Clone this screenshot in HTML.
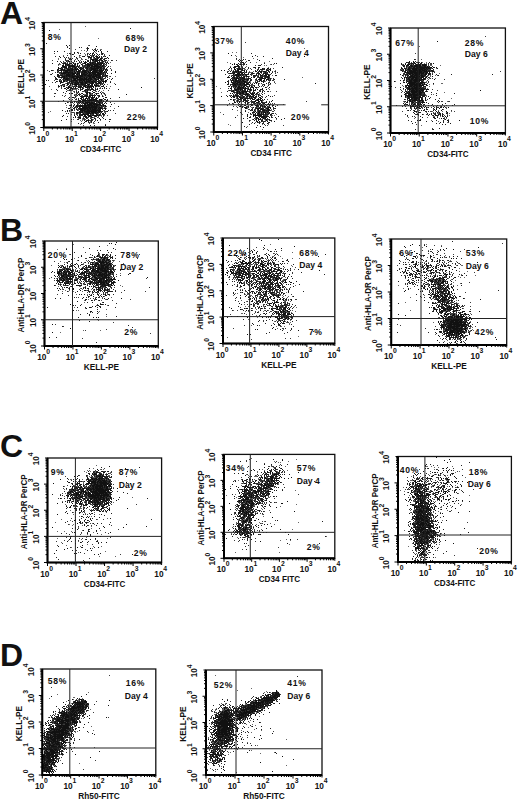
<!DOCTYPE html>
<html><head><meta charset="utf-8"><style>
html,body{margin:0;padding:0;background:#fff;width:520px;height:800px;overflow:hidden}
svg{display:block}
text{font-family:"Liberation Sans", sans-serif;fill:#111}
</style></head><body>
<svg width="520" height="800" viewBox="0 0 520 800">
<rect width="520" height="800" fill="#fff"/>
<g>
<g fill="none" stroke-width="1"><path d="M0 0.5m85 26h1m-27 3h1m38 9h1m-11 7h1m-3 3h1m8 0h1m4 1h1m0 0h1m-21 1h1m2 0h1m10 0h1m-10 1h1m9 0h1m-19 1h1m16 0h1m-29 1h1m16 0h1m3 0h1m14 0h1m-34 1h1m14 0h1m6 0h1m-30 1h1m3 0h1m12 0h1m4 0h1m1 0h1m2 0h1m0 0h1m2 0h1m-16 1h1m7 0h1m4 0h1m8 0h1m2 0h1m-26 1h1m0 0h1m9 0h1m3 0h1m2 0h1m0 0h1m3 0h1m-45 1h1m9 0h1m0 0h1m6 0h1m11 0h1m1 0h1m2 0h1m0 0h1m1 0h1m1 0h1m1 0h1m1 0h1m2 0h1m-48 1h1m18 0h1m3 0h1m0 0h1m3 0h1m4 0h1m1 0h1m1 0h1m0 0h1m0 0h1m1 0h1m-35 1h1m1 0h1m12 0h1m9 0h1m6 0h1m2 0h1m0 0h1m0 0h1m1 0h1m3 0h1m-42 1h1m19 0h1m4 0h1m0 0h1m2 0h1m2 0h1m1 0h1m2 0h1m2 0h1m-45 1h1m0 0h1m4 0h1m10 0h1m0 0h1m8 0h1m0 0h1m1 0h1m0 0h1m0 0h1m3 0h1m2 0h1m0 0h1m2 0h1m3 0h1m-48 1h1m1 0h1m0 0h1m7 0h1m5 0h1m1 0h1m6 0h1m0 0h1m0 0h1m0 0h1m0 0h1m1 0h1m0 0h1m0 0h1m0 0h1m0 0h1m2 0h1m-44 1h1m0 0h1m2 0h1m1 0h1m6 0h1m1 0h1m2 0h1m9 0h1m0 0h1m1 0h1m4 0h1m1 0h1m0 0h1m2 0h1m1 0h1m0 0h1m1 0h1m-49 1h1m6 0h1m5 0h1m2 0h1m0 0h1m6 0h1m0 0h1m0 0h1m1 0h1m2 0h1m2 0h1m0 0h1m0 0h1m0 0h1m0 0h1m1 0h1m0 0h1m0 0h1m0 0h1m0 0h1m0 0h1m-40 1h1m1 0h1m1 0h1m0 0h1m2 0h1m1 0h1m2 0h1m6 0h1m1 0h1m0 0h1m1 0h1m0 0h1m0 0h1m0 0h1m0 0h1m0 0h1m0 0h1m0 0h1m0 0h1m0 0h1m0 0h1m0 0h1m1 0h1m2 0h1m4 0h1m-48 1h1m1 0h1m2 0h1m0 0h1m0 0h1m2 0h1m1 0h1m0 0h1m2 0h1m2 0h1m1 0h1m0 0h1m1 0h1m4 0h1m1 0h1m0 0h1m1 0h1m1 0h1m0 0h1m1 0h1m0 0h1m-38 1h1m0 0h1m2 0h1m0 0h1m1 0h1m0 0h1m0 0h1m3 0h1m0 0h1m4 0h1m1 0h1m0 0h1m0 0h1m0 0h1m0 0h1m0 0h1m0 0h1m0 0h1m0 0h1m0 0h1m0 0h1m0 0h1m0 0h1m0 0h1m0 0h1m4 0h1m-47 1h1m1 0h1m0 0h1m0 0h1m0 0h1m0 0h1m0 0h1m0 0h1m1 0h1m0 0h1m0 0h1m0 0h1m1 0h1m1 0h1m2 0h1m0 0h1m0 0h1m0 0h1m0 0h1m4 0h1m0 0h1m3 0h1m0 0h1m1 0h1m0 0h1m0 0h1m0 0h1m0 0h1m0 0h1m1 0h1m1 0h1m0 0h1m3 0h1m-65 1h1m5 0h1m7 0h1m3 0h1m2 0h1m0 0h1m0 0h1m0 0h1m0 0h1m0 0h1m0 0h1m0 0h1m2 0h1m1 0h1m2 0h1m1 0h1m0 0h1m0 0h1m0 0h1m0 0h1m0 0h1m0 0h1m0 0h1m0 0h1m0 0h1m0 0h1m3 0h1m5 0h1m0 0h1m-44 1h1m0 0h1m0 0h1m0 0h1m0 0h1m0 0h1m1 0h1m1 0h1m2 0h1m2 0h1m0 0h1m5 0h1m0 0h1m0 0h1m0 0h1m0 0h1m2 0h1m0 0h1m1 0h1m0 0h1m0 0h1m0 0h1m1 0h1m0 0h1m3 0h1m-48 1h1m1 0h1m1 0h1m0 0h1m0 0h1m1 0h1m1 0h1m1 0h1m0 0h1m0 0h1m0 0h1m0 0h1m0 0h1m0 0h1m0 0h1m1 0h1m0 0h1m3 0h1m1 0h1m0 0h1m0 0h1m0 0h1m0 0h1m0 0h1m0 0h1m0 0h1m3 0h1m0 0h1m0 0h1m0 0h1m0 0h1m1 0h1m-52 1h1m7 0h1m0 0h1m0 0h1m0 0h1m0 0h1m0 0h1m1 0h1m0 0h1m1 0h1m0 0h1m0 0h1m0 0h1m1 0h1m0 0h1m0 0h1m0 0h1m2 0h1m1 0h1m1 0h1m1 0h1m0 0h1m0 0h1m1 0h1m0 0h1m0 0h1m0 0h1m0 0h1m0 0h1m0 0h1m1 0h1m1 0h1m0 0h1m1 0h1m-45 1h1m4 0h1m0 0h1m0 0h1m0 0h1m0 0h1m0 0h1m0 0h1m0 0h1m0 0h1m0 0h1m2 0h1m0 0h1m0 0h1m1 0h1m0 0h1m0 0h1m1 0h1m0 0h1m0 0h1m0 0h1m0 0h1m0 0h1m1 0h1m0 0h1m0 0h1m1 0h1m0 0h1m0 0h1m0 0h1m1 0h1m0 0h1m1 0h1m-42 1h1m0 0h1m0 0h1m2 0h1m0 0h1m0 0h1m0 0h1m1 0h1m0 0h1m1 0h1m0 0h1m0 0h1m1 0h1m0 0h1m0 0h1m0 0h1m0 0h1m1 0h1m0 0h1m0 0h1m0 0h1m0 0h1m0 0h1m0 0h1m0 0h1m0 0h1m0 0h1m0 0h1m1 0h1m0 0h1m0 0h1m4 0h1m-48 1h1m2 0h1m0 0h1m0 0h1m0 0h1m0 0h1m0 0h1m1 0h1m0 0h1m0 0h1m1 0h1m0 0h1m0 0h1m1 0h1m0 0h1m0 0h1m0 0h1m0 0h1m0 0h1m0 0h1m0 0h1m0 0h1m0 0h1m0 0h1m0 0h1m2 0h1m2 0h1m0 0h1m0 0h1m0 0h1m0 0h1m1 0h1m1 0h1m5 0h1m1 0h1m5 0h1m-57 1h1m0 0h1m2 0h1m0 0h1m0 0h1m0 0h1m0 0h1m0 0h1m1 0h1m1 0h1m0 0h1m0 0h1m0 0h1m0 0h1m0 0h1m0 0h1m0 0h1m1 0h1m0 0h1m0 0h1m0 0h1m0 0h1m1 0h1m0 0h1m0 0h1m0 0h1m1 0h1m1 0h1m0 0h1m1 0h1m2 0h1m0 0h1m-41 1h1m2 0h1m0 0h1m0 0h1m0 0h1m1 0h1m3 0h1m0 0h1m0 0h1m0 0h1m0 0h1m0 0h1m0 0h1m1 0h1m0 0h1m0 0h1m0 0h1m0 0h1m3 0h1m1 0h1m0 0h1m0 0h1m0 0h1m1 0h1m1 0h1m3 0h1m0 0h1m1 0h1m3 0h1m-51 1h1m2 0h1m3 0h1m0 0h1m0 0h1m1 0h1m1 0h1m2 0h1m0 0h1m0 0h1m0 0h1m0 0h1m1 0h1m0 0h1m0 0h1m0 0h1m0 0h1m1 0h1m0 0h1m1 0h1m0 0h1m0 0h1m1 0h1m0 0h1m0 0h1m3 0h1m0 0h1m1 0h1m-44 1h1m2 0h1m2 0h1m0 0h1m0 0h1m1 0h1m2 0h1m0 0h1m2 0h1m1 0h1m0 0h1m0 0h1m0 0h1m2 0h1m0 0h1m0 0h1m0 0h1m0 0h1m1 0h1m2 0h1m1 0h1m3 0h1m0 0h1m-39 1h1m1 0h1m1 0h1m1 0h1m0 0h1m0 0h1m4 0h1m0 0h1m0 0h1m3 0h1m0 0h1m8 0h1m0 0h1m2 0h1m0 0h1m0 0h1m0 0h1m1 0h1m-42 1h1m1 0h1m0 0h1m3 0h1m12 0h1m0 0h1m0 0h1m0 0h1m0 0h1m0 0h1m0 0h1m0 0h1m2 0h1m0 0h1m4 0h1m1 0h1m4 0h1m1 0h1m-41 1h1m2 0h1m0 0h1m1 0h1m1 0h1m1 0h1m3 0h1m4 0h1m0 0h1m2 0h1m1 0h1m0 0h1m0 0h1m3 0h1m0 0h1m0 0h1m1 0h1m13 0h1m-51 1h1m2 0h1m4 0h1m1 0h1m0 0h1m1 0h1m0 0h1m0 0h1m0 0h1m0 0h1m0 0h1m0 0h1m1 0h1m1 0h1m0 0h1m3 0h1m1 0h1m0 0h1m1 0h1m0 0h1m2 0h1m5 0h1m-48 1h1m1 0h1m0 0h1m2 0h1m5 0h1m1 0h1m0 0h1m3 0h1m2 0h1m1 0h1m0 0h1m1 0h1m6 0h1m1 0h1m2 0h1m0 0h1m-52 1h1m19 0h1m4 0h1m1 0h1m0 0h1m5 0h1m2 0h1m0 0h1m1 0h1m1 0h1m0 0h1m3 0h1m0 0h1m12 0h1m-53 1h1m8 0h1m3 0h1m7 0h1m3 0h1m1 0h1m0 0h1m8 0h1m4 0h1m-37 1h1m5 0h1m9 0h1m2 0h1m4 0h1m8 0h1m1 0h1m0 0h1m1 0h1m6 0h1m-59 1h1m17 0h1m3 0h1m0 0h1m0 0h1m0 0h1m4 0h1m3 0h1m2 0h1m1 0h1m0 0h1m0 0h1m0 0h1m2 0h1m-30 1h1m0 0h1m2 0h1m0 0h1m12 0h1m0 0h1m1 0h1m0 0h1m13 0h1m-31 1h1m9 0h1m0 0h1m1 0h1m0 0h1m7 0h1m5 0h1m-28 1h1m2 0h1m7 0h1m0 0h1m2 0h1m0 0h1m2 0h1m9 0h1m-28 1h1m0 0h1m13 0h1m3 0h1m0 0h1m6 0h1m-30 1h1m0 0h1m0 0h1m7 0h1m0 0h1m3 0h1m0 0h1m0 0h1m0 0h1m8 0h1m2 0h1m0 0h1m-31 1h1m0 0h1m2 0h1m1 0h1m7 0h1m1 0h1m-16 1h1m6 0h1m1 0h1m2 0h1m14 0h1m-30 1h1m6 0h1m7 0h1m0 0h1m2 0h1m0 0h1m1 0h1m1 0h1m-25 1h1m1 0h1m3 0h1m5 0h1m2 0h1m2 0h1m3 0h1m-19 1h1m2 0h1m1 0h1m0 0h1m3 0h1m1 0h1m1 0h1m1 0h1m0 0h1m3 0h1m2 0h1m-32 1h1m6 0h1m4 0h1m0 0h1m3 0h1m6 0h1m1 0h1m0 0h1m2 0h1m0 0h1m0 0h1m-46 1h1m16 0h1m0 0h1m0 0h1m0 0h1m2 0h1m0 0h1m0 0h1m2 0h1m0 0h1m0 0h1m0 0h1m0 0h1m1 0h1m0 0h1m1 0h1m1 0h1m0 0h1m0 0h1m-32 1h1m8 0h1m1 0h1m0 0h1m0 0h1m1 0h1m0 0h1m2 0h1m0 0h1m0 0h1m0 0h1m1 0h1m0 0h1m0 0h1m2 0h1m4 0h1m-30 1h1m4 0h1m3 0h1m1 0h1m0 0h1m0 0h1m0 0h1m0 0h1m1 0h1m0 0h1m0 0h1m0 0h1m0 0h1m0 0h1m1 0h1m0 0h1m15 0h1m-44 1h1m6 0h1m1 0h1m1 0h1m2 0h1m0 0h1m1 0h1m0 0h1m0 0h1m0 0h1m0 0h1m0 0h1m1 0h1m1 0h1m0 0h1m-33 1h1m7 0h1m3 0h1m2 0h1m0 0h1m1 0h1m0 0h1m0 0h1m0 0h1m1 0h1m0 0h1m0 0h1m0 0h1m0 0h1m0 0h1m0 0h1m0 0h1m0 0h1m0 0h1m-28 1h1m5 0h1m1 0h1m0 0h1m3 0h1m1 0h1m0 0h1m0 0h1m0 0h1m0 0h1m1 0h1m0 0h1m1 0h1m0 0h1m0 0h1m0 0h1m0 0h1m0 0h1m1 0h1m0 0h1m0 0h1m-39 1h1m5 0h1m3 0h1m3 0h1m1 0h1m1 0h1m0 0h1m0 0h1m0 0h1m0 0h1m1 0h1m0 0h1m0 0h1m0 0h1m0 0h1m2 0h1m2 0h1m0 0h1m0 0h1m2 0h1m-27 1h1m1 0h1m2 0h1m2 0h1m0 0h1m0 0h1m0 0h1m0 0h1m0 0h1m0 0h1m0 0h1m0 0h1m1 0h1m1 0h1m0 0h1m1 0h1m0 0h1m2 0h1m7 0h1m-43 1h1m1 0h1m2 0h1m0 0h1m0 0h1m0 0h1m0 0h1m1 0h1m0 0h1m0 0h1m0 0h1m1 0h1m0 0h1m0 0h1m0 0h1m0 0h1m1 0h1m0 0h1m0 0h1m0 0h1m0 0h1m0 0h1m-26 1h1m3 0h1m1 0h1m0 0h1m1 0h1m0 0h1m0 0h1m0 0h1m0 0h1m0 0h1m0 0h1m0 0h1m0 0h1m0 0h1m0 0h1m1 0h1m0 0h1m0 0h1m0 0h1m1 0h1m2 0h1m-54 1h1m18 0h1m13 0h1m1 0h1m1 0h1m0 0h1m1 0h1m0 0h1m0 0h1m0 0h1m0 0h1m0 0h1m0 0h1m3 0h1m-53 1h1m22 0h1m2 0h1m2 0h1m0 0h1m3 0h1m0 0h1m0 0h1m0 0h1m0 0h1m0 0h1m0 0h1m1 0h1m0 0h1m0 0h1m0 0h1m0 0h1m1 0h1m2 0h1m0 0h1m3 0h1m0 0h1m-30 1h1m0 0h1m0 0h1m3 0h1m3 0h1m0 0h1m0 0h1m2 0h1m1 0h1m0 0h1m0 0h1m0 0h1m1 0h1m1 0h1m-30 1h1m4 0h1m0 0h1m1 0h1m3 0h1m0 0h1m1 0h1m3 0h1m0 0h1m0 0h1m0 0h1m4 0h1m-18 1h1m0 0h1m2 0h1m2 0h1m0 0h1m0 0h1m0 0h1m0 0h1m0 0h1m1 0h1m0 0h1m0 0h1m2 0h1m0 0h1m2 0h1m-27 1h1m6 0h1m4 0h1m0 0h1m3 0h1m5 0h1m-25 1h1m10 0h1m1 0h1m0 0h1m1 0h1m0 0h1m3 0h1m-21 1h1m3 0h1m3 0h1m3 0h1m0 0h1m-19 1h1m8 0h1m0 0h1m1 0h1m5 0h1m1 0h1m-14 1h1m1 0h1m12 0h1m4 0h1m-30 1h1m9 0h1m8 0h1m-2 1h1m0 0h1m-10 1h1m11 0h1m0 0h1m-15 1h1" stroke="#666"/><path d="M0 0.5m89 45h1m-23 1h1m13 1h1m13 1h1m-21 1h1m16 0h1m1 0h1m2 0h1m-21 3h1m15 0h1m-40 1h1m15 0h1m7 0h1m8 0h1m4 0h1m8 0h1m-29 1h1m27 0h1m0 0h1m1 0h1m-26 1h1m10 0h1m1 0h1m0 0h1m2 0h1m1 0h1m5 0h1m-42 1h1m18 0h1m4 0h1m5 0h1m1 0h1m0 0h1m0 0h1m-32 1h1m1 0h1m21 0h1m2 0h1m2 0h1m1 0h1m2 0h1m-37 1h1m4 0h1m1 0h1m8 0h1m9 0h1m2 0h1m1 0h1m0 0h1m0 0h1m3 0h1m1 0h1m-35 1h1m4 0h1m14 0h1m2 0h1m1 0h1m5 0h1m1 0h1m-52 1h1m12 0h1m0 0h1m0 0h1m6 0h1m13 0h1m1 0h1m2 0h1m0 0h1m1 0h1m0 0h1m4 0h1m1 0h1m7 0h1m3 0h1m-57 1h1m2 0h1m10 0h1m4 0h1m8 0h1m4 0h1m0 0h1m0 0h1m0 0h1m5 0h1m2 0h1m-42 1h1m0 0h1m1 0h1m4 0h1m0 0h1m17 0h1m0 0h1m2 0h1m1 0h1m3 0h1m0 0h1m2 0h1m-47 1h1m2 0h1m0 0h1m5 0h1m8 0h1m12 0h1m0 0h1m1 0h1m0 0h1m0 0h1m1 0h1m0 0h1m1 0h1m1 0h1m-46 1h1m4 0h1m4 0h1m3 0h1m2 0h1m6 0h1m4 0h1m1 0h1m1 0h1m0 0h1m1 0h1m0 0h1m0 0h1m0 0h1m0 0h1m0 0h1m0 0h1m2 0h1m1 0h1m-40 1h1m0 0h1m1 0h1m0 0h1m0 0h1m1 0h1m1 0h1m6 0h1m3 0h1m2 0h1m0 0h1m1 0h1m2 0h1m1 0h1m1 0h1m0 0h1m0 0h1m0 0h1m1 0h1m-42 1h1m4 0h1m1 0h1m1 0h1m1 0h1m0 0h1m1 0h1m1 0h1m2 0h1m0 0h1m1 0h1m0 0h1m2 0h1m1 0h1m1 0h1m0 0h1m1 0h1m1 0h1m0 0h1m0 0h1m0 0h1m2 0h1m-43 1h1m0 0h1m1 0h1m0 0h1m1 0h1m1 0h1m1 0h1m0 0h1m2 0h1m6 0h1m1 0h1m1 0h1m0 0h1m0 0h1m1 0h1m0 0h1m0 0h1m0 0h1m0 0h1m0 0h1m1 0h1m0 0h1m0 0h1m0 0h1m1 0h1m-45 1h1m1 0h1m0 0h1m1 0h1m0 0h1m0 0h1m0 0h1m1 0h1m0 0h1m3 0h1m1 0h1m0 0h1m1 0h1m0 0h1m4 0h1m0 0h1m1 0h1m0 0h1m1 0h1m0 0h1m0 0h1m0 0h1m0 0h1m0 0h1m1 0h1m0 0h1m0 0h1m1 0h1m0 0h1m6 0h1m-50 1h1m0 0h1m0 0h1m3 0h1m0 0h1m0 0h1m0 0h1m0 0h1m0 0h1m1 0h1m3 0h1m1 0h1m7 0h1m0 0h1m0 0h1m0 0h1m1 0h1m0 0h1m0 0h1m0 0h1m0 0h1m1 0h1m0 0h1m0 0h1m-44 1h1m0 0h1m1 0h1m0 0h1m1 0h1m0 0h1m0 0h1m2 0h1m0 0h1m0 0h1m0 0h1m0 0h1m1 0h1m2 0h1m4 0h1m0 0h1m0 0h1m0 0h1m0 0h1m0 0h1m4 0h1m1 0h1m0 0h1m0 0h1m0 0h1m0 0h1m0 0h1m0 0h1m0 0h1m-54 1h1m7 0h1m3 0h1m1 0h1m0 0h1m0 0h1m0 0h1m0 0h1m0 0h1m0 0h1m0 0h1m0 0h1m0 0h1m0 0h1m0 0h1m2 0h1m1 0h1m0 0h1m0 0h1m0 0h1m0 0h1m0 0h1m0 0h1m1 0h1m0 0h1m0 0h1m0 0h1m3 0h1m0 0h1m0 0h1m0 0h1m0 0h1m0 0h1m0 0h1m-46 1h1m1 0h1m1 0h1m0 0h1m0 0h1m1 0h1m0 0h1m1 0h1m0 0h1m0 0h1m0 0h1m0 0h1m0 0h1m0 0h1m0 0h1m0 0h1m3 0h1m0 0h1m1 0h1m0 0h1m3 0h1m0 0h1m0 0h1m0 0h1m2 0h1m0 0h1m5 0h1m0 0h1m0 0h1m0 0h1m0 0h1m1 0h1m-54 1h1m6 0h1m0 0h1m2 0h1m0 0h1m0 0h1m0 0h1m0 0h1m0 0h1m0 0h1m0 0h1m0 0h1m1 0h1m0 0h1m0 0h1m0 0h1m0 0h1m0 0h1m0 0h1m1 0h1m2 0h1m0 0h1m0 0h1m0 0h1m0 0h1m0 0h1m0 0h1m0 0h1m0 0h1m1 0h1m2 0h1m0 0h1m2 0h1m0 0h1m0 0h1m-54 1h1m9 0h1m0 0h1m1 0h1m0 0h1m0 0h1m0 0h1m0 0h1m0 0h1m1 0h1m0 0h1m0 0h1m0 0h1m0 0h1m1 0h1m0 0h1m0 0h1m0 0h1m2 0h1m2 0h1m0 0h1m0 0h1m0 0h1m0 0h1m0 0h1m0 0h1m0 0h1m0 0h1m0 0h1m0 0h1m1 0h1m0 0h1m0 0h1m0 0h1m1 0h1m-44 1h1m1 0h1m0 0h1m0 0h1m0 0h1m0 0h1m0 0h1m1 0h1m0 0h1m0 0h1m0 0h1m0 0h1m0 0h1m0 0h1m0 0h1m0 0h1m0 0h1m3 0h1m0 0h1m0 0h1m0 0h1m0 0h1m0 0h1m1 0h1m1 0h1m0 0h1m3 0h1m0 0h1m0 0h1m0 0h1m0 0h1m0 0h1m1 0h1m0 0h1m0 0h1m-51 1h1m3 0h1m5 0h1m1 0h1m0 0h1m1 0h1m0 0h1m0 0h1m0 0h1m1 0h1m0 0h1m0 0h1m1 0h1m0 0h1m0 0h1m0 0h1m0 0h1m0 0h1m0 0h1m0 0h1m0 0h1m0 0h1m0 0h1m0 0h1m1 0h1m0 0h1m0 0h1m0 0h1m3 0h1m0 0h1m0 0h1m1 0h1m1 0h1m0 0h1m4 0h1m-53 1h1m2 0h1m0 0h1m1 0h1m0 0h1m1 0h1m3 0h1m0 0h1m0 0h1m1 0h1m0 0h1m0 0h1m0 0h1m2 0h1m0 0h1m0 0h1m0 0h1m0 0h1m2 0h1m0 0h1m1 0h1m1 0h1m0 0h1m1 0h1m3 0h1m0 0h1m0 0h1m2 0h1m-51 1h1m0 0h1m6 0h1m0 0h1m1 0h1m1 0h1m0 0h1m0 0h1m0 0h1m0 0h1m0 0h1m0 0h1m0 0h1m1 0h1m1 0h1m0 0h1m0 0h1m0 0h1m0 0h1m0 0h1m0 0h1m0 0h1m0 0h1m0 0h1m0 0h1m0 0h1m0 0h1m0 0h1m0 0h1m0 0h1m0 0h1m0 0h1m0 0h1m0 0h1m0 0h1m1 0h1m0 0h1m1 0h1m49 0h1m-99 1h1m6 0h1m0 0h1m3 0h1m0 0h1m0 0h1m0 0h1m2 0h1m3 0h1m0 0h1m0 0h1m1 0h1m0 0h1m0 0h1m1 0h1m0 0h1m1 0h1m0 0h1m1 0h1m0 0h1m0 0h1m-47 1h1m5 0h1m6 0h1m3 0h1m0 0h1m1 0h1m0 0h1m1 0h1m2 0h1m0 0h1m2 0h1m0 0h1m0 0h1m1 0h1m0 0h1m0 0h1m0 0h1m0 0h1m0 0h1m0 0h1m0 0h1m0 0h1m0 0h1m0 0h1m1 0h1m1 0h1m1 0h1m3 0h1m0 0h1m-47 1h1m1 0h1m1 0h1m1 0h1m2 0h1m2 0h1m0 0h1m0 0h1m0 0h1m0 0h1m0 0h1m0 0h1m0 0h1m0 0h1m2 0h1m1 0h1m0 0h1m0 0h1m1 0h1m1 0h1m3 0h1m3 0h1m0 0h1m1 0h1m2 0h1m3 0h1m3 0h1m-59 1h1m14 0h1m0 0h1m2 0h1m1 0h1m1 0h1m2 0h1m4 0h1m1 0h1m0 0h1m1 0h1m1 0h1m0 0h1m2 0h1m3 0h1m1 0h1m-35 1h1m1 0h1m3 0h1m4 0h1m0 0h1m1 0h1m2 0h1m0 0h1m1 0h1m0 0h1m1 0h1m0 0h1m0 0h1m0 0h1m0 0h1m1 0h1m1 0h1m2 0h1m0 0h1m0 0h1m0 0h1m-34 1h1m2 0h1m0 0h1m0 0h1m0 0h1m0 0h1m0 0h1m1 0h1m0 0h1m1 0h1m3 0h1m6 0h1m5 0h1m1 0h1m-39 1h1m2 0h1m1 0h1m6 0h1m2 0h1m1 0h1m0 0h1m0 0h1m0 0h1m2 0h1m0 0h1m0 0h1m1 0h1m3 0h1m0 0h1m-38 1h1m1 0h1m10 0h1m0 0h1m1 0h1m5 0h1m3 0h1m1 0h1m0 0h1m0 0h1m1 0h1m4 0h1m1 0h1m2 0h1m4 0h1m-46 1h1m4 0h1m2 0h1m5 0h1m3 0h1m0 0h1m0 0h1m8 0h1m0 0h1m1 0h1m-33 1h1m8 0h1m0 0h1m1 0h1m0 0h1m1 0h1m0 0h1m4 0h1m8 0h1m8 0h1m3 0h1m1 0h1m-29 1h1m2 0h1m4 0h1m2 0h1m0 0h1m-21 1h1m5 0h1m3 0h1m5 0h1m6 0h1m5 0h1m8 0h1m-35 1h1m7 0h1m0 0h1m2 0h1m9 0h1m1 0h1m-25 1h1m10 0h1m2 0h1m13 0h1m-49 1h1m10 0h1m11 0h1m1 0h1m6 0h1m0 0h1m9 0h1m-22 1h1m9 0h1m0 0h1m6 0h1m1 0h1m-35 1h1m2 0h1m11 0h1m4 0h1m1 0h1m6 0h1m2 0h1m0 0h1m1 0h1m4 0h1m-39 1h1m18 0h1m1 0h1m1 0h1m4 0h1m1 0h1m3 0h1m-24 1h1m6 0h1m0 0h1m7 0h1m0 0h1m5 0h1m-31 1h1m14 0h1m4 0h1m0 0h1m3 0h1m1 0h1m-24 1h1m2 0h1m6 0h1m1 0h1m0 0h1m3 0h1m0 0h1m0 0h1m3 0h1m-12 1h1m0 0h1m3 0h1m0 0h1m1 0h1m0 0h1m1 0h1m0 0h1m0 0h1m1 0h1m0 0h1m-21 1h1m3 0h1m0 0h1m1 0h1m0 0h1m0 0h1m4 0h1m0 0h1m0 0h1m2 0h1m0 0h1m0 0h1m-31 1h1m2 0h1m1 0h1m2 0h1m2 0h1m0 0h1m2 0h1m0 0h1m3 0h1m0 0h1m0 0h1m3 0h1m1 0h1m1 0h1m0 0h1m-22 1h1m1 0h1m1 0h1m0 0h1m0 0h1m1 0h1m3 0h1m0 0h1m1 0h1m0 0h1m2 0h1m0 0h1m0 0h1m-18 1h1m1 0h1m0 0h1m0 0h1m0 0h1m0 0h1m0 0h1m2 0h1m1 0h1m0 0h1m-30 1h1m3 0h1m4 0h1m1 0h1m0 0h1m0 0h1m0 0h1m0 0h1m0 0h1m0 0h1m0 0h1m0 0h1m0 0h1m0 0h1m0 0h1m0 0h1m0 0h1m1 0h1m1 0h1m0 0h1m0 0h1m0 0h1m1 0h1m-28 1h1m6 0h1m1 0h1m0 0h1m2 0h1m1 0h1m1 0h1m0 0h1m1 0h1m0 0h1m0 0h1m0 0h1m0 0h1m1 0h1m0 0h1m3 0h1m3 0h1m-32 1h1m5 0h1m0 0h1m0 0h1m1 0h1m0 0h1m0 0h1m0 0h1m0 0h1m0 0h1m0 0h1m0 0h1m1 0h1m0 0h1m0 0h1m0 0h1m0 0h1m1 0h1m-32 1h1m2 0h1m1 0h1m2 0h1m0 0h1m0 0h1m0 0h1m0 0h1m0 0h1m0 0h1m0 0h1m1 0h1m0 0h1m0 0h1m0 0h1m0 0h1m0 0h1m0 0h1m0 0h1m2 0h1m1 0h1m-29 1h1m2 0h1m2 0h1m2 0h1m0 0h1m1 0h1m0 0h1m0 0h1m1 0h1m0 0h1m0 0h1m1 0h1m0 0h1m0 0h1m3 0h1m-27 1h1m7 0h1m0 0h1m0 0h1m0 0h1m1 0h1m0 0h1m0 0h1m0 0h1m0 0h1m0 0h1m0 0h1m0 0h1m0 0h1m0 0h1m0 0h1m2 0h1m3 0h1m5 0h1m-46 1h1m13 0h1m3 0h1m1 0h1m0 0h1m0 0h1m0 0h1m0 0h1m0 0h1m0 0h1m0 0h1m0 0h1m2 0h1m0 0h1m0 0h1m1 0h1m3 0h1m0 0h1m0 0h1m-35 1h1m0 0h1m4 0h1m2 0h1m1 0h1m1 0h1m0 0h1m3 0h1m0 0h1m0 0h1m0 0h1m0 0h1m0 0h1m0 0h1m0 0h1m0 0h1m0 0h1m-26 1h1m4 0h1m4 0h1m0 0h1m2 0h1m0 0h1m0 0h1m2 0h1m1 0h1m1 0h1m0 0h1m1 0h1m1 0h1m12 0h1m-42 1h1m1 0h1m2 0h1m3 0h1m1 0h1m0 0h1m0 0h1m0 0h1m1 0h1m0 0h1m0 0h1m4 0h1m2 0h1m1 0h1m0 0h1m-23 1h1m0 0h1m4 0h1m0 0h1m2 0h1m1 0h1m0 0h1m1 0h1m3 0h1m2 0h1m3 0h1m-41 1h1m11 0h1m0 0h1m2 0h1m0 0h1m0 0h1m0 0h1m2 0h1m0 0h1m3 0h1m3 0h1m4 0h1m-21 1h1m1 0h1m1 0h1m0 0h1m3 0h1m4 0h1m-19 1h1m4 0h1m2 0h1m2 0h1m3 0h1m0 0h1m-12 1h1m0 0h1m2 0h1m3 0h1m2 0h1m-7 1h1m0 0h1m1 0h1m2 0h1m-8 2h1m0 0h1m3 0h1m-11 1h1m5 0h1m15 1h1m-23 1h1" stroke="#3c3c3c"/><path d="M0 0.5m130 28h1m-85 15h1m22 2h1m-3 2h1m19 0h1m-1 1h1m7 1h1m-9 1h1m7 0h1m-32 1h1m36 0h1m5 0h1m-39 2h1m4 0h1m15 0h1m1 0h1m0 0h1m2 0h1m2 1h1m2 0h1m-36 1h1m22 0h1m18 0h1m-55 1h1m26 0h1m0 0h1m4 0h1m2 0h1m1 0h1m3 0h1m1 0h1m1 0h1m1 0h1m-40 1h1m1 0h1m21 0h1m0 0h1m6 0h1m0 0h1m0 0h1m2 0h1m-25 1h1m12 0h1m4 0h1m9 0h1m0 0h1m-38 1h1m15 0h1m6 0h1m1 0h1m4 0h1m0 0h1m-33 1h1m18 0h1m0 0h1m1 0h1m2 0h1m3 0h1m1 0h1m1 0h1m0 0h1m2 0h1m0 0h1m4 0h1m-46 1h1m1 0h1m0 0h1m1 0h1m2 0h1m1 0h1m4 0h1m1 0h1m3 0h1m0 0h1m1 0h1m3 0h1m1 0h1m0 0h1m4 0h1m0 0h1m-23 1h1m7 0h1m0 0h1m3 0h1m0 0h1m2 0h1m0 0h1m0 0h1m0 0h1m0 0h1m-39 1h1m0 0h1m1 0h1m1 0h1m0 0h1m0 0h1m1 0h1m3 0h1m5 0h1m4 0h1m1 0h1m0 0h1m1 0h1m0 0h1m2 0h1m0 0h1m0 0h1m0 0h1m1 0h1m1 0h1m-39 1h1m0 0h1m0 0h1m0 0h1m4 0h1m2 0h1m7 0h1m0 0h1m1 0h1m0 0h1m1 0h1m0 0h1m2 0h1m0 0h1m1 0h1m0 0h1m0 0h1m2 0h1m-39 1h1m1 0h1m0 0h1m0 0h1m0 0h1m0 0h1m1 0h1m0 0h1m4 0h1m4 0h1m0 0h1m1 0h1m2 0h1m0 0h1m2 0h1m0 0h1m0 0h1m0 0h1m0 0h1m3 0h1m0 0h1m2 0h1m-45 1h1m1 0h1m0 0h1m0 0h1m1 0h1m1 0h1m0 0h1m2 0h1m1 0h1m0 0h1m0 0h1m5 0h1m2 0h1m0 0h1m0 0h1m1 0h1m0 0h1m2 0h1m1 0h1m0 0h1m1 0h1m0 0h1m0 0h1m0 0h1m1 0h1m-43 1h1m5 0h1m2 0h1m1 0h1m0 0h1m0 0h1m4 0h1m3 0h1m1 0h1m0 0h1m1 0h1m1 0h1m0 0h1m0 0h1m0 0h1m0 0h1m1 0h1m1 0h1m0 0h1m1 0h1m0 0h1m2 0h1m-46 1h1m3 0h1m1 0h1m1 0h1m0 0h1m2 0h1m2 0h1m1 0h1m1 0h1m0 0h1m0 0h1m2 0h1m2 0h1m0 0h1m0 0h1m0 0h1m0 0h1m0 0h1m0 0h1m0 0h1m0 0h1m0 0h1m1 0h1m0 0h1m1 0h1m2 0h1m-50 1h1m0 0h1m2 0h1m0 0h1m4 0h1m0 0h1m0 0h1m0 0h1m0 0h1m1 0h1m0 0h1m0 0h1m1 0h1m0 0h1m1 0h1m2 0h1m2 0h1m0 0h1m1 0h1m0 0h1m0 0h1m0 0h1m0 0h1m0 0h1m0 0h1m0 0h1m0 0h1m1 0h1m0 0h1m-49 1h1m7 0h1m0 0h1m1 0h1m1 0h1m1 0h1m0 0h1m0 0h1m0 0h1m3 0h1m1 0h1m2 0h1m2 0h1m0 0h1m0 0h1m1 0h1m0 0h1m1 0h1m0 0h1m0 0h1m1 0h1m0 0h1m0 0h1m0 0h1m0 0h1m0 0h1m0 0h1m0 0h1m0 0h1m0 0h1m0 0h1m3 0h1m3 0h1m-54 1h1m6 0h1m0 0h1m0 0h1m1 0h1m0 0h1m0 0h1m0 0h1m3 0h1m0 0h1m6 0h1m0 0h1m0 0h1m0 0h1m2 0h1m1 0h1m0 0h1m0 0h1m1 0h1m0 0h1m4 0h1m1 0h1m10 0h1m-59 1h1m2 0h1m0 0h1m1 0h1m1 0h1m0 0h1m0 0h1m0 0h1m0 0h1m0 0h1m0 0h1m0 0h1m1 0h1m3 0h1m0 0h1m1 0h1m1 0h1m0 0h1m0 0h1m0 0h1m2 0h1m0 0h1m1 0h1m1 0h1m0 0h1m0 0h1m0 0h1m1 0h1m0 0h1m0 0h1m2 0h1m1 0h1m-46 1h1m0 0h1m0 0h1m0 0h1m0 0h1m0 0h1m0 0h1m0 0h1m0 0h1m0 0h1m1 0h1m0 0h1m0 0h1m0 0h1m1 0h1m1 0h1m1 0h1m0 0h1m0 0h1m0 0h1m0 0h1m0 0h1m2 0h1m0 0h1m1 0h1m0 0h1m0 0h1m3 0h1m1 0h1m0 0h1m0 0h1m0 0h1m1 0h1m-55 1h1m6 0h1m3 0h1m1 0h1m1 0h1m0 0h1m2 0h1m0 0h1m0 0h1m0 0h1m0 0h1m1 0h1m0 0h1m0 0h1m0 0h1m1 0h1m0 0h1m0 0h1m0 0h1m0 0h1m0 0h1m1 0h1m1 0h1m1 0h1m0 0h1m0 0h1m0 0h1m1 0h1m0 0h1m2 0h1m-45 1h1m2 0h1m1 0h1m1 0h1m0 0h1m1 0h1m0 0h1m1 0h1m0 0h1m0 0h1m0 0h1m0 0h1m0 0h1m1 0h1m0 0h1m1 0h1m0 0h1m0 0h1m0 0h1m1 0h1m0 0h1m0 0h1m0 0h1m1 0h1m0 0h1m0 0h1m0 0h1m0 0h1m0 0h1m0 0h1m0 0h1m0 0h1m0 0h1m0 0h1m4 0h1m-49 1h1m0 0h1m0 0h1m2 0h1m0 0h1m1 0h1m0 0h1m0 0h1m1 0h1m1 0h1m0 0h1m0 0h1m1 0h1m0 0h1m2 0h1m0 0h1m0 0h1m0 0h1m0 0h1m0 0h1m0 0h1m0 0h1m0 0h1m0 0h1m0 0h1m0 0h1m0 0h1m0 0h1m0 0h1m0 0h1m0 0h1m0 0h1m0 0h1m0 0h1m0 0h1m2 0h1m0 0h1m2 0h1m-48 1h1m0 0h1m0 0h1m0 0h1m0 0h1m1 0h1m0 0h1m0 0h1m1 0h1m0 0h1m1 0h1m0 0h1m0 0h1m1 0h1m0 0h1m0 0h1m0 0h1m0 0h1m0 0h1m0 0h1m0 0h1m0 0h1m1 0h1m0 0h1m1 0h1m0 0h1m0 0h1m0 0h1m1 0h1m1 0h1m0 0h1m1 0h1m0 0h1m4 0h1m1 0h1m-44 1h1m0 0h1m1 0h1m0 0h1m0 0h1m1 0h1m1 0h1m0 0h1m1 0h1m0 0h1m3 0h1m0 0h1m0 0h1m0 0h1m0 0h1m0 0h1m1 0h1m0 0h1m0 0h1m2 0h1m0 0h1m0 0h1m2 0h1m0 0h1m1 0h1m2 0h1m7 0h1m-58 1h1m1 0h1m2 0h1m2 0h1m2 0h1m1 0h1m0 0h1m1 0h1m1 0h1m1 0h1m4 0h1m1 0h1m0 0h1m0 0h1m1 0h1m0 0h1m0 0h1m0 0h1m0 0h1m0 0h1m0 0h1m1 0h1m2 0h1m2 0h1m1 0h1m0 0h1m7 0h1m-66 1h1m12 0h1m3 0h1m0 0h1m4 0h1m2 0h1m0 0h1m0 0h1m0 0h1m0 0h1m0 0h1m2 0h1m0 0h1m0 0h1m1 0h1m1 0h1m0 0h1m0 0h1m0 0h1m0 0h1m4 0h1m0 0h1m1 0h1m0 0h1m-40 1h1m3 0h1m1 0h1m2 0h1m0 0h1m0 0h1m0 0h1m0 0h1m1 0h1m0 0h1m0 0h1m2 0h1m0 0h1m0 0h1m1 0h1m0 0h1m1 0h1m1 0h1m0 0h1m0 0h1m1 0h1m1 0h1m2 0h1m1 0h1m3 0h1m-50 1h1m4 0h1m0 0h1m0 0h1m8 0h1m0 0h1m0 0h1m0 0h1m0 0h1m0 0h1m0 0h1m0 0h1m0 0h1m0 0h1m2 0h1m0 0h1m0 0h1m1 0h1m0 0h1m1 0h1m0 0h1m0 0h1m3 0h1m1 0h1m1 0h1m0 0h1m-35 1h1m2 0h1m0 0h1m2 0h1m2 0h1m0 0h1m1 0h1m0 0h1m0 0h1m0 0h1m0 0h1m5 0h1m0 0h1m0 0h1m0 0h1m2 0h1m0 0h1m0 0h1m1 0h1m-39 1h1m0 0h1m0 0h1m2 0h1m0 0h1m1 0h1m3 0h1m3 0h1m0 0h1m0 0h1m2 0h1m0 0h1m0 0h1m1 0h1m0 0h1m0 0h1m1 0h1m2 0h1m7 0h1m-45 1h1m11 0h1m4 0h1m2 0h1m1 0h1m3 0h1m1 0h1m3 0h1m0 0h1m6 0h1m4 0h1m-46 1h1m10 0h1m4 0h1m1 0h1m1 0h1m0 0h1m1 0h1m2 0h1m3 0h1m2 0h1m1 0h1m2 0h1m1 0h1m0 0h1m1 0h1m0 0h1m0 0h1m-34 1h1m0 0h1m1 0h1m5 0h1m6 0h1m1 0h1m4 0h1m-30 1h1m2 0h1m0 0h1m1 0h1m9 0h1m1 0h1m0 0h1m3 0h1m1 0h1m1 0h1m0 0h1m2 0h1m1 0h1m-42 1h1m15 0h1m5 0h1m1 0h1m1 0h1m2 0h1m1 0h1m3 0h1m1 0h1m1 0h1m1 0h1m-41 1h1m11 0h1m10 0h1m6 0h1m6 0h1m0 0h1m-20 1h1m8 0h1m1 0h1m4 0h1m-30 1h1m12 0h1m1 0h1m7 0h1m0 0h1m-33 1h1m15 0h1m9 0h1m7 0h1m0 0h1m7 0h1m5 0h1m-29 1h1m2 0h1m0 0h1m6 0h1m2 0h1m-17 1h1m4 0h1m6 0h1m0 0h1m2 0h1m1 0h1m0 0h1m4 0h1m0 0h1m-46 1h1m20 0h1m6 0h1m2 0h1m4 0h1m1 0h1m-11 1h1m5 0h1m0 0h1m3 0h1m0 0h1m1 0h1m22 0h1m-42 1h1m2 0h1m1 0h1m1 0h1m0 0h1m0 0h1m3 0h1m0 0h1m4 0h1m12 0h1m-42 1h1m6 0h1m1 0h1m4 0h1m1 0h1m3 0h1m0 0h1m1 0h1m1 0h1m5 0h1m0 0h1m2 0h1m2 0h1m-45 1h1m14 0h1m0 0h1m0 0h1m2 0h1m0 0h1m0 0h1m0 0h1m0 0h1m0 0h1m0 0h1m0 0h1m0 0h1m2 0h1m0 0h1m0 0h1m2 0h1m0 0h1m5 0h1m0 0h1m-29 1h1m0 0h1m0 0h1m0 0h1m5 0h1m2 0h1m4 0h1m1 0h1m7 0h1m-40 1h1m2 0h1m1 0h1m7 0h1m1 0h1m0 0h1m1 0h1m0 0h1m1 0h1m0 0h1m0 0h1m0 0h1m1 0h1m0 0h1m1 0h1m1 0h1m1 0h1m4 0h1m4 0h1m-46 1h1m11 0h1m1 0h1m3 0h1m0 0h1m0 0h1m0 0h1m0 0h1m1 0h1m0 0h1m0 0h1m0 0h1m1 0h1m1 0h1m9 0h1m-36 1h1m5 0h1m7 0h1m1 0h1m0 0h1m0 0h1m0 0h1m0 0h1m0 0h1m0 0h1m0 0h1m0 0h1m0 0h1m1 0h1m0 0h1m0 0h1m1 0h1m0 0h1m-22 1h1m0 0h1m0 0h1m0 0h1m0 0h1m1 0h1m0 0h1m2 0h1m0 0h1m0 0h1m0 0h1m0 0h1m0 0h1m0 0h1m0 0h1m3 0h1m0 0h1m-28 1h1m0 0h1m2 0h1m0 0h1m0 0h1m1 0h1m1 0h1m0 0h1m0 0h1m0 0h1m0 0h1m0 0h1m0 0h1m0 0h1m0 0h1m0 0h1m0 0h1m0 0h1m0 0h1m1 0h1m1 0h1m-34 1h1m3 0h1m0 0h1m3 0h1m2 0h1m0 0h1m1 0h1m0 0h1m0 0h1m0 0h1m0 0h1m2 0h1m0 0h1m0 0h1m0 0h1m1 0h1m0 0h1m1 0h1m0 0h1m-28 1h1m4 0h1m1 0h1m0 0h1m1 0h1m0 0h1m0 0h1m1 0h1m0 0h1m0 0h1m0 0h1m0 0h1m0 0h1m0 0h1m0 0h1m0 0h1m2 0h1m2 0h1m-32 1h1m0 0h1m6 0h1m2 0h1m0 0h1m0 0h1m0 0h1m0 0h1m0 0h1m0 0h1m0 0h1m0 0h1m0 0h1m0 0h1m0 0h1m0 0h1m0 0h1m0 0h1m0 0h1m0 0h1m3 0h1m-34 1h1m7 0h1m2 0h1m0 0h1m1 0h1m0 0h1m0 0h1m0 0h1m1 0h1m0 0h1m0 0h1m0 0h1m0 0h1m0 0h1m1 0h1m0 0h1m2 0h1m8 0h1m4 0h1m-47 1h1m13 0h1m3 0h1m0 0h1m1 0h1m0 0h1m0 0h1m0 0h1m0 0h1m1 0h1m0 0h1m0 0h1m1 0h1m0 0h1m1 0h1m-22 1h1m1 0h1m1 0h1m0 0h1m0 0h1m2 0h1m1 0h1m0 0h1m0 0h1m0 0h1m0 0h1m0 0h1m0 0h1m0 0h1m2 0h1m-36 1h1m1 0h1m7 0h1m3 0h1m4 0h1m0 0h1m0 0h1m2 0h1m0 0h1m0 0h1m0 0h1m1 0h1m4 0h1m2 0h1m-24 1h1m0 0h1m0 0h1m0 0h1m1 0h1m0 0h1m1 0h1m1 0h1m2 0h1m3 0h1m6 0h1m-28 1h1m2 0h1m0 0h1m0 0h1m2 0h1m2 0h1m0 0h1m2 0h1m0 0h1m0 0h1m1 0h1m0 0h1m0 0h1m4 0h1m-29 1h1m10 0h1m4 0h1m3 0h1m0 0h1m-24 1h1m12 0h1m4 0h1m10 0h1m-20 1h1m19 0h1m-33 1h1m5 0h1m0 0h1m9 0h1m6 0h1m13 0h1m0 0h1m-27 1h1m1 0h1m1 0h1m2 0h1m5 0h1m-12 1h1m1 0h1m2 0h1m2 0h1m14 0h1m-19 1h1m-14 1h1m15 2h1" stroke="#222"/><path d="M0 0.5m49 30h1m16 15h1m29 1h1m-18 1h1m-11 1h1m18 0h1m-2 1h1m5 1h1m2 0h1m3 0h1m-47 1h1m2 0h1m36 0h1m3 0h1m-25 1h1m2 0h1m23 0h1m-22 1h1m9 0h1m1 0h1m9 0h1m-31 1h1m14 0h1m1 0h1m2 0h1m1 0h1m2 0h1m1 0h1m-7 1h1m-35 1h1m14 0h1m9 0h1m4 0h1m6 0h1m0 0h1m1 0h1m5 0h1m-46 1h1m15 0h1m13 0h1m0 0h1m2 0h1m3 0h1m0 0h1m7 0h1m-38 1h1m24 0h1m1 0h1m2 0h1m0 0h1m6 0h1m-44 1h1m5 0h1m19 0h1m0 0h1m0 0h1m1 0h1m0 0h1m0 0h1m2 0h1m3 0h1m-27 1h1m13 0h1m0 0h1m1 0h1m0 0h1m1 0h1m2 0h1m0 0h1m-46 1h1m11 0h1m15 0h1m9 0h1m1 0h1m1 0h1m3 0h1m-43 1h1m17 0h1m4 0h1m0 0h1m0 0h1m3 0h1m1 0h1m0 0h1m3 0h1m4 0h1m2 0h1m1 0h1m-56 1h1m10 0h1m1 0h1m5 0h1m1 0h1m1 0h1m1 0h1m6 0h1m0 0h1m1 0h1m2 0h1m1 0h1m2 0h1m1 0h1m0 0h1m1 0h1m0 0h1m0 0h1m3 0h1m1 0h1m-44 1h1m2 0h1m6 0h1m5 0h1m5 0h1m0 0h1m0 0h1m0 0h1m2 0h1m0 0h1m1 0h1m0 0h1m1 0h1m1 0h1m1 0h1m-42 1h1m0 0h1m1 0h1m1 0h1m1 0h1m1 0h1m0 0h1m4 0h1m1 0h1m2 0h1m4 0h1m0 0h1m0 0h1m1 0h1m0 0h1m1 0h1m0 0h1m0 0h1m0 0h1m2 0h1m2 0h1m-42 1h1m0 0h1m0 0h1m4 0h1m0 0h1m0 0h1m0 0h1m0 0h1m0 0h1m12 0h1m1 0h1m1 0h1m0 0h1m0 0h1m0 0h1m0 0h1m0 0h1m0 0h1m0 0h1m0 0h1m2 0h1m5 0h1m-51 1h1m2 0h1m2 0h1m0 0h1m0 0h1m1 0h1m6 0h1m2 0h1m1 0h1m2 0h1m2 0h1m3 0h1m0 0h1m2 0h1m1 0h1m0 0h1m0 0h1m0 0h1m0 0h1m0 0h1m-44 1h1m1 0h1m5 0h1m3 0h1m0 0h1m0 0h1m2 0h1m1 0h1m2 0h1m1 0h1m4 0h1m3 0h1m0 0h1m0 0h1m0 0h1m0 0h1m0 0h1m0 0h1m0 0h1m1 0h1m3 0h1m-47 1h1m2 0h1m0 0h1m1 0h1m2 0h1m0 0h1m0 0h1m1 0h1m0 0h1m2 0h1m0 0h1m0 0h1m2 0h1m0 0h1m9 0h1m0 0h1m0 0h1m0 0h1m0 0h1m1 0h1m1 0h1m1 0h1m1 0h1m1 0h1m0 0h1m-56 1h1m5 0h1m1 0h1m0 0h1m0 0h1m1 0h1m0 0h1m0 0h1m0 0h1m0 0h1m0 0h1m0 0h1m0 0h1m0 0h1m0 0h1m3 0h1m1 0h1m0 0h1m0 0h1m2 0h1m0 0h1m0 0h1m0 0h1m3 0h1m0 0h1m1 0h1m0 0h1m0 0h1m0 0h1m0 0h1m1 0h1m0 0h1m0 0h1m0 0h1m2 0h1m1 0h1m-47 1h1m3 0h1m0 0h1m0 0h1m2 0h1m3 0h1m2 0h1m0 0h1m0 0h1m2 0h1m0 0h1m0 0h1m0 0h1m2 0h1m1 0h1m1 0h1m0 0h1m0 0h1m0 0h1m0 0h1m2 0h1m0 0h1m0 0h1m0 0h1m1 0h1m1 0h1m-44 1h1m0 0h1m0 0h1m0 0h1m0 0h1m0 0h1m0 0h1m0 0h1m0 0h1m0 0h1m2 0h1m1 0h1m1 0h1m2 0h1m1 0h1m0 0h1m0 0h1m1 0h1m0 0h1m1 0h1m0 0h1m0 0h1m0 0h1m0 0h1m0 0h1m0 0h1m0 0h1m1 0h1m0 0h1m1 0h1m2 0h1m8 0h1m-55 1h1m0 0h1m0 0h1m0 0h1m0 0h1m2 0h1m1 0h1m0 0h1m0 0h1m0 0h1m0 0h1m0 0h1m1 0h1m0 0h1m0 0h1m1 0h1m1 0h1m0 0h1m2 0h1m1 0h1m0 0h1m1 0h1m0 0h1m0 0h1m0 0h1m1 0h1m0 0h1m0 0h1m0 0h1m6 0h1m3 0h1m-55 1h1m8 0h1m0 0h1m0 0h1m0 0h1m0 0h1m1 0h1m0 0h1m2 0h1m0 0h1m1 0h1m1 0h1m0 0h1m0 0h1m0 0h1m0 0h1m0 0h1m2 0h1m1 0h1m1 0h1m0 0h1m0 0h1m0 0h1m0 0h1m0 0h1m0 0h1m0 0h1m2 0h1m1 0h1m-48 1h1m2 0h1m4 0h1m0 0h1m0 0h1m0 0h1m0 0h1m0 0h1m0 0h1m4 0h1m1 0h1m0 0h1m0 0h1m0 0h1m1 0h1m0 0h1m1 0h1m0 0h1m0 0h1m0 0h1m0 0h1m1 0h1m1 0h1m0 0h1m0 0h1m0 0h1m0 0h1m2 0h1m3 0h1m0 0h1m-51 1h1m4 0h1m0 0h1m0 0h1m1 0h1m1 0h1m0 0h1m0 0h1m0 0h1m0 0h1m0 0h1m0 0h1m0 0h1m0 0h1m0 0h1m0 0h1m1 0h1m0 0h1m0 0h1m5 0h1m0 0h1m0 0h1m1 0h1m0 0h1m0 0h1m0 0h1m0 0h1m1 0h1m0 0h1m0 0h1m2 0h1m-49 1h1m5 0h1m2 0h1m6 0h1m0 0h1m0 0h1m2 0h1m0 0h1m0 0h1m0 0h1m0 0h1m3 0h1m1 0h1m2 0h1m0 0h1m1 0h1m0 0h1m0 0h1m1 0h1m0 0h1m0 0h1m0 0h1m0 0h1m1 0h1m-47 1h1m6 0h1m0 0h1m1 0h1m0 0h1m0 0h1m4 0h1m0 0h1m0 0h1m0 0h1m0 0h1m1 0h1m0 0h1m0 0h1m0 0h1m1 0h1m0 0h1m0 0h1m1 0h1m0 0h1m0 0h1m0 0h1m2 0h1m0 0h1m2 0h1m1 0h1m-41 1h1m4 0h1m0 0h1m0 0h1m3 0h1m2 0h1m0 0h1m1 0h1m0 0h1m0 0h1m0 0h1m0 0h1m0 0h1m0 0h1m0 0h1m0 0h1m0 0h1m0 0h1m0 0h1m1 0h1m0 0h1m3 0h1m0 0h1m1 0h1m2 0h1m5 0h1m-45 1h1m3 0h1m3 0h1m1 0h1m0 0h1m0 0h1m0 0h1m2 0h1m0 0h1m0 0h1m1 0h1m0 0h1m1 0h1m1 0h1m0 0h1m0 0h1m2 0h1m2 0h1m4 0h1m3 0h1m0 0h1m-51 1h1m2 0h1m1 0h1m1 0h1m0 0h1m6 0h1m4 0h1m2 0h1m2 0h1m1 0h1m1 0h1m0 0h1m0 0h1m0 0h1m1 0h1m0 0h1m1 0h1m2 0h1m2 0h1m1 0h1m0 0h1m1 0h1m-45 1h1m7 0h1m1 0h1m3 0h1m1 0h1m2 0h1m0 0h1m0 0h1m2 0h1m0 0h1m2 0h1m2 0h1m0 0h1m1 0h1m2 0h1m0 0h1m3 0h1m1 0h1m4 0h1m-51 1h1m6 0h1m4 0h1m2 0h1m0 0h1m1 0h1m2 0h1m0 0h1m2 0h1m0 0h1m4 0h1m0 0h1m4 0h1m1 0h1m-55 1h1m18 0h1m2 0h1m2 0h1m1 0h1m1 0h1m0 0h1m0 0h1m0 0h1m3 0h1m0 0h1m0 0h1m3 0h1m0 0h1m0 0h1m2 0h1m1 0h1m1 0h1m3 0h1m3 0h1m10 0h1m-55 1h1m14 0h1m7 0h1m0 0h1m0 0h1m1 0h1m3 0h1m1 0h1m0 0h1m0 0h1m0 0h1m-39 1h1m3 0h1m0 0h1m3 0h1m7 0h1m3 0h1m0 0h1m1 0h1m0 0h1m0 0h1m1 0h1m0 0h1m0 0h1m0 0h1m0 0h1m0 0h1m0 0h1m1 0h1m6 0h1m-37 1h1m1 0h1m0 0h1m5 0h1m2 0h1m1 0h1m1 0h1m2 0h1m0 0h1m0 0h1m1 0h1m1 0h1m1 0h1m10 0h1m36 0h1m-77 1h1m2 0h1m2 0h1m0 0h1m2 0h1m26 0h1m3 0h1m-41 1h1m3 0h1m15 0h1m1 0h1m2 0h1m0 0h1m4 0h1m20 0h1m-35 1h1m0 0h1m1 0h1m2 0h1m-25 1h1m11 0h1m7 1h1m0 0h1m1 0h1m3 0h1m0 0h1m5 0h1m-32 1h1m2 0h1m9 0h1m3 0h1m0 0h1m1 0h1m2 0h1m3 0h1m4 0h1m2 0h1m-27 1h1m4 0h1m12 0h1m29 0h1m-50 1h1m7 0h1m0 0h1m2 0h1m1 0h1m0 0h1m2 0h1m9 0h1m-26 1h1m0 0h1m1 0h1m0 0h1m1 0h1m0 0h1m1 0h1m2 0h1m1 0h1m4 0h1m2 0h1m-34 1h1m2 0h1m0 0h1m7 0h1m0 0h1m3 0h1m1 0h1m2 0h1m0 0h1m1 0h1m1 0h1m8 0h1m0 0h1m-27 1h1m0 0h1m3 0h1m0 0h1m2 0h1m2 0h1m3 0h1m6 0h1m-23 1h1m3 0h1m1 0h1m3 0h1m1 0h1m0 0h1m0 0h1m0 0h1m2 0h1m1 0h1m3 0h1m-24 1h1m0 0h1m0 0h1m0 0h1m0 0h1m1 0h1m0 0h1m0 0h1m0 0h1m0 0h1m0 0h1m2 0h1m0 0h1m3 0h1m-28 1h1m5 0h1m0 0h1m0 0h1m0 0h1m1 0h1m1 0h1m1 0h1m4 0h1m0 0h1m1 0h1m0 0h1m0 0h1m3 0h1m-26 1h1m1 0h1m1 0h1m2 0h1m0 0h1m0 0h1m0 0h1m0 0h1m1 0h1m0 0h1m5 0h1m0 0h1m2 0h1m-20 1h1m0 0h1m0 0h1m1 0h1m1 0h1m0 0h1m0 0h1m0 0h1m0 0h1m0 0h1m0 0h1m3 0h1m4 0h1m-31 1h1m9 0h1m0 0h1m1 0h1m0 0h1m0 0h1m0 0h1m0 0h1m1 0h1m0 0h1m0 0h1m0 0h1m0 0h1m0 0h1m0 0h1m0 0h1m2 0h1m7 0h1m-42 1h1m0 0h1m4 0h1m0 0h1m1 0h1m0 0h1m0 0h1m0 0h1m1 0h1m0 0h1m0 0h1m0 0h1m0 0h1m0 0h1m0 0h1m0 0h1m0 0h1m1 0h1m1 0h1m0 0h1m2 0h1m0 0h1m1 0h1m1 0h1m-33 1h1m2 0h1m2 0h1m0 0h1m0 0h1m0 0h1m1 0h1m0 0h1m0 0h1m1 0h1m0 0h1m1 0h1m0 0h1m0 0h1m0 0h1m0 0h1m0 0h1m8 0h1m12 0h1m-42 1h1m1 0h1m2 0h1m0 0h1m0 0h1m0 0h1m0 0h1m0 0h1m0 0h1m0 0h1m0 0h1m0 0h1m0 0h1m0 0h1m0 0h1m0 0h1m0 0h1m2 0h1m0 0h1m-33 1h1m0 0h1m3 0h1m4 0h1m1 0h1m0 0h1m0 0h1m0 0h1m0 0h1m0 0h1m0 0h1m0 0h1m1 0h1m0 0h1m1 0h1m1 0h1m0 0h1m0 0h1m1 0h1m1 0h1m0 0h1m2 0h1m0 0h1m-30 1h1m3 0h1m0 0h1m0 0h1m1 0h1m0 0h1m1 0h1m0 0h1m1 0h1m1 0h1m0 0h1m0 0h1m0 0h1m3 0h1m0 0h1m4 0h1m-44 1h1m4 0h1m3 0h1m0 0h1m7 0h1m0 0h1m0 0h1m0 0h1m0 0h1m2 0h1m0 0h1m0 0h1m1 0h1m0 0h1m0 0h1m0 0h1m0 0h1m0 0h1m0 0h1m0 0h1m0 0h1m0 0h1m-22 1h1m0 0h1m1 0h1m1 0h1m0 0h1m0 0h1m0 0h1m0 0h1m0 0h1m0 0h1m0 0h1m0 0h1m0 0h1m0 0h1m0 0h1m0 0h1m1 0h1m0 0h1m0 0h1m1 0h1m4 0h1m-32 1h1m0 0h1m1 0h1m0 0h1m0 0h1m0 0h1m3 0h1m0 0h1m0 0h1m0 0h1m1 0h1m0 0h1m0 0h1m0 0h1m0 0h1m1 0h1m1 0h1m-23 1h1m5 0h1m3 0h1m0 0h1m0 0h1m0 0h1m1 0h1m0 0h1m1 0h1m0 0h1m5 0h1m0 0h1m1 0h1m-27 1h1m2 0h1m0 0h1m0 0h1m1 0h1m0 0h1m0 0h1m7 0h1m2 0h1m3 0h1m-41 1h1m10 0h1m4 0h1m4 0h1m0 0h1m2 0h1m0 0h1m0 0h1m1 0h1m0 0h1m0 0h1m0 0h1m1 0h1m1 0h1m-38 1h1m21 0h1m0 0h1m0 0h1m1 0h1m0 0h1m0 0h1m0 0h1m3 0h1m-21 1h1m2 0h1m0 0h1m0 0h1m4 0h1m0 0h1m5 0h1m-13 1h1m5 0h1m7 0h1m4 0h1m-34 1h1m24 0h1m8 0h1m4 0h1m-45 1h1m25 0h1m0 0h1m-4 1h1m5 0h1m-8 1h1m13 0h1m-18 1h1m8 2h1m14 0h1" stroke="#111"/></g>
<rect x="43.80" y="22.50" width="113.70" height="105.00" fill="none" stroke="#111" stroke-width="1.3"/><path d="M43.80 22.50V127.50H157.50" fill="none" stroke="#000" stroke-width="2"/><path d="M43.80 127.50v3.50M43.80 127.50h-3.50M52.36 127.50v2.00M43.80 119.60h-2.00M57.36 127.50v2.00M43.80 114.98h-2.00M60.91 127.50v2.00M43.80 111.70h-2.00M63.67 127.50v2.00M43.80 109.15h-2.00M65.92 127.50v2.00M43.80 107.07h-2.00M67.82 127.50v2.00M43.80 105.32h-2.00M69.47 127.50v2.00M43.80 103.79h-2.00M70.92 127.50v2.00M43.80 102.45h-2.00M72.22 127.50v3.50M43.80 101.25h-3.50M80.78 127.50v2.00M43.80 93.35h-2.00M85.79 127.50v2.00M43.80 88.73h-2.00M89.34 127.50v2.00M43.80 85.45h-2.00M92.09 127.50v2.00M43.80 82.90h-2.00M94.34 127.50v2.00M43.80 80.82h-2.00M96.25 127.50v2.00M43.80 79.07h-2.00M97.90 127.50v2.00M43.80 77.54h-2.00M99.35 127.50v2.00M43.80 76.20h-2.00M100.65 127.50v3.50M43.80 75.00h-3.50M109.21 127.50v2.00M43.80 67.10h-2.00M114.21 127.50v2.00M43.80 62.48h-2.00M117.76 127.50v2.00M43.80 59.20h-2.00M120.52 127.50v2.00M43.80 56.65h-2.00M122.77 127.50v2.00M43.80 54.57h-2.00M124.67 127.50v2.00M43.80 52.82h-2.00M126.32 127.50v2.00M43.80 51.29h-2.00M127.77 127.50v2.00M43.80 49.95h-2.00M129.07 127.50v3.50M43.80 48.75h-3.50M137.63 127.50v2.00M43.80 40.85h-2.00M142.64 127.50v2.00M43.80 36.23h-2.00M146.19 127.50v2.00M43.80 32.95h-2.00M148.94 127.50v2.00M43.80 30.40h-2.00M151.19 127.50v2.00M43.80 28.32h-2.00M153.10 127.50v2.00M43.80 26.57h-2.00M154.75 127.50v2.00M43.80 25.04h-2.00M156.20 127.50v2.00M43.80 23.70h-2.00M157.50 127.50v2.5M43.80 22.50h-2.5" stroke="#000" stroke-width="1"/><path d="M71.00 22.50V127.50M43.80 101.25H157.50" stroke="#222" stroke-width="1"/><text x="36.50" y="141.50" font-size="8.3" font-weight="bold">10</text><text x="45.50" y="135.50" font-size="6.8" font-weight="bold">0</text><text x="64.92" y="141.50" font-size="8.3" font-weight="bold">10</text><text x="73.92" y="135.50" font-size="6.8" font-weight="bold">1</text><text x="93.35" y="141.50" font-size="8.3" font-weight="bold">10</text><text x="102.35" y="135.50" font-size="6.8" font-weight="bold">2</text><text x="121.77" y="141.50" font-size="8.3" font-weight="bold">10</text><text x="130.77" y="135.50" font-size="6.8" font-weight="bold">3</text><text x="150.20" y="141.50" font-size="8.3" font-weight="bold">10</text><text x="159.20" y="135.50" font-size="6.8" font-weight="bold">4</text><g transform="translate(35.00 127.50) rotate(-90)"><text x="-7.3" y="0" font-size="8.3" font-weight="bold">10</text><text x="1.8" y="-5.3" font-size="6.8" font-weight="bold">0</text></g><g transform="translate(35.00 101.25) rotate(-90)"><text x="-7.3" y="0" font-size="8.3" font-weight="bold">10</text><text x="1.8" y="-5.3" font-size="6.8" font-weight="bold">1</text></g><g transform="translate(35.00 75.00) rotate(-90)"><text x="-7.3" y="0" font-size="8.3" font-weight="bold">10</text><text x="1.8" y="-5.3" font-size="6.8" font-weight="bold">2</text></g><g transform="translate(35.00 48.75) rotate(-90)"><text x="-7.3" y="0" font-size="8.3" font-weight="bold">10</text><text x="1.8" y="-5.3" font-size="6.8" font-weight="bold">3</text></g><g transform="translate(35.00 22.50) rotate(-90)"><text x="-7.3" y="0" font-size="8.3" font-weight="bold">10</text><text x="1.8" y="-5.3" font-size="6.8" font-weight="bold">4</text></g><text x="79.95" y="151.50" font-size="9" font-weight="bold" textLength="41.4" lengthAdjust="spacingAndGlyphs">CD34-FITC</text><text transform="translate(24.20 76.60) rotate(-90)" x="-17.75" font-size="9" font-weight="bold" textLength="35.5" lengthAdjust="spacingAndGlyphs">KELL-PE</text><text x="47.80" y="40.40" font-size="8.6" font-weight="bold" letter-spacing="0.65">8%</text><text x="125.60" y="40.80" font-size="8.6" font-weight="bold" letter-spacing="0.65">68%</text><text x="124.00" y="51.60" font-size="8.6" font-weight="bold" letter-spacing="0.00">Day 2</text><text x="126.80" y="120.40" font-size="8.6" font-weight="bold" letter-spacing="0.65">22%</text>
<g fill="none" stroke-width="1"><path d="M0 0.5m304 48h1m-73 4h1m3 0h1m-2 3h1m0 1h1m6 1h1m9 1h1m-18 1h1m32 2h1m-43 1h1m12 0h1m0 0h1m14 0h1m7 0h1m-25 1h1m33 0h1m-39 1h1m2 0h1m2 0h1m0 0h1m26 0h1m2 0h1m-36 1h1m4 0h1m20 0h1m1 0h1m-37 1h1m7 0h1m3 0h1m3 0h1m-9 1h1m3 0h1m25 0h1m-33 1h1m1 0h1m-11 1h1m2 0h1m5 0h1m3 0h1m2 0h1m0 0h1m1 0h1m13 0h1m6 0h1m-40 1h1m5 0h1m0 0h1m4 0h1m1 0h1m17 0h1m0 0h1m3 0h1m1 0h1m6 0h1m-44 1h1m0 0h1m0 0h1m1 0h1m0 0h1m1 0h1m0 0h1m0 0h1m2 0h1m4 0h1m3 0h1m8 0h1m5 0h1m5 0h1m-39 1h1m1 0h1m2 0h1m2 0h1m3 0h1m1 0h1m0 0h1m8 0h1m2 0h1m0 0h1m1 0h1m0 0h1m4 0h1m2 0h1m-38 1h1m0 0h1m1 0h1m2 0h1m9 0h1m6 0h1m2 0h1m6 0h1m3 0h1m-51 1h1m8 0h1m1 0h1m4 0h1m1 0h1m8 0h1m3 0h1m2 0h1m2 0h1m3 0h1m2 0h1m-39 1h1m3 0h1m0 0h1m0 0h1m1 0h1m2 0h1m1 0h1m12 0h1m0 0h1m1 0h1m2 0h1m0 0h1m7 0h1m-39 1h1m1 0h1m0 0h1m0 0h1m2 0h1m1 0h1m0 0h1m0 0h1m3 0h1m5 0h1m1 0h1m5 0h1m0 0h1m2 0h1m-36 1h1m0 0h1m2 0h1m0 0h1m0 0h1m0 0h1m0 0h1m0 0h1m4 0h1m12 0h1m0 0h1m3 0h1m1 0h1m0 0h1m1 0h1m32 0h1m-68 1h1m0 0h1m0 0h1m0 0h1m0 0h1m0 0h1m3 0h1m0 0h1m0 0h1m12 0h1m7 0h1m3 0h1m-34 1h1m0 0h1m1 0h1m0 0h1m2 0h1m13 0h1m4 0h1m1 0h1m2 0h1m-40 1h1m3 0h1m1 0h1m1 0h1m0 0h1m0 0h1m4 0h1m1 0h1m0 0h1m1 0h1m4 0h1m0 0h1m3 0h1m-27 1h1m1 0h1m2 0h1m0 0h1m1 0h1m3 0h1m0 0h1m2 0h1m7 0h1m0 0h1m5 0h1m3 0h1m4 0h1m-44 1h1m0 0h1m0 0h1m1 0h1m0 0h1m1 0h1m1 0h1m1 0h1m0 0h1m0 0h1m0 0h1m0 0h1m3 0h1m2 0h1m1 0h1m0 0h1m6 0h1m4 0h1m-37 1h1m0 0h1m0 0h1m1 0h1m0 0h1m0 0h1m0 0h1m0 0h1m3 0h1m2 0h1m0 0h1m3 0h1m5 0h1m0 0h1m6 0h1m1 0h1m6 0h1m-43 1h1m2 0h1m0 0h1m0 0h1m1 0h1m0 0h1m1 0h1m1 0h1m0 0h1m0 0h1m14 0h1m5 0h1m0 0h1m0 0h1m-39 1h1m0 0h1m0 0h1m2 0h1m0 0h1m1 0h1m0 0h1m2 0h1m0 0h1m0 0h1m2 0h1m0 0h1m1 0h1m-37 1h1m15 0h1m3 0h1m0 0h1m0 0h1m1 0h1m1 0h1m1 0h1m3 0h1m18 0h1m-34 1h1m1 0h1m2 0h1m0 0h1m1 0h1m0 0h1m0 0h1m0 0h1m1 0h1m3 0h1m3 0h1m1 0h1m-38 1h1m13 0h1m0 0h1m0 0h1m1 0h1m0 0h1m0 0h1m4 0h1m0 0h1m3 0h1m5 0h1m5 0h1m5 0h1m-35 1h1m2 0h1m0 0h1m0 0h1m1 0h1m0 0h1m4 0h1m3 0h1m5 0h1m11 0h1m-42 1h1m4 0h1m2 0h1m1 0h1m0 0h1m0 0h1m1 0h1m0 0h1m0 0h1m0 0h1m3 0h1m12 0h1m-30 1h1m0 0h1m1 0h1m0 0h1m2 0h1m0 0h1m1 0h1m0 0h1m2 0h1m0 0h1m0 0h1m0 0h1m19 0h1m-50 1h1m13 0h1m0 0h1m1 0h1m0 0h1m4 0h1m0 0h1m7 0h1m8 0h1m-31 1h1m1 0h1m2 0h1m1 0h1m1 0h1m1 0h1m0 0h1m2 0h1m2 0h1m0 0h1m4 0h1m2 0h1m1 0h1m2 0h1m-26 1h1m2 0h1m0 0h1m0 0h1m3 0h1m0 0h1m2 0h1m4 0h1m1 0h1m-31 1h1m0 0h1m0 0h1m1 0h1m0 0h1m1 0h1m3 0h1m4 0h1m0 0h1m1 0h1m3 0h1m0 0h1m2 0h1m2 0h1m-25 1h1m1 0h1m4 0h1m3 0h1m1 0h1m0 0h1m12 0h1m-27 1h1m0 0h1m2 0h1m4 0h1m0 0h1m3 0h1m0 0h1m0 0h1m1 0h1m1 0h1m-20 1h1m5 0h1m2 0h1m0 0h1m2 0h1m0 0h1m0 0h1m5 0h1m1 0h1m-26 1h1m1 0h1m3 0h1m5 0h1m4 0h1m3 0h1m-29 1h1m4 0h1m0 0h1m1 0h1m3 0h1m2 0h1m2 0h1m4 0h1m5 0h1m4 0h1m0 0h1m-30 1h1m1 0h1m1 0h1m1 0h1m1 0h1m7 0h1m2 0h1m5 0h1m2 0h1m8 0h1m-35 1h1m6 0h1m4 0h1m1 0h1m0 0h1m6 0h1m2 0h1m0 0h1m-31 1h1m14 0h1m2 0h1m2 0h1m1 0h1m1 0h1m9 0h1m1 0h1m-12 1h1m3 0h1m1 0h1m17 0h1m-44 1h1m7 0h1m3 0h1m8 0h1m1 0h1m2 0h1m-31 1h1m3 0h1m1 0h1m0 0h1m6 0h1m5 0h1m0 0h1m3 0h1m0 0h1m0 0h1m1 0h1m1 0h1m0 0h1m0 0h1m-26 1h1m2 0h1m3 0h1m0 0h1m3 0h1m0 0h1m0 0h1m3 0h1m0 0h1m1 0h1m0 0h1m-20 1h1m7 0h1m0 0h1m0 0h1m2 0h1m1 0h1m2 0h1m0 0h1m0 0h1m0 0h1m1 0h1m-16 1h1m1 0h1m3 0h1m1 0h1m2 0h1m4 0h1m-35 1h1m17 0h1m1 0h1m0 0h1m1 0h1m1 0h1m0 0h1m0 0h1m6 0h1m-19 1h1m0 0h1m6 0h1m0 0h1m0 0h1m1 0h1m1 0h1m0 0h1m-49 1h1m27 0h1m4 0h1m3 0h1m0 0h1m1 0h1m0 0h1m1 0h1m0 0h1m2 0h1m-16 1h1m0 0h1m3 0h1m0 0h1m0 0h1m0 0h1m1 0h1m0 0h1m2 0h1m0 0h1m3 0h1m-30 1h1m7 0h1m7 0h1m2 0h1m0 0h1m5 0h1m7 0h1m-40 1h1m16 0h1m2 0h1m1 0h1m5 0h1m0 0h1m4 0h1m0 0h1m1 0h1m-20 1h1m9 0h1m1 0h1m-7 1h1m1 0h1m1 0h1m0 0h1m5 0h1m-18 1h1m6 0h1m1 0h1m0 0h1m-14 1h1m3 0h1m2 0h1m1 0h1m0 0h1m1 0h1m11 0h1m-27 1h1m14 0h1m1 0h1m2 0h1m-22 1h1m12 0h1m1 0h1m0 0h1m1 0h1m3 0h1m-17 1h1m2 0h1m1 0h1m-10 1h1m-24 1h1m33 0h1m5 0h1m-39 1h1m16 1h1m14 3h1" stroke="#666"/><path d="M0 0.5m245 42h1m11 14h1m-22 3h1m2 0h1m3 0h1m1 0h1m11 0h1m-16 1h1m3 1h1m-7 1h1m1 0h1m2 0h1m-16 1h1m12 0h1m0 0h1m-9 1h1m2 0h1m1 0h1m2 0h1m16 0h1m9 0h1m-35 1h1m-2 1h1m4 0h1m0 1h1m2 0h1m7 0h1m-20 1h1m2 0h1m1 0h1m3 0h1m0 0h1m5 0h1m4 0h1m7 0h1m9 0h1m-40 1h1m4 0h1m11 0h1m5 0h1m0 0h1m1 0h1m6 0h1m-35 1h1m9 0h1m22 0h1m-40 1h1m0 0h1m5 0h1m1 0h1m2 0h1m0 0h1m17 0h1m7 0h1m2 0h1m2 0h1m-39 1h1m0 0h1m0 0h1m0 0h1m3 0h1m3 0h1m3 0h1m7 0h1m0 0h1m5 0h1m1 0h1m0 0h1m9 0h1m-50 1h1m3 0h1m0 0h1m3 0h1m1 0h1m1 0h1m14 0h1m2 0h1m3 0h1m11 0h1m-39 1h1m4 0h1m0 0h1m0 0h1m0 0h1m0 0h1m0 0h1m2 0h1m0 0h1m8 0h1m1 0h1m0 0h1m1 0h1m0 0h1m1 0h1m1 0h1m-42 1h1m3 0h1m3 0h1m1 0h1m0 0h1m2 0h1m1 0h1m5 0h1m6 0h1m1 0h1m4 0h1m2 0h1m-41 1h1m2 0h1m2 0h1m1 0h1m0 0h1m0 0h1m0 0h1m3 0h1m11 0h1m1 0h1m3 0h1m0 0h1m0 0h1m5 0h1m-38 1h1m2 0h1m0 0h1m0 0h1m1 0h1m1 0h1m1 0h1m4 0h1m4 0h1m3 0h1m0 0h1m1 0h1m3 0h1m1 0h1m-35 1h1m0 0h1m3 0h1m1 0h1m1 0h1m0 0h1m3 0h1m0 0h1m11 0h1m9 0h1m-37 1h1m0 0h1m1 0h1m1 0h1m0 0h1m1 0h1m1 0h1m2 0h1m0 0h1m2 0h1m4 0h1m0 0h1m2 0h1m1 0h1m11 0h1m-46 1h1m3 0h1m0 0h1m0 0h1m3 0h1m0 0h1m0 0h1m2 0h1m0 0h1m1 0h1m0 0h1m3 0h1m4 0h1m0 0h1m1 0h1m8 0h1m3 0h1m0 0h1m-40 1h1m1 0h1m1 0h1m2 0h1m3 0h1m0 0h1m0 0h1m1 0h1m5 0h1m3 0h1m2 0h1m1 0h1m-34 1h1m0 0h1m1 0h1m0 0h1m0 0h1m2 0h1m1 0h1m0 0h1m0 0h1m0 0h1m0 0h1m0 0h1m0 0h1m1 0h1m7 0h1m10 0h1m5 0h1m-43 1h1m2 0h1m1 0h1m0 0h1m0 0h1m1 0h1m0 0h1m0 0h1m0 0h1m1 0h1m3 0h1m3 0h1m6 0h1m6 0h1m-38 1h1m0 0h1m0 0h1m0 0h1m1 0h1m0 0h1m0 0h1m0 0h1m0 0h1m0 0h1m1 0h1m0 0h1m0 0h1m0 0h1m0 0h1m3 0h1m6 0h1m4 0h1m-34 1h1m2 0h1m1 0h1m1 0h1m0 0h1m0 0h1m0 0h1m2 0h1m1 0h1m0 0h1m4 0h1m1 0h1m-26 1h1m5 0h1m0 0h1m3 0h1m1 0h1m5 0h1m3 0h1m0 0h1m8 0h1m1 0h1m-31 1h1m1 0h1m1 0h1m1 0h1m0 0h1m1 0h1m0 0h1m4 0h1m1 0h1m2 0h1m1 0h1m2 0h1m7 0h1m-33 1h1m0 0h1m2 0h1m5 0h1m2 0h1m0 0h1m1 0h1m2 0h1m-18 1h1m0 0h1m1 0h1m0 0h1m0 0h1m2 0h1m0 0h1m1 0h1m0 0h1m0 0h1m1 0h1m1 0h1m7 0h1m4 0h1m-37 1h1m0 0h1m0 0h1m0 0h1m0 0h1m1 0h1m5 0h1m0 0h1m7 0h1m8 0h1m-25 1h1m4 0h1m3 0h1m2 0h1m4 0h1m5 0h1m7 0h1m8 0h1m-44 1h1m0 0h1m0 0h1m1 0h1m0 0h1m0 0h1m1 0h1m0 0h1m1 0h1m5 0h1m1 0h1m5 0h1m-23 1h1m0 0h1m3 0h1m3 0h1m0 0h1m1 0h1m1 0h1m0 0h1m5 0h1m6 0h1m-32 1h1m2 0h1m3 0h1m1 0h1m0 0h1m3 0h1m3 0h1m0 0h1m3 0h1m-31 1h1m2 0h1m1 0h1m4 0h1m0 0h1m0 0h1m2 0h1m7 0h1m3 0h1m0 0h1m19 0h1m-42 1h1m0 0h1m2 0h1m0 0h1m1 0h1m1 0h1m4 0h1m3 0h1m0 0h1m0 0h1m4 0h1m13 0h1m-36 1h1m5 0h1m0 0h1m1 0h1m0 0h1m7 0h1m6 0h1m2 0h1m-30 1h1m0 0h1m0 0h1m2 0h1m2 0h1m0 0h1m3 0h1m1 0h1m2 0h1m0 0h1m-25 1h1m2 0h1m3 0h1m2 0h1m1 0h1m1 0h1m4 0h1m2 0h1m5 0h1m0 0h1m1 0h1m4 0h1m-30 1h1m8 0h1m14 0h1m-26 1h1m2 0h1m4 0h1m5 0h1m1 0h1m5 0h1m6 0h1m2 0h1m36 0h1m-72 1h1m1 0h1m9 0h1m3 0h1m0 0h1m8 0h1m1 0h1m0 0h1m-36 1h1m23 0h1m3 0h1m0 0h1m3 0h1m0 0h1m8 0h1m1 0h1m-42 1h1m8 0h1m9 0h1m1 0h1m8 0h1m4 0h1m0 0h1m0 0h1m-44 1h1m10 0h1m12 0h1m0 0h1m9 0h1m1 0h1m12 0h1m-45 1h1m12 0h1m0 0h1m2 0h1m5 0h1m0 0h1m2 0h1m1 0h1m0 0h1m1 0h1m1 0h1m0 0h1m0 0h1m2 0h1m-25 1h1m6 0h1m6 0h1m1 0h1m0 0h1m1 0h1m0 0h1m1 0h1m-19 1h1m4 0h1m0 0h1m0 0h1m0 0h1m0 0h1m0 0h1m0 0h1m4 0h1m5 0h1m-27 1h1m0 0h1m2 0h1m1 0h1m0 0h1m2 0h1m3 0h1m1 0h1m0 0h1m2 0h1m4 0h1m-29 1h1m5 0h1m5 0h1m0 0h1m1 0h1m3 0h1m2 0h1m0 0h1m1 0h1m3 0h1m-22 1h1m3 0h1m0 0h1m0 0h1m0 0h1m0 0h1m0 0h1m2 0h1m0 0h1m1 0h1m3 0h1m0 0h1m-34 1h1m21 0h1m3 0h1m0 0h1m0 0h1m-14 1h1m1 0h1m3 0h1m1 0h1m2 0h1m0 0h1m7 0h1m-53 1h1m27 0h1m2 0h1m2 0h1m0 0h1m0 0h1m1 0h1m2 0h1m0 0h1m1 0h1m0 0h1m2 0h1m-16 1h1m2 0h1m3 0h1m0 0h1m1 0h1m0 0h1m2 0h1m0 0h1m-22 1h1m7 0h1m3 0h1m0 0h1m0 0h1m-15 1h1m4 0h1m3 0h1m1 0h1m1 0h1m8 0h1m-19 1h1m2 0h1m6 0h1m-10 1h1m9 0h1m1 0h1m0 0h1m-11 1h1m3 0h1m3 0h1m-5 1h1m0 0h1m1 0h1m-8 1h1m9 1h1m-12 2h1m7 0h1m1 0h1m15 0h1m-38 2h1" stroke="#3c3c3c"/><path d="M0 0.5m251 53h1m3 2h1m7 1h1m-28 2h1m35 0h1m-25 2h1m0 0h1m-11 1h1m3 1h1m6 0h1m-17 1h1m8 0h1m30 0h1m-38 1h1m5 0h1m0 0h1m-8 1h1m17 0h1m2 0h1m0 0h1m-26 1h1m0 0h1m1 0h1m0 0h1m0 0h1m-7 1h1m1 0h1m2 0h1m0 0h1m2 0h1m5 0h1m6 0h1m3 0h1m22 0h1m-54 1h1m1 0h1m5 0h1m0 0h1m1 0h1m1 0h1m5 0h1m9 0h1m5 0h1m5 0h1m-43 1h1m6 0h1m1 0h1m2 0h1m0 0h1m19 0h1m1 0h1m0 0h1m1 0h1m-36 1h1m3 0h1m1 0h1m8 0h1m8 0h1m10 0h1m1 0h1m-32 1h1m0 0h1m16 0h1m4 0h1m4 0h1m2 0h1m6 0h1m-49 1h1m4 0h1m0 0h1m4 0h1m0 0h1m1 0h1m0 0h1m9 0h1m7 0h1m4 0h1m6 0h1m-44 1h1m1 0h1m5 0h1m1 0h1m1 0h1m6 0h1m2 0h1m0 0h1m4 0h1m6 0h1m0 0h1m0 0h1m0 0h1m3 0h1m-47 1h1m9 0h1m5 0h1m0 0h1m3 0h1m0 0h1m0 0h1m1 0h1m7 0h1m7 0h1m0 0h1m0 0h1m-37 1h1m1 0h1m1 0h1m0 0h1m1 0h1m0 0h1m1 0h1m12 0h1m0 0h1m5 0h1m1 0h1m11 0h1m-46 1h1m4 0h1m0 0h1m0 0h1m4 0h1m9 0h1m0 0h1m5 0h1m1 0h1m1 0h1m0 0h1m0 0h1m1 0h1m-40 1h1m3 0h1m2 0h1m0 0h1m5 0h1m0 0h1m15 0h1m4 0h1m0 0h1m2 0h1m-39 1h1m1 0h1m1 0h1m0 0h1m3 0h1m0 0h1m0 0h1m0 0h1m0 0h1m4 0h1m0 0h1m5 0h1m3 0h1m0 0h1m1 0h1m0 0h1m5 0h1m2 0h1m-44 1h1m1 0h1m2 0h1m2 0h1m0 0h1m0 0h1m1 0h1m0 0h1m1 0h1m0 0h1m4 0h1m4 0h1m1 0h1m0 0h1m1 0h1m2 0h1m3 0h1m1 0h1m3 0h1m9 0h1m-54 1h1m0 0h1m0 0h1m3 0h1m1 0h1m0 0h1m1 0h1m18 0h1m2 0h1m1 0h1m2 0h1m0 0h1m-43 1h1m4 0h1m0 0h1m0 0h1m0 0h1m0 0h1m0 0h1m0 0h1m0 0h1m0 0h1m0 0h1m1 0h1m18 0h1m-36 1h1m4 0h1m0 0h1m3 0h1m1 0h1m1 0h1m1 0h1m0 0h1m2 0h1m6 0h1m0 0h1m12 0h1m-37 1h1m1 0h1m3 0h1m0 0h1m0 0h1m0 0h1m0 0h1m0 0h1m1 0h1m1 0h1m5 0h1m3 0h1m7 0h1m48 0h1m-88 1h1m1 0h1m2 0h1m0 0h1m0 0h1m0 0h1m0 0h1m0 0h1m0 0h1m0 0h1m1 0h1m0 0h1m0 0h1m0 0h1m0 0h1m0 0h1m0 0h1m0 0h1m2 0h1m5 0h1m5 0h1m-31 1h1m1 0h1m1 0h1m0 0h1m0 0h1m1 0h1m6 0h1m4 0h1m3 0h1m3 0h1m-30 1h1m0 0h1m0 0h1m0 0h1m1 0h1m0 0h1m1 0h1m4 0h1m-16 1h1m5 0h1m0 0h1m1 0h1m0 0h1m3 0h1m5 0h1m1 0h1m15 0h1m-42 1h1m2 0h1m5 0h1m2 0h1m1 0h1m1 0h1m3 0h1m-18 1h1m2 0h1m1 0h1m1 0h1m0 0h1m0 0h1m0 0h1m0 0h1m1 0h1m0 0h1m2 0h1m2 0h1m3 0h1m-27 1h1m3 0h1m1 0h1m1 0h1m0 0h1m1 0h1m1 0h1m1 0h1m0 0h1m1 0h1m6 0h1m0 0h1m3 0h1m3 0h1m-37 1h1m3 0h1m5 0h1m0 0h1m4 0h1m1 0h1m1 0h1m1 0h1m10 0h1m3 0h1m3 0h1m-33 1h1m5 0h1m2 0h1m0 0h1m2 0h1m2 0h1m4 0h1m4 0h1m-27 1h1m0 0h1m0 0h1m0 0h1m2 0h1m3 0h1m0 0h1m2 0h1m0 0h1m1 0h1m0 0h1m-20 1h1m1 0h1m2 0h1m2 0h1m1 0h1m1 0h1m0 0h1m0 0h1m5 0h1m-25 1h1m5 0h1m0 0h1m2 0h1m3 0h1m2 0h1m1 0h1m2 0h1m0 0h1m3 0h1m-29 1h1m1 0h1m1 0h1m1 0h1m2 0h1m3 0h1m0 0h1m1 0h1m0 0h1m3 0h1m0 0h1m0 0h1m1 0h1m5 0h1m4 0h1m3 0h1m-38 1h1m7 0h1m0 0h1m3 0h1m2 0h1m1 0h1m3 0h1m4 0h1m-24 1h1m3 0h1m2 0h1m1 0h1m2 0h1m0 0h1m0 0h1m0 0h1m5 0h1m-26 1h1m6 0h1m3 0h1m0 0h1m6 0h1m1 0h1m3 0h1m3 0h1m-22 1h1m1 0h1m0 0h1m1 0h1m1 0h1m2 0h1m3 0h1m0 0h1m0 0h1m0 0h1m2 0h1m-28 1h1m2 0h1m8 0h1m0 0h1m4 0h1m1 0h1m0 0h1m10 0h1m-16 1h1m0 0h1m0 0h1m0 0h1m6 0h1m3 0h1m3 0h1m-38 1h1m5 0h1m6 0h1m8 0h1m0 0h1m3 0h1m0 0h1m2 0h1m-13 1h1m7 0h1m-16 1h1m6 0h1m3 0h1m0 0h1m1 0h1m1 0h1m0 0h1m0 0h1m3 0h1m6 0h1m-35 1h1m2 0h1m5 0h1m7 0h1m0 0h1m0 0h1m3 0h1m1 0h1m2 0h1m-31 1h1m4 0h1m5 0h1m4 0h1m2 0h1m2 0h1m4 0h1m8 0h1m-22 1h1m2 0h1m0 0h1m1 0h1m3 0h1m0 0h1m9 0h1m1 0h1m-44 1h1m18 0h1m5 0h1m5 0h1m0 0h1m4 0h1m-18 1h1m5 0h1m0 0h1m2 0h1m1 0h1m0 0h1m0 0h1m0 0h1m2 0h1m-16 1h1m2 0h1m1 0h1m1 0h1m0 0h1m0 0h1m1 0h1m0 0h1m-16 1h1m0 0h1m2 0h1m1 0h1m2 0h1m1 0h1m1 0h1m1 0h1m-11 1h1m0 0h1m0 0h1m1 0h1m6 0h1m0 0h1m2 0h1m0 0h1m-21 1h1m1 0h1m1 0h1m0 0h1m1 0h1m0 0h1m0 0h1m0 0h1m1 0h1m0 0h1m0 0h1m3 0h1m-25 1h1m6 0h1m1 0h1m0 0h1m0 0h1m0 0h1m0 0h1m2 0h1m1 0h1m-13 1h1m5 0h1m1 0h1m3 0h1m1 0h1m0 0h1m2 0h1m-22 1h1m6 0h1m1 0h1m1 0h1m0 0h1m1 0h1m1 0h1m4 0h1m3 0h1m-29 1h1m10 0h1m5 0h1m2 0h1m8 0h1m-21 1h1m1 0h1m0 0h1m0 0h1m1 0h1m3 0h1m-18 1h1m4 0h1m1 0h1m5 0h1m6 0h1m0 0h1m0 0h1m-16 1h1m7 0h1m-13 1h1m6 0h1m3 0h1m4 0h1m-7 1h1m0 0h1m0 1h1m-21 2h1" stroke="#222"/><path d="M0 0.5m228 53h1m2 2h1m20 1h1m51 0h1m-62 3h1m-6 1h1m1 0h1m18 0h1m-19 1h1m0 1h1m-5 1h1m25 0h1m11 0h1m-45 1h1m1 0h1m1 0h1m3 0h1m5 0h1m-9 1h1m2 0h1m18 0h1m-26 1h1m0 0h1m1 0h1m-9 1h1m3 0h1m19 0h1m3 0h1m-25 1h1m4 0h1m22 0h1m4 0h1m0 0h1m-35 1h1m0 0h1m1 0h1m0 0h1m0 0h1m2 0h1m17 0h1m1 0h1m6 0h1m0 0h1m-50 1h1m2 0h1m12 0h1m0 0h1m3 0h1m1 0h1m12 0h1m1 0h1m7 0h1m0 0h1m1 0h1m-41 1h1m2 0h1m1 0h1m0 0h1m1 0h1m1 0h1m3 0h1m1 0h1m9 0h1m2 0h1m1 0h1m1 0h1m0 0h1m-31 1h1m1 0h1m1 0h1m1 0h1m0 0h1m1 0h1m2 0h1m11 0h1m2 0h1m3 0h1m1 0h1m1 0h1m-40 1h1m2 0h1m0 0h1m2 0h1m0 0h1m0 0h1m1 0h1m0 0h1m1 0h1m8 0h1m4 0h1m0 0h1m3 0h1m1 0h1m-33 1h1m2 0h1m0 0h1m0 0h1m0 0h1m0 0h1m2 0h1m1 0h1m10 0h1m3 0h1m4 0h1m-31 1h1m0 0h1m1 0h1m1 0h1m5 0h1m6 0h1m0 0h1m5 0h1m0 0h1m2 0h1m0 0h1m0 0h1m1 0h1m0 0h1m5 0h1m-43 1h1m4 0h1m2 0h1m2 0h1m1 0h1m0 0h1m0 0h1m9 0h1m6 0h1m1 0h1m0 0h1m-42 1h1m0 0h1m3 0h1m1 0h1m2 0h1m1 0h1m0 0h1m1 0h1m1 0h1m6 0h1m2 0h1m4 0h1m1 0h1m0 0h1m4 0h1m0 0h1m-35 1h1m1 0h1m0 0h1m0 0h1m3 0h1m0 0h1m0 0h1m3 0h1m13 0h1m0 0h1m1 0h1m2 0h1m-39 1h1m4 0h1m0 0h1m3 0h1m0 0h1m2 0h1m2 0h1m0 0h1m9 0h1m0 0h1m0 0h1m0 0h1m4 0h1m0 0h1m0 0h1m-37 1h1m0 0h1m1 0h1m0 0h1m1 0h1m1 0h1m1 0h1m0 0h1m3 0h1m2 0h1m9 0h1m2 0h1m-37 1h1m3 0h1m3 0h1m0 0h1m0 0h1m1 0h1m1 0h1m1 0h1m0 0h1m0 0h1m11 0h1m1 0h1m1 0h1m-37 1h1m5 0h1m0 0h1m2 0h1m1 0h1m0 0h1m0 0h1m1 0h1m2 0h1m1 0h1m2 0h1m13 0h1m-36 1h1m4 0h1m0 0h1m1 0h1m0 0h1m2 0h1m2 0h1m0 0h1m2 0h1m6 0h1m1 0h1m13 0h1m-44 1h1m4 0h1m1 0h1m0 0h1m1 0h1m1 0h1m0 0h1m3 0h1m1 0h1m0 0h1m-15 1h1m1 0h1m5 0h1m2 0h1m0 0h1m8 0h1m9 0h1m3 0h1m-40 1h1m1 0h1m4 0h1m1 0h1m0 0h1m1 0h1m1 0h1m0 0h1m2 0h1m1 0h1m1 0h1m2 0h1m4 0h1m-25 1h1m2 0h1m0 0h1m0 0h1m1 0h1m0 0h1m1 0h1m6 0h1m2 0h1m0 0h1m8 0h1m3 0h1m-40 1h1m3 0h1m2 0h1m0 0h1m0 0h1m0 0h1m0 0h1m1 0h1m1 0h1m0 0h1m1 0h1m1 0h1m2 0h1m8 0h1m-28 1h1m0 0h1m0 0h1m0 0h1m1 0h1m8 0h1m0 0h1m6 0h1m2 0h1m1 0h1m3 0h1m-38 1h1m3 0h1m1 0h1m0 0h1m3 0h1m1 0h1m4 0h1m2 0h1m2 0h1m-23 1h1m0 0h1m0 0h1m3 0h1m1 0h1m1 0h1m0 0h1m0 0h1m0 0h1m0 0h1m0 0h1m6 0h1m8 0h1m-29 1h1m2 0h1m1 0h1m0 0h1m1 0h1m0 0h1m2 0h1m7 0h1m-25 1h1m1 0h1m4 0h1m2 0h1m0 0h1m0 0h1m0 0h1m2 0h1m5 0h1m3 0h1m-18 1h1m0 0h1m3 0h1m0 0h1m0 0h1m0 0h1m3 0h1m0 0h1m0 0h1m4 0h1m3 0h1m-30 1h1m1 0h1m0 0h1m5 0h1m4 0h1m12 0h1m7 0h1m-48 1h1m5 0h1m5 0h1m3 0h1m5 0h1m3 0h1m1 0h1m0 0h1m2 0h1m2 0h1m1 0h1m-28 1h1m2 0h1m2 0h1m1 0h1m0 0h1m0 0h1m1 0h1m5 0h1m1 0h1m1 0h1m0 0h1m4 0h1m0 0h1m-21 1h1m1 0h1m2 0h1m1 0h1m0 0h1m3 0h1m2 0h1m4 0h1m0 0h1m-32 1h1m8 0h1m3 0h1m1 0h1m6 0h1m0 0h1m0 0h1m2 0h1m0 0h1m1 0h1m3 0h1m-32 1h1m3 0h1m7 0h1m5 0h1m5 0h1m0 0h1m1 0h1m0 0h1m10 0h1m-34 1h1m3 0h1m3 0h1m6 0h1m0 0h1m2 0h1m0 0h1m1 0h1m9 0h1m-38 1h1m0 0h1m3 0h1m5 0h1m2 0h1m7 0h1m0 0h1m0 0h1m2 0h1m0 0h1m3 0h1m-20 1h1m16 0h1m3 0h1m-30 1h1m2 0h1m4 0h1m2 0h1m1 0h1m4 0h1m1 0h1m1 0h1m3 0h1m1 0h1m-23 1h1m5 0h1m4 0h1m0 0h1m2 0h1m8 0h1m2 0h1m-33 1h1m17 0h1m1 0h1m1 0h1m1 0h1m0 0h1m9 0h1m-32 1h1m0 0h1m0 0h1m6 0h1m6 0h1m7 0h1m0 0h1m0 0h1m-26 1h1m0 0h1m10 0h1m0 0h1m0 0h1m1 0h1m4 0h1m0 0h1m0 0h1m1 0h1m-13 1h1m1 0h1m0 0h1m0 0h1m4 0h1m0 0h1m-19 1h1m3 0h1m8 0h1m0 0h1m1 0h1m1 0h1m0 0h1m-25 1h1m9 0h1m3 0h1m8 0h1m-17 1h1m1 0h1m3 0h1m0 0h1m1 0h1m1 0h1m0 0h1m0 0h1m1 0h1m1 0h1m-29 1h1m8 0h1m4 0h1m2 0h1m2 0h1m1 0h1m1 0h1m6 0h1m-26 1h1m5 0h1m5 0h1m0 0h1m2 0h1m6 0h1m0 0h1m-19 1h1m1 0h1m0 0h1m0 0h1m0 0h1m0 0h1m0 0h1m0 0h1m-15 1h1m5 0h1m1 0h1m4 0h1m1 0h1m0 0h1m0 0h1m1 0h1m11 0h1m-44 1h1m13 0h1m6 0h1m0 0h1m3 0h1m0 0h1m0 0h1m1 0h1m3 0h1m-27 1h1m12 0h1m1 0h1m1 0h1m2 0h1m1 0h1m18 0h1m-32 1h1m4 0h1m1 0h1m5 0h1m2 0h1m11 0h1m-24 1h1m2 0h1m4 0h1m-10 1h1m1 0h1m1 0h1m5 0h1m6 0h1m-33 1h1m14 0h1m11 0h1m-16 1h1m4 0h1m7 0h1m-19 1h1m10 2h1m-5 1h1m6 0h1" stroke="#111"/></g>
<rect x="213.75" y="26.50" width="114.75" height="105.50" fill="none" stroke="#111" stroke-width="1.3"/><path d="M213.75 26.50V132.00H328.50" fill="none" stroke="#000" stroke-width="2"/><path d="M213.75 132.00v3.50M213.75 132.00h-3.50M222.39 132.00v2.00M213.75 124.06h-2.00M227.44 132.00v2.00M213.75 119.42h-2.00M231.02 132.00v2.00M213.75 116.12h-2.00M233.80 132.00v2.00M213.75 113.56h-2.00M236.07 132.00v2.00M213.75 111.48h-2.00M237.99 132.00v2.00M213.75 109.71h-2.00M239.66 132.00v2.00M213.75 108.18h-2.00M241.12 132.00v2.00M213.75 106.83h-2.00M242.44 132.00v3.50M213.75 105.62h-3.50M251.07 132.00v2.00M213.75 97.69h-2.00M256.12 132.00v2.00M213.75 93.04h-2.00M259.71 132.00v2.00M213.75 89.75h-2.00M262.49 132.00v2.00M213.75 87.19h-2.00M264.76 132.00v2.00M213.75 85.10h-2.00M266.68 132.00v2.00M213.75 83.34h-2.00M268.34 132.00v2.00M213.75 81.81h-2.00M269.81 132.00v2.00M213.75 80.46h-2.00M271.12 132.00v3.50M213.75 79.25h-3.50M279.76 132.00v2.00M213.75 71.31h-2.00M284.81 132.00v2.00M213.75 66.67h-2.00M288.40 132.00v2.00M213.75 63.37h-2.00M291.18 132.00v2.00M213.75 60.81h-2.00M293.45 132.00v2.00M213.75 58.73h-2.00M295.37 132.00v2.00M213.75 56.96h-2.00M297.03 132.00v2.00M213.75 55.43h-2.00M298.50 132.00v2.00M213.75 54.08h-2.00M299.81 132.00v3.50M213.75 52.88h-3.50M308.45 132.00v2.00M213.75 44.94h-2.00M313.50 132.00v2.00M213.75 40.29h-2.00M317.08 132.00v2.00M213.75 37.00h-2.00M319.86 132.00v2.00M213.75 34.44h-2.00M322.14 132.00v2.00M213.75 32.35h-2.00M324.06 132.00v2.00M213.75 30.59h-2.00M325.72 132.00v2.00M213.75 29.06h-2.00M327.19 132.00v2.00M213.75 27.71h-2.00M328.50 132.00v2.5M213.75 26.50h-2.5" stroke="#000" stroke-width="1"/><path d="M241.30 26.50V132.00M213.75 104.80H285.60M321.20 104.80H328.50" stroke="#222" stroke-width="1"/><text x="206.45" y="146.00" font-size="8.3" font-weight="bold">10</text><text x="215.45" y="140.00" font-size="6.8" font-weight="bold">0</text><text x="235.14" y="146.00" font-size="8.3" font-weight="bold">10</text><text x="244.14" y="140.00" font-size="6.8" font-weight="bold">1</text><text x="263.82" y="146.00" font-size="8.3" font-weight="bold">10</text><text x="272.82" y="140.00" font-size="6.8" font-weight="bold">2</text><text x="292.51" y="146.00" font-size="8.3" font-weight="bold">10</text><text x="301.51" y="140.00" font-size="6.8" font-weight="bold">3</text><text x="321.20" y="146.00" font-size="8.3" font-weight="bold">10</text><text x="330.20" y="140.00" font-size="6.8" font-weight="bold">4</text><g transform="translate(204.95 132.00) rotate(-90)"><text x="-7.3" y="0" font-size="8.3" font-weight="bold">10</text><text x="1.8" y="-5.3" font-size="6.8" font-weight="bold">0</text></g><g transform="translate(204.95 105.62) rotate(-90)"><text x="-7.3" y="0" font-size="8.3" font-weight="bold">10</text><text x="1.8" y="-5.3" font-size="6.8" font-weight="bold">1</text></g><g transform="translate(204.95 79.25) rotate(-90)"><text x="-7.3" y="0" font-size="8.3" font-weight="bold">10</text><text x="1.8" y="-5.3" font-size="6.8" font-weight="bold">2</text></g><g transform="translate(204.95 52.88) rotate(-90)"><text x="-7.3" y="0" font-size="8.3" font-weight="bold">10</text><text x="1.8" y="-5.3" font-size="6.8" font-weight="bold">3</text></g><g transform="translate(204.95 26.50) rotate(-90)"><text x="-7.3" y="0" font-size="8.3" font-weight="bold">10</text><text x="1.8" y="-5.3" font-size="6.8" font-weight="bold">4</text></g><text x="250.43" y="156.00" font-size="9" font-weight="bold" textLength="41.4" lengthAdjust="spacingAndGlyphs">CD34 FITC</text><text transform="translate(193.25 80.85) rotate(-90)" x="-17.75" font-size="9" font-weight="bold" textLength="35.5" lengthAdjust="spacingAndGlyphs">KELL-PE</text><text x="214.80" y="44.40" font-size="8.6" font-weight="bold" letter-spacing="0.65">37%</text><text x="285.80" y="44.40" font-size="8.6" font-weight="bold" letter-spacing="0.65">40%</text><text x="285.80" y="55.90" font-size="8.6" font-weight="bold" letter-spacing="0.00">Day 4</text><text x="290.80" y="120.40" font-size="8.6" font-weight="bold" letter-spacing="0.65">20%</text>
<g fill="none" stroke-width="1"><path d="M0 0.5m419 46h1m1 13h1m-13 2h1m-1 1h1m1 0h1m4 0h1m5 0h1m3 0h1m-19 1h1m2 0h1m0 0h1m0 0h1m0 0h1m3 0h1m1 0h1m3 0h1m1 0h1m-25 1h1m7 0h1m0 0h1m0 0h1m0 0h1m1 0h1m0 0h1m0 0h1m0 0h1m0 0h1m0 0h1m0 0h1m1 0h1m2 0h1m1 0h1m-19 1h1m0 0h1m0 0h1m1 0h1m0 0h1m0 0h1m2 0h1m0 0h1m0 0h1m0 0h1m0 0h1m1 0h1m2 0h1m1 0h1m0 0h1m8 0h1m-37 1h1m1 0h1m1 0h1m0 0h1m0 0h1m0 0h1m0 0h1m0 0h1m0 0h1m0 0h1m0 0h1m0 0h1m0 0h1m0 0h1m0 0h1m0 0h1m0 0h1m0 0h1m0 0h1m0 0h1m-22 1h1m1 0h1m0 0h1m1 0h1m0 0h1m1 0h1m1 0h1m0 0h1m0 0h1m0 0h1m1 0h1m0 0h1m0 0h1m0 0h1m1 0h1m0 0h1m0 0h1m3 0h1m-25 1h1m0 0h1m3 0h1m0 0h1m0 0h1m0 0h1m0 0h1m0 0h1m0 0h1m0 0h1m0 0h1m1 0h1m0 0h1m1 0h1m0 0h1m0 0h1m0 0h1m3 0h1m4 0h1m-36 1h1m0 0h1m3 0h1m0 0h1m0 0h1m2 0h1m0 0h1m0 0h1m0 0h1m0 0h1m0 0h1m0 0h1m0 0h1m0 0h1m0 0h1m1 0h1m0 0h1m0 0h1m0 0h1m1 0h1m0 0h1m-29 1h1m4 0h1m0 0h1m1 0h1m0 0h1m1 0h1m0 0h1m0 0h1m0 0h1m0 0h1m0 0h1m0 0h1m0 0h1m0 0h1m0 0h1m0 0h1m0 0h1m0 0h1m1 0h1m0 0h1m0 0h1m0 0h1m3 0h1m-30 1h1m0 0h1m3 0h1m0 0h1m0 0h1m1 0h1m1 0h1m1 0h1m0 0h1m0 0h1m0 0h1m0 0h1m0 0h1m1 0h1m0 0h1m0 0h1m0 0h1m1 0h1m5 0h1m-31 1h1m3 0h1m0 0h1m0 0h1m0 0h1m0 0h1m0 0h1m0 0h1m0 0h1m0 0h1m0 0h1m0 0h1m0 0h1m0 0h1m0 0h1m0 0h1m0 0h1m0 0h1m0 0h1m0 0h1m5 0h1m-25 1h1m2 0h1m1 0h1m1 0h1m0 0h1m0 0h1m1 0h1m0 0h1m0 0h1m0 0h1m1 0h1m2 0h1m2 0h1m1 0h1m6 0h1m-36 1h1m1 0h1m0 0h1m0 0h1m0 0h1m0 0h1m0 0h1m2 0h1m0 0h1m0 0h1m0 0h1m0 0h1m0 0h1m0 0h1m0 0h1m0 0h1m1 0h1m3 0h1m0 0h1m-24 1h1m4 0h1m0 0h1m0 0h1m0 0h1m1 0h1m0 0h1m0 0h1m0 0h1m0 0h1m0 0h1m0 0h1m4 0h1m2 0h1m4 0h1m1 0h1m-35 1h1m3 0h1m0 0h1m2 0h1m0 0h1m0 0h1m1 0h1m0 0h1m1 0h1m5 0h1m0 0h1m4 0h1m-27 1h1m0 0h1m0 0h1m0 0h1m2 0h1m3 0h1m0 0h1m0 0h1m0 0h1m0 0h1m6 0h1m-19 1h1m4 0h1m0 0h1m0 0h1m0 0h1m0 0h1m0 0h1m0 0h1m0 0h1m0 0h1m2 0h1m3 0h1m1 0h1m5 0h1m-32 1h1m3 0h1m0 0h1m0 0h1m2 0h1m0 0h1m0 0h1m1 0h1m1 0h1m0 0h1m0 0h1m0 0h1m5 0h1m-21 1h1m0 0h1m0 0h1m0 0h1m0 0h1m0 0h1m0 0h1m0 0h1m0 0h1m0 0h1m0 0h1m1 0h1m0 0h1m0 0h1m0 0h1m-29 1h1m7 0h1m3 0h1m0 0h1m1 0h1m0 0h1m0 0h1m0 0h1m1 0h1m0 0h1m0 0h1m0 0h1m0 0h1m1 0h1m1 0h1m2 0h1m-17 1h1m0 0h1m0 0h1m0 0h1m0 0h1m0 0h1m0 0h1m0 0h1m0 0h1m0 0h1m0 0h1m1 0h1m1 0h1m1 0h1m-20 1h1m0 0h1m2 0h1m0 0h1m0 0h1m0 0h1m1 0h1m0 0h1m0 0h1m1 0h1m2 0h1m0 0h1m16 0h1m0 0h1m-36 1h1m1 0h1m0 0h1m0 0h1m0 0h1m0 0h1m0 0h1m0 0h1m0 0h1m3 0h1m0 0h1m0 0h1m6 0h1m3 0h1m-32 1h1m5 0h1m0 0h1m0 0h1m1 0h1m0 0h1m0 0h1m0 0h1m0 0h1m0 0h1m1 0h1m1 0h1m0 0h1m-20 1h1m1 0h1m0 0h1m1 0h1m0 0h1m0 0h1m0 0h1m0 0h1m0 0h1m0 0h1m0 0h1m0 0h1m0 0h1m0 0h1m0 0h1m0 0h1m0 0h1m7 0h1m-20 1h1m0 0h1m1 0h1m0 0h1m0 0h1m0 0h1m1 0h1m0 0h1m0 0h1m0 0h1m0 0h1m1 0h1m-17 1h1m0 0h1m0 0h1m0 0h1m0 0h1m0 0h1m0 0h1m0 0h1m0 0h1m0 0h1m1 0h1m0 0h1m2 0h1m3 0h1m-25 1h1m3 0h1m1 0h1m1 0h1m0 0h1m0 0h1m0 0h1m0 0h1m0 0h1m0 0h1m0 0h1m0 0h1m1 0h1m1 0h1m1 0h1m0 0h1m-26 1h1m5 0h1m4 0h1m0 0h1m0 0h1m0 0h1m0 0h1m0 0h1m0 0h1m0 0h1m0 0h1m1 0h1m0 0h1m2 0h1m-20 1h1m1 0h1m0 0h1m0 0h1m0 0h1m0 0h1m1 0h1m0 0h1m0 0h1m0 0h1m2 0h1m-16 1h1m0 0h1m0 0h1m1 0h1m0 0h1m0 0h1m0 0h1m0 0h1m0 0h1m0 0h1m0 0h1m0 0h1m0 0h1m0 0h1m0 0h1m0 0h1m1 0h1m19 0h1m-39 1h1m1 0h1m0 0h1m0 0h1m0 0h1m0 0h1m0 0h1m0 0h1m0 0h1m0 0h1m0 0h1m0 0h1m0 0h1m0 0h1m0 0h1m0 0h1m0 0h1m-19 1h1m0 0h1m1 0h1m0 0h1m0 0h1m0 0h1m0 0h1m0 0h1m0 0h1m0 0h1m0 0h1m0 0h1m0 0h1m0 0h1m1 0h1m0 0h1m2 0h1m7 0h1m-33 1h1m3 0h1m2 0h1m1 0h1m0 0h1m1 0h1m0 0h1m0 0h1m0 0h1m0 0h1m1 0h1m0 0h1m0 0h1m0 0h1m1 0h1m0 0h1m0 0h1m-21 1h1m0 0h1m5 0h1m0 0h1m0 0h1m1 0h1m2 0h1m5 0h1m1 0h1m-23 1h1m0 0h1m0 0h1m1 0h1m0 0h1m0 0h1m1 0h1m0 0h1m0 0h1m1 0h1m1 0h1m0 0h1m-10 1h1m0 0h1m0 0h1m0 0h1m0 0h1m0 0h1m0 0h1m0 0h1m1 0h1m0 0h1m28 0h1m-47 1h1m1 0h1m2 0h1m0 0h1m0 0h1m0 0h1m0 0h1m0 0h1m0 0h1m0 0h1m1 0h1m5 0h1m-19 1h1m1 0h1m0 0h1m0 0h1m0 0h1m0 0h1m12 0h1m-24 1h1m8 0h1m0 0h1m0 0h1m0 0h1m1 0h1m2 0h1m0 0h1m25 0h1m-44 1h1m1 0h1m2 0h1m1 0h1m0 0h1m1 0h1m1 0h1m0 0h1m2 0h1m1 0h1m3 0h1m-18 1h1m1 0h1m0 0h1m0 0h1m0 0h1m3 0h1m0 0h1m-11 1h1m2 0h1m0 0h1m1 0h1m1 0h1m0 0h1m1 0h1m-6 1h1m1 0h1m5 0h1m22 0h1m-37 1h1m0 0h1m1 0h1m1 0h1m0 0h1m2 0h1m3 0h1m16 0h1m-30 1h1m2 0h1m7 0h1m4 0h1m10 0h1m7 0h1m-37 1h1m4 0h1m1 0h1m2 0h1m-4 1h1m15 0h1m9 0h1m-27 1h1m20 0h1m-23 1h1m0 0h1m14 0h1m9 0h1m8 0h1m-26 1h1m8 0h1m2 0h1m7 0h1m-30 1h1m15 0h1m3 0h1m0 0h1m3 0h1m6 0h1m-27 1h1m11 0h1m11 0h1m-41 1h1m10 0h1m30 0h1m-17 1h1m0 0h1m5 0h1m-33 1h1m18 0h1m16 0h1m-31 1h1m24 0h1m6 0h1m-3 1h1m0 0h1m2 0h1m-18 1h1m6 1h1m8 1h1m-12 1h1m-16 2h1" stroke="#666"/><path d="M0 0.5m485 36h1m-71 17h1m-1 6h1m-9 3h1m3 0h1m4 0h1m0 0h1m0 0h1m0 0h1m1 0h1m-13 1h1m0 0h1m0 0h1m0 0h1m0 0h1m0 0h1m0 0h1m2 0h1m2 0h1m8 0h1m0 0h1m-29 1h1m1 0h1m1 0h1m3 0h1m1 0h1m1 0h1m3 0h1m0 0h1m1 0h1m5 0h1m1 0h1m0 0h1m-30 1h1m7 0h1m0 0h1m0 0h1m0 0h1m1 0h1m0 0h1m0 0h1m0 0h1m1 0h1m1 0h1m1 0h1m3 0h1m-22 1h1m2 0h1m0 0h1m0 0h1m0 0h1m0 0h1m0 0h1m1 0h1m0 0h1m0 0h1m0 0h1m0 0h1m1 0h1m2 0h1m1 0h1m-23 1h1m4 0h1m0 0h1m0 0h1m0 0h1m0 0h1m0 0h1m0 0h1m0 0h1m1 0h1m0 0h1m0 0h1m0 0h1m0 0h1m0 0h1m0 0h1m0 0h1m-23 1h1m3 0h1m0 0h1m0 0h1m0 0h1m0 0h1m0 0h1m0 0h1m1 0h1m0 0h1m0 0h1m0 0h1m0 0h1m0 0h1m0 0h1m0 0h1m0 0h1m-26 1h1m1 0h1m4 0h1m0 0h1m5 0h1m0 0h1m0 0h1m0 0h1m0 0h1m0 0h1m2 0h1m1 0h1m0 0h1m2 0h1m0 0h1m0 0h1m-29 1h1m2 0h1m0 0h1m0 0h1m1 0h1m0 0h1m0 0h1m0 0h1m1 0h1m0 0h1m1 0h1m0 0h1m0 0h1m0 0h1m0 0h1m0 0h1m1 0h1m0 0h1m1 0h1m2 0h1m1 0h1m0 0h1m-27 1h1m0 0h1m1 0h1m0 0h1m0 0h1m1 0h1m0 0h1m0 0h1m0 0h1m0 0h1m0 0h1m1 0h1m0 0h1m0 0h1m1 0h1m1 0h1m0 0h1m0 0h1m0 0h1m0 0h1m68 0h1m-97 1h1m0 0h1m5 0h1m1 0h1m0 0h1m0 0h1m0 0h1m0 0h1m0 0h1m0 0h1m0 0h1m0 0h1m0 0h1m0 0h1m1 0h1m0 0h1m0 0h1m1 0h1m-27 1h1m0 0h1m1 0h1m1 0h1m0 0h1m0 0h1m1 0h1m0 0h1m0 0h1m0 0h1m0 0h1m0 0h1m0 0h1m0 0h1m0 0h1m0 0h1m0 0h1m0 0h1m0 0h1m0 0h1m3 0h1m0 0h1m1 0h1m-30 1h1m0 0h1m0 0h1m3 0h1m0 0h1m0 0h1m0 0h1m0 0h1m0 0h1m0 0h1m0 0h1m0 0h1m0 0h1m0 0h1m0 0h1m0 0h1m0 0h1m3 0h1m-24 1h1m6 0h1m1 0h1m1 0h1m1 0h1m0 0h1m0 0h1m1 0h1m0 0h1m0 0h1m0 0h1m1 0h1m2 0h1m8 0h1m-33 1h1m3 0h1m1 0h1m0 0h1m0 0h1m0 0h1m0 0h1m0 0h1m0 0h1m0 0h1m0 0h1m0 0h1m0 0h1m2 0h1m1 0h1m0 0h1m-27 1h1m3 0h1m3 0h1m2 0h1m0 0h1m1 0h1m0 0h1m0 0h1m0 0h1m0 0h1m1 0h1m0 0h1m0 0h1m5 0h1m-28 1h1m4 0h1m1 0h1m0 0h1m0 0h1m0 0h1m1 0h1m0 0h1m0 0h1m1 0h1m0 0h1m0 0h1m0 0h1m1 0h1m1 0h1m4 0h1m1 0h1m-27 1h1m0 0h1m0 0h1m0 0h1m1 0h1m0 0h1m0 0h1m1 0h1m0 0h1m0 0h1m2 0h1m1 0h1m2 0h1m18 0h1m-41 1h1m1 0h1m0 0h1m0 0h1m1 0h1m0 0h1m0 0h1m0 0h1m0 0h1m1 0h1m1 0h1m0 0h1m0 0h1m0 0h1m0 0h1m0 0h1m3 0h1m-22 1h1m1 0h1m0 0h1m0 0h1m0 0h1m0 0h1m0 0h1m0 0h1m0 0h1m0 0h1m0 0h1m0 0h1m2 0h1m-16 1h1m1 0h1m2 0h1m2 0h1m0 0h1m0 0h1m0 0h1m0 0h1m0 0h1m1 0h1m3 0h1m2 0h1m-29 1h1m6 0h1m2 0h1m0 0h1m0 0h1m0 0h1m0 0h1m0 0h1m0 0h1m0 0h1m0 0h1m0 0h1m0 0h1m1 0h1m4 0h1m-21 1h1m1 0h1m1 0h1m1 0h1m0 0h1m0 0h1m0 0h1m0 0h1m0 0h1m0 0h1m0 0h1m1 0h1m2 0h1m-19 1h1m0 0h1m0 0h1m0 0h1m0 0h1m0 0h1m0 0h1m0 0h1m0 0h1m0 0h1m0 0h1m0 0h1m0 0h1m1 0h1m4 0h1m-17 1h1m0 0h1m0 0h1m0 0h1m0 0h1m1 0h1m0 0h1m0 0h1m0 0h1m0 0h1m0 0h1m-27 1h1m9 0h1m0 0h1m1 0h1m1 0h1m0 0h1m0 0h1m1 0h1m1 0h1m0 0h1m0 0h1m0 0h1m0 0h1m0 0h1m0 0h1m2 0h1m-20 1h1m1 0h1m0 0h1m0 0h1m0 0h1m0 0h1m1 0h1m1 0h1m0 0h1m0 0h1m0 0h1m3 0h1m1 0h1m-26 1h1m6 0h1m0 0h1m0 0h1m1 0h1m0 0h1m0 0h1m0 0h1m0 0h1m0 0h1m0 0h1m0 0h1m0 0h1m2 0h1m0 0h1m8 0h1m-32 1h1m3 0h1m3 0h1m0 0h1m1 0h1m1 0h1m1 0h1m1 0h1m1 0h1m0 0h1m1 0h1m2 0h1m10 0h1m-36 1h1m5 0h1m0 0h1m0 0h1m0 0h1m1 0h1m0 0h1m0 0h1m0 0h1m2 0h1m0 0h1m0 0h1m0 0h1m0 0h1m2 0h1m0 0h1m-27 1h1m4 0h1m1 0h1m0 0h1m1 0h1m0 0h1m0 0h1m0 0h1m1 0h1m0 0h1m0 0h1m0 0h1m1 0h1m1 0h1m-18 1h1m1 0h1m1 0h1m0 0h1m0 0h1m0 0h1m0 0h1m0 0h1m0 0h1m0 0h1m0 0h1m1 0h1m0 0h1m0 0h1m0 0h1m-16 1h1m0 0h1m0 0h1m1 0h1m2 0h1m0 0h1m0 0h1m0 0h1m0 0h1m0 0h1m0 0h1m0 0h1m8 0h1m-21 1h1m0 0h1m0 0h1m0 0h1m2 0h1m0 0h1m0 0h1m5 0h1m-17 1h1m0 0h1m2 0h1m0 0h1m0 0h1m0 0h1m0 0h1m0 0h1m0 0h1m8 0h1m-22 1h1m2 0h1m0 0h1m1 0h1m0 0h1m2 0h1m0 0h1m0 0h1m0 0h1m4 0h1m4 0h1m-23 1h1m2 0h1m0 0h1m1 0h1m0 0h1m0 0h1m0 0h1m0 0h1m3 0h1m16 0h1m-35 1h1m3 0h1m0 0h1m0 0h1m3 0h1m0 0h1m0 0h1m0 0h1m8 0h1m-20 1h1m2 0h1m0 0h1m0 0h1m0 0h1m0 0h1m1 0h1m0 0h1m0 0h1m0 0h1m2 0h1m-20 1h1m6 0h1m1 0h1m0 0h1m0 0h1m1 0h1m1 0h1m0 0h1m2 0h1m17 0h1m0 0h1m5 0h1m0 0h1m-39 1h1m1 0h1m1 0h1m0 0h1m0 0h1m0 0h1m1 0h1m0 0h1m16 0h1m-34 1h1m9 0h1m1 0h1m1 0h1m0 0h1m1 0h1m-18 1h1m3 0h1m4 0h1m0 0h1m7 0h1m-28 1h1m7 0h1m5 0h1m2 0h1m2 0h1m2 0h1m-10 1h1m3 0h1m26 0h1m-26 1h1m1 0h1m0 0h1m11 0h1m2 0h1m2 0h1m7 0h1m-40 1h1m3 0h1m0 0h1m7 0h1m2 0h1m3 0h1m19 0h1m-36 1h1m3 0h1m20 0h1m-30 1h1m2 0h1m2 0h1m0 0h1m4 0h1m3 0h1m0 0h1m26 0h1m-50 1h1m11 0h1m15 0h1m0 0h1m4 0h1m1 0h1m7 0h1m7 0h1m-39 1h1m16 0h1m-20 1h1m16 0h1m1 0h1m0 0h1m12 0h1m-43 1h1m9 0h1m2 0h1m7 0h1m0 0h1m6 0h1m4 0h1m3 0h1m-12 1h1m5 0h1m5 0h1m-38 1h1m6 0h1m22 0h1m5 0h1m-29 1h1m18 0h1m-1 1h1m9 0h1m0 1h1m2 3h1m-10 1h1m-24 1h1m15 4h1m-1 1h1" stroke="#3c3c3c"/><path d="M0 0.5m414 59h1m0 2h1m-8 1h1m4 0h1m15 0h1m-29 1h1m3 0h1m2 0h1m2 0h1m0 0h1m1 0h1m0 0h1m2 0h1m1 0h1m7 0h1m-28 1h1m5 0h1m3 0h1m4 0h1m0 0h1m0 0h1m0 0h1m2 0h1m0 0h1m2 0h1m-24 1h1m0 0h1m1 0h1m3 0h1m0 0h1m0 0h1m2 0h1m0 0h1m0 0h1m2 0h1m1 0h1m2 0h1m0 0h1m-23 1h1m4 0h1m0 0h1m0 0h1m1 0h1m0 0h1m0 0h1m2 0h1m0 0h1m0 0h1m0 0h1m0 0h1m0 0h1m0 0h1m0 0h1m1 0h1m1 0h1m2 0h1m-32 1h1m4 0h1m1 0h1m0 0h1m0 0h1m0 0h1m1 0h1m0 0h1m1 0h1m0 0h1m0 0h1m0 0h1m0 0h1m0 0h1m1 0h1m0 0h1m1 0h1m0 0h1m0 0h1m0 0h1m4 0h1m-33 1h1m2 0h1m0 0h1m1 0h1m0 0h1m0 0h1m0 0h1m0 0h1m0 0h1m0 0h1m0 0h1m0 0h1m0 0h1m0 0h1m0 0h1m0 0h1m0 0h1m0 0h1m0 0h1m0 0h1m0 0h1m1 0h1m2 0h1m-28 1h1m3 0h1m1 0h1m0 0h1m1 0h1m0 0h1m0 0h1m0 0h1m1 0h1m0 0h1m0 0h1m0 0h1m0 0h1m0 0h1m0 0h1m0 0h1m0 0h1m0 0h1m3 0h1m2 0h1m-31 1h1m2 0h1m1 0h1m0 0h1m1 0h1m0 0h1m0 0h1m0 0h1m1 0h1m0 0h1m0 0h1m1 0h1m0 0h1m0 0h1m0 0h1m0 0h1m0 0h1m0 0h1m1 0h1m0 0h1m2 0h1m-31 1h1m1 0h1m0 0h1m1 0h1m2 0h1m0 0h1m0 0h1m1 0h1m0 0h1m0 0h1m0 0h1m0 0h1m0 0h1m0 0h1m0 0h1m0 0h1m0 0h1m0 0h1m0 0h1m0 0h1m0 0h1m0 0h1m3 0h1m0 0h1m-28 1h1m0 0h1m1 0h1m0 0h1m2 0h1m0 0h1m0 0h1m0 0h1m0 0h1m0 0h1m0 0h1m0 0h1m0 0h1m0 0h1m0 0h1m0 0h1m0 0h1m1 0h1m6 0h1m-31 1h1m2 0h1m0 0h1m0 0h1m0 0h1m0 0h1m0 0h1m0 0h1m0 0h1m0 0h1m0 0h1m0 0h1m0 0h1m0 0h1m0 0h1m0 0h1m1 0h1m2 0h1m1 0h1m0 0h1m0 0h1m-31 1h1m4 0h1m0 0h1m0 0h1m2 0h1m1 0h1m0 0h1m0 0h1m0 0h1m0 0h1m0 0h1m0 0h1m0 0h1m1 0h1m0 0h1m0 0h1m0 0h1m0 0h1m0 0h1m1 0h1m0 0h1m0 0h1m1 0h1m3 0h1m14 0h1m40 0h1m-88 1h1m1 0h1m0 0h1m1 0h1m0 0h1m0 0h1m0 0h1m0 0h1m0 0h1m0 0h1m1 0h1m0 0h1m0 0h1m0 0h1m1 0h1m0 0h1m0 0h1m-17 1h1m0 0h1m1 0h1m2 0h1m0 0h1m0 0h1m0 0h1m0 0h1m3 0h1m0 0h1m-18 1h1m0 0h1m0 0h1m0 0h1m0 0h1m0 0h1m0 0h1m1 0h1m0 0h1m0 0h1m0 0h1m0 0h1m0 0h1m0 0h1m0 0h1m0 0h1m1 0h1m2 0h1m-25 1h1m1 0h1m1 0h1m0 0h1m2 0h1m5 0h1m0 0h1m0 0h1m0 0h1m2 0h1m-21 1h1m2 0h1m0 0h1m0 0h1m0 0h1m2 0h1m2 0h1m0 0h1m0 0h1m1 0h1m0 0h1m-22 1h1m8 0h1m0 0h1m0 0h1m0 0h1m0 0h1m0 0h1m0 0h1m0 0h1m1 0h1m0 0h1m0 0h1m0 0h1m1 0h1m-16 1h1m1 0h1m0 0h1m0 0h1m0 0h1m4 0h1m2 0h1m6 0h1m-26 1h1m2 0h1m3 0h1m2 0h1m0 0h1m0 0h1m0 0h1m0 0h1m0 0h1m1 0h1m0 0h1m0 0h1m0 0h1m0 0h1m-16 1h1m0 0h1m0 0h1m1 0h1m0 0h1m0 0h1m1 0h1m0 0h1m0 0h1m2 0h1m1 0h1m-16 1h1m1 0h1m0 0h1m1 0h1m0 0h1m0 0h1m0 0h1m0 0h1m1 0h1m1 0h1m0 0h1m-19 1h1m0 0h1m0 0h1m0 0h1m0 0h1m0 0h1m1 0h1m0 0h1m0 0h1m0 0h1m0 0h1m0 0h1m0 0h1m0 0h1m0 0h1m0 0h1m5 0h1m-37 1h1m13 0h1m0 0h1m2 0h1m0 0h1m0 0h1m0 0h1m0 0h1m0 0h1m0 0h1m0 0h1m0 0h1m0 0h1m0 0h1m0 0h1m0 0h1m1 0h1m0 0h1m0 0h1m-18 1h1m0 0h1m1 0h1m0 0h1m0 0h1m0 0h1m0 0h1m0 0h1m0 0h1m0 0h1m0 0h1m0 0h1m1 0h1m0 0h1m-17 1h1m1 0h1m0 0h1m0 0h1m0 0h1m0 0h1m0 0h1m0 0h1m0 0h1m0 0h1m0 0h1m0 0h1m0 0h1m0 0h1m0 0h1m0 0h1m0 0h1m-18 1h1m0 0h1m0 0h1m1 0h1m0 0h1m0 0h1m0 0h1m0 0h1m1 0h1m0 0h1m0 0h1m0 0h1m0 0h1m0 0h1m1 0h1m-13 1h1m0 0h1m0 0h1m0 0h1m0 0h1m0 0h1m1 0h1m0 0h1m1 0h1m0 0h1m-19 1h1m3 0h1m0 0h1m1 0h1m0 0h1m0 0h1m0 0h1m0 0h1m0 0h1m0 0h1m3 0h1m2 0h1m-22 1h1m2 0h1m0 0h1m2 0h1m0 0h1m0 0h1m0 0h1m0 0h1m0 0h1m0 0h1m0 0h1m0 0h1m0 0h1m0 0h1m0 0h1m0 0h1m0 0h1m-20 1h1m0 0h1m0 0h1m1 0h1m0 0h1m1 0h1m0 0h1m1 0h1m0 0h1m0 0h1m0 0h1m0 0h1m0 0h1m0 0h1m32 0h1m-51 1h1m0 0h1m2 0h1m2 0h1m0 0h1m1 0h1m1 0h1m0 0h1m0 0h1m0 0h1m0 0h1m0 0h1m1 0h1m0 0h1m-20 1h1m1 0h1m2 0h1m0 0h1m0 0h1m0 0h1m0 0h1m0 0h1m0 0h1m0 0h1m1 0h1m0 0h1m0 0h1m0 0h1m0 0h1m0 0h1m-13 1h1m2 0h1m0 0h1m0 0h1m1 0h1m0 0h1m1 0h1m0 0h1m0 0h1m-20 1h1m3 0h1m0 0h1m4 0h1m2 0h1m0 0h1m0 0h1m0 0h1m0 0h1m-16 1h1m1 0h1m2 0h1m0 0h1m0 0h1m1 0h1m0 0h1m0 0h1m2 0h1m0 0h1m-19 1h1m2 0h1m1 0h1m0 0h1m0 0h1m0 0h1m0 0h1m1 0h1m5 0h1m3 0h1m9 0h1m-23 1h1m0 0h1m0 0h1m2 0h1m1 0h1m1 0h1m-18 1h1m3 0h1m0 0h1m0 0h1m0 0h1m1 0h1m3 0h1m4 0h1m13 0h1m-32 1h1m0 0h1m3 0h1m4 0h1m2 0h1m1 0h1m-11 1h1m0 0h1m4 0h1m10 0h1m16 0h1m-40 1h1m8 0h1m2 0h1m0 0h1m0 0h1m0 0h1m10 0h1m21 0h1m-45 1h1m17 0h1m2 0h1m5 0h1m14 0h1m-51 1h1m2 0h1m4 0h1m0 0h1m0 0h1m2 0h1m5 0h1m1 0h1m12 0h1m4 0h1m2 0h1m-31 1h1m3 0h1m7 0h1m9 0h1m1 0h1m2 0h1m-6 1h1m-13 1h1m1 0h1m0 0h1m-14 1h1m6 0h1m1 0h1m11 0h1m-21 1h1m0 0h1m8 0h1m0 0h1m1 0h1m9 0h1m-19 1h1m16 0h1m-11 1h1m7 0h1m3 0h1m0 0h1m1 0h1m3 0h1m0 0h1m-32 1h1m0 0h1m11 0h1m10 0h1m1 0h1m-8 1h1m1 0h1m2 0h1m6 0h1m-36 1h1m7 0h1m1 1h1m23 0h1m-27 2h1m-13 1h1m10 0h1m16 0h1m6 0h1m4 0h1m-38 1h1m14 0h1m16 0h1m-29 1h1m24 0h1m2 0h1m-32 1h1m23 0h1m5 1h1m2 0h1m-7 4h1m-25 1h1m17 0h1" stroke="#222"/><path d="M0 0.5m437 41h1m-29 20h1m3 0h1m-8 1h1m2 0h1m4 0h1m6 0h1m-11 1h1m0 0h1m2 0h1m2 0h1m2 0h1m11 0h1m-29 1h1m2 0h1m0 0h1m3 0h1m2 0h1m2 0h1m0 0h1m1 0h1m1 0h1m0 0h1m-19 1h1m0 0h1m1 0h1m0 0h1m2 0h1m0 0h1m0 0h1m0 0h1m0 0h1m0 0h1m0 0h1m1 0h1m0 0h1m0 0h1m0 0h1m-23 1h1m2 0h1m2 0h1m1 0h1m0 0h1m1 0h1m0 0h1m0 0h1m0 0h1m0 0h1m0 0h1m0 0h1m3 0h1m0 0h1m1 0h1m-19 1h1m3 0h1m0 0h1m1 0h1m0 0h1m0 0h1m0 0h1m0 0h1m0 0h1m0 0h1m0 0h1m0 0h1m0 0h1m0 0h1m0 0h1m0 0h1m1 0h1m0 0h1m1 0h1m2 0h1m-36 1h1m2 0h1m3 0h1m0 0h1m2 0h1m0 0h1m0 0h1m0 0h1m0 0h1m0 0h1m0 0h1m1 0h1m0 0h1m0 0h1m0 0h1m0 0h1m1 0h1m1 0h1m0 0h1m2 0h1m4 0h1m-33 1h1m2 0h1m0 0h1m2 0h1m0 0h1m0 0h1m0 0h1m0 0h1m1 0h1m0 0h1m0 0h1m0 0h1m0 0h1m1 0h1m0 0h1m1 0h1m-27 1h1m3 0h1m3 0h1m0 0h1m0 0h1m1 0h1m0 0h1m0 0h1m0 0h1m0 0h1m0 0h1m0 0h1m0 0h1m1 0h1m0 0h1m0 0h1m1 0h1m4 0h1m-27 1h1m1 0h1m1 0h1m0 0h1m0 0h1m0 0h1m0 0h1m0 0h1m0 0h1m1 0h1m0 0h1m0 0h1m0 0h1m0 0h1m2 0h1m0 0h1m0 0h1m2 0h1m2 0h1m0 0h1m-29 1h1m1 0h1m0 0h1m1 0h1m0 0h1m0 0h1m0 0h1m0 0h1m0 0h1m0 0h1m0 0h1m0 0h1m0 0h1m0 0h1m0 0h1m1 0h1m2 0h1m0 0h1m1 0h1m-22 1h1m0 0h1m0 0h1m0 0h1m0 0h1m1 0h1m0 0h1m0 0h1m0 0h1m0 0h1m0 0h1m1 0h1m0 0h1m0 0h1m1 0h1m0 0h1m2 0h1m-23 1h1m1 0h1m0 0h1m1 0h1m0 0h1m1 0h1m0 0h1m0 0h1m0 0h1m0 0h1m1 0h1m3 0h1m0 0h1m1 0h1m-27 1h1m5 0h1m2 0h1m0 0h1m1 0h1m0 0h1m0 0h1m0 0h1m0 0h1m2 0h1m0 0h1m2 0h1m12 0h1m-32 1h1m2 0h1m0 0h1m0 0h1m0 0h1m0 0h1m1 0h1m0 0h1m0 0h1m0 0h1m1 0h1m0 0h1m0 0h1m2 0h1m5 0h1m-29 1h1m1 0h1m2 0h1m0 0h1m1 0h1m0 0h1m0 0h1m0 0h1m0 0h1m0 0h1m0 0h1m2 0h1m0 0h1m3 0h1m-25 1h1m5 0h1m2 0h1m0 0h1m0 0h1m1 0h1m0 0h1m0 0h1m0 0h1m2 0h1m1 0h1m1 0h1m-17 1h1m1 0h1m0 0h1m1 0h1m0 0h1m0 0h1m0 0h1m1 0h1m1 0h1m0 0h1m0 0h1m0 0h1m9 0h1m-32 1h1m2 0h1m2 0h1m0 0h1m0 0h1m1 0h1m0 0h1m0 0h1m0 0h1m0 0h1m0 0h1m0 0h1m0 0h1m-27 1h1m12 0h1m1 0h1m0 0h1m0 0h1m2 0h1m0 0h1m0 0h1m0 0h1m1 0h1m2 0h1m-19 1h1m1 0h1m2 0h1m0 0h1m0 0h1m0 0h1m0 0h1m0 0h1m0 0h1m2 0h1m1 0h1m0 0h1m0 0h1m0 0h1m-24 1h1m7 0h1m0 0h1m0 0h1m0 0h1m0 0h1m0 0h1m0 0h1m1 0h1m0 0h1m0 0h1m0 0h1m0 0h1m0 0h1m2 0h1m8 0h1m-27 1h1m1 0h1m0 0h1m0 0h1m0 0h1m0 0h1m0 0h1m0 0h1m0 0h1m0 0h1m0 0h1m0 0h1m0 0h1m1 0h1m1 0h1m1 0h1m-20 1h1m0 0h1m1 0h1m0 0h1m0 0h1m1 0h1m0 0h1m0 0h1m0 0h1m0 0h1m0 0h1m0 0h1m0 0h1m0 0h1m0 0h1m2 0h1m-19 1h1m0 0h1m0 0h1m0 0h1m1 0h1m0 0h1m1 0h1m0 0h1m1 0h1m-20 1h1m6 0h1m1 0h1m2 0h1m1 0h1m0 0h1m0 0h1m0 0h1m2 0h1m-18 1h1m4 0h1m0 0h1m1 0h1m0 0h1m0 0h1m0 0h1m0 0h1m0 0h1m0 0h1m0 0h1m0 0h1m1 0h1m3 0h1m-21 1h1m3 0h1m0 0h1m1 0h1m0 0h1m1 0h1m0 0h1m0 0h1m0 0h1m1 0h1m0 0h1m0 0h1m0 0h1m2 0h1m0 0h1m0 0h1m-20 1h1m1 0h1m0 0h1m0 0h1m0 0h1m1 0h1m0 0h1m0 0h1m0 0h1m1 0h1m0 0h1m0 0h1m56 0h1m-75 1h1m1 0h1m2 0h1m0 0h1m0 0h1m0 0h1m0 0h1m0 0h1m0 0h1m0 0h1m0 0h1m0 0h1m1 0h1m3 0h1m-20 1h1m1 0h1m1 0h1m0 0h1m0 0h1m0 0h1m0 0h1m0 0h1m1 0h1m0 0h1m0 0h1m0 0h1m9 0h1m-27 1h1m2 0h1m0 0h1m2 0h1m0 0h1m0 0h1m2 0h1m1 0h1m0 0h1m3 0h1m11 0h1m-29 1h1m0 0h1m0 0h1m0 0h1m0 0h1m0 0h1m0 0h1m0 0h1m0 0h1m0 0h1m0 0h1m0 0h1m0 0h1m-15 1h1m1 0h1m0 0h1m0 0h1m0 0h1m1 0h1m0 0h1m0 0h1m0 0h1m0 0h1m0 0h1m17 0h1m-36 1h1m3 0h1m1 0h1m0 0h1m0 0h1m1 0h1m1 0h1m0 0h1m0 0h1m3 0h1m0 0h1m7 0h1m-21 1h1m2 0h1m0 0h1m0 0h1m0 0h1m0 0h1m0 0h1m0 0h1m0 0h1m0 0h1m0 0h1m4 0h1m-19 1h1m0 0h1m2 0h1m0 0h1m1 0h1m0 0h1m0 0h1m0 0h1m0 0h1m0 0h1m1 0h1m3 0h1m3 0h1m-23 1h1m3 0h1m2 0h1m0 0h1m0 0h1m1 0h1m0 0h1m1 0h1m0 0h1m-14 1h1m0 0h1m1 0h1m0 0h1m0 0h1m0 0h1m0 0h1m0 0h1m1 0h1m0 0h1m0 0h1m0 0h1m2 0h1m12 0h1m-32 1h1m2 0h1m1 0h1m6 0h1m2 0h1m16 0h1m-33 1h1m4 0h1m0 0h1m4 0h1m3 0h1m0 0h1m0 0h1m1 0h1m-24 1h1m10 0h1m2 0h1m0 0h1m1 0h1m-17 1h1m2 0h1m3 0h1m1 0h1m0 0h1m2 0h1m0 0h1m2 0h1m2 0h1m17 0h1m-35 1h1m3 0h1m5 0h1m-9 1h1m2 0h1m3 0h1m1 0h1m0 0h1m4 0h1m7 0h1m-24 1h1m3 0h1m2 0h1m0 0h1m2 0h1m2 0h1m1 0h1m1 0h1m11 0h1m2 0h1m4 0h1m-35 1h1m1 0h1m2 0h1m0 0h1m12 0h1m2 0h1m2 0h1m-16 1h1m9 0h1m1 0h1m5 0h1m-35 1h1m24 0h1m7 0h1m-28 1h1m21 0h1m9 0h1m-34 1h1m4 0h1m0 0h1m17 0h1m1 0h1m7 0h1m-34 1h1m16 0h1m-10 1h1m8 0h1m3 0h1m2 0h1m1 0h1m-34 1h1m20 0h1m4 0h1m2 0h1m3 0h1m1 0h1m-1 1h1m2 0h1m1 0h1m-15 1h1m0 0h1m2 0h1m-3 1h1m5 0h1m1 0h1m1 1h1m-29 1h1m2 0h1m26 0h1m11 0h1m-28 1h1m15 0h1m-9 1h1m-29 1h1m37 0h1" stroke="#111"/></g>
<rect x="390.50" y="28.00" width="114.90" height="105.00" fill="none" stroke="#111" stroke-width="1.3"/><path d="M390.50 28.00V133.00H505.40" fill="none" stroke="#000" stroke-width="2"/><path d="M390.50 133.00v3.50M390.50 133.00h-3.50M399.15 133.00v2.00M390.50 125.10h-2.00M404.21 133.00v2.00M390.50 120.48h-2.00M407.79 133.00v2.00M390.50 117.20h-2.00M410.58 133.00v2.00M390.50 114.65h-2.00M412.85 133.00v2.00M390.50 112.57h-2.00M414.78 133.00v2.00M390.50 110.82h-2.00M416.44 133.00v2.00M390.50 109.29h-2.00M417.91 133.00v2.00M390.50 107.95h-2.00M419.23 133.00v3.50M390.50 106.75h-3.50M427.87 133.00v2.00M390.50 98.85h-2.00M432.93 133.00v2.00M390.50 94.23h-2.00M436.52 133.00v2.00M390.50 90.95h-2.00M439.30 133.00v2.00M390.50 88.40h-2.00M441.58 133.00v2.00M390.50 86.32h-2.00M443.50 133.00v2.00M390.50 84.57h-2.00M445.17 133.00v2.00M390.50 83.04h-2.00M446.64 133.00v2.00M390.50 81.70h-2.00M447.95 133.00v3.50M390.50 80.50h-3.50M456.60 133.00v2.00M390.50 72.60h-2.00M461.66 133.00v2.00M390.50 67.98h-2.00M465.24 133.00v2.00M390.50 64.70h-2.00M468.03 133.00v2.00M390.50 62.15h-2.00M470.30 133.00v2.00M390.50 60.07h-2.00M472.23 133.00v2.00M390.50 58.32h-2.00M473.89 133.00v2.00M390.50 56.79h-2.00M475.36 133.00v2.00M390.50 55.45h-2.00M476.67 133.00v3.50M390.50 54.25h-3.50M485.32 133.00v2.00M390.50 46.35h-2.00M490.38 133.00v2.00M390.50 41.73h-2.00M493.97 133.00v2.00M390.50 38.45h-2.00M496.75 133.00v2.00M390.50 35.90h-2.00M499.03 133.00v2.00M390.50 33.82h-2.00M500.95 133.00v2.00M390.50 32.07h-2.00M502.62 133.00v2.00M390.50 30.54h-2.00M504.09 133.00v2.00M390.50 29.20h-2.00M505.40 133.00v2.5M390.50 28.00h-2.5" stroke="#000" stroke-width="1"/><path d="M418.20 28.00V133.00M390.50 105.80H505.40" stroke="#222" stroke-width="1"/><text x="383.20" y="147.00" font-size="8.3" font-weight="bold">10</text><text x="392.20" y="141.00" font-size="6.8" font-weight="bold">0</text><text x="411.93" y="147.00" font-size="8.3" font-weight="bold">10</text><text x="420.93" y="141.00" font-size="6.8" font-weight="bold">1</text><text x="440.65" y="147.00" font-size="8.3" font-weight="bold">10</text><text x="449.65" y="141.00" font-size="6.8" font-weight="bold">2</text><text x="469.37" y="147.00" font-size="8.3" font-weight="bold">10</text><text x="478.37" y="141.00" font-size="6.8" font-weight="bold">3</text><text x="498.10" y="147.00" font-size="8.3" font-weight="bold">10</text><text x="507.10" y="141.00" font-size="6.8" font-weight="bold">4</text><g transform="translate(381.70 133.00) rotate(-90)"><text x="-7.3" y="0" font-size="8.3" font-weight="bold">10</text><text x="1.8" y="-5.3" font-size="6.8" font-weight="bold">0</text></g><g transform="translate(381.70 106.75) rotate(-90)"><text x="-7.3" y="0" font-size="8.3" font-weight="bold">10</text><text x="1.8" y="-5.3" font-size="6.8" font-weight="bold">1</text></g><g transform="translate(381.70 80.50) rotate(-90)"><text x="-7.3" y="0" font-size="8.3" font-weight="bold">10</text><text x="1.8" y="-5.3" font-size="6.8" font-weight="bold">2</text></g><g transform="translate(381.70 54.25) rotate(-90)"><text x="-7.3" y="0" font-size="8.3" font-weight="bold">10</text><text x="1.8" y="-5.3" font-size="6.8" font-weight="bold">3</text></g><g transform="translate(381.70 28.00) rotate(-90)"><text x="-7.3" y="0" font-size="8.3" font-weight="bold">10</text><text x="1.8" y="-5.3" font-size="6.8" font-weight="bold">4</text></g><text x="427.25" y="157.00" font-size="9" font-weight="bold" textLength="41.4" lengthAdjust="spacingAndGlyphs">CD34-FITC</text><text transform="translate(370.00 82.10) rotate(-90)" x="-17.75" font-size="9" font-weight="bold" textLength="35.5" lengthAdjust="spacingAndGlyphs">KELL-PE</text><text x="395.30" y="45.90" font-size="8.6" font-weight="bold" letter-spacing="0.65">67%</text><text x="464.80" y="45.90" font-size="8.6" font-weight="bold" letter-spacing="0.65">28%</text><text x="464.80" y="57.40" font-size="8.6" font-weight="bold" letter-spacing="0.00">Day 6</text><text x="469.80" y="124.40" font-size="8.6" font-weight="bold" letter-spacing="0.65">10%</text>
<g fill="none" stroke-width="1"><path d="M0 0.5m73 244h1m33 1h1m-25 2h1m-18 1h1m-10 1h1m-10 4h1m49 0h1m0 0h1m-31 1h1m29 0h1m2 0h1m3 0h1m0 1h1m0 0h1m-12 1h1m1 0h1m7 0h1m-59 1h1m42 0h1m2 0h1m3 0h1m3 0h1m2 0h1m1 0h1m-35 1h1m21 0h1m0 0h1m0 0h1m1 0h1m1 0h1m0 0h1m0 0h1m-13 1h1m1 0h1m0 0h1m3 0h1m0 0h1m0 0h1m3 0h1m0 0h1m1 0h1m-32 1h1m8 0h1m1 0h1m3 0h1m3 0h1m0 0h1m3 0h1m0 0h1m0 0h1m1 0h1m0 0h1m2 0h1m3 0h1m0 0h1m-55 1h1m26 0h1m1 0h1m4 0h1m2 0h1m1 0h1m3 0h1m0 0h1m0 0h1m0 0h1m0 0h1m5 0h1m5 0h1m-56 1h1m1 0h1m17 0h1m9 0h1m1 0h1m0 0h1m0 0h1m2 0h1m0 0h1m0 0h1m0 0h1m0 0h1m2 0h1m1 0h1m-28 1h1m9 0h1m0 0h1m1 0h1m0 0h1m2 0h1m0 0h1m0 0h1m0 0h1m1 0h1m1 0h1m1 0h1m0 0h1m0 0h1m11 0h1m-41 1h1m11 0h1m5 0h1m0 0h1m0 0h1m1 0h1m1 0h1m0 0h1m0 0h1m0 0h1m0 0h1m-61 1h1m8 0h1m0 0h1m8 0h1m23 0h1m0 0h1m1 0h1m2 0h1m0 0h1m0 0h1m3 0h1m3 0h1m3 0h1m0 0h1m-57 1h1m2 0h1m2 0h1m3 0h1m1 0h1m11 0h1m4 0h1m2 0h1m3 0h1m0 0h1m0 0h1m1 0h1m1 0h1m0 0h1m0 0h1m1 0h1m0 0h1m1 0h1m0 0h1m0 0h1m3 0h1m-48 1h1m10 0h1m12 0h1m0 0h1m1 0h1m0 0h1m1 0h1m0 0h1m0 0h1m0 0h1m1 0h1m2 0h1m0 0h1m0 0h1m0 0h1m0 0h1m1 0h1m1 0h1m-52 1h1m0 0h1m5 0h1m0 0h1m8 0h1m1 0h1m3 0h1m1 0h1m3 0h1m0 0h1m1 0h1m1 0h1m0 0h1m0 0h1m0 0h1m0 0h1m0 0h1m0 0h1m0 0h1m0 0h1m0 0h1m0 0h1m0 0h1m0 0h1m0 0h1m1 0h1m1 0h1m-50 1h1m0 0h1m0 0h1m3 0h1m2 0h1m1 0h1m19 0h1m1 0h1m0 0h1m1 0h1m0 0h1m0 0h1m0 0h1m0 0h1m1 0h1m0 0h1m0 0h1m0 0h1m1 0h1m2 0h1m0 0h1m-59 1h1m1 0h1m2 0h1m1 0h1m1 0h1m1 0h1m2 0h1m7 0h1m3 0h1m2 0h1m0 0h1m0 0h1m3 0h1m0 0h1m2 0h1m0 0h1m1 0h1m0 0h1m0 0h1m1 0h1m0 0h1m0 0h1m1 0h1m0 0h1m5 0h1m-54 1h1m1 0h1m9 0h1m5 0h1m8 0h1m7 0h1m2 0h1m0 0h1m0 0h1m0 0h1m0 0h1m0 0h1m1 0h1m0 0h1m0 0h1m0 0h1m1 0h1m-52 1h1m1 0h1m2 0h1m1 0h1m6 0h1m10 0h1m1 0h1m0 0h1m6 0h1m1 0h1m0 0h1m0 0h1m0 0h1m0 0h1m1 0h1m0 0h1m0 0h1m3 0h1m0 0h1m-54 1h1m1 0h1m0 0h1m1 0h1m1 0h1m0 0h1m0 0h1m1 0h1m0 0h1m6 0h1m9 0h1m0 0h1m0 0h1m2 0h1m0 0h1m1 0h1m1 0h1m0 0h1m0 0h1m0 0h1m0 0h1m0 0h1m0 0h1m0 0h1m0 0h1m0 0h1m1 0h1m0 0h1m0 0h1m0 0h1m0 0h1m1 0h1m6 0h1m-62 1h1m2 0h1m2 0h1m0 0h1m0 0h1m1 0h1m1 0h1m1 0h1m0 0h1m8 0h1m0 0h1m3 0h1m3 0h1m0 0h1m1 0h1m1 0h1m0 0h1m0 0h1m3 0h1m0 0h1m2 0h1m0 0h1m2 0h1m0 0h1m-54 1h1m0 0h1m0 0h1m3 0h1m0 0h1m0 0h1m0 0h1m0 0h1m0 0h1m0 0h1m1 0h1m7 0h1m1 0h1m0 0h1m0 0h1m0 0h1m1 0h1m2 0h1m3 0h1m0 0h1m1 0h1m0 0h1m0 0h1m0 0h1m1 0h1m0 0h1m0 0h1m0 0h1m0 0h1m0 0h1m0 0h1m0 0h1m2 0h1m-57 1h1m3 0h1m0 0h1m2 0h1m0 0h1m1 0h1m0 0h1m0 0h1m2 0h1m1 0h1m14 0h1m2 0h1m0 0h1m0 0h1m0 0h1m1 0h1m0 0h1m0 0h1m1 0h1m0 0h1m0 0h1m0 0h1m0 0h1m0 0h1m0 0h1m0 0h1m0 0h1m2 0h1m2 0h1m-59 1h1m0 0h1m2 0h1m0 0h1m1 0h1m1 0h1m1 0h1m8 0h1m2 0h1m0 0h1m2 0h1m0 0h1m1 0h1m2 0h1m1 0h1m0 0h1m2 0h1m0 0h1m0 0h1m0 0h1m0 0h1m0 0h1m2 0h1m4 0h1m0 0h1m0 0h1m-64 1h1m6 0h1m4 0h1m2 0h1m0 0h1m0 0h1m0 0h1m2 0h1m1 0h1m2 0h1m0 0h1m1 0h1m2 0h1m9 0h1m0 0h1m0 0h1m0 0h1m3 0h1m0 0h1m0 0h1m1 0h1m0 0h1m2 0h1m0 0h1m1 0h1m1 0h1m-50 1h1m0 0h1m1 0h1m1 0h1m0 0h1m1 0h1m1 0h1m6 0h1m0 0h1m4 0h1m0 0h1m1 0h1m2 0h1m1 0h1m2 0h1m2 0h1m0 0h1m0 0h1m0 0h1m0 0h1m0 0h1m1 0h1m0 0h1m0 0h1m1 0h1m0 0h1m0 0h1m-54 1h1m0 0h1m0 0h1m0 0h1m0 0h1m3 0h1m0 0h1m3 0h1m1 0h1m0 0h1m1 0h1m7 0h1m3 0h1m0 0h1m1 0h1m4 0h1m0 0h1m0 0h1m0 0h1m1 0h1m1 0h1m0 0h1m0 0h1m-45 1h1m2 0h1m0 0h1m0 0h1m0 0h1m1 0h1m0 0h1m2 0h1m2 0h1m1 0h1m3 0h1m1 0h1m6 0h1m2 0h1m0 0h1m1 0h1m1 0h1m2 0h1m2 0h1m0 0h1m0 0h1m-52 1h1m3 0h1m2 0h1m2 0h1m1 0h1m1 0h1m0 0h1m6 0h1m0 0h1m3 0h1m1 0h1m2 0h1m0 0h1m3 0h1m4 0h1m3 0h1m0 0h1m0 0h1m0 0h1m0 0h1m1 0h1m-50 1h1m3 0h1m0 0h1m1 0h1m2 0h1m3 0h1m0 0h1m2 0h1m5 0h1m2 0h1m1 0h1m0 0h1m0 0h1m0 0h1m2 0h1m1 0h1m0 0h1m3 0h1m0 0h1m7 0h1m-53 1h1m1 0h1m3 0h1m3 0h1m1 0h1m1 0h1m7 0h1m1 0h1m6 0h1m6 0h1m2 0h1m4 0h1m2 0h1m2 0h1m-48 1h1m3 0h1m18 0h1m7 0h1m1 0h1m2 0h1m1 0h1m0 0h1m0 0h1m4 0h1m0 0h1m9 0h1m-63 1h1m2 0h1m17 0h1m0 0h1m13 0h1m0 0h1m2 0h1m3 0h1m0 0h1m0 0h1m17 0h1m-39 1h1m0 0h1m7 0h1m5 0h1m1 0h1m0 0h1m0 0h1m0 0h1m5 0h1m-49 1h1m5 0h1m11 0h1m23 0h1m0 0h1m3 0h1m-50 1h1m1 0h1m19 0h1m5 0h1m2 0h1m1 0h1m4 0h1m1 0h1m1 0h1m2 0h1m0 0h1m2 0h1m-45 1h1m3 0h1m16 0h1m7 0h1m1 0h1m4 0h1m1 0h1m0 0h1m3 0h1m-47 1h1m5 0h1m4 0h1m8 0h1m7 0h1m1 0h1m5 0h1m-7 1h1m4 0h1m5 0h1m3 0h1m-16 1h1m6 0h1m5 0h1m1 0h1m-32 1h1m10 0h1m1 0h1m14 0h1m0 0h1m1 0h1m-21 1h1m10 0h1m7 0h1m2 0h1m-6 1h1m-29 1h1m18 0h1m6 0h1m8 0h1m-17 1h1m-8 1h1m5 0h1m10 0h1m-22 1h1m16 0h1m-18 2h1m11 3h1m10 0h1m-34 2h1m10 1h1m20 1h1m-31 1h1m1 0h1m20 1h1m-2 1h1m7 4h1m-9 4h1m-16 10h1m16 0h1m-41 2h1" stroke="#666"/><path d="M0 0.5m115 249h1m-31 3h1m-16 2h1m19 0h1m16 0h1m19 0h1m11 0h1m-42 1h1m0 0h1m3 0h1m1 0h1m-10 1h1m1 0h1m0 0h1m0 0h1m9 0h1m1 0h1m-35 1h1m11 0h1m0 0h1m7 0h1m3 0h1m0 0h1m7 0h1m-28 1h1m0 0h1m6 0h1m4 0h1m6 0h1m0 0h1m3 0h1m4 0h1m21 0h1m-47 1h1m2 0h1m0 0h1m3 0h1m-12 1h1m7 0h1m0 0h1m1 0h1m2 0h1m2 0h1m0 0h1m2 0h1m0 0h1m1 0h1m0 0h1m-60 1h1m13 0h1m29 0h1m0 0h1m0 0h1m0 0h1m1 0h1m0 0h1m3 0h1m-21 1h1m1 0h1m0 0h1m0 0h1m2 0h1m4 0h1m1 0h1m1 0h1m1 0h1m0 0h1m1 0h1m2 0h1m-55 1h1m12 0h1m4 0h1m11 0h1m1 0h1m1 0h1m3 0h1m1 0h1m1 0h1m0 0h1m0 0h1m1 0h1m1 0h1m0 0h1m0 0h1m0 0h1m1 0h1m-38 1h1m2 0h1m13 0h1m0 0h1m1 0h1m3 0h1m0 0h1m4 0h1m-32 1h1m6 0h1m5 0h1m2 0h1m2 0h1m7 0h1m0 0h1m0 0h1m2 0h1m1 0h1m1 0h1m0 0h1m0 0h1m-53 1h1m1 0h1m9 0h1m14 0h1m2 0h1m0 0h1m1 0h1m2 0h1m0 0h1m0 0h1m4 0h1m0 0h1m0 0h1m0 0h1m1 0h1m0 0h1m-46 1h1m18 0h1m0 0h1m3 0h1m4 0h1m2 0h1m2 0h1m1 0h1m0 0h1m0 0h1m0 0h1m0 0h1m0 0h1m1 0h1m0 0h1m0 0h1m0 0h1m1 0h1m0 0h1m-49 1h1m2 0h1m7 0h1m4 0h1m1 0h1m8 0h1m2 0h1m0 0h1m2 0h1m1 0h1m1 0h1m0 0h1m1 0h1m0 0h1m0 0h1m1 0h1m0 0h1m-50 1h1m4 0h1m0 0h1m1 0h1m9 0h1m7 0h1m1 0h1m3 0h1m0 0h1m1 0h1m0 0h1m0 0h1m0 0h1m0 0h1m0 0h1m0 0h1m0 0h1m0 0h1m1 0h1m1 0h1m0 0h1m0 0h1m0 0h1m2 0h1m-55 1h1m2 0h1m2 0h1m0 0h1m1 0h1m1 0h1m0 0h1m1 0h1m10 0h1m0 0h1m3 0h1m0 0h1m0 0h1m0 0h1m0 0h1m1 0h1m1 0h1m2 0h1m1 0h1m3 0h1m1 0h1m2 0h1m6 0h1m-63 1h1m0 0h1m0 0h1m0 0h1m2 0h1m1 0h1m0 0h1m3 0h1m3 0h1m0 0h1m5 0h1m2 0h1m2 0h1m0 0h1m1 0h1m2 0h1m1 0h1m0 0h1m0 0h1m0 0h1m0 0h1m0 0h1m0 0h1m0 0h1m0 0h1m0 0h1m0 0h1m0 0h1m0 0h1m0 0h1m0 0h1m-52 1h1m5 0h1m4 0h1m0 0h1m2 0h1m8 0h1m0 0h1m1 0h1m5 0h1m0 0h1m0 0h1m2 0h1m1 0h1m0 0h1m0 0h1m0 0h1m0 0h1m0 0h1m0 0h1m0 0h1m0 0h1m1 0h1m-50 1h1m0 0h1m0 0h1m0 0h1m0 0h1m0 0h1m0 0h1m1 0h1m1 0h1m2 0h1m7 0h1m0 0h1m1 0h1m1 0h1m1 0h1m0 0h1m2 0h1m0 0h1m3 0h1m0 0h1m0 0h1m0 0h1m0 0h1m0 0h1m1 0h1m1 0h1m1 0h1m0 0h1m0 0h1m1 0h1m0 0h1m-56 1h1m0 0h1m0 0h1m0 0h1m1 0h1m0 0h1m1 0h1m1 0h1m1 0h1m0 0h1m10 0h1m6 0h1m1 0h1m3 0h1m2 0h1m1 0h1m0 0h1m0 0h1m0 0h1m2 0h1m1 0h1m3 0h1m0 0h1m2 0h1m-56 1h1m0 0h1m2 0h1m1 0h1m1 0h1m0 0h1m1 0h1m1 0h1m0 0h1m2 0h1m4 0h1m0 0h1m0 0h1m2 0h1m0 0h1m1 0h1m0 0h1m0 0h1m0 0h1m0 0h1m1 0h1m0 0h1m0 0h1m0 0h1m0 0h1m0 0h1m0 0h1m0 0h1m0 0h1m0 0h1m0 0h1m0 0h1m11 0h1m-66 1h1m5 0h1m0 0h1m1 0h1m0 0h1m1 0h1m0 0h1m0 0h1m0 0h1m1 0h1m8 0h1m0 0h1m2 0h1m0 0h1m2 0h1m2 0h1m4 0h1m0 0h1m0 0h1m0 0h1m0 0h1m0 0h1m0 0h1m0 0h1m0 0h1m4 0h1m0 0h1m4 0h1m-66 1h1m11 0h1m0 0h1m0 0h1m0 0h1m0 0h1m5 0h1m1 0h1m4 0h1m0 0h1m1 0h1m0 0h1m1 0h1m9 0h1m0 0h1m3 0h1m1 0h1m0 0h1m0 0h1m0 0h1m1 0h1m0 0h1m-53 1h1m1 0h1m0 0h1m0 0h1m0 0h1m1 0h1m2 0h1m0 0h1m8 0h1m0 0h1m1 0h1m2 0h1m2 0h1m7 0h1m0 0h1m0 0h1m0 0h1m0 0h1m0 0h1m0 0h1m0 0h1m0 0h1m2 0h1m0 0h1m2 0h1m0 0h1m0 0h1m1 0h1m32 0h1m-87 1h1m0 0h1m3 0h1m0 0h1m0 0h1m1 0h1m4 0h1m0 0h1m1 0h1m5 0h1m5 0h1m3 0h1m0 0h1m4 0h1m1 0h1m1 0h1m2 0h1m0 0h1m0 0h1m1 0h1m0 0h1m-58 1h1m4 0h1m0 0h1m0 0h1m1 0h1m0 0h1m0 0h1m0 0h1m0 0h1m2 0h1m3 0h1m5 0h1m3 0h1m0 0h1m0 0h1m1 0h1m5 0h1m1 0h1m0 0h1m0 0h1m0 0h1m0 0h1m1 0h1m0 0h1m0 0h1m0 0h1m0 0h1m0 0h1m0 0h1m1 0h1m0 0h1m0 0h1m-55 1h1m3 0h1m0 0h1m1 0h1m1 0h1m1 0h1m7 0h1m5 0h1m2 0h1m0 0h1m0 0h1m5 0h1m2 0h1m1 0h1m0 0h1m1 0h1m1 0h1m0 0h1m0 0h1m0 0h1m2 0h1m0 0h1m1 0h1m0 0h1m-58 1h1m3 0h1m0 0h1m2 0h1m8 0h1m2 0h1m1 0h1m4 0h1m7 0h1m0 0h1m1 0h1m2 0h1m0 0h1m0 0h1m0 0h1m1 0h1m0 0h1m0 0h1m0 0h1m0 0h1m1 0h1m1 0h1m3 0h1m-60 1h1m1 0h1m7 0h1m0 0h1m0 0h1m0 0h1m0 0h1m17 0h1m5 0h1m2 0h1m3 0h1m0 0h1m0 0h1m0 0h1m0 0h1m2 0h1m2 0h1m0 0h1m-29 1h1m2 0h1m9 0h1m0 0h1m0 0h1m2 0h1m1 0h1m0 0h1m0 0h1m0 0h1m0 0h1m0 0h1m-55 1h1m4 0h1m2 0h1m0 0h1m1 0h1m20 0h1m9 0h1m0 0h1m2 0h1m2 0h1m1 0h1m1 0h1m0 0h1m-40 1h1m14 0h1m14 0h1m0 0h1m1 0h1m0 0h1m3 0h1m0 0h1m-48 1h1m3 0h1m2 0h1m13 0h1m12 0h1m0 0h1m2 0h1m13 0h1m-34 1h1m5 0h1m8 0h1m2 0h1m0 0h1m0 0h1m0 0h1m4 0h1m3 0h1m-49 1h1m15 0h1m20 0h1m8 0h1m-65 1h1m41 0h1m5 0h1m4 0h1m0 0h1m0 0h1m4 0h1m1 0h1m1 0h1m5 0h1m-28 1h1m9 0h1m1 0h1m1 0h1m4 0h1m37 0h1m-71 1h1m11 0h1m1 0h1m3 0h1m1 0h1m9 0h1m0 0h1m14 0h1m-25 1h1m5 0h1m1 0h1m-49 1h1m33 0h1m6 0h1m2 0h1m-15 1h1m2 0h1m0 0h1m8 0h1m-12 1h1m9 0h1m-24 1h1m1 0h1m9 0h1m10 0h1m-10 1h1m2 0h1m8 0h1m-8 1h1m10 0h1m23 0h1m-40 1h1m0 0h1m5 0h1m13 0h1m-11 2h1m-3 1h1m-20 1h1m15 0h1m5 0h1m-29 1h1m24 1h1m-10 1h1m-2 5h1m15 2h1m-10 5h1m15 3h1m-59 2h1m7 2h1m42 3h1m-22 1h1m64 3h1m-69 5h1" stroke="#3c3c3c"/><path d="M0 0.5m109 243h1m-13 7h1m2 0h1m-27 2h1m23 0h1m9 0h1m2 0h1m-9 2h1m0 0h1m5 0h1m-30 1h1m10 0h1m9 0h1m3 0h1m-13 1h1m9 0h1m0 0h1m-17 1h1m14 0h1m0 0h1m0 0h1m0 0h1m2 0h1m0 0h1m0 0h1m-41 1h1m25 0h1m2 0h1m1 0h1m0 0h1m0 0h1m1 0h1m-44 1h1m28 0h1m2 0h1m0 0h1m1 0h1m0 0h1m2 0h1m2 0h1m1 0h1m-11 1h1m0 0h1m0 0h1m2 0h1m2 0h1m0 0h1m-39 1h1m24 0h1m5 0h1m0 0h1m1 0h1m2 0h1m-40 1h1m13 0h1m3 0h1m5 0h1m0 0h1m0 0h1m2 0h1m0 0h1m3 0h1m2 0h1m0 0h1m0 0h1m0 0h1m-41 1h1m8 0h1m15 0h1m3 0h1m1 0h1m2 0h1m0 0h1m4 0h1m3 0h1m-48 1h1m5 0h1m1 0h1m9 0h1m10 0h1m1 0h1m0 0h1m3 0h1m0 0h1m0 0h1m0 0h1m0 0h1m2 0h1m1 0h1m0 0h1m1 0h1m-35 1h1m9 0h1m6 0h1m3 0h1m0 0h1m0 0h1m0 0h1m0 0h1m0 0h1m0 0h1m0 0h1m0 0h1m0 0h1m2 0h1m1 0h1m1 0h1m-49 1h1m2 0h1m0 0h1m6 0h1m5 0h1m9 0h1m0 0h1m2 0h1m0 0h1m0 0h1m0 0h1m0 0h1m0 0h1m1 0h1m2 0h1m1 0h1m0 0h1m-51 1h1m2 0h1m0 0h1m3 0h1m15 0h1m0 0h1m1 0h1m0 0h1m5 0h1m1 0h1m2 0h1m0 0h1m0 0h1m1 0h1m0 0h1m2 0h1m0 0h1m0 0h1m1 0h1m-49 1h1m1 0h1m0 0h1m0 0h1m17 0h1m3 0h1m2 0h1m1 0h1m0 0h1m1 0h1m0 0h1m0 0h1m0 0h1m0 0h1m0 0h1m2 0h1m0 0h1m0 0h1m3 0h1m0 0h1m-57 1h1m2 0h1m0 0h1m2 0h1m2 0h1m0 0h1m11 0h1m6 0h1m1 0h1m2 0h1m1 0h1m0 0h1m5 0h1m0 0h1m0 0h1m0 0h1m0 0h1m0 0h1m1 0h1m0 0h1m5 0h1m-57 1h1m0 0h1m0 0h1m0 0h1m1 0h1m0 0h1m1 0h1m4 0h1m4 0h1m5 0h1m7 0h1m2 0h1m0 0h1m0 0h1m3 0h1m0 0h1m0 0h1m0 0h1m0 0h1m0 0h1m0 0h1m0 0h1m2 0h1m0 0h1m-55 1h1m2 0h1m0 0h1m1 0h1m0 0h1m0 0h1m0 0h1m1 0h1m0 0h1m7 0h1m8 0h1m0 0h1m5 0h1m1 0h1m0 0h1m0 0h1m0 0h1m0 0h1m0 0h1m0 0h1m0 0h1m0 0h1m1 0h1m0 0h1m0 0h1m2 0h1m0 0h1m2 0h1m-64 1h1m2 0h1m2 0h1m0 0h1m2 0h1m1 0h1m0 0h1m0 0h1m0 0h1m1 0h1m0 0h1m8 0h1m11 0h1m0 0h1m1 0h1m1 0h1m0 0h1m0 0h1m0 0h1m2 0h1m2 0h1m0 0h1m2 0h1m1 0h1m0 0h1m0 0h1m0 0h1m-57 1h1m0 0h1m1 0h1m0 0h1m1 0h1m5 0h1m0 0h1m1 0h1m1 0h1m6 0h1m0 0h1m4 0h1m1 0h1m0 0h1m2 0h1m1 0h1m0 0h1m2 0h1m0 0h1m0 0h1m0 0h1m0 0h1m0 0h1m1 0h1m1 0h1m1 0h1m18 0h1m-72 1h1m2 0h1m1 0h1m0 0h1m1 0h1m1 0h1m0 0h1m0 0h1m0 0h1m5 0h1m1 0h1m0 0h1m0 0h1m2 0h1m1 0h1m1 0h1m1 0h1m4 0h1m0 0h1m2 0h1m2 0h1m0 0h1m0 0h1m0 0h1m0 0h1m0 0h1m1 0h1m0 0h1m1 0h1m-51 1h1m0 0h1m0 0h1m0 0h1m0 0h1m1 0h1m0 0h1m22 0h1m0 0h1m1 0h1m1 0h1m0 0h1m0 0h1m1 0h1m0 0h1m0 0h1m0 0h1m0 0h1m1 0h1m0 0h1m0 0h1m3 0h1m-59 1h1m1 0h1m3 0h1m1 0h1m0 0h1m0 0h1m2 0h1m0 0h1m0 0h1m1 0h1m7 0h1m3 0h1m0 0h1m3 0h1m5 0h1m1 0h1m0 0h1m0 0h1m0 0h1m0 0h1m0 0h1m0 0h1m0 0h1m1 0h1m-47 1h1m0 0h1m0 0h1m1 0h1m0 0h1m1 0h1m1 0h1m0 0h1m5 0h1m5 0h1m3 0h1m1 0h1m6 0h1m2 0h1m0 0h1m0 0h1m2 0h1m1 0h1m0 0h1m0 0h1m0 0h1m0 0h1m4 0h1m-61 1h1m2 0h1m2 0h1m4 0h1m0 0h1m4 0h1m6 0h1m2 0h1m2 0h1m4 0h1m0 0h1m0 0h1m3 0h1m0 0h1m2 0h1m4 0h1m9 0h1m-56 1h1m0 0h1m0 0h1m2 0h1m1 0h1m0 0h1m0 0h1m0 0h1m1 0h1m4 0h1m7 0h1m0 0h1m2 0h1m3 0h1m1 0h1m0 0h1m0 0h1m0 0h1m2 0h1m0 0h1m0 0h1m0 0h1m0 0h1m2 0h1m0 0h1m0 0h1m1 0h1m1 0h1m0 0h1m0 0h1m-60 1h1m0 0h1m3 0h1m1 0h1m3 0h1m0 0h1m6 0h1m0 0h1m3 0h1m5 0h1m1 0h1m4 0h1m0 0h1m0 0h1m2 0h1m2 0h1m1 0h1m0 0h1m0 0h1m0 0h1m1 0h1m0 0h1m-53 1h1m4 0h1m0 0h1m5 0h1m0 0h1m10 0h1m1 0h1m2 0h1m0 0h1m1 0h1m1 0h1m0 0h1m1 0h1m1 0h1m1 0h1m0 0h1m0 0h1m0 0h1m0 0h1m1 0h1m0 0h1m0 0h1m1 0h1m0 0h1m0 0h1m2 0h1m-54 1h1m5 0h1m0 0h1m0 0h1m1 0h1m6 0h1m13 0h1m1 0h1m0 0h1m0 0h1m0 0h1m1 0h1m0 0h1m0 0h1m1 0h1m2 0h1m0 0h1m1 0h1m0 0h1m1 0h1m0 0h1m-57 1h1m9 0h1m13 0h1m0 0h1m1 0h1m4 0h1m0 0h1m8 0h1m1 0h1m1 0h1m0 0h1m2 0h1m1 0h1m2 0h1m0 0h1m0 0h1m-51 1h1m1 0h1m5 0h1m12 0h1m4 0h1m2 0h1m1 0h1m1 0h1m0 0h1m1 0h1m0 0h1m0 0h1m0 0h1m2 0h1m1 0h1m0 0h1m0 0h1m0 0h1m0 0h1m1 0h1m-49 1h1m11 0h1m1 0h1m0 0h1m6 0h1m5 0h1m3 0h1m3 0h1m0 0h1m0 0h1m1 0h1m0 0h1m1 0h1m3 0h1m-52 1h1m9 0h1m17 0h1m3 0h1m0 0h1m3 0h1m1 0h1m0 0h1m0 0h1m1 0h1m0 0h1m3 0h1m0 0h1m-47 1h1m1 0h1m0 0h1m25 0h1m1 0h1m0 0h1m5 0h1m2 0h1m0 0h1m4 0h1m37 0h1m-91 1h1m27 0h1m4 0h1m-33 1h1m8 0h1m3 0h1m22 0h1m2 0h1m0 0h1m3 0h1m0 0h1m7 0h1m-16 1h1m1 0h1m0 0h1m4 0h1m17 0h1m-58 1h1m30 0h1m10 0h1m0 0h1m0 0h1m0 0h1m2 0h1m-24 1h1m5 0h1m4 0h1m-42 1h1m16 1h1m4 0h1m4 0h1m3 0h1m3 0h1m5 0h1m5 0h1m3 0h1m-46 1h1m37 0h1m-4 1h1m-30 1h1m8 0h1m2 0h1m9 0h1m1 0h1m-39 1h1m21 0h1m12 0h1m-11 1h1m10 0h1m10 0h1m-23 1h1m8 0h1m-8 2h1m4 0h1m23 1h1m-12 1h1m-33 1h1m23 0h1m10 0h1m-17 1h1m-46 1h1m37 0h1m11 0h1m17 0h1m-19 2h1m-6 3h1m-6 1h1m-8 1h1m8 1h1m26 1h1m-39 1h1m0 3h1m48 5h1m-67 1h1m69 1h1m-84 10h1m6 0h1m39 5h1" stroke="#222"/><path d="M0 0.5m116 242h1m-6 1h1m3 1h1m-17 2h1m-11 2h1m23 0h1m-48 1h1m40 1h1m-10 4h1m3 0h1m0 0h1m2 0h1m-15 1h1m4 0h1m12 0h1m4 0h1m-53 1h1m17 0h1m15 0h1m4 0h1m6 0h1m-16 1h1m5 0h1m0 0h1m0 0h1m1 0h1m6 0h1m-49 1h1m40 0h1m2 0h1m4 0h1m-47 1h1m4 0h1m19 0h1m1 0h1m4 0h1m3 0h1m0 0h1m0 0h1m2 0h1m0 0h1m0 0h1m-32 1h1m17 0h1m2 0h1m2 0h1m1 0h1m1 0h1m1 0h1m-20 1h1m8 0h1m0 0h1m0 0h1m1 0h1m0 0h1m1 0h1m3 0h1m0 0h1m-19 1h1m6 0h1m0 0h1m0 0h1m0 0h1m0 0h1m0 0h1m1 0h1m1 0h1m-14 1h1m0 0h1m0 0h1m0 0h1m1 0h1m0 0h1m1 0h1m2 0h1m0 0h1m1 0h1m0 0h1m-36 1h1m5 0h1m8 0h1m0 0h1m0 0h1m0 0h1m1 0h1m1 0h1m0 0h1m2 0h1m2 0h1m0 0h1m0 0h1m1 0h1m0 0h1m0 0h1m-53 1h1m3 0h1m4 0h1m3 0h1m13 0h1m8 0h1m0 0h1m0 0h1m1 0h1m2 0h1m0 0h1m0 0h1m0 0h1m2 0h1m0 0h1m1 0h1m-52 1h1m3 0h1m5 0h1m4 0h1m3 0h1m7 0h1m1 0h1m3 0h1m0 0h1m2 0h1m1 0h1m2 0h1m0 0h1m0 0h1m1 0h1m0 0h1m0 0h1m3 0h1m1 0h1m-56 1h1m1 0h1m2 0h1m11 0h1m14 0h1m2 0h1m1 0h1m2 0h1m0 0h1m1 0h1m0 0h1m0 0h1m1 0h1m0 0h1m0 0h1m-42 1h1m15 0h1m1 0h1m5 0h1m0 0h1m1 0h1m3 0h1m0 0h1m0 0h1m0 0h1m0 0h1m0 0h1m0 0h1m0 0h1m0 0h1m1 0h1m0 0h1m-50 1h1m3 0h1m2 0h1m0 0h1m1 0h1m0 0h1m1 0h1m8 0h1m0 0h1m1 0h1m0 0h1m0 0h1m3 0h1m1 0h1m0 0h1m0 0h1m2 0h1m0 0h1m0 0h1m0 0h1m0 0h1m0 0h1m1 0h1m0 0h1m1 0h1m1 0h1m0 0h1m2 0h1m6 0h1m-59 1h1m4 0h1m2 0h1m0 0h1m5 0h1m8 0h1m1 0h1m3 0h1m0 0h1m2 0h1m0 0h1m0 0h1m1 0h1m0 0h1m0 0h1m0 0h1m0 0h1m0 0h1m0 0h1m3 0h1m-59 1h1m6 0h1m0 0h1m2 0h1m0 0h1m2 0h1m0 0h1m0 0h1m7 0h1m6 0h1m0 0h1m1 0h1m3 0h1m0 0h1m1 0h1m1 0h1m0 0h1m0 0h1m3 0h1m0 0h1m0 0h1m0 0h1m0 0h1m0 0h1m0 0h1m1 0h1m0 0h1m0 0h1m-55 1h1m0 0h1m1 0h1m2 0h1m1 0h1m3 0h1m0 0h1m7 0h1m1 0h1m0 0h1m1 0h1m0 0h1m3 0h1m5 0h1m1 0h1m0 0h1m0 0h1m0 0h1m0 0h1m3 0h1m0 0h1m1 0h1m1 0h1m0 0h1m0 0h1m0 0h1m-57 1h1m0 0h1m0 0h1m3 0h1m1 0h1m0 0h1m1 0h1m0 0h1m0 0h1m9 0h1m1 0h1m0 0h1m0 0h1m1 0h1m1 0h1m2 0h1m1 0h1m0 0h1m4 0h1m0 0h1m1 0h1m1 0h1m0 0h1m0 0h1m2 0h1m0 0h1m19 0h1m-73 1h1m2 0h1m1 0h1m0 0h1m0 0h1m0 0h1m7 0h1m4 0h1m4 0h1m5 0h1m1 0h1m1 0h1m1 0h1m1 0h1m0 0h1m0 0h1m0 0h1m0 0h1m0 0h1m0 0h1m1 0h1m1 0h1m19 0h1m-75 1h1m3 0h1m2 0h1m0 0h1m0 0h1m3 0h1m0 0h1m5 0h1m1 0h1m7 0h1m0 0h1m0 0h1m0 0h1m0 0h1m3 0h1m1 0h1m1 0h1m0 0h1m0 0h1m0 0h1m0 0h1m0 0h1m0 0h1m1 0h1m0 0h1m0 0h1m0 0h1m1 0h1m-53 1h1m1 0h1m1 0h1m0 0h1m0 0h1m2 0h1m1 0h1m2 0h1m1 0h1m4 0h1m0 0h1m0 0h1m7 0h1m0 0h1m3 0h1m0 0h1m6 0h1m0 0h1m1 0h1m0 0h1m0 0h1m1 0h1m4 0h1m-53 1h1m2 0h1m1 0h1m0 0h1m2 0h1m1 0h1m6 0h1m1 0h1m1 0h1m1 0h1m0 0h1m0 0h1m0 0h1m0 0h1m2 0h1m1 0h1m0 0h1m0 0h1m2 0h1m2 0h1m0 0h1m0 0h1m0 0h1m0 0h1m0 0h1m0 0h1m0 0h1m37 0h1m-89 1h1m2 0h1m0 0h1m3 0h1m0 0h1m0 0h1m0 0h1m1 0h1m11 0h1m0 0h1m0 0h1m3 0h1m0 0h1m3 0h1m0 0h1m0 0h1m0 0h1m1 0h1m0 0h1m0 0h1m0 0h1m0 0h1m1 0h1m1 0h1m2 0h1m2 0h1m-58 1h1m3 0h1m1 0h1m0 0h1m1 0h1m2 0h1m0 0h1m6 0h1m2 0h1m1 0h1m0 0h1m0 0h1m0 0h1m2 0h1m0 0h1m1 0h1m0 0h1m0 0h1m2 0h1m0 0h1m1 0h1m0 0h1m0 0h1m1 0h1m2 0h1m0 0h1m2 0h1m0 0h1m0 0h1m0 0h1m0 0h1m-57 1h1m3 0h1m0 0h1m0 0h1m7 0h1m1 0h1m0 0h1m0 0h1m16 0h1m0 0h1m0 0h1m2 0h1m0 0h1m0 0h1m0 0h1m1 0h1m1 0h1m0 0h1m0 0h1m1 0h1m2 0h1m5 0h1m-60 1h1m6 0h1m0 0h1m0 0h1m1 0h1m0 0h1m13 0h1m1 0h1m2 0h1m3 0h1m1 0h1m2 0h1m0 0h1m0 0h1m1 0h1m1 0h1m0 0h1m1 0h1m2 0h1m-53 1h1m2 0h1m1 0h1m3 0h1m1 0h1m6 0h1m12 0h1m0 0h1m5 0h1m0 0h1m0 0h1m0 0h1m0 0h1m0 0h1m0 0h1m0 0h1m1 0h1m5 0h1m0 0h1m0 0h1m-57 1h1m5 0h1m0 0h1m0 0h1m0 0h1m0 0h1m3 0h1m1 0h1m0 0h1m2 0h1m11 0h1m2 0h1m1 0h1m0 0h1m3 0h1m0 0h1m1 0h1m0 0h1m1 0h1m0 0h1m0 0h1m2 0h1m-54 1h1m1 0h1m4 0h1m3 0h1m15 0h1m4 0h1m1 0h1m3 0h1m3 0h1m1 0h1m0 0h1m0 0h1m3 0h1m2 0h1m-58 1h1m12 0h1m8 0h1m1 0h1m0 0h1m1 0h1m14 0h1m0 0h1m4 0h1m1 0h1m0 0h1m0 0h1m0 0h1m0 0h1m2 0h1m2 0h1m-24 1h1m2 0h1m5 0h1m0 0h1m1 0h1m6 0h1m-45 1h1m0 0h1m17 0h1m12 0h1m0 0h1m0 0h1m5 0h1m-50 1h1m11 0h1m3 0h1m9 0h1m1 0h1m2 0h1m3 0h1m5 0h1m3 0h1m1 0h1m-11 1h1m2 0h1m0 0h1m1 0h1m1 0h1m1 0h1m0 0h1m1 0h1m0 0h1m-51 1h1m21 0h1m3 0h1m0 0h1m2 0h1m9 0h1m0 0h1m0 0h1m3 0h1m2 0h1m-31 1h1m11 0h1m2 0h1m1 0h1m2 0h1m6 0h1m3 0h1m-13 1h1m10 0h1m-27 2h1m15 0h1m7 0h1m2 0h1m-18 1h1m6 0h1m6 0h1m-18 1h1m4 0h1m7 0h1m1 0h1m-49 2h1m48 0h1m3 0h1m12 0h1m-36 1h1m4 1h1m7 0h1m-23 1h1m25 1h1m-34 2h1m29 0h1m0 0h1m0 0h1m-23 1h1m17 0h1m-4 1h1m3 0h1m-23 1h1m11 0h1m0 0h1m9 0h1m-15 1h1m-14 2h1m16 1h1m0 0h1m5 0h1m-1 2h1m-9 1h1m3 3h1m2 0h1m1 0h1m-10 4h1m-38 3h1m17 4h1m-19 4h1" stroke="#111"/></g>
<rect x="44.50" y="241.00" width="113.80" height="105.00" fill="none" stroke="#111" stroke-width="1.3"/><path d="M44.50 241.00V346.00H158.30" fill="none" stroke="#000" stroke-width="2"/><path d="M44.50 346.00v3.50M44.50 346.00h-3.50M53.06 346.00v2.00M44.50 338.10h-2.00M58.07 346.00v2.00M44.50 333.48h-2.00M61.63 346.00v2.00M44.50 330.20h-2.00M64.39 346.00v2.00M44.50 327.65h-2.00M66.64 346.00v2.00M44.50 325.57h-2.00M68.54 346.00v2.00M44.50 323.82h-2.00M70.19 346.00v2.00M44.50 322.29h-2.00M71.65 346.00v2.00M44.50 320.95h-2.00M72.95 346.00v3.50M44.50 319.75h-3.50M81.51 346.00v2.00M44.50 311.85h-2.00M86.52 346.00v2.00M44.50 307.23h-2.00M90.08 346.00v2.00M44.50 303.95h-2.00M92.84 346.00v2.00M44.50 301.40h-2.00M95.09 346.00v2.00M44.50 299.32h-2.00M96.99 346.00v2.00M44.50 297.57h-2.00M98.64 346.00v2.00M44.50 296.04h-2.00M100.10 346.00v2.00M44.50 294.70h-2.00M101.40 346.00v3.50M44.50 293.50h-3.50M109.96 346.00v2.00M44.50 285.60h-2.00M114.97 346.00v2.00M44.50 280.98h-2.00M118.53 346.00v2.00M44.50 277.70h-2.00M121.29 346.00v2.00M44.50 275.15h-2.00M123.54 346.00v2.00M44.50 273.07h-2.00M125.44 346.00v2.00M44.50 271.32h-2.00M127.09 346.00v2.00M44.50 269.79h-2.00M128.55 346.00v2.00M44.50 268.45h-2.00M129.85 346.00v3.50M44.50 267.25h-3.50M138.41 346.00v2.00M44.50 259.35h-2.00M143.42 346.00v2.00M44.50 254.73h-2.00M146.98 346.00v2.00M44.50 251.45h-2.00M149.74 346.00v2.00M44.50 248.90h-2.00M151.99 346.00v2.00M44.50 246.82h-2.00M153.89 346.00v2.00M44.50 245.07h-2.00M155.54 346.00v2.00M44.50 243.54h-2.00M157.00 346.00v2.00M44.50 242.20h-2.00M158.30 346.00v2.5M44.50 241.00h-2.5" stroke="#000" stroke-width="1"/><path d="M72.50 241.00V346.00M44.50 319.75H158.30" stroke="#222" stroke-width="1"/><text x="37.20" y="360.00" font-size="8.3" font-weight="bold">10</text><text x="46.20" y="354.00" font-size="6.8" font-weight="bold">0</text><text x="65.65" y="360.00" font-size="8.3" font-weight="bold">10</text><text x="74.65" y="354.00" font-size="6.8" font-weight="bold">1</text><text x="94.10" y="360.00" font-size="8.3" font-weight="bold">10</text><text x="103.10" y="354.00" font-size="6.8" font-weight="bold">2</text><text x="122.55" y="360.00" font-size="8.3" font-weight="bold">10</text><text x="131.55" y="354.00" font-size="6.8" font-weight="bold">3</text><text x="151.00" y="360.00" font-size="8.3" font-weight="bold">10</text><text x="160.00" y="354.00" font-size="6.8" font-weight="bold">4</text><g transform="translate(35.70 346.00) rotate(-90)"><text x="-7.3" y="0" font-size="8.3" font-weight="bold">10</text><text x="1.8" y="-5.3" font-size="6.8" font-weight="bold">0</text></g><g transform="translate(35.70 319.75) rotate(-90)"><text x="-7.3" y="0" font-size="8.3" font-weight="bold">10</text><text x="1.8" y="-5.3" font-size="6.8" font-weight="bold">1</text></g><g transform="translate(35.70 293.50) rotate(-90)"><text x="-7.3" y="0" font-size="8.3" font-weight="bold">10</text><text x="1.8" y="-5.3" font-size="6.8" font-weight="bold">2</text></g><g transform="translate(35.70 267.25) rotate(-90)"><text x="-7.3" y="0" font-size="8.3" font-weight="bold">10</text><text x="1.8" y="-5.3" font-size="6.8" font-weight="bold">3</text></g><g transform="translate(35.70 241.00) rotate(-90)"><text x="-7.3" y="0" font-size="8.3" font-weight="bold">10</text><text x="1.8" y="-5.3" font-size="6.8" font-weight="bold">4</text></g><text x="83.65" y="370.00" font-size="9" font-weight="bold" textLength="35.5" lengthAdjust="spacingAndGlyphs">KELL-PE</text><text transform="translate(24.00 295.10) rotate(-90)" x="-37.50" font-size="9" font-weight="bold" textLength="75.0" lengthAdjust="spacingAndGlyphs">Anti-HLA-DR PerCP</text><text x="47.80" y="258.40" font-size="8.6" font-weight="bold" letter-spacing="0.65">20%</text><text x="120.30" y="258.40" font-size="8.6" font-weight="bold" letter-spacing="0.65">78%</text><text x="120.30" y="270.40" font-size="8.6" font-weight="bold" letter-spacing="0.00">Day 2</text><text x="124.30" y="335.40" font-size="8.6" font-weight="bold" letter-spacing="0.65">2%</text>
<g fill="none" stroke-width="1"><path d="M0 0.5m270 244h1m-31 5h1m12 0h1m13 0h1m-18 2h1m-3 1h1m7 0h1m35 0h1m-20 1h1m0 0h1m1 0h1m-49 1h1m24 0h1m10 0h1m13 1h1m-22 1h1m0 0h1m13 0h1m0 0h1m6 0h1m-44 1h1m3 0h1m2 0h1m0 0h1m2 0h1m1 0h1m3 0h1m6 0h1m8 0h1m3 0h1m-36 1h1m9 0h1m5 0h1m2 0h1m2 0h1m20 0h1m9 0h1m6 0h1m-46 1h1m2 0h1m0 0h1m1 0h1m5 0h1m1 0h1m-15 1h1m8 0h1m3 0h1m0 0h1m0 0h1m-31 1h1m18 0h1m19 0h1m3 0h1m-47 1h1m4 0h1m17 0h1m2 0h1m4 0h1m6 0h1m-38 1h1m6 0h1m2 0h1m7 0h1m0 0h1m4 0h1m2 0h1m6 0h1m-40 1h1m5 0h1m1 0h1m1 0h1m0 0h1m3 0h1m2 0h1m0 0h1m0 0h1m1 0h1m0 0h1m5 0h1m2 0h1m6 0h1m2 0h1m0 0h1m-42 1h1m2 0h1m0 0h1m0 0h1m10 0h1m7 0h1m4 0h1m1 0h1m0 0h1m24 0h1m-61 1h1m5 0h1m1 0h1m0 0h1m3 0h1m0 0h1m8 0h1m5 0h1m2 0h1m1 0h1m0 0h1m7 0h1m3 0h1m13 0h1m-59 1h1m8 0h1m5 0h1m5 0h1m0 0h1m5 0h1m0 0h1m3 0h1m0 0h1m2 0h1m5 0h1m6 0h1m-52 1h1m3 0h1m0 0h1m0 0h1m0 0h1m0 0h1m1 0h1m9 0h1m26 0h1m2 0h1m-44 1h1m1 0h1m0 0h1m2 0h1m11 0h1m2 0h1m0 0h1m27 0h1m3 0h1m-65 1h1m3 0h1m1 0h1m1 0h1m0 0h1m0 0h1m0 0h1m0 0h1m0 0h1m4 0h1m6 0h1m9 0h1m0 0h1m3 0h1m0 0h1m2 0h1m-42 1h1m1 0h1m0 0h1m3 0h1m0 0h1m0 0h1m1 0h1m0 0h1m5 0h1m0 0h1m7 0h1m3 0h1m0 0h1m0 0h1m1 0h1m0 0h1m2 0h1m4 0h1m4 0h1m-52 1h1m0 0h1m2 0h1m1 0h1m0 0h1m0 0h1m0 0h1m0 0h1m3 0h1m4 0h1m7 0h1m2 0h1m6 0h1m0 0h1m2 0h1m10 0h1m-48 1h1m0 0h1m2 0h1m2 0h1m2 0h1m2 0h1m0 0h1m0 0h1m12 0h1m2 0h1m7 0h1m0 0h1m0 0h1m2 0h1m1 0h1m-47 1h1m0 0h1m2 0h1m8 0h1m0 0h1m2 0h1m8 0h1m2 0h1m0 0h1m0 0h1m3 0h1m1 0h1m6 0h1m-48 1h1m0 0h1m1 0h1m1 0h1m2 0h1m9 0h1m2 0h1m5 0h1m0 0h1m4 0h1m6 0h1m0 0h1m1 0h1m1 0h1m1 0h1m-42 1h1m6 0h1m13 0h1m2 0h1m3 0h1m5 0h1m3 0h1m0 0h1m-51 1h1m4 0h1m0 0h1m0 0h1m5 0h1m0 0h1m5 0h1m1 0h1m5 0h1m1 0h1m0 0h1m4 0h1m7 0h1m4 0h1m3 0h1m0 0h1m2 0h1m-51 1h1m8 0h1m1 0h1m0 0h1m1 0h1m4 0h1m2 0h1m0 0h1m1 0h1m5 0h1m0 0h1m2 0h1m1 0h1m0 0h1m0 0h1m6 0h1m-48 1h1m2 0h1m0 0h1m3 0h1m10 0h1m3 0h1m1 0h1m3 0h1m2 0h1m4 0h1m1 0h1m0 0h1m0 0h1m1 0h1m5 0h1m2 0h1m-51 1h1m8 0h1m5 0h1m3 0h1m1 0h1m5 0h1m0 0h1m2 0h1m8 0h1m5 0h1m-45 1h1m5 0h1m2 0h1m8 0h1m1 0h1m4 0h1m4 0h1m-28 1h1m1 0h1m2 0h1m4 0h1m1 0h1m0 0h1m6 0h1m0 0h1m0 0h1m3 0h1m0 0h1m1 0h1m5 0h1m0 0h1m1 0h1m0 0h1m-38 1h1m3 0h1m2 0h1m1 0h1m5 0h1m3 0h1m0 0h1m0 0h1m0 0h1m2 0h1m2 0h1m6 0h1m2 0h1m1 0h1m-37 1h1m9 0h1m1 0h1m3 0h1m2 0h1m2 0h1m1 0h1m1 0h1m1 0h1m2 0h1m3 0h1m-35 1h1m3 0h1m3 0h1m1 0h1m1 0h1m0 0h1m1 0h1m5 0h1m6 0h1m1 0h1m0 0h1m2 0h1m12 0h1m-60 1h1m12 0h1m10 0h1m0 0h1m1 0h1m0 0h1m3 0h1m2 0h1m2 0h1m0 0h1m0 0h1m0 0h1m-39 1h1m0 0h1m16 0h1m0 0h1m0 0h1m0 0h1m3 0h1m0 0h1m2 0h1m1 0h1m0 0h1m0 0h1m5 0h1m4 0h1m1 0h1m-36 1h1m7 0h1m2 0h1m0 0h1m4 0h1m0 0h1m0 0h1m2 0h1m2 0h1m8 0h1m1 0h1m-47 1h1m1 0h1m16 0h1m4 0h1m0 0h1m2 0h1m3 0h1m0 0h1m2 0h1m0 0h1m3 0h1m5 0h1m-26 1h1m3 0h1m2 0h1m1 0h1m2 0h1m2 0h1m-33 1h1m11 0h1m1 0h1m4 0h1m0 0h1m1 0h1m2 0h1m1 0h1m6 0h1m0 0h1m-40 1h1m14 0h1m5 0h1m3 0h1m2 0h1m6 0h1m0 0h1m4 0h1m3 0h1m-52 1h1m1 0h1m9 0h1m11 0h1m3 0h1m0 0h1m8 0h1m1 0h1m0 0h1m-32 1h1m2 0h1m10 0h1m0 0h1m5 0h1m6 0h1m1 0h1m1 0h1m1 0h1m-47 1h1m16 0h1m0 0h1m8 0h1m4 0h1m3 0h1m5 0h1m2 0h1m1 0h1m1 0h1m-35 1h1m3 0h1m6 0h1m23 0h1m4 0h1m3 0h1m-40 1h1m1 0h1m3 0h1m0 0h1m17 0h1m8 0h1m-28 1h1m2 0h1m1 0h1m1 0h1m16 0h1m-37 1h1m14 0h1m15 0h1m2 0h1m-42 1h1m13 0h1m6 0h1m2 0h1m6 0h1m11 0h1m0 0h1m-40 1h1m12 0h1m2 0h1m11 0h1m1 0h1m0 0h1m6 0h1m0 0h1m4 0h1m-37 1h1m10 0h1m6 0h1m-6 1h1m2 0h1m2 0h1m7 0h1m2 0h1m3 0h1m-45 1h1m5 0h1m15 0h1m18 0h1m-32 1h1m13 0h1m4 0h1m4 0h1m8 0h1m-43 1h1m2 0h1m5 0h1m8 0h1m0 0h1m11 0h1m3 0h1m2 0h1m1 0h1m0 0h1m7 0h1m-31 1h1m7 0h1m9 0h1m2 0h1m2 0h1m7 0h1m-52 1h1m9 0h1m2 0h1m17 0h1m0 0h1m3 0h1m2 0h1m-29 1h1m3 0h1m15 0h1m2 0h1m0 0h1m1 0h1m0 0h1m4 0h1m-56 1h1m9 0h1m16 0h1m3 0h1m0 0h1m2 0h1m10 0h1m2 0h1m0 0h1m0 0h1m2 0h1m4 0h1m-48 1h1m2 0h1m9 0h1m4 0h1m13 0h1m5 0h1m1 0h1m0 0h1m1 0h1m0 0h1m5 0h1m-19 1h1m0 0h1m3 0h1m0 0h1m2 0h1m0 0h1m3 0h1m-51 1h1m0 0h1m11 0h1m21 0h1m0 0h1m1 0h1m4 0h1m7 0h1m-47 1h1m25 0h1m3 0h1m3 0h1m0 0h1m0 0h1m-27 1h1m24 0h1m0 0h1m1 0h1m3 0h1m4 0h1m-26 1h1m2 0h1m5 0h1m4 0h1m0 0h1m5 0h1m-33 1h1m25 0h1m0 0h1m3 0h1m1 0h1m-7 1h1m1 0h1m0 0h1m3 0h1m-44 1h1m28 0h1m0 0h1m4 0h1m3 0h1m-12 1h1m4 0h1m8 0h1m-17 1h1m3 0h1m5 0h1m0 0h1m1 0h1m-2 1h1m3 0h1m-7 1h1m4 0h1m-1 1h1m-39 1h1m24 1h1m4 0h1m2 0h1m-8 2h1m5 1h1m14 7h1m-72 1h1" stroke="#666"/><path d="M0 0.5m256 247h1m6 0h1m-1 2h1m-25 1h1m28 0h1m12 0h1m-11 1h1m2 0h1m-30 1h1m4 1h1m5 0h1m9 0h1m6 0h1m-32 1h1m11 0h1m-13 1h1m5 0h1m8 0h1m8 0h1m7 0h1m-39 1h1m1 0h1m20 0h1m-11 1h1m-12 1h1m5 0h1m1 0h1m5 0h1m6 0h1m0 0h1m2 0h1m1 0h1m1 0h1m3 0h1m-32 1h1m11 0h1m1 0h1m0 0h1m20 0h1m-35 1h1m25 0h1m2 0h1m1 0h1m12 0h1m-56 1h1m8 0h1m9 0h1m2 0h1m1 0h1m2 0h1m2 0h1m0 0h1m1 0h1m7 0h1m10 0h1m-57 1h1m7 0h1m4 0h1m4 0h1m3 0h1m5 0h1m0 0h1m4 0h1m6 0h1m1 0h1m1 0h1m0 0h1m-33 1h1m1 0h1m0 0h1m0 0h1m1 0h1m1 0h1m5 0h1m4 0h1m1 0h1m4 0h1m0 0h1m1 0h1m16 0h1m-59 1h1m9 0h1m1 0h1m4 0h1m0 0h1m1 0h1m1 0h1m4 0h1m-29 1h1m7 0h1m0 0h1m0 0h1m1 0h1m1 0h1m2 0h1m8 0h1m13 0h1m2 0h1m3 0h1m-40 1h1m2 0h1m0 0h1m3 0h1m1 0h1m3 0h1m1 0h1m1 0h1m8 0h1m1 0h1m0 0h1m3 0h1m-37 1h1m0 0h1m3 0h1m5 0h1m1 0h1m9 0h1m1 0h1m3 0h1m7 0h1m4 0h1m1 0h1m16 0h1m-70 1h1m8 0h1m3 0h1m0 0h1m1 0h1m5 0h1m4 0h1m1 0h1m0 0h1m3 0h1m1 0h1m2 0h1m5 0h1m1 0h1m0 0h1m5 0h1m0 0h1m-50 1h1m0 0h1m0 0h1m2 0h1m1 0h1m0 0h1m3 0h1m2 0h1m1 0h1m2 0h1m0 0h1m4 0h1m10 0h1m7 0h1m5 0h1m-51 1h1m3 0h1m2 0h1m0 0h1m0 0h1m0 0h1m0 0h1m7 0h1m6 0h1m0 0h1m2 0h1m3 0h1m3 0h1m2 0h1m2 0h1m10 0h1m-61 1h1m4 0h1m1 0h1m1 0h1m4 0h1m0 0h1m1 0h1m1 0h1m2 0h1m1 0h1m3 0h1m6 0h1m0 0h1m0 0h1m1 0h1m1 0h1m2 0h1m0 0h1m0 0h1m0 0h1m8 0h1m-53 1h1m3 0h1m2 0h1m0 0h1m3 0h1m0 0h1m2 0h1m0 0h1m13 0h1m0 0h1m2 0h1m3 0h1m7 0h1m0 0h1m11 0h1m-60 1h1m0 0h1m0 0h1m2 0h1m1 0h1m0 0h1m0 0h1m6 0h1m3 0h1m0 0h1m2 0h1m14 0h1m7 0h1m2 0h1m0 0h1m7 0h1m-60 1h1m1 0h1m0 0h1m0 0h1m0 0h1m1 0h1m5 0h1m5 0h1m0 0h1m5 0h1m3 0h1m13 0h1m0 0h1m-45 1h1m6 0h1m0 0h1m2 0h1m0 0h1m13 0h1m0 0h1m1 0h1m2 0h1m3 0h1m4 0h1m0 0h1m1 0h1m0 0h1m-43 1h1m0 0h1m3 0h1m0 0h1m6 0h1m3 0h1m3 0h1m4 0h1m5 0h1m2 0h1m1 0h1m2 0h1m0 0h1m4 0h1m-55 1h1m3 0h1m2 0h1m0 0h1m2 0h1m0 0h1m2 0h1m1 0h1m6 0h1m0 0h1m6 0h1m0 0h1m3 0h1m1 0h1m2 0h1m0 0h1m1 0h1m0 0h1m-43 1h1m8 0h1m0 0h1m9 0h1m7 0h1m0 0h1m2 0h1m4 0h1m4 0h1m2 0h1m8 0h1m-59 1h1m6 0h1m25 0h1m9 0h1m2 0h1m0 0h1m7 0h1m0 0h1m-47 1h1m7 0h1m5 0h1m1 0h1m0 0h1m7 0h1m6 0h1m1 0h1m0 0h1m1 0h1m0 0h1m5 0h1m0 0h1m0 0h1m-35 1h1m0 0h1m4 0h1m0 0h1m0 0h1m3 0h1m5 0h1m0 0h1m1 0h1m4 0h1m3 0h1m0 0h1m0 0h1m-40 1h1m9 0h1m0 0h1m4 0h1m3 0h1m3 0h1m3 0h1m0 0h1m6 0h1m1 0h1m1 0h1m-44 1h1m2 0h1m1 0h1m3 0h1m4 0h1m1 0h1m1 0h1m0 0h1m0 0h1m1 0h1m0 0h1m1 0h1m4 0h1m2 0h1m0 0h1m1 0h1m-44 1h1m2 0h1m11 0h1m4 0h1m4 0h1m5 0h1m1 0h1m1 0h1m1 0h1m0 0h1m2 0h1m1 0h1m0 0h1m-30 1h1m6 0h1m4 0h1m1 0h1m1 0h1m0 0h1m3 0h1m5 0h1m5 0h1m-34 1h1m1 0h1m10 0h1m5 0h1m3 0h1m1 0h1m7 0h1m0 0h1m0 0h1m-32 1h1m1 0h1m9 0h1m0 0h1m0 0h1m1 0h1m1 0h1m3 0h1m9 0h1m4 0h1m-42 1h1m7 0h1m1 0h1m3 0h1m1 0h1m2 0h1m0 0h1m2 0h1m7 0h1m8 0h1m-41 1h1m0 0h1m6 0h1m2 0h1m7 0h1m1 0h1m11 0h1m-35 1h1m9 0h1m13 0h1m2 0h1m3 0h1m8 0h1m-43 1h1m4 0h1m1 0h1m2 0h1m6 0h1m5 0h1m0 0h1m5 0h1m0 0h1m2 0h1m-29 1h1m1 0h1m1 0h1m1 0h1m0 0h1m3 0h1m2 0h1m2 0h1m8 0h1m0 0h1m-47 1h1m10 0h1m7 0h1m7 0h1m5 0h1m5 0h1m1 0h1m6 0h1m1 0h1m-40 1h1m2 0h1m1 0h1m7 0h1m0 0h1m0 0h1m0 0h1m4 0h1m8 0h1m1 0h1m6 0h1m7 0h1m-66 1h1m30 0h1m3 0h1m3 0h1m0 0h1m5 0h1m1 0h1m4 0h1m5 0h1m-36 1h1m4 0h1m1 0h1m7 0h1m0 0h1m4 0h1m1 0h1m3 0h1m-38 1h1m15 0h1m3 0h1m0 0h1m0 0h1m4 0h1m6 0h1m2 0h1m0 0h1m3 0h1m-48 1h1m14 0h1m1 0h1m17 0h1m15 0h1m-37 1h1m5 0h1m7 0h1m0 0h1m1 0h1m20 0h1m1 0h1m4 0h1m0 0h1m-41 1h1m1 0h1m5 0h1m3 0h1m17 0h1m1 0h1m-51 1h1m8 0h1m15 0h1m1 0h1m8 0h1m10 0h1m-32 1h1m1 0h1m0 0h1m1 0h1m0 0h1m1 0h1m4 0h1m7 0h1m8 0h1m0 0h1m-30 1h1m0 0h1m10 0h1m4 0h1m-27 1h1m5 0h1m0 0h1m3 0h1m4 0h1m0 0h1m13 0h1m2 0h1m5 0h1m1 0h1m-41 1h1m4 0h1m8 0h1m5 0h1m3 0h1m1 0h1m0 0h1m1 0h1m1 0h1m0 0h1m1 0h1m2 0h1m0 0h1m1 0h1m-31 1h1m20 0h1m1 0h1m-54 1h1m10 0h1m17 0h1m17 0h1m2 0h1m1 0h1m0 0h1m0 0h1m1 0h1m0 0h1m3 0h1m2 0h1m-43 1h1m0 0h1m7 0h1m1 0h1m2 0h1m3 0h1m2 0h1m6 0h1m0 0h1m-40 1h1m0 0h1m35 0h1m0 0h1m3 0h1m4 0h1m0 0h1m-53 1h1m14 0h1m12 0h1m1 0h1m5 0h1m8 0h1m3 0h1m0 0h1m2 0h1m-36 1h1m14 0h1m0 0h1m3 0h1m0 0h1m3 0h1m0 0h1m0 0h1m0 0h1m1 0h1m1 0h1m1 0h1m-35 1h1m2 0h1m10 0h1m10 0h1m0 0h1m0 0h1m1 0h1m1 0h1m1 0h1m0 0h1m-27 1h1m0 0h1m7 0h1m3 0h1m1 0h1m2 0h1m1 0h1m5 0h1m2 0h1m-63 1h1m21 0h1m7 0h1m12 0h1m5 0h1m0 0h1m2 0h1m1 0h1m7 0h1m-15 1h1m4 0h1m2 0h1m3 0h1m-61 1h1m49 0h1m3 0h1m0 0h1m1 0h1m0 0h1m3 0h1m-9 1h1m6 0h1m-12 1h1m0 0h1m6 0h1m2 0h1m-24 1h1m13 0h1m0 0h1m0 0h1m1 0h1m0 0h1m1 0h1m-28 1h1m14 0h1m1 0h1m3 0h1m11 0h1m-34 1h1m11 0h1m1 0h1m6 0h1m2 0h1m-7 1h1m1 0h1m3 0h1m0 0h1m-16 1h1m4 0h1m-35 2h1m14 0h1m18 0h1m1 0h1m-1 1h1m12 0h1m-61 2h1m48 0h1m0 0h1m6 2h1m22 1h1m-30 2h1m0 5h1m4 0h1m-40 1h1" stroke="#3c3c3c"/><path d="M0 0.5m278 239h1m-50 6h1m34 0h1m-18 3h1m16 0h1m-16 1h1m1 1h1m5 1h1m-22 1h1m19 1h1m9 0h1m-14 1h1m11 0h1m59 0h1m-69 1h1m1 0h1m-8 2h1m0 0h1m3 0h1m4 0h1m4 0h1m7 0h1m-26 1h1m2 0h1m8 0h1m11 0h1m-30 1h1m8 0h1m15 0h1m1 0h1m14 0h1m-62 1h1m8 0h1m1 0h1m5 0h1m5 0h1m4 0h1m4 0h1m3 0h1m5 0h1m5 0h1m11 0h1m-45 1h1m17 0h1m4 0h1m5 0h1m-35 1h1m11 0h1m4 0h1m14 0h1m2 0h1m-38 1h1m4 0h1m2 0h1m0 0h1m0 0h1m3 0h1m14 0h1m3 0h1m4 0h1m7 0h1m1 0h1m-42 1h1m3 0h1m8 0h1m0 0h1m2 0h1m7 0h1m1 0h1m4 0h1m0 0h1m1 0h1m14 0h1m-66 1h1m9 0h1m7 0h1m7 0h1m1 0h1m2 0h1m0 0h1m2 0h1m0 0h1m9 0h1m3 0h1m-40 1h1m1 0h1m4 0h1m3 0h1m5 0h1m1 0h1m11 0h1m3 0h1m0 0h1m7 0h1m-55 1h1m1 0h1m0 0h1m0 0h1m4 0h1m5 0h1m0 0h1m2 0h1m3 0h1m5 0h1m0 0h1m3 0h1m15 0h1m-45 1h1m2 0h1m0 0h1m2 0h1m16 0h1m7 0h1m0 0h1m5 0h1m0 0h1m2 0h1m2 0h1m8 0h1m-60 1h1m8 0h1m4 0h1m0 0h1m2 0h1m1 0h1m8 0h1m2 0h1m1 0h1m3 0h1m0 0h1m3 0h1m0 0h1m0 0h1m2 0h1m7 0h1m-56 1h1m6 0h1m0 0h1m6 0h1m9 0h1m10 0h1m0 0h1m0 0h1m8 0h1m10 0h1m-60 1h1m1 0h1m4 0h1m0 0h1m1 0h1m0 0h1m0 0h1m0 0h1m2 0h1m0 0h1m2 0h1m2 0h1m0 0h1m3 0h1m2 0h1m3 0h1m1 0h1m0 0h1m1 0h1m0 0h1m14 0h1m-62 1h1m5 0h1m5 0h1m0 0h1m0 0h1m0 0h1m1 0h1m0 0h1m1 0h1m9 0h1m1 0h1m1 0h1m9 0h1m5 0h1m24 0h1m-75 1h1m10 0h1m0 0h1m2 0h1m2 0h1m1 0h1m0 0h1m0 0h1m2 0h1m1 0h1m5 0h1m3 0h1m0 0h1m2 0h1m4 0h1m3 0h1m1 0h1m5 0h1m-56 1h1m6 0h1m2 0h1m2 0h1m0 0h1m11 0h1m3 0h1m2 0h1m0 0h1m0 0h1m5 0h1m0 0h1m1 0h1m5 0h1m3 0h1m39 0h1m-98 1h1m7 0h1m2 0h1m9 0h1m7 0h1m1 0h1m3 0h1m6 0h1m0 0h1m0 0h1m5 0h1m6 0h1m-56 1h1m4 0h1m3 0h1m3 0h1m10 0h1m0 0h1m2 0h1m3 0h1m4 0h1m3 0h1m5 0h1m0 0h1m10 0h1m2 0h1m-57 1h1m1 0h1m2 0h1m3 0h1m2 0h1m0 0h1m3 0h1m2 0h1m3 0h1m1 0h1m2 0h1m0 0h1m0 0h1m4 0h1m1 0h1m4 0h1m0 0h1m7 0h1m-47 1h1m0 0h1m1 0h1m2 0h1m3 0h1m0 0h1m7 0h1m2 0h1m1 0h1m1 0h1m1 0h1m3 0h1m1 0h1m0 0h1m0 0h1m2 0h1m11 0h1m-61 1h1m9 0h1m0 0h1m4 0h1m5 0h1m0 0h1m2 0h1m0 0h1m0 0h1m1 0h1m0 0h1m0 0h1m8 0h1m1 0h1m0 0h1m0 0h1m0 0h1m-33 1h1m2 0h1m13 0h1m0 0h1m0 0h1m1 0h1m6 0h1m1 0h1m3 0h1m-49 1h1m1 0h1m5 0h1m5 0h1m3 0h1m6 0h1m2 0h1m1 0h1m0 0h1m1 0h1m4 0h1m1 0h1m1 0h1m2 0h1m-52 1h1m12 0h1m0 0h1m5 0h1m1 0h1m15 0h1m1 0h1m0 0h1m0 0h1m0 0h1m0 0h1m0 0h1m1 0h1m5 0h1m0 0h1m10 0h1m-53 1h1m13 0h1m6 0h1m2 0h1m0 0h1m1 0h1m0 0h1m2 0h1m0 0h1m3 0h1m1 0h1m3 0h1m-34 1h1m0 0h1m2 0h1m3 0h1m2 0h1m3 0h1m6 0h1m0 0h1m1 0h1m1 0h1m2 0h1m9 0h1m10 0h1m-68 1h1m4 0h1m2 0h1m3 0h1m17 0h1m1 0h1m7 0h1m2 0h1m1 0h1m1 0h1m-43 1h1m2 0h1m8 0h1m4 0h1m0 0h1m0 0h1m4 0h1m1 0h1m0 0h1m0 0h1m2 0h1m0 0h1m0 0h1m1 0h1m5 0h1m-27 1h1m5 0h1m3 0h1m2 0h1m7 0h1m3 0h1m1 0h1m3 0h1m-40 1h1m6 0h1m7 0h1m6 0h1m1 0h1m3 0h1m0 0h1m0 0h1m-38 1h1m21 0h1m1 0h1m3 0h1m1 0h1m3 0h1m0 0h1m0 0h1m3 0h1m0 0h1m1 0h1m5 0h1m-47 1h1m4 0h1m2 0h1m0 0h1m9 0h1m0 0h1m5 0h1m2 0h1m6 0h1m3 0h1m-28 1h1m7 0h1m6 0h1m5 0h1m1 0h1m26 0h1m-71 1h1m6 0h1m6 0h1m2 0h1m7 0h1m0 0h1m2 0h1m0 0h1m1 0h1m4 0h1m0 0h1m1 0h1m0 0h1m2 0h1m4 0h1m5 0h1m-41 1h1m5 0h1m0 0h1m2 0h1m11 0h1m8 0h1m3 0h1m-50 1h1m24 0h1m1 0h1m1 0h1m2 0h1m4 0h1m0 0h1m0 0h1m4 0h1m1 0h1m-35 1h1m9 0h1m4 0h1m0 0h1m10 0h1m2 0h1m0 0h1m-14 1h1m2 0h1m2 0h1m5 0h1m-41 1h1m30 0h1m6 0h1m3 0h1m-39 1h1m13 0h1m4 0h1m3 0h1m3 0h1m0 0h1m4 0h1m0 0h1m-26 1h1m11 0h1m4 0h1m4 0h1m8 0h1m1 0h1m0 0h1m1 0h1m-51 1h1m25 0h1m15 0h1m13 0h1m-40 1h1m3 0h1m0 0h1m0 0h1m1 0h1m1 0h1m4 0h1m-24 1h1m20 0h1m6 0h1m2 0h1m2 0h1m2 0h1m5 0h1m-35 1h1m20 0h1m5 0h1m4 0h1m1 0h1m1 0h1m-33 1h1m27 0h1m0 0h1m5 0h1m-40 1h1m13 0h1m14 0h1m1 0h1m0 0h1m2 0h1m6 0h1m-43 1h1m3 0h1m13 0h1m0 0h1m2 0h1m1 0h1m0 0h1m0 0h1m1 0h1m3 0h1m-31 1h1m20 0h1m3 0h1m4 0h1m-22 1h1m8 0h1m0 0h1m2 0h1m3 0h1m1 0h1m8 0h1m-21 1h1m3 0h1m7 0h1m-53 1h1m10 0h1m4 0h1m11 0h1m6 0h1m4 0h1m6 0h1m0 0h1m1 0h1m2 0h1m0 0h1m-13 1h1m1 0h1m1 0h1m2 0h1m2 0h1m3 0h1m-16 1h1m1 0h1m0 0h1m3 0h1m0 0h1m1 0h1m-40 1h1m21 0h1m5 0h1m4 0h1m0 0h1m4 0h1m0 0h1m3 0h1m2 0h1m-27 1h1m14 0h1m1 0h1m1 0h1m0 0h1m1 0h1m-10 1h1m4 0h1m0 0h1m0 0h1m0 0h1m-18 1h1m5 0h1m3 0h1m3 0h1m0 0h1m2 0h1m3 0h1m-65 1h1m38 0h1m1 0h1m6 0h1m0 0h1m7 0h1m2 0h1m4 0h1m-15 1h1m2 0h1m3 0h1m-43 1h1m35 0h1m4 0h1m2 0h1m3 0h1m-33 1h1m12 0h1m-15 1h1m24 0h1m8 0h1m-16 1h1m3 0h1m-17 1h1m12 0h1m1 0h1m2 0h1m-31 1h1m37 0h1m-21 1h1m7 0h1m-7 2h1m11 1h1m5 0h1m-37 1h1m24 0h1m10 0h1m-10 1h1m-14 2h1m17 0h1m-22 1h1m-17 1h1" stroke="#222"/><path d="M0 0.5m259 239h1m1 1h1m32 6h1m-14 2h1m-7 1h1m-22 1h1m-3 1h1m17 0h1m5 0h1m-41 1h1m15 0h1m3 0h1m-21 1h1m8 0h1m-2 1h1m23 0h1m6 0h1m1 0h1m-9 1h1m-24 1h1m7 0h1m12 0h1m50 0h1m-79 1h1m7 0h1m1 0h1m10 0h1m0 0h1m9 0h1m-15 1h1m16 0h1m-37 1h1m19 0h1m-7 1h1m4 0h1m2 0h1m-34 1h1m13 0h1m1 0h1m7 0h1m5 0h1m2 0h1m0 0h1m1 0h1m0 0h1m2 0h1m13 0h1m5 0h1m-48 1h1m0 0h1m2 0h1m0 0h1m1 0h1m0 0h1m1 0h1m2 0h1m2 0h1m0 0h1m4 0h1m-30 1h1m1 0h1m0 0h1m4 0h1m0 0h1m1 0h1m1 0h1m0 0h1m0 0h1m3 0h1m4 0h1m1 0h1m0 0h1m5 0h1m5 0h1m0 0h1m5 0h1m-42 1h1m7 0h1m13 0h1m0 0h1m0 0h1m3 0h1m5 0h1m3 0h1m3 0h1m-49 1h1m0 0h1m0 0h1m2 0h1m9 0h1m7 0h1m5 0h1m3 0h1m-35 1h1m1 0h1m1 0h1m1 0h1m0 0h1m0 0h1m0 0h1m0 0h1m0 0h1m0 0h1m8 0h1m2 0h1m4 0h1m0 0h1m-33 1h1m1 0h1m2 0h1m2 0h1m2 0h1m5 0h1m5 0h1m1 0h1m0 0h1m5 0h1m1 0h1m2 0h1m3 0h1m0 0h1m-32 1h1m0 0h1m0 0h1m1 0h1m0 0h1m1 0h1m3 0h1m0 0h1m2 0h1m5 0h1m8 0h1m-42 1h1m0 0h1m5 0h1m0 0h1m0 0h1m0 0h1m2 0h1m4 0h1m4 0h1m4 0h1m0 0h1m2 0h1m0 0h1m2 0h1m4 0h1m6 0h1m6 0h1m12 0h1m-72 1h1m2 0h1m6 0h1m1 0h1m0 0h1m0 0h1m2 0h1m4 0h1m4 0h1m3 0h1m0 0h1m4 0h1m3 0h1m4 0h1m3 0h1m0 0h1m1 0h1m0 0h1m37 0h1m-90 1h1m0 0h1m7 0h1m1 0h1m0 0h1m0 0h1m4 0h1m4 0h1m2 0h1m4 0h1m4 0h1m4 0h1m1 0h1m0 0h1m1 0h1m3 0h1m0 0h1m2 0h1m-58 1h1m3 0h1m1 0h1m2 0h1m0 0h1m1 0h1m3 0h1m0 0h1m0 0h1m0 0h1m1 0h1m0 0h1m14 0h1m4 0h1m11 0h1m-51 1h1m0 0h1m1 0h1m0 0h1m0 0h1m2 0h1m1 0h1m1 0h1m2 0h1m6 0h1m3 0h1m0 0h1m1 0h1m1 0h1m3 0h1m2 0h1m0 0h1m4 0h1m0 0h1m1 0h1m-54 1h1m4 0h1m4 0h1m3 0h1m0 0h1m1 0h1m2 0h1m1 0h1m0 0h1m6 0h1m3 0h1m4 0h1m1 0h1m0 0h1m1 0h1m1 0h1m12 0h1m4 0h1m-51 1h1m0 0h1m1 0h1m2 0h1m4 0h1m2 0h1m0 0h1m2 0h1m2 0h1m0 0h1m0 0h1m1 0h1m0 0h1m0 0h1m1 0h1m4 0h1m0 0h1m0 0h1m1 0h1m2 0h1m1 0h1m-47 1h1m4 0h1m0 0h1m1 0h1m3 0h1m1 0h1m5 0h1m8 0h1m0 0h1m1 0h1m1 0h1m0 0h1m0 0h1m4 0h1m6 0h1m-47 1h1m0 0h1m1 0h1m4 0h1m0 0h1m1 0h1m2 0h1m0 0h1m4 0h1m5 0h1m2 0h1m2 0h1m3 0h1m1 0h1m2 0h1m-43 1h1m21 0h1m4 0h1m0 0h1m1 0h1m0 0h1m6 0h1m1 0h1m1 0h1m1 0h1m5 0h1m-50 1h1m0 0h1m0 0h1m2 0h1m18 0h1m1 0h1m3 0h1m0 0h1m0 0h1m5 0h1m3 0h1m5 0h1m-49 1h1m1 0h1m0 0h1m0 0h1m3 0h1m0 0h1m3 0h1m15 0h1m1 0h1m0 0h1m2 0h1m1 0h1m0 0h1m8 0h1m-39 1h1m1 0h1m6 0h1m6 0h1m0 0h1m0 0h1m3 0h1m0 0h1m6 0h1m7 0h1m3 0h1m6 0h1m-60 1h1m3 0h1m6 0h1m2 0h1m4 0h1m2 0h1m2 0h1m0 0h1m2 0h1m0 0h1m0 0h1m8 0h1m7 0h1m0 0h1m3 0h1m0 0h1m-51 1h1m0 0h1m10 0h1m3 0h1m3 0h1m9 0h1m0 0h1m3 0h1m3 0h1m12 0h1m-67 1h1m16 0h1m6 0h1m2 0h1m6 0h1m1 0h1m2 0h1m1 0h1m1 0h1m1 0h1m0 0h1m7 0h1m4 0h1m3 0h1m-48 1h1m7 0h1m13 0h1m2 0h1m0 0h1m5 0h1m2 0h1m1 0h1m1 0h1m-42 1h1m14 0h1m2 0h1m2 0h1m1 0h1m2 0h1m1 0h1m0 0h1m1 0h1m1 0h1m3 0h1m0 0h1m4 0h1m8 0h1m-39 1h1m1 0h1m6 0h1m0 0h1m2 0h1m1 0h1m4 0h1m2 0h1m1 0h1m1 0h1m-30 1h1m6 0h1m2 0h1m0 0h1m0 0h1m2 0h1m0 0h1m0 0h1m1 0h1m6 0h1m-24 1h1m0 0h1m2 0h1m4 0h1m1 0h1m1 0h1m1 0h1m3 0h1m0 0h1m7 0h1m4 0h1m-55 1h1m6 0h1m17 0h1m8 0h1m0 0h1m1 0h1m9 0h1m-32 1h1m0 0h1m8 0h1m3 0h1m0 0h1m21 0h1m-47 1h1m11 0h1m3 0h1m1 0h1m5 0h1m5 0h1m0 0h1m7 0h1m-49 1h1m31 0h1m2 0h1m2 0h1m4 0h1m7 0h1m-28 1h1m6 0h1m8 0h1m0 0h1m-35 1h1m14 0h1m6 0h1m1 0h1m8 0h1m1 0h1m2 0h1m-34 1h1m14 0h1m2 0h1m6 0h1m7 0h1m14 0h1m-46 1h1m4 0h1m9 0h1m5 0h1m0 0h1m8 0h1m-30 1h1m3 0h1m1 0h1m5 0h1m2 0h1m14 0h1m2 0h1m-30 1h1m6 0h1m0 0h1m5 0h1m8 0h1m1 0h1m6 0h1m4 0h1m-40 1h1m6 0h1m3 0h1m0 0h1m1 0h1m1 0h1m4 0h1m0 0h1m8 0h1m-33 1h1m24 0h1m-17 1h1m4 0h1m8 0h1m1 0h1m0 0h1m5 0h1m-45 1h1m15 0h1m2 0h1m10 0h1m0 0h1m0 0h1m1 0h1m-33 1h1m9 0h1m14 0h1m2 0h1m3 0h1m1 0h1m8 0h1m-32 1h1m16 0h1m11 0h1m-45 1h1m22 0h1m3 0h1m10 0h1m1 0h1m3 0h1m3 0h1m4 0h1m-33 1h1m16 0h1m0 0h1m2 0h1m3 0h1m0 0h1m2 0h1m-58 1h1m12 0h1m1 0h1m0 0h1m3 0h1m6 0h1m2 0h1m9 0h1m3 0h1m3 0h1m3 0h1m0 0h1m0 0h1m1 0h1m1 0h1m-50 1h1m30 0h1m4 0h1m0 0h1m0 0h1m2 0h1m1 0h1m1 0h1m3 0h1m-44 1h1m4 0h1m8 0h1m18 0h1m0 0h1m2 0h1m3 0h1m-22 1h1m8 0h1m4 0h1m0 0h1m1 0h1m0 0h1m2 0h1m0 0h1m0 0h1m-33 1h1m20 0h1m2 0h1m3 0h1m-22 1h1m1 0h1m7 0h1m1 0h1m2 0h1m3 0h1m0 0h1m0 0h1m1 0h1m1 0h1m-12 1h1m0 0h1m0 0h1m2 0h1m0 0h1m2 0h1m0 0h1m0 0h1m0 0h1m2 0h1m-35 1h1m11 0h1m9 0h1m1 0h1m2 0h1m-50 1h1m37 0h1m1 0h1m6 0h1m-38 1h1m14 0h1m7 0h1m6 0h1m1 0h1m1 0h1m0 0h1m1 0h1m1 0h1m1 0h1m2 0h1m-15 1h1m1 0h1m0 0h1m4 0h1m0 0h1m1 0h1m-11 1h1m4 0h1m-18 1h1m12 0h1m2 0h1m-3 1h1m3 0h1m-33 2h1m29 0h1m0 0h1m0 0h1m-11 1h1m3 0h1m0 0h1m-23 1h1m14 3h1m-16 1h1m17 0h1m22 1h1m-52 4h1" stroke="#111"/></g>
<rect x="223.00" y="238.00" width="111.80" height="105.50" fill="none" stroke="#111" stroke-width="1.3"/><path d="M223.00 238.00V343.50H334.80" fill="none" stroke="#000" stroke-width="2"/><path d="M223.00 343.50v3.50M223.00 343.50h-3.50M231.41 343.50v2.00M223.00 335.56h-2.00M236.34 343.50v2.00M223.00 330.92h-2.00M239.83 343.50v2.00M223.00 327.62h-2.00M242.54 343.50v2.00M223.00 325.06h-2.00M244.75 343.50v2.00M223.00 322.98h-2.00M246.62 343.50v2.00M223.00 321.21h-2.00M248.24 343.50v2.00M223.00 319.68h-2.00M249.67 343.50v2.00M223.00 318.33h-2.00M250.95 343.50v3.50M223.00 317.12h-3.50M259.36 343.50v2.00M223.00 309.19h-2.00M264.29 343.50v2.00M223.00 304.54h-2.00M267.78 343.50v2.00M223.00 301.25h-2.00M270.49 343.50v2.00M223.00 298.69h-2.00M272.70 343.50v2.00M223.00 296.60h-2.00M274.57 343.50v2.00M223.00 294.84h-2.00M276.19 343.50v2.00M223.00 293.31h-2.00M277.62 343.50v2.00M223.00 291.96h-2.00M278.90 343.50v3.50M223.00 290.75h-3.50M287.31 343.50v2.00M223.00 282.81h-2.00M292.24 343.50v2.00M223.00 278.17h-2.00M295.73 343.50v2.00M223.00 274.87h-2.00M298.44 343.50v2.00M223.00 272.31h-2.00M300.65 343.50v2.00M223.00 270.23h-2.00M302.52 343.50v2.00M223.00 268.46h-2.00M304.14 343.50v2.00M223.00 266.93h-2.00M305.57 343.50v2.00M223.00 265.58h-2.00M306.85 343.50v3.50M223.00 264.38h-3.50M315.26 343.50v2.00M223.00 256.44h-2.00M320.19 343.50v2.00M223.00 251.79h-2.00M323.68 343.50v2.00M223.00 248.50h-2.00M326.39 343.50v2.00M223.00 245.94h-2.00M328.60 343.50v2.00M223.00 243.85h-2.00M330.47 343.50v2.00M223.00 242.09h-2.00M332.09 343.50v2.00M223.00 240.56h-2.00M333.52 343.50v2.00M223.00 239.21h-2.00M334.80 343.50v2.5M223.00 238.00h-2.5" stroke="#000" stroke-width="1"/><path d="M249.60 238.00V343.50M223.00 316.60H334.80" stroke="#222" stroke-width="1"/><text x="215.70" y="357.50" font-size="8.3" font-weight="bold">10</text><text x="224.70" y="351.50" font-size="6.8" font-weight="bold">0</text><text x="243.65" y="357.50" font-size="8.3" font-weight="bold">10</text><text x="252.65" y="351.50" font-size="6.8" font-weight="bold">1</text><text x="271.60" y="357.50" font-size="8.3" font-weight="bold">10</text><text x="280.60" y="351.50" font-size="6.8" font-weight="bold">2</text><text x="299.55" y="357.50" font-size="8.3" font-weight="bold">10</text><text x="308.55" y="351.50" font-size="6.8" font-weight="bold">3</text><text x="327.50" y="357.50" font-size="8.3" font-weight="bold">10</text><text x="336.50" y="351.50" font-size="6.8" font-weight="bold">4</text><g transform="translate(214.20 343.50) rotate(-90)"><text x="-7.3" y="0" font-size="8.3" font-weight="bold">10</text><text x="1.8" y="-5.3" font-size="6.8" font-weight="bold">0</text></g><g transform="translate(214.20 317.12) rotate(-90)"><text x="-7.3" y="0" font-size="8.3" font-weight="bold">10</text><text x="1.8" y="-5.3" font-size="6.8" font-weight="bold">1</text></g><g transform="translate(214.20 290.75) rotate(-90)"><text x="-7.3" y="0" font-size="8.3" font-weight="bold">10</text><text x="1.8" y="-5.3" font-size="6.8" font-weight="bold">2</text></g><g transform="translate(214.20 264.38) rotate(-90)"><text x="-7.3" y="0" font-size="8.3" font-weight="bold">10</text><text x="1.8" y="-5.3" font-size="6.8" font-weight="bold">3</text></g><g transform="translate(214.20 238.00) rotate(-90)"><text x="-7.3" y="0" font-size="8.3" font-weight="bold">10</text><text x="1.8" y="-5.3" font-size="6.8" font-weight="bold">4</text></g><text x="261.15" y="367.50" font-size="9" font-weight="bold" textLength="35.5" lengthAdjust="spacingAndGlyphs">KELL-PE</text><text transform="translate(202.50 292.35) rotate(-90)" x="-37.50" font-size="9" font-weight="bold" textLength="75.0" lengthAdjust="spacingAndGlyphs">Anti-HLA-DR PerCP</text><text x="227.80" y="256.40" font-size="8.6" font-weight="bold" letter-spacing="0.65">22%</text><text x="299.30" y="256.40" font-size="8.6" font-weight="bold" letter-spacing="0.65">68%</text><text x="299.30" y="267.90" font-size="8.6" font-weight="bold" letter-spacing="0.00">Day 4</text><text x="308.80" y="335.40" font-size="8.6" font-weight="bold" letter-spacing="0.65">7%</text>
<g fill="none" stroke-width="1"><path d="M0 0.5m426 244h1m-8 1h1m21 0h1m-20 2h1m-12 3h1m16 0h1m8 0h1m-6 2h1m3 2h1m-21 1h1m5 0h1m0 0h1m21 0h1m-29 1h1m3 0h1m1 0h1m-18 1h1m10 0h1m9 0h1m5 0h1m6 0h1m3 0h1m0 0h1m3 0h1m-20 1h1m-23 1h1m41 1h1m-51 1h1m24 0h1m5 0h1m0 0h1m6 0h1m4 0h1m4 0h1m6 0h1m-49 1h1m15 0h1m3 0h1m-9 1h1m17 0h1m19 0h1m-53 1h1m2 0h1m8 0h1m3 0h1m2 0h1m10 0h1m6 0h1m0 0h1m3 0h1m-38 1h1m17 0h1m1 0h1m5 0h1m0 0h1m10 0h1m6 0h1m4 0h1m0 0h1m-37 1h1m8 0h1m10 0h1m4 0h1m-41 1h1m11 0h1m1 0h1m2 0h1m0 0h1m18 0h1m-43 1h1m10 0h1m5 0h1m0 0h1m3 0h1m11 0h1m18 0h1m-49 1h1m5 0h1m5 0h1m3 0h1m9 0h1m-30 1h1m12 0h1m13 0h1m4 0h1m-37 1h1m15 0h1m3 0h1m3 0h1m13 0h1m16 0h1m7 0h1m-47 1h1m8 0h1m7 0h1m7 0h1m2 0h1m-47 1h1m23 0h1m1 0h1m5 0h1m7 0h1m0 0h1m-31 1h1m1 0h1m2 0h1m6 0h1m4 0h1m12 0h1m5 0h1m10 0h1m-57 1h1m9 0h1m4 0h1m6 0h1m2 0h1m2 0h1m0 0h1m2 0h1m1 0h1m5 0h1m0 0h1m28 0h1m-62 1h1m27 0h1m1 0h1m6 0h1m6 0h1m-49 1h1m5 0h1m22 0h1m0 0h1m2 0h1m16 0h1m3 0h1m-60 1h1m9 0h1m4 0h1m5 0h1m1 0h1m2 0h1m0 0h1m4 0h1m0 0h1m0 0h1m1 0h1m6 0h1m-38 1h1m6 0h1m12 0h1m0 0h1m2 0h1m0 0h1m1 0h1m0 0h1m1 0h1m4 0h1m4 0h1m-34 1h1m2 0h1m10 0h1m0 0h1m2 0h1m0 0h1m0 0h1m1 0h1m0 0h1m2 0h1m10 0h1m-28 1h1m5 0h1m2 0h1m0 0h1m2 0h1m2 0h1m1 0h1m-38 1h1m2 0h1m5 0h1m6 0h1m6 0h1m2 0h1m2 0h1m1 0h1m1 0h1m10 0h1m-31 1h1m3 0h1m7 0h1m0 0h1m0 0h1m0 0h1m0 0h1m0 0h1m0 0h1m1 0h1m2 0h1m13 0h1m-49 1h1m13 0h1m1 0h1m0 0h1m3 0h1m0 0h1m0 0h1m0 0h1m0 0h1m-40 1h1m29 0h1m8 0h1m1 0h1m0 0h1m1 0h1m0 0h1m0 0h1m8 0h1m3 0h1m-33 1h1m7 0h1m1 0h1m1 0h1m3 0h1m-11 1h1m3 0h1m0 0h1m0 0h1m2 0h1m1 0h1m0 0h1m-41 1h1m6 0h1m19 0h1m1 0h1m2 0h1m0 0h1m0 0h1m0 0h1m0 0h1m1 0h1m0 0h1m2 0h1m-8 1h1m0 0h1m0 0h1m1 0h1m2 0h1m0 0h1m2 0h1m-28 1h1m9 0h1m0 0h1m5 0h1m1 0h1m2 0h1m-25 1h1m8 0h1m3 0h1m1 0h1m0 0h1m0 0h1m0 0h1m0 0h1m0 0h1m0 0h1m2 0h1m0 0h1m-11 1h1m2 0h1m0 0h1m3 0h1m1 0h1m-13 1h1m2 0h1m0 0h1m2 0h1m0 0h1m0 0h1m0 0h1m3 0h1m0 0h1m-10 1h1m0 0h1m0 0h1m0 0h1m0 0h1m1 0h1m2 0h1m2 0h1m-28 1h1m6 0h1m8 0h1m0 0h1m4 0h1m0 0h1m1 0h1m0 0h1m1 0h1m-22 1h1m4 0h1m2 0h1m0 0h1m2 0h1m0 0h1m4 0h1m-40 1h1m10 0h1m12 0h1m3 0h1m1 0h1m1 0h1m1 0h1m3 0h1m3 0h1m0 0h1m-22 1h1m0 0h1m4 0h1m4 0h1m1 0h1m2 0h1m2 0h1m1 0h1m2 0h1m-26 1h1m10 0h1m0 0h1m3 0h1m0 0h1m-10 1h1m1 0h1m0 0h1m0 0h1m0 0h1m0 0h1m2 0h1m0 0h1m1 0h1m4 0h1m-18 1h1m0 0h1m0 0h1m0 0h1m0 0h1m1 0h1m0 0h1m0 0h1m0 0h1m3 0h1m-48 1h1m22 0h1m4 0h1m12 0h1m0 0h1m3 0h1m4 0h1m-22 1h1m4 0h1m3 0h1m2 0h1m1 0h1m0 0h1m0 0h1m3 0h1m1 0h1m0 0h1m-18 1h1m0 0h1m5 0h1m2 0h1m0 0h1m0 0h1m0 0h1m-14 1h1m4 0h1m0 0h1m0 0h1m10 0h1m-24 1h1m2 0h1m3 0h1m1 0h1m1 0h1m1 0h1m1 0h1m2 0h1m-21 1h1m11 0h1m0 0h1m0 0h1m-14 1h1m10 0h1m2 0h1m0 0h1m7 0h1m4 0h1m-31 1h1m5 0h1m5 0h1m3 0h1m0 0h1m19 0h1m-61 1h1m28 0h1m4 0h1m1 0h1m2 0h1m0 0h1m2 0h1m2 0h1m1 0h1m-20 1h1m1 0h1m2 0h1m0 0h1m1 0h1m0 0h1m0 0h1m2 0h1m2 0h1m-10 1h1m3 0h1m2 0h1m2 0h1m2 0h1m0 0h1m0 0h1m0 0h1m-23 1h1m0 0h1m8 0h1m1 0h1m2 0h1m0 0h1m13 0h1m-33 1h1m7 0h1m3 0h1m2 0h1m0 0h1m0 0h1m0 0h1m6 0h1m3 0h1m-25 1h1m0 0h1m2 0h1m2 0h1m0 0h1m1 0h1m1 0h1m0 0h1m0 0h1m0 0h1m2 0h1m1 0h1m1 0h1m-17 1h1m0 0h1m0 0h1m1 0h1m1 0h1m1 0h1m0 0h1m2 0h1m0 0h1m5 0h1m-31 1h1m3 0h1m2 0h1m0 0h1m0 0h1m0 0h1m0 0h1m0 0h1m0 0h1m0 0h1m0 0h1m0 0h1m1 0h1m0 0h1m1 0h1m1 0h1m5 0h1m-27 1h1m3 0h1m0 0h1m6 0h1m1 0h1m0 0h1m1 0h1m0 0h1m0 0h1m3 0h1m1 0h1m0 0h1m-70 1h1m49 0h1m0 0h1m0 0h1m1 0h1m0 0h1m0 0h1m0 0h1m1 0h1m0 0h1m3 0h1m-20 1h1m3 0h1m0 0h1m0 0h1m0 0h1m2 0h1m1 0h1m0 0h1m0 0h1m0 0h1m0 0h1m0 0h1m0 0h1m2 0h1m0 0h1m1 0h1m-19 1h1m0 0h1m0 0h1m0 0h1m1 0h1m3 0h1m0 0h1m0 0h1m0 0h1m0 0h1m2 0h1m4 0h1m-38 1h1m8 0h1m0 0h1m1 0h1m0 0h1m1 0h1m0 0h1m0 0h1m0 0h1m0 0h1m0 0h1m0 0h1m0 0h1m0 0h1m0 0h1m1 0h1m1 0h1m0 0h1m0 0h1m1 0h1m0 0h1m3 0h1m-30 1h1m1 0h1m1 0h1m0 0h1m1 0h1m0 0h1m0 0h1m0 0h1m1 0h1m0 0h1m0 0h1m0 0h1m0 0h1m0 0h1m0 0h1m2 0h1m0 0h1m3 0h1m-22 1h1m0 0h1m0 0h1m1 0h1m2 0h1m0 0h1m0 0h1m0 0h1m0 0h1m0 0h1m0 0h1m0 0h1m0 0h1m1 0h1m0 0h1m2 0h1m0 0h1m-28 1h1m1 0h1m1 0h1m0 0h1m0 0h1m0 0h1m0 0h1m1 0h1m0 0h1m0 0h1m0 0h1m0 0h1m0 0h1m0 0h1m0 0h1m0 0h1m1 0h1m0 0h1m0 0h1m0 0h1m1 0h1m-25 1h1m2 0h1m1 0h1m0 0h1m0 0h1m0 0h1m0 0h1m2 0h1m0 0h1m0 0h1m0 0h1m0 0h1m0 0h1m0 0h1m0 0h1m0 0h1m2 0h1m5 0h1m-24 1h1m0 0h1m0 0h1m0 0h1m0 0h1m0 0h1m0 0h1m0 0h1m0 0h1m0 0h1m0 0h1m0 0h1m1 0h1m0 0h1m1 0h1m0 0h1m0 0h1m3 0h1m1 0h1m-30 1h1m3 0h1m2 0h1m0 0h1m0 0h1m0 0h1m0 0h1m0 0h1m1 0h1m0 0h1m0 0h1m0 0h1m0 0h1m0 0h1m0 0h1m6 0h1m-32 1h1m1 0h1m2 0h1m0 0h1m1 0h1m0 0h1m0 0h1m0 0h1m0 0h1m0 0h1m0 0h1m2 0h1m0 0h1m0 0h1m0 0h1m0 0h1m3 0h1m1 0h1m0 0h1m4 0h1m-29 1h1m1 0h1m2 0h1m0 0h1m1 0h1m1 0h1m0 0h1m1 0h1m0 0h1m0 0h1m0 0h1m0 0h1m1 0h1m2 0h1m3 0h1m2 0h1m-29 1h1m0 0h1m0 0h1m1 0h1m2 0h1m0 0h1m0 0h1m0 0h1m0 0h1m0 0h1m1 0h1m0 0h1m0 0h1m1 0h1m1 0h1m2 0h1m1 0h1m-32 1h1m0 0h1m6 0h1m0 0h1m1 0h1m2 0h1m2 0h1m1 0h1m0 0h1m0 0h1m4 0h1m0 0h1m-21 1h1m1 0h1m1 0h1m1 0h1m4 0h1m0 0h1m0 0h1m3 0h1m-29 1h1m7 0h1m4 0h1m1 0h1m0 0h1m1 0h1m0 0h1m1 0h1m-5 1h1m1 0h1m1 0h1m4 0h1m1 0h1m2 0h1m-22 1h1m0 0h1m9 0h1m0 0h1m1 0h1m3 0h1m1 0h1m-26 2h1m17 0h1m4 0h1m-18 1h1m5 0h1m2 0h1m2 0h1m0 0h1m0 0h1m-14 1h1m8 0h1m-13 1h1m4 1h1m4 0h1m2 1h1" stroke="#666"/><path d="M0 0.5m502 243h1m-79 1h1m9 1h1m6 1h1m-12 3h1m33 0h1m-43 1h1m17 0h1m-11 1h1m0 0h1m28 0h1m-50 1h1m-13 1h1m16 0h1m11 0h1m4 0h1m10 0h1m-9 1h1m0 0h1m15 0h1m-21 1h1m-13 1h1m22 0h1m4 0h1m-16 1h1m7 0h1m-37 1h1m44 0h1m-47 1h1m16 0h1m16 0h1m0 1h1m2 0h1m3 0h1m-22 1h1m4 0h1m0 0h1m3 0h1m13 0h1m0 0h1m-36 1h1m1 0h1m1 0h1m1 0h1m21 0h1m-30 1h1m27 0h1m8 0h1m6 0h1m-57 1h1m2 0h1m2 0h1m3 0h1m0 0h1m15 0h1m5 0h1m2 0h1m15 0h1m4 0h1m-64 1h1m19 0h1m20 0h1m2 0h1m2 0h1m-36 1h1m0 0h1m1 0h1m7 0h1m10 0h1m3 0h1m-23 1h1m11 0h1m6 0h1m3 0h1m12 0h1m-51 1h1m1 0h1m14 0h1m7 0h1m8 0h1m1 0h1m43 0h1m-62 1h1m4 0h1m7 0h1m6 0h1m3 0h1m0 0h1m-37 1h1m20 0h1m0 0h1m6 0h1m8 0h1m0 0h1m-24 1h1m12 0h1m-21 1h1m6 0h1m10 0h1m2 0h1m36 0h1m-62 1h1m16 0h1m2 0h1m5 0h1m0 0h1m2 0h1m9 0h1m-44 1h1m6 0h1m28 0h1m2 0h1m2 0h1m-49 1h1m4 0h1m2 0h1m7 0h1m5 0h1m8 0h1m16 0h1m8 0h1m-32 1h1m1 0h1m1 0h1m2 0h1m7 0h1m5 0h1m-26 1h1m6 0h1m0 0h1m4 0h1m0 0h1m2 0h1m1 0h1m0 0h1m-35 1h1m25 0h1m0 0h1m0 0h1m1 0h1m0 0h1m-36 1h1m15 0h1m7 0h1m0 0h1m0 0h1m5 0h1m2 0h1m8 0h1m-31 1h1m11 0h1m0 0h1m0 0h1m2 0h1m0 0h1m1 0h1m0 0h1m1 0h1m4 0h1m-27 1h1m3 0h1m3 0h1m0 0h1m0 0h1m0 0h1m2 0h1m0 0h1m2 0h1m0 0h1m-36 1h1m4 0h1m7 0h1m9 0h1m0 0h1m1 0h1m1 0h1m2 0h1m3 0h1m1 0h1m23 0h1m-65 1h1m3 0h1m18 0h1m2 0h1m2 0h1m2 0h1m0 0h1m0 0h1m0 0h1m0 0h1m1 0h1m1 0h1m0 0h1m4 0h1m-47 1h1m1 0h1m15 0h1m1 0h1m1 0h1m4 0h1m4 0h1m2 0h1m3 0h1m3 0h1m1 0h1m0 0h1m-30 1h1m12 0h1m2 0h1m1 0h1m1 0h1m5 0h1m-35 1h1m13 0h1m4 0h1m0 0h1m4 0h1m0 0h1m1 0h1m1 0h1m1 0h1m1 0h1m-14 1h1m3 0h1m0 0h1m5 0h1m0 0h1m0 0h1m-26 1h1m9 0h1m1 0h1m1 0h1m2 0h1m2 0h1m2 0h1m5 0h1m-20 1h1m1 0h1m0 0h1m2 0h1m0 0h1m1 0h1m0 0h1m3 0h1m9 0h1m-29 1h1m1 0h1m5 0h1m2 0h1m4 0h1m0 0h1m0 0h1m0 0h1m-20 1h1m3 0h1m5 0h1m3 0h1m4 0h1m-18 1h1m1 0h1m3 0h1m1 0h1m0 0h1m2 0h1m1 0h1m0 0h1m18 0h1m-36 1h1m10 0h1m0 0h1m0 0h1m0 0h1m1 0h1m0 0h1m-17 1h1m2 0h1m0 0h1m3 0h1m2 0h1m1 0h1m4 0h1m-14 1h1m3 0h1m4 0h1m1 0h1m4 0h1m-16 1h1m4 0h1m0 0h1m2 0h1m2 0h1m10 0h1m-27 1h1m0 0h1m0 0h1m1 0h1m0 0h1m0 0h1m2 0h1m2 0h1m2 0h1m2 0h1m-23 1h1m4 0h1m0 0h1m0 0h1m1 0h1m1 0h1m1 0h1m1 0h1m0 0h1m1 0h1m3 0h1m1 0h1m9 0h1m-31 1h1m0 0h1m0 0h1m0 0h1m0 0h1m3 0h1m8 0h1m1 0h1m-38 1h1m21 0h1m0 0h1m2 0h1m1 0h1m1 0h1m0 0h1m2 0h1m7 0h1m-19 1h1m0 0h1m0 0h1m2 0h1m3 0h1m-15 1h1m1 0h1m1 0h1m3 0h1m1 0h1m1 0h1m2 0h1m0 0h1m1 0h1m16 0h1m-36 1h1m0 0h1m4 0h1m6 0h1m0 0h1m6 0h1m-18 1h1m1 0h1m0 0h1m10 0h1m-22 1h1m5 0h1m0 0h1m4 0h1m0 0h1m0 0h1m2 0h1m4 0h1m3 0h1m5 0h1m-26 1h1m1 0h1m0 0h1m0 0h1m3 0h1m0 0h1m1 0h1m5 0h1m4 0h1m0 0h1m0 0h1m6 0h1m-40 1h1m2 0h1m2 0h1m4 0h1m0 0h1m4 0h1m0 0h1m2 0h1m1 0h1m3 0h1m-20 1h1m1 0h1m0 0h1m0 0h1m0 0h1m0 0h1m0 0h1m1 0h1m2 0h1m2 0h1m0 0h1m1 0h1m-21 1h1m1 0h1m4 0h1m0 0h1m0 0h1m0 0h1m1 0h1m1 0h1m0 0h1m17 0h1m-29 1h1m0 0h1m0 0h1m2 0h1m1 0h1m3 0h1m0 0h1m0 0h1m1 0h1m-19 1h1m0 0h1m2 0h1m2 0h1m0 0h1m1 0h1m3 0h1m2 0h1m12 0h1m-33 1h1m1 0h1m2 0h1m2 0h1m0 0h1m6 0h1m4 0h1m-12 1h1m1 0h1m1 0h1m0 0h1m0 0h1m0 0h1m4 0h1m-22 1h1m9 0h1m2 0h1m0 0h1m0 0h1m2 0h1m14 0h1m-28 1h1m1 0h1m5 0h1m0 0h1m0 0h1m1 0h1m0 0h1m0 0h1m-11 1h1m0 0h1m1 0h1m5 0h1m0 0h1m0 0h1m0 0h1m1 0h1m3 0h1m-28 1h1m2 0h1m2 0h1m1 0h1m0 0h1m0 0h1m0 0h1m0 0h1m1 0h1m0 0h1m0 0h1m0 0h1m0 0h1m0 0h1m0 0h1m1 0h1m0 0h1m-18 1h1m5 0h1m0 0h1m2 0h1m0 0h1m0 0h1m0 0h1m0 0h1m4 0h1m2 0h1m5 0h1m-31 1h1m5 0h1m0 0h1m0 0h1m0 0h1m0 0h1m0 0h1m0 0h1m0 0h1m0 0h1m0 0h1m0 0h1m0 0h1m1 0h1m0 0h1m1 0h1m3 0h1m-27 1h1m0 0h1m4 0h1m0 0h1m0 0h1m0 0h1m0 0h1m0 0h1m0 0h1m0 0h1m1 0h1m0 0h1m0 0h1m0 0h1m0 0h1m1 0h1m0 0h1m0 0h1m-26 1h1m3 0h1m0 0h1m1 0h1m0 0h1m1 0h1m0 0h1m1 0h1m0 0h1m0 0h1m0 0h1m1 0h1m0 0h1m1 0h1m0 0h1m0 0h1m1 0h1m-27 1h1m4 0h1m0 0h1m1 0h1m1 0h1m0 0h1m1 0h1m0 0h1m0 0h1m0 0h1m0 0h1m0 0h1m0 0h1m0 0h1m2 0h1m0 0h1m5 0h1m-27 1h1m1 0h1m0 0h1m1 0h1m0 0h1m0 0h1m0 0h1m0 0h1m2 0h1m0 0h1m1 0h1m0 0h1m0 0h1m2 0h1m-68 1h1m41 0h1m3 0h1m1 0h1m0 0h1m0 0h1m0 0h1m1 0h1m0 0h1m1 0h1m0 0h1m0 0h1m0 0h1m0 0h1m0 0h1m1 0h1m1 0h1m2 0h1m0 0h1m0 0h1m0 0h1m3 0h1m-73 1h1m39 0h1m4 0h1m1 0h1m0 0h1m0 0h1m0 0h1m0 0h1m0 0h1m0 0h1m0 0h1m0 0h1m0 0h1m0 0h1m0 0h1m1 0h1m1 0h1m0 0h1m1 0h1m0 0h1m0 0h1m0 0h1m1 0h1m-36 1h1m6 0h1m0 0h1m0 0h1m0 0h1m0 0h1m0 0h1m1 0h1m0 0h1m0 0h1m0 0h1m0 0h1m0 0h1m0 0h1m0 0h1m0 0h1m0 0h1m0 0h1m0 0h1m0 0h1m0 0h1m0 0h1m0 0h1m0 0h1m9 0h1m-36 1h1m5 0h1m0 0h1m0 0h1m0 0h1m1 0h1m1 0h1m0 0h1m0 0h1m0 0h1m0 0h1m0 0h1m0 0h1m2 0h1m1 0h1m-21 1h1m0 0h1m0 0h1m2 0h1m0 0h1m0 0h1m1 0h1m0 0h1m1 0h1m0 0h1m0 0h1m0 0h1m0 0h1m0 0h1m1 0h1m0 0h1m0 0h1m1 0h1m-34 1h1m8 0h1m0 0h1m1 0h1m1 0h1m0 0h1m0 0h1m0 0h1m0 0h1m1 0h1m0 0h1m1 0h1m0 0h1m0 0h1m0 0h1m0 0h1m0 0h1m0 0h1m0 0h1m-22 1h1m1 0h1m3 0h1m1 0h1m1 0h1m0 0h1m1 0h1m0 0h1m1 0h1m0 0h1m0 0h1m0 0h1m3 0h1m1 0h1m-25 1h1m1 0h1m2 0h1m0 0h1m0 0h1m1 0h1m0 0h1m1 0h1m0 0h1m0 0h1m1 0h1m0 0h1m1 0h1m0 0h1m4 0h1m-27 1h1m0 0h1m1 0h1m1 0h1m0 0h1m1 0h1m3 0h1m4 0h1m0 0h1m0 0h1m0 0h1m0 0h1m0 0h1m3 0h1m-28 1h1m4 0h1m0 0h1m0 0h1m0 0h1m0 0h1m2 0h1m0 0h1m0 0h1m0 0h1m2 0h1m0 0h1m2 0h1m-17 1h1m3 0h1m0 0h1m1 0h1m0 0h1m0 0h1m0 0h1m2 0h1m0 0h1m-21 1h1m4 0h1m1 0h1m0 0h1m0 0h1m0 0h1m2 0h1m2 0h1m6 0h1m0 0h1m-22 1h1m7 0h1m1 0h1m2 0h1m-5 1h1m1 0h1m0 0h1m0 0h1m2 0h1m2 0h1m-12 1h1m-12 1h1m3 0h1m3 0h1m6 0h1m3 0h1m4 0h1m-11 1h1m3 0h1m4 0h1m-3 1h1m-25 1h1m10 1h1m5 0h1m8 0h1" stroke="#3c3c3c"/><path d="M0 0.5m452 241h1m-48 6h1m34 2h1m3 1h1m-31 1h1m13 0h1m9 0h1m-7 1h1m4 0h1m-21 1h1m-12 2h1m14 0h1m8 0h1m9 0h1m16 1h1m-43 1h1m26 0h1m3 0h1m-35 1h1m3 0h1m3 0h1m32 0h1m7 0h1m-55 1h1m13 0h1m10 0h1m-24 1h1m16 0h1m12 0h1m8 0h1m-37 1h1m0 0h1m20 0h1m-32 1h1m1 0h1m7 0h1m2 0h1m22 0h1m8 0h1m8 0h1m-42 1h1m7 0h1m3 0h1m8 0h1m8 0h1m-42 1h1m3 0h1m16 0h1m3 0h1m10 0h1m-20 1h1m5 0h1m1 0h1m5 0h1m1 0h1m6 0h1m1 0h1m0 0h1m8 0h1m-36 1h1m5 0h1m4 0h1m2 0h1m8 0h1m-25 1h1m8 0h1m1 0h1m2 0h1m2 0h1m-23 1h1m9 0h1m22 0h1m-51 1h1m31 0h1m8 0h1m0 0h1m-45 1h1m9 0h1m4 0h1m3 0h1m1 0h1m12 0h1m3 0h1m0 0h1m2 0h1m-35 1h1m7 0h1m4 0h1m11 0h1m4 0h1m9 0h1m-46 1h1m3 0h1m4 0h1m5 0h1m15 0h1m1 0h1m2 0h1m6 0h1m-37 1h1m2 0h1m0 0h1m19 0h1m13 0h1m18 0h1m-56 1h1m1 0h1m14 0h1m8 0h1m9 0h1m13 0h1m-59 1h1m5 0h1m14 0h1m12 0h1m5 0h1m1 0h1m22 0h1m-52 1h1m12 0h1m6 0h1m1 0h1m8 0h1m2 0h1m-32 1h1m14 0h1m5 0h1m2 0h1m0 0h1m10 0h1m-22 1h1m2 0h1m1 0h1m8 0h1m5 0h1m-24 1h1m4 0h1m0 0h1m5 0h1m-36 1h1m0 0h1m3 0h1m0 0h1m13 0h1m0 0h1m0 0h1m0 0h1m0 0h1m4 0h1m3 0h1m-32 1h1m4 0h1m9 0h1m5 0h1m0 0h1m0 0h1m0 0h1m1 0h1m4 0h1m1 0h1m0 0h1m1 0h1m-35 1h1m0 0h1m3 0h1m17 0h1m0 0h1m2 0h1m2 0h1m-35 1h1m4 0h1m11 0h1m11 0h1m1 0h1m1 0h1m0 0h1m0 0h1m3 0h1m0 0h1m13 0h1m-49 1h1m1 0h1m17 0h1m0 0h1m0 0h1m1 0h1m0 0h1m4 0h1m4 0h1m-32 1h1m3 0h1m13 0h1m4 0h1m1 0h1m0 0h1m1 0h1m1 0h1m13 0h1m-40 1h1m5 0h1m3 0h1m5 0h1m1 0h1m-18 1h1m0 0h1m4 0h1m1 0h1m4 0h1m1 0h1m0 0h1m0 0h1m0 0h1m1 0h1m3 0h1m0 0h1m-41 1h1m12 0h1m5 0h1m4 0h1m1 0h1m0 0h1m3 0h1m2 0h1m2 0h1m0 0h1m1 0h1m0 0h1m-23 1h1m4 0h1m6 0h1m4 0h1m0 0h1m-9 1h1m1 0h1m4 0h1m53 0h1m-79 1h1m11 0h1m7 0h1m0 0h1m0 0h1m0 0h1m0 0h1m0 0h1m0 0h1m2 0h1m-21 1h1m5 0h1m5 0h1m-7 1h1m0 0h1m3 0h1m1 0h1m0 0h1m1 0h1m0 0h1m2 0h1m-34 1h1m6 0h1m9 0h1m0 0h1m2 0h1m2 0h1m3 0h1m2 0h1m-18 1h1m3 0h1m0 0h1m5 0h1m0 0h1m1 0h1m0 0h1m0 0h1m0 0h1m6 0h1m-24 1h1m2 0h1m0 0h1m0 0h1m1 0h1m0 0h1m5 0h1m1 0h1m1 0h1m0 0h1m2 0h1m5 0h1m-36 1h1m17 0h1m0 0h1m0 0h1m10 0h1m0 0h1m-21 1h1m2 0h1m2 0h1m3 0h1m6 0h1m-23 1h1m8 0h1m0 0h1m1 0h1m0 0h1m1 0h1m-10 1h1m0 0h1m0 0h1m0 0h1m1 0h1m2 0h1m6 0h1m-14 1h1m1 0h1m1 0h1m0 0h1m2 0h1m3 0h1m2 0h1m-27 1h1m3 0h1m2 0h1m2 0h1m0 0h1m0 0h1m3 0h1m1 0h1m0 0h1m4 0h1m-55 1h1m34 0h1m0 0h1m9 0h1m2 0h1m7 0h1m-19 1h1m7 0h1m0 0h1m10 0h1m-26 1h1m6 0h1m6 0h1m0 0h1m1 0h1m1 0h1m4 0h1m0 0h1m-19 1h1m0 0h1m5 0h1m2 0h1m0 0h1m0 0h1m1 0h1m-17 1h1m4 0h1m0 0h1m0 0h1m4 0h1m0 0h1m0 0h1m2 0h1m2 0h1m2 0h1m-18 1h1m0 0h1m0 0h1m0 0h1m2 0h1m0 0h1m2 0h1m0 0h1m1 0h1m1 0h1m3 0h1m-24 1h1m3 0h1m0 0h1m0 0h1m3 0h1m0 0h1m0 0h1m1 0h1m-21 1h1m7 0h1m0 0h1m0 0h1m4 0h1m0 0h1m0 0h1m2 0h1m5 0h1m-28 1h1m0 0h1m2 0h1m3 0h1m21 0h1m-22 1h1m0 0h1m-5 1h1m5 0h1m3 0h1m5 0h1m4 0h1m0 0h1m-17 1h1m3 0h1m1 0h1m2 0h1m0 0h1m1 0h1m3 0h1m3 0h1m-25 1h1m0 0h1m4 0h1m5 0h1m0 0h1m0 0h1m1 0h1m1 0h1m1 0h1m0 0h1m7 0h1m-29 1h1m4 0h1m1 0h1m1 0h1m0 0h1m0 0h1m1 0h1m0 0h1m1 0h1m0 0h1m2 0h1m0 0h1m0 0h1m0 0h1m-18 1h1m0 0h1m0 0h1m0 0h1m1 0h1m3 0h1m0 0h1m0 0h1m6 0h1m0 0h1m3 0h1m-28 1h1m1 0h1m0 0h1m1 0h1m0 0h1m0 0h1m2 0h1m0 0h1m0 0h1m1 0h1m1 0h1m0 0h1m0 0h1m0 0h1m3 0h1m0 0h1m-22 1h1m0 0h1m1 0h1m1 0h1m0 0h1m1 0h1m1 0h1m0 0h1m0 0h1m0 0h1m0 0h1m1 0h1m0 0h1m0 0h1m-22 1h1m1 0h1m0 0h1m1 0h1m0 0h1m0 0h1m0 0h1m0 0h1m0 0h1m0 0h1m0 0h1m0 0h1m0 0h1m0 0h1m0 0h1m1 0h1m2 0h1m1 0h1m-27 1h1m0 0h1m2 0h1m0 0h1m1 0h1m0 0h1m0 0h1m0 0h1m0 0h1m0 0h1m2 0h1m1 0h1m0 0h1m1 0h1m0 0h1m1 0h1m1 0h1m-28 1h1m7 0h1m0 0h1m0 0h1m0 0h1m0 0h1m0 0h1m0 0h1m0 0h1m0 0h1m0 0h1m0 0h1m1 0h1m0 0h1m0 0h1m0 0h1m0 0h1m0 0h1m1 0h1m1 0h1m1 0h1m-31 1h1m4 0h1m1 0h1m0 0h1m0 0h1m0 0h1m0 0h1m0 0h1m0 0h1m0 0h1m0 0h1m0 0h1m0 0h1m0 0h1m0 0h1m0 0h1m0 0h1m0 0h1m1 0h1m0 0h1m0 0h1m2 0h1m-27 1h1m1 0h1m0 0h1m2 0h1m0 0h1m1 0h1m0 0h1m0 0h1m0 0h1m0 0h1m0 0h1m0 0h1m0 0h1m0 0h1m0 0h1m0 0h1m1 0h1m0 0h1m0 0h1m-26 1h1m0 0h1m0 0h1m0 0h1m0 0h1m0 0h1m1 0h1m0 0h1m1 0h1m0 0h1m1 0h1m0 0h1m0 0h1m0 0h1m0 0h1m0 0h1m0 0h1m0 0h1m0 0h1m0 0h1m0 0h1m2 0h1m1 0h1m-27 1h1m2 0h1m0 0h1m0 0h1m0 0h1m1 0h1m0 0h1m1 0h1m0 0h1m0 0h1m0 0h1m0 0h1m0 0h1m0 0h1m2 0h1m0 0h1m0 0h1m1 0h1m1 0h1m0 0h1m0 0h1m-30 1h1m0 0h1m1 0h1m1 0h1m0 0h1m0 0h1m1 0h1m0 0h1m0 0h1m0 0h1m0 0h1m0 0h1m0 0h1m0 0h1m0 0h1m1 0h1m1 0h1m4 0h1m-43 1h1m15 0h1m6 0h1m0 0h1m0 0h1m0 0h1m0 0h1m0 0h1m0 0h1m0 0h1m0 0h1m0 0h1m0 0h1m0 0h1m0 0h1m1 0h1m0 0h1m0 0h1m-20 1h1m0 0h1m0 0h1m0 0h1m0 0h1m0 0h1m0 0h1m2 0h1m0 0h1m0 0h1m1 0h1m1 0h1m0 0h1m0 0h1m2 0h1m-20 1h1m0 0h1m0 0h1m1 0h1m0 0h1m0 0h1m0 0h1m0 0h1m0 0h1m2 0h1m1 0h1m0 0h1m3 0h1m-25 1h1m1 0h1m0 0h1m0 0h1m4 0h1m0 0h1m2 0h1m0 0h1m0 0h1m0 0h1m0 0h1m0 0h1m0 0h1m0 0h1m1 0h1m2 0h1m-70 1h1m30 0h1m6 0h1m5 0h1m5 0h1m0 0h1m2 0h1m1 0h1m0 0h1m0 0h1m1 0h1m3 0h1m1 0h1m4 0h1m-24 1h1m6 0h1m1 0h1m0 0h1m0 0h1m0 0h1m1 0h1m0 0h1m0 0h1m2 0h1m4 0h1m-27 1h1m2 0h1m1 0h1m0 0h1m0 0h1m0 0h1m1 0h1m0 0h1m4 0h1m1 0h1m0 0h1m-16 1h1m3 0h1m1 0h1m0 0h1m2 0h1m0 0h1m3 0h1m4 0h1m-29 1h1m9 0h1m1 0h1m3 0h1m2 0h1m0 0h1m2 0h1m1 0h1m-16 1h1m0 0h1m0 0h1m0 0h1m3 0h1m0 0h1m3 0h1m-17 1h1m3 0h1m0 0h1m2 0h1m1 0h1m4 0h1m-7 1h1m5 1h1m-4 1h1m-15 1h1m11 0h1m4 0h1m0 0h1m2 0h1m-18 1h1m17 0h1" stroke="#222"/><path d="M0 0.5m412 244h1m-3 1h1m8 0h1m4 0h1m-21 1h1m21 0h1m51 1h1m-33 1h1m-15 1h1m10 0h1m9 0h1m-42 3h1m3 1h1m-9 1h1m10 0h1m0 1h1m2 0h1m0 0h1m-21 1h1m8 0h1m0 0h1m0 0h1m14 0h1m0 0h1m21 0h1m-24 1h1m9 0h1m-28 1h1m23 0h1m13 0h1m4 0h1m-26 1h1m-33 1h1m23 0h1m8 0h1m4 0h1m4 0h1m-27 1h1m20 0h1m1 0h1m-29 1h1m0 0h1m29 0h1m34 0h1m-79 1h1m26 0h1m28 0h1m-41 1h1m0 0h1m3 0h1m-6 1h1m1 0h1m6 0h1m1 0h1m0 0h1m3 0h1m6 0h1m3 0h1m7 0h1m-37 1h1m0 0h1m7 0h1m3 0h1m8 0h1m3 0h1m1 0h1m1 0h1m-40 1h1m0 0h1m8 0h1m6 0h1m4 0h1m21 0h1m4 0h1m0 0h1m-48 1h1m0 0h1m1 0h1m12 0h1m2 0h1m5 0h1m2 0h1m-32 1h1m17 0h1m2 0h1m5 0h1m7 0h1m11 0h1m-48 1h1m11 0h1m0 0h1m2 0h1m5 0h1m2 0h1m0 0h1m1 0h1m8 0h1m3 0h1m9 0h1m-55 1h1m11 0h1m2 0h1m1 0h1m6 0h1m22 0h1m-47 1h1m2 0h1m14 0h1m2 0h1m0 0h1m6 0h1m6 0h1m3 0h1m7 0h1m-46 1h1m9 0h1m1 0h1m0 0h1m10 0h1m0 0h1m17 0h1m-41 1h1m2 0h1m2 0h1m28 0h1m1 0h1m0 0h1m1 0h1m-40 1h1m4 0h1m8 0h1m10 0h1m3 0h1m0 0h1m5 0h1m15 0h1m-58 1h1m6 0h1m3 0h1m13 0h1m3 0h1m0 0h1m1 0h1m-33 1h1m2 0h1m6 0h1m1 0h1m1 0h1m4 0h1m1 0h1m6 0h1m10 0h1m4 0h1m5 0h1m-43 1h1m11 0h1m13 0h1m0 0h1m0 0h1m1 0h1m-20 1h1m4 0h1m3 0h1m1 0h1m1 0h1m1 0h1m3 0h1m0 0h1m1 0h1m-31 1h1m1 0h1m10 0h1m1 0h1m0 0h1m2 0h1m2 0h1m0 0h1m0 0h1m2 0h1m-46 1h1m10 0h1m21 0h1m0 0h1m3 0h1m1 0h1m3 0h1m0 0h1m0 0h1m2 0h1m3 0h1m-26 1h1m5 0h1m1 0h1m2 0h1m3 0h1m0 0h1m0 0h1m3 0h1m-38 1h1m3 0h1m23 0h1m1 0h1m-15 1h1m2 0h1m1 0h1m2 0h1m0 0h1m1 0h1m0 0h1m0 0h1m0 0h1m-17 1h1m4 0h1m3 0h1m5 0h1m1 0h1m1 0h1m-37 1h1m13 0h1m2 0h1m6 0h1m1 0h1m4 0h1m1 0h1m1 0h1m4 0h1m3 0h1m1 0h1m-23 1h1m9 0h1m1 0h1m1 0h1m1 0h1m3 0h1m0 0h1m-29 1h1m9 0h1m0 0h1m1 0h1m0 0h1m1 0h1m1 0h1m1 0h1m4 0h1m-42 1h1m9 0h1m6 0h1m1 0h1m2 0h1m2 0h1m4 0h1m2 0h1m5 0h1m5 0h1m-49 1h1m29 0h1m1 0h1m5 0h1m0 0h1m2 0h1m5 0h1m-50 1h1m17 0h1m14 0h1m2 0h1m2 0h1m4 0h1m2 0h1m-19 1h1m1 0h1m1 0h1m0 0h1m2 0h1m0 0h1m5 0h1m0 0h1m1 0h1m-20 1h1m5 0h1m5 0h1m3 0h1m3 0h1m1 0h1m-27 1h1m0 0h1m2 0h1m2 0h1m3 0h1m4 0h1m2 0h1m0 0h1m1 0h1m-21 1h1m3 0h1m1 0h1m0 0h1m0 0h1m1 0h1m0 0h1m0 0h1m1 0h1m0 0h1m0 0h1m-27 1h1m12 0h1m3 0h1m0 0h1m2 0h1m0 0h1m2 0h1m0 0h1m6 0h1m1 0h1m-27 1h1m0 0h1m2 0h1m2 0h1m1 0h1m3 0h1m0 0h1m0 0h1m0 0h1m2 0h1m1 0h1m0 0h1m0 0h1m-14 1h1m1 0h1m0 0h1m1 0h1m1 0h1m2 0h1m2 0h1m1 0h1m8 0h1m-28 1h1m0 0h1m0 0h1m1 0h1m1 0h1m1 0h1m0 0h1m1 0h1m0 0h1m31 0h1m-57 1h1m14 0h1m0 0h1m1 0h1m0 0h1m0 0h1m4 0h1m1 0h1m0 0h1m-15 1h1m2 0h1m0 0h1m5 0h1m-7 1h1m5 0h1m-17 1h1m9 0h1m3 0h1m0 0h1m1 0h1m4 0h1m-14 1h1m0 0h1m0 0h1m0 0h1m6 0h1m0 0h1m3 0h1m-21 1h1m5 0h1m2 0h1m16 0h1m-25 1h1m2 0h1m6 0h1m0 0h1m1 0h1m1 0h1m1 0h1m0 0h1m0 0h1m1 0h1m-31 1h1m3 0h1m0 0h1m3 0h1m2 0h1m1 0h1m3 0h1m0 0h1m1 0h1m2 0h1m3 0h1m-25 1h1m0 0h1m7 0h1m0 0h1m1 0h1m1 0h1m1 0h1m1 0h1m2 0h1m-21 1h1m0 0h1m0 0h1m2 0h1m0 0h1m2 0h1m0 0h1m0 0h1m1 0h1m0 0h1m1 0h1m0 0h1m0 0h1m0 0h1m2 0h1m3 0h1m-25 1h1m2 0h1m1 0h1m2 0h1m0 0h1m9 0h1m0 0h1m0 0h1m-17 1h1m0 0h1m3 0h1m0 0h1m5 0h1m0 0h1m8 0h1m0 0h1m5 0h1m8 0h1m-41 1h1m0 0h1m1 0h1m3 0h1m3 0h1m2 0h1m2 0h1m1 0h1m1 0h1m1 0h1m-34 1h1m8 0h1m2 0h1m3 0h1m13 0h1m4 0h1m0 0h1m-68 1h1m46 0h1m0 0h1m0 0h1m2 0h1m2 0h1m0 0h1m3 0h1m2 0h1m0 0h1m2 0h1m0 0h1m1 0h1m-64 1h1m46 0h1m0 0h1m4 0h1m1 0h1m2 0h1m-23 1h1m0 0h1m1 0h1m0 0h1m2 0h1m0 0h1m0 0h1m0 0h1m2 0h1m1 0h1m0 0h1m0 0h1m0 0h1m0 0h1m0 0h1m0 0h1m0 0h1m-21 1h1m4 0h1m2 0h1m0 0h1m1 0h1m1 0h1m0 0h1m0 0h1m1 0h1m0 0h1m0 0h1m6 0h1m-28 1h1m1 0h1m0 0h1m4 0h1m0 0h1m0 0h1m1 0h1m0 0h1m0 0h1m0 0h1m1 0h1m1 0h1m0 0h1m-18 1h1m0 0h1m1 0h1m0 0h1m0 0h1m0 0h1m1 0h1m0 0h1m0 0h1m0 0h1m0 0h1m0 0h1m0 0h1m0 0h1m0 0h1m0 0h1m1 0h1m0 0h1m0 0h1m2 0h1m1 0h1m-29 1h1m2 0h1m0 0h1m0 0h1m0 0h1m1 0h1m0 0h1m0 0h1m0 0h1m0 0h1m0 0h1m0 0h1m0 0h1m1 0h1m0 0h1m6 0h1m-31 1h1m1 0h1m0 0h1m1 0h1m1 0h1m1 0h1m0 0h1m1 0h1m0 0h1m0 0h1m0 0h1m1 0h1m0 0h1m0 0h1m1 0h1m0 0h1m0 0h1m1 0h1m2 0h1m-29 1h1m4 0h1m0 0h1m5 0h1m0 0h1m0 0h1m0 0h1m0 0h1m0 0h1m0 0h1m0 0h1m0 0h1m0 0h1m0 0h1m0 0h1m0 0h1m1 0h1m0 0h1m1 0h1m9 0h1m-34 1h1m2 0h1m0 0h1m0 0h1m0 0h1m0 0h1m1 0h1m0 0h1m0 0h1m0 0h1m0 0h1m0 0h1m1 0h1m0 0h1m2 0h1m0 0h1m3 0h1m-29 1h1m1 0h1m1 0h1m0 0h1m2 0h1m0 0h1m0 0h1m0 0h1m0 0h1m0 0h1m0 0h1m0 0h1m0 0h1m0 0h1m0 0h1m0 0h1m0 0h1m0 0h1m0 0h1m0 0h1m0 0h1m0 0h1m-25 1h1m2 0h1m1 0h1m0 0h1m0 0h1m0 0h1m0 0h1m2 0h1m1 0h1m0 0h1m0 0h1m0 0h1m0 0h1m0 0h1m0 0h1m0 0h1m0 0h1m5 0h1m-30 1h1m0 0h1m0 0h1m4 0h1m0 0h1m0 0h1m0 0h1m0 0h1m0 0h1m0 0h1m0 0h1m0 0h1m0 0h1m0 0h1m0 0h1m1 0h1m0 0h1m0 0h1m1 0h1m0 0h1m-25 1h1m0 0h1m0 0h1m1 0h1m0 0h1m0 0h1m0 0h1m0 0h1m0 0h1m0 0h1m0 0h1m0 0h1m1 0h1m0 0h1m3 0h1m3 0h1m-23 1h1m2 0h1m1 0h1m0 0h1m0 0h1m1 0h1m0 0h1m0 0h1m0 0h1m0 0h1m0 0h1m0 0h1m0 0h1m0 0h1m0 0h1m3 0h1m0 0h1m2 0h1m-34 1h1m0 0h1m8 0h1m0 0h1m0 0h1m1 0h1m2 0h1m0 0h1m0 0h1m0 0h1m0 0h1m1 0h1m1 0h1m0 0h1m1 0h1m0 0h1m-21 1h1m0 0h1m1 0h1m1 0h1m0 0h1m0 0h1m0 0h1m0 0h1m1 0h1m0 0h1m0 0h1m0 0h1m0 0h1m0 0h1m3 0h1m0 0h1m4 0h1m-33 1h1m0 0h1m3 0h1m2 0h1m1 0h1m0 0h1m0 0h1m0 0h1m0 0h1m1 0h1m1 0h1m0 0h1m0 0h1m0 0h1m1 0h1m0 0h1m-24 1h1m6 0h1m1 0h1m0 0h1m0 0h1m0 0h1m0 0h1m0 0h1m1 0h1m0 0h1m0 0h1m1 0h1m1 0h1m1 0h1m-29 1h1m7 0h1m1 0h1m0 0h1m1 0h1m0 0h1m1 0h1m1 0h1m1 0h1m1 0h1m0 0h1m0 0h1m-17 1h1m3 0h1m2 0h1m0 0h1m0 0h1m2 0h1m1 0h1m0 0h1m1 0h1m0 0h1m6 0h1m-32 1h1m7 0h1m1 0h1m0 0h1m1 0h1m4 0h1m3 0h1m0 0h1m0 0h1m2 0h1m-19 1h1m0 0h1m0 0h1m6 0h1m3 0h1m-15 1h1m6 0h1m1 0h1m4 0h1m2 0h1m31 0h1m-53 1h1m13 0h1m1 0h1m6 0h1m-25 1h1m6 0h1m4 0h1m41 0h1m-60 1h1m22 0h1m-6 1h1m5 0h1m-11 1h1" stroke="#111"/></g>
<rect x="391.25" y="239.00" width="115.45" height="106.00" fill="none" stroke="#111" stroke-width="1.3"/><path d="M391.25 239.00V345.00H506.70" fill="none" stroke="#000" stroke-width="2"/><path d="M391.25 345.00v3.50M391.25 345.00h-3.50M399.94 345.00v2.00M391.25 337.02h-2.00M405.02 345.00v2.00M391.25 332.36h-2.00M408.63 345.00v2.00M391.25 329.05h-2.00M411.42 345.00v2.00M391.25 326.48h-2.00M413.71 345.00v2.00M391.25 324.38h-2.00M415.64 345.00v2.00M391.25 322.60h-2.00M417.32 345.00v2.00M391.25 321.07h-2.00M418.79 345.00v2.00M391.25 319.71h-2.00M420.11 345.00v3.50M391.25 318.50h-3.50M428.80 345.00v2.00M391.25 310.52h-2.00M433.88 345.00v2.00M391.25 305.86h-2.00M437.49 345.00v2.00M391.25 302.55h-2.00M440.29 345.00v2.00M391.25 299.98h-2.00M442.57 345.00v2.00M391.25 297.88h-2.00M444.50 345.00v2.00M391.25 296.10h-2.00M446.18 345.00v2.00M391.25 294.57h-2.00M447.65 345.00v2.00M391.25 293.21h-2.00M448.98 345.00v3.50M391.25 292.00h-3.50M457.66 345.00v2.00M391.25 284.02h-2.00M462.75 345.00v2.00M391.25 279.36h-2.00M466.35 345.00v2.00M391.25 276.05h-2.00M469.15 345.00v2.00M391.25 273.48h-2.00M471.43 345.00v2.00M391.25 271.38h-2.00M473.37 345.00v2.00M391.25 269.60h-2.00M475.04 345.00v2.00M391.25 268.07h-2.00M476.52 345.00v2.00M391.25 266.71h-2.00M477.84 345.00v3.50M391.25 265.50h-3.50M486.53 345.00v2.00M391.25 257.52h-2.00M491.61 345.00v2.00M391.25 252.86h-2.00M495.21 345.00v2.00M391.25 249.55h-2.00M498.01 345.00v2.00M391.25 246.98h-2.00M500.30 345.00v2.00M391.25 244.88h-2.00M502.23 345.00v2.00M391.25 243.10h-2.00M503.90 345.00v2.00M391.25 241.57h-2.00M505.38 345.00v2.00M391.25 240.21h-2.00M506.70 345.00v2.5M391.25 239.00h-2.5" stroke="#000" stroke-width="1"/><path d="M421.00 239.00V345.00M391.25 318.50H506.70" stroke="#222" stroke-width="1"/><text x="383.95" y="359.00" font-size="8.3" font-weight="bold">10</text><text x="392.95" y="353.00" font-size="6.8" font-weight="bold">0</text><text x="412.81" y="359.00" font-size="8.3" font-weight="bold">10</text><text x="421.81" y="353.00" font-size="6.8" font-weight="bold">1</text><text x="441.68" y="359.00" font-size="8.3" font-weight="bold">10</text><text x="450.68" y="353.00" font-size="6.8" font-weight="bold">2</text><text x="470.54" y="359.00" font-size="8.3" font-weight="bold">10</text><text x="479.54" y="353.00" font-size="6.8" font-weight="bold">3</text><text x="499.40" y="359.00" font-size="8.3" font-weight="bold">10</text><text x="508.40" y="353.00" font-size="6.8" font-weight="bold">4</text><g transform="translate(382.45 345.00) rotate(-90)"><text x="-7.3" y="0" font-size="8.3" font-weight="bold">10</text><text x="1.8" y="-5.3" font-size="6.8" font-weight="bold">0</text></g><g transform="translate(382.45 318.50) rotate(-90)"><text x="-7.3" y="0" font-size="8.3" font-weight="bold">10</text><text x="1.8" y="-5.3" font-size="6.8" font-weight="bold">1</text></g><g transform="translate(382.45 292.00) rotate(-90)"><text x="-7.3" y="0" font-size="8.3" font-weight="bold">10</text><text x="1.8" y="-5.3" font-size="6.8" font-weight="bold">2</text></g><g transform="translate(382.45 265.50) rotate(-90)"><text x="-7.3" y="0" font-size="8.3" font-weight="bold">10</text><text x="1.8" y="-5.3" font-size="6.8" font-weight="bold">3</text></g><g transform="translate(382.45 239.00) rotate(-90)"><text x="-7.3" y="0" font-size="8.3" font-weight="bold">10</text><text x="1.8" y="-5.3" font-size="6.8" font-weight="bold">4</text></g><text x="431.23" y="369.00" font-size="9" font-weight="bold" textLength="35.5" lengthAdjust="spacingAndGlyphs">KELL-PE</text><text transform="translate(370.75 293.60) rotate(-90)" x="-37.50" font-size="9" font-weight="bold" textLength="75.0" lengthAdjust="spacingAndGlyphs">Anti-HLA-DR PerCP</text><text x="399.30" y="256.40" font-size="8.6" font-weight="bold" letter-spacing="0.65">6%</text><text x="465.80" y="256.40" font-size="8.6" font-weight="bold" letter-spacing="0.65">53%</text><text x="465.80" y="268.90" font-size="8.6" font-weight="bold" letter-spacing="0.00">Day 6</text><text x="474.80" y="335.40" font-size="8.6" font-weight="bold" letter-spacing="0.65">42%</text>
<g fill="none" stroke-width="1"><path d="M0 0.5m96 465h1m-4 3h1m6 1h1m2 0h1m-17 1h1m1 0h1m42 0h1m-49 1h1m5 0h1m4 0h1m11 0h1m-22 1h1m7 0h1m0 0h1m4 0h1m3 0h1m5 0h1m-19 1h1m0 0h1m5 0h1m3 0h1m2 0h1m2 0h1m0 0h1m-19 1h1m1 0h1m0 0h1m2 0h1m3 0h1m2 0h1m-13 1h1m1 0h1m1 0h1m0 0h1m2 0h1m0 0h1m0 0h1m4 0h1m0 0h1m-23 1h1m1 0h1m1 0h1m2 0h1m3 0h1m0 0h1m3 0h1m1 0h1m3 0h1m-20 1h1m1 0h1m0 0h1m0 0h1m2 0h1m0 0h1m0 0h1m0 0h1m5 0h1m-16 1h1m4 0h1m0 0h1m0 0h1m0 0h1m6 0h1m1 0h1m-39 1h1m0 0h1m10 0h1m6 0h1m3 0h1m0 0h1m1 0h1m0 0h1m0 0h1m0 0h1m0 0h1m0 0h1m0 0h1m0 0h1m1 0h1m2 0h1m1 0h1m-36 1h1m10 0h1m2 0h1m1 0h1m0 0h1m0 0h1m0 0h1m2 0h1m2 0h1m0 0h1m0 0h1m3 0h1m3 0h1m-36 1h1m0 0h1m5 0h1m0 0h1m0 0h1m2 0h1m4 0h1m1 0h1m2 0h1m0 0h1m0 0h1m0 0h1m0 0h1m1 0h1m0 0h1m0 0h1m1 0h1m2 0h1m-28 1h1m4 0h1m2 0h1m2 0h1m0 0h1m0 0h1m0 0h1m1 0h1m1 0h1m1 0h1m0 0h1m-29 1h1m6 0h1m8 0h1m1 0h1m2 0h1m0 0h1m0 0h1m0 0h1m0 0h1m0 0h1m0 0h1m2 0h1m2 0h1m1 0h1m-33 1h1m1 0h1m8 0h1m0 0h1m2 0h1m0 0h1m2 0h1m1 0h1m0 0h1m0 0h1m0 0h1m0 0h1m0 0h1m-32 1h1m2 0h1m5 0h1m2 0h1m3 0h1m1 0h1m1 0h1m0 0h1m0 0h1m0 0h1m0 0h1m0 0h1m0 0h1m0 0h1m0 0h1m0 0h1m0 0h1m0 0h1m0 0h1m2 0h1m-46 1h1m10 0h1m0 0h1m0 0h1m0 0h1m4 0h1m0 0h1m0 0h1m3 0h1m3 0h1m0 0h1m0 0h1m0 0h1m0 0h1m0 0h1m0 0h1m0 0h1m0 0h1m0 0h1m0 0h1m3 0h1m0 0h1m0 0h1m1 0h1m-40 1h1m4 0h1m2 0h1m1 0h1m3 0h1m1 0h1m2 0h1m0 0h1m0 0h1m0 0h1m0 0h1m0 0h1m0 0h1m0 0h1m0 0h1m0 0h1m0 0h1m0 0h1m0 0h1m0 0h1m0 0h1m0 0h1m1 0h1m4 0h1m-43 1h1m8 0h1m0 0h1m0 0h1m1 0h1m0 0h1m0 0h1m0 0h1m1 0h1m0 0h1m0 0h1m1 0h1m0 0h1m0 0h1m0 0h1m1 0h1m0 0h1m0 0h1m0 0h1m1 0h1m0 0h1m0 0h1m1 0h1m0 0h1m0 0h1m1 0h1m1 0h1m-50 1h1m1 0h1m2 0h1m5 0h1m0 0h1m1 0h1m0 0h1m0 0h1m0 0h1m0 0h1m6 0h1m1 0h1m0 0h1m0 0h1m2 0h1m0 0h1m0 0h1m0 0h1m0 0h1m0 0h1m0 0h1m1 0h1m1 0h1m-38 1h1m0 0h1m4 0h1m7 0h1m2 0h1m0 0h1m0 0h1m0 0h1m0 0h1m0 0h1m0 0h1m0 0h1m0 0h1m0 0h1m0 0h1m1 0h1m0 0h1m0 0h1m0 0h1m0 0h1m0 0h1m0 0h1m1 0h1m-39 1h1m2 0h1m1 0h1m0 0h1m0 0h1m1 0h1m0 0h1m1 0h1m2 0h1m1 0h1m0 0h1m0 0h1m2 0h1m2 0h1m0 0h1m0 0h1m0 0h1m0 0h1m0 0h1m0 0h1m0 0h1m0 0h1m0 0h1m0 0h1m2 0h1m1 0h1m0 0h1m-42 1h1m0 0h1m5 0h1m0 0h1m1 0h1m3 0h1m1 0h1m0 0h1m0 0h1m1 0h1m1 0h1m1 0h1m0 0h1m0 0h1m0 0h1m0 0h1m0 0h1m0 0h1m0 0h1m0 0h1m1 0h1m0 0h1m0 0h1m0 0h1m2 0h1m-44 1h1m3 0h1m1 0h1m3 0h1m0 0h1m0 0h1m3 0h1m6 0h1m1 0h1m1 0h1m1 0h1m0 0h1m0 0h1m1 0h1m0 0h1m0 0h1m0 0h1m0 0h1m1 0h1m0 0h1m4 0h1m-43 1h1m1 0h1m1 0h1m1 0h1m1 0h1m1 0h1m0 0h1m0 0h1m0 0h1m1 0h1m2 0h1m0 0h1m1 0h1m1 0h1m1 0h1m2 0h1m0 0h1m1 0h1m1 0h1m0 0h1m0 0h1m0 0h1m0 0h1m0 0h1m4 0h1m-50 1h1m5 0h1m3 0h1m1 0h1m1 0h1m1 0h1m9 0h1m2 0h1m0 0h1m1 0h1m1 0h1m0 0h1m3 0h1m0 0h1m0 0h1m1 0h1m1 0h1m0 0h1m1 0h1m-47 1h1m5 0h1m3 0h1m0 0h1m1 0h1m1 0h1m2 0h1m0 0h1m1 0h1m1 0h1m0 0h1m0 0h1m0 0h1m1 0h1m0 0h1m0 0h1m0 0h1m0 0h1m0 0h1m1 0h1m1 0h1m0 0h1m0 0h1m1 0h1m1 0h1m-31 1h1m1 0h1m0 0h1m0 0h1m5 0h1m1 0h1m2 0h1m2 0h1m0 0h1m0 0h1m0 0h1m0 0h1m0 0h1m6 0h1m0 0h1m0 0h1m22 0h1m-62 1h1m1 0h1m0 0h1m5 0h1m5 0h1m3 0h1m0 0h1m0 0h1m0 0h1m0 0h1m0 0h1m1 0h1m1 0h1m0 0h1m0 0h1m1 0h1m0 0h1m2 0h1m1 0h1m0 0h1m-41 1h1m4 0h1m1 0h1m0 0h1m1 0h1m0 0h1m2 0h1m0 0h1m2 0h1m2 0h1m0 0h1m3 0h1m2 0h1m0 0h1m0 0h1m0 0h1m0 0h1m0 0h1m0 0h1m3 0h1m-37 1h1m5 0h1m1 0h1m0 0h1m2 0h1m0 0h1m0 0h1m4 0h1m1 0h1m0 0h1m3 0h1m0 0h1m2 0h1m1 0h1m0 0h1m0 0h1m0 0h1m-47 1h1m8 0h1m1 0h1m1 0h1m2 0h1m5 0h1m6 0h1m2 0h1m3 0h1m0 0h1m0 0h1m1 0h1m0 0h1m0 0h1m0 0h1m0 0h1m-25 1h1m2 0h1m3 0h1m0 0h1m2 0h1m4 0h1m0 0h1m2 0h1m0 0h1m0 0h1m1 0h1m6 0h1m-34 1h1m1 0h1m2 0h1m7 0h1m0 0h1m4 0h1m0 0h1m3 0h1m0 0h1m0 0h1m-42 1h1m13 0h1m2 0h1m3 0h1m3 0h1m1 0h1m3 0h1m0 0h1m1 0h1m0 0h1m0 0h1m0 0h1m2 0h1m-40 1h1m32 0h1m0 0h1m2 0h1m-31 1h1m0 0h1m6 0h1m1 0h1m5 0h1m5 0h1m0 0h1m1 0h1m0 0h1m2 0h1m3 0h1m-27 1h1m12 0h1m1 0h1m13 0h1m-30 1h1m0 0h1m2 0h1m9 0h1m1 0h1m0 0h1m-15 1h1m5 0h1m1 0h1m4 0h1m1 0h1m-29 1h1m4 0h1m3 0h1m10 0h1m2 0h1m0 0h1m3 0h1m2 0h1m-18 1h1m18 0h1m1 0h1m-33 1h1m1 0h1m6 0h1m11 0h1m11 0h1m-28 1h1m5 0h1m-13 1h1m9 0h1m15 0h1m-21 2h1m1 0h1m7 0h1m1 0h1m-17 1h1m31 1h1m-47 1h1m35 0h1m-28 1h1m1 1h1m-18 1h1m32 0h1m-8 1h1m0 0h1m9 0h1m-24 1h1m3 0h1m20 0h1m-23 1h1m9 0h1m8 1h1m-14 1h1m12 1h1m-3 1h1m-8 1h1m17 0h1m-44 1h1m6 0h1m6 0h1m15 1h1m5 0h1m-13 1h1m5 1h1m13 0h1m-16 3h1m-30 1h1m49 0h1m-27 1h1m-14 1h1m6 0h1m2 1h1m-18 1h1m25 2h1m-22 1h1m13 1h1m12 0h1m7 0h1m-31 1h1m20 1h1m-8 1h1m19 2h1m-28 1h1m20 4h1m15 0h1" stroke="#666"/><path d="M0 0.5m104 468h1m-4 1h1m-7 1h1m-3 1h1m9 0h1m0 0h1m6 0h1m-50 1h1m31 0h1m2 0h1m0 0h1m0 0h1m11 0h1m-11 1h1m6 0h1m-17 1h1m1 0h1m4 0h1m3 0h1m1 0h1m5 0h1m-33 1h1m7 0h1m9 0h1m0 0h1m1 0h1m0 0h1m4 0h1m-42 1h1m20 0h1m8 0h1m5 0h1m2 0h1m0 0h1m2 0h1m0 0h1m16 0h1m-37 1h1m1 0h1m2 0h1m3 0h1m0 0h1m0 0h1m2 0h1m1 0h1m2 0h1m1 0h1m-24 1h1m3 0h1m2 0h1m0 0h1m1 0h1m1 0h1m1 0h1m1 0h1m1 0h1m0 0h1m-40 1h1m6 0h1m0 0h1m2 0h1m6 0h1m3 0h1m1 0h1m0 0h1m0 0h1m0 0h1m0 0h1m2 0h1m0 0h1m1 0h1m0 0h1m2 0h1m0 0h1m0 0h1m0 0h1m-39 1h1m7 0h1m9 0h1m0 0h1m0 0h1m0 0h1m1 0h1m0 0h1m0 0h1m0 0h1m1 0h1m0 0h1m2 0h1m0 0h1m2 0h1m0 0h1m0 0h1m-32 1h1m1 0h1m6 0h1m2 0h1m0 0h1m3 0h1m0 0h1m0 0h1m0 0h1m0 0h1m0 0h1m0 0h1m1 0h1m1 0h1m0 0h1m0 0h1m0 0h1m-30 1h1m11 0h1m4 0h1m0 0h1m0 0h1m0 0h1m0 0h1m0 0h1m1 0h1m3 0h1m-37 1h1m14 0h1m2 0h1m3 0h1m0 0h1m0 0h1m0 0h1m0 0h1m0 0h1m0 0h1m0 0h1m1 0h1m0 0h1m0 0h1m1 0h1m2 0h1m-35 1h1m1 0h1m5 0h1m3 0h1m4 0h1m0 0h1m1 0h1m0 0h1m0 0h1m0 0h1m0 0h1m0 0h1m1 0h1m0 0h1m0 0h1m0 0h1m1 0h1m0 0h1m0 0h1m3 0h1m-47 1h1m5 0h1m3 0h1m6 0h1m4 0h1m0 0h1m4 0h1m0 0h1m1 0h1m0 0h1m0 0h1m0 0h1m-30 1h1m0 0h1m2 0h1m3 0h1m0 0h1m1 0h1m4 0h1m2 0h1m0 0h1m0 0h1m0 0h1m0 0h1m1 0h1m0 0h1m0 0h1m0 0h1m0 0h1m1 0h1m0 0h1m0 0h1m1 0h1m1 0h1m1 0h1m-38 1h1m0 0h1m1 0h1m7 0h1m3 0h1m0 0h1m0 0h1m1 0h1m0 0h1m0 0h1m0 0h1m0 0h1m0 0h1m0 0h1m0 0h1m0 0h1m0 0h1m0 0h1m3 0h1m1 0h1m1 0h1m-49 1h1m11 0h1m3 0h1m2 0h1m2 0h1m3 0h1m0 0h1m2 0h1m0 0h1m0 0h1m0 0h1m0 0h1m0 0h1m0 0h1m0 0h1m0 0h1m0 0h1m0 0h1m0 0h1m1 0h1m0 0h1m0 0h1m0 0h1m3 0h1m-43 1h1m2 0h1m2 0h1m0 0h1m4 0h1m3 0h1m1 0h1m0 0h1m1 0h1m0 0h1m1 0h1m0 0h1m1 0h1m1 0h1m0 0h1m0 0h1m1 0h1m1 0h1m0 0h1m1 0h1m0 0h1m-42 1h1m0 0h1m1 0h1m3 0h1m1 0h1m1 0h1m4 0h1m1 0h1m1 0h1m1 0h1m0 0h1m1 0h1m0 0h1m0 0h1m0 0h1m0 0h1m0 0h1m0 0h1m0 0h1m0 0h1m0 0h1m0 0h1m0 0h1m1 0h1m0 0h1m-40 1h1m0 0h1m7 0h1m1 0h1m3 0h1m3 0h1m1 0h1m0 0h1m0 0h1m1 0h1m0 0h1m0 0h1m0 0h1m1 0h1m0 0h1m0 0h1m0 0h1m0 0h1m0 0h1m2 0h1m0 0h1m8 0h1m-50 1h1m1 0h1m0 0h1m6 0h1m0 0h1m1 0h1m2 0h1m2 0h1m0 0h1m0 0h1m1 0h1m0 0h1m0 0h1m0 0h1m0 0h1m0 0h1m0 0h1m0 0h1m0 0h1m0 0h1m0 0h1m0 0h1m0 0h1m0 0h1m1 0h1m0 0h1m0 0h1m0 0h1m0 0h1m0 0h1m-50 1h1m10 0h1m2 0h1m0 0h1m0 0h1m2 0h1m0 0h1m0 0h1m2 0h1m1 0h1m0 0h1m0 0h1m1 0h1m0 0h1m0 0h1m0 0h1m0 0h1m0 0h1m0 0h1m0 0h1m0 0h1m0 0h1m0 0h1m0 0h1m0 0h1m0 0h1m0 0h1m0 0h1m0 0h1m0 0h1m-50 1h1m6 0h1m9 0h1m1 0h1m0 0h1m1 0h1m3 0h1m0 0h1m0 0h1m0 0h1m0 0h1m0 0h1m0 0h1m1 0h1m0 0h1m1 0h1m0 0h1m0 0h1m0 0h1m0 0h1m0 0h1m0 0h1m1 0h1m0 0h1m0 0h1m0 0h1m0 0h1m0 0h1m0 0h1m-39 1h1m1 0h1m1 0h1m0 0h1m1 0h1m0 0h1m4 0h1m0 0h1m2 0h1m0 0h1m1 0h1m0 0h1m0 0h1m0 0h1m0 0h1m0 0h1m0 0h1m0 0h1m0 0h1m2 0h1m0 0h1m3 0h1m0 0h1m-36 1h1m4 0h1m2 0h1m0 0h1m1 0h1m1 0h1m1 0h1m0 0h1m0 0h1m0 0h1m0 0h1m0 0h1m0 0h1m0 0h1m0 0h1m0 0h1m0 0h1m0 0h1m0 0h1m0 0h1m1 0h1m1 0h1m-41 1h1m4 0h1m0 0h1m1 0h1m2 0h1m1 0h1m0 0h1m4 0h1m1 0h1m3 0h1m1 0h1m0 0h1m0 0h1m0 0h1m0 0h1m0 0h1m0 0h1m0 0h1m0 0h1m0 0h1m0 0h1m2 0h1m0 0h1m0 0h1m1 0h1m-54 1h1m2 0h1m5 0h1m2 0h1m1 0h1m0 0h1m1 0h1m0 0h1m1 0h1m0 0h1m2 0h1m0 0h1m1 0h1m0 0h1m0 0h1m0 0h1m0 0h1m6 0h1m1 0h1m1 0h1m2 0h1m0 0h1m0 0h1m3 0h1m3 0h1m-44 1h1m1 0h1m0 0h1m5 0h1m3 0h1m3 0h1m3 0h1m1 0h1m0 0h1m1 0h1m0 0h1m1 0h1m0 0h1m0 0h1m0 0h1m0 0h1m0 0h1m-38 1h1m1 0h1m0 0h1m5 0h1m6 0h1m1 0h1m0 0h1m0 0h1m6 0h1m0 0h1m0 0h1m0 0h1m0 0h1m0 0h1m0 0h1m1 0h1m0 0h1m0 0h1m0 0h1m2 0h1m0 0h1m-43 1h1m1 0h1m6 0h1m4 0h1m3 0h1m2 0h1m0 0h1m0 0h1m0 0h1m0 0h1m0 0h1m0 0h1m1 0h1m0 0h1m0 0h1m1 0h1m0 0h1m1 0h1m0 0h1m3 0h1m2 0h1m-41 1h1m4 0h1m1 0h1m3 0h1m1 0h1m1 0h1m2 0h1m0 0h1m0 0h1m0 0h1m0 0h1m0 0h1m0 0h1m0 0h1m0 0h1m0 0h1m0 0h1m0 0h1m0 0h1m2 0h1m1 0h1m1 0h1m0 0h1m-34 1h1m9 0h1m2 0h1m0 0h1m3 0h1m1 0h1m2 0h1m1 0h1m3 0h1m0 0h1m3 0h1m-36 1h1m7 0h1m6 0h1m0 0h1m2 0h1m0 0h1m0 0h1m0 0h1m0 0h1m0 0h1m0 0h1m0 0h1m0 0h1m0 0h1m1 0h1m5 0h1m24 0h1m-66 1h1m2 0h1m1 0h1m4 0h1m1 0h1m1 0h1m10 0h1m4 0h1m0 0h1m0 0h1m0 0h1m3 0h1m-33 1h1m0 0h1m11 0h1m4 0h1m1 0h1m0 0h1m-31 1h1m15 0h1m13 0h1m5 0h1m1 0h1m-31 1h1m0 0h1m2 0h1m3 0h1m2 0h1m8 0h1m0 0h1m0 0h1m4 0h1m-27 1h1m18 0h1m8 0h1m-24 1h1m9 0h1m4 0h1m4 0h1m-21 1h1m18 0h1m2 0h1m2 0h1m-23 1h1m-6 1h1m11 0h1m-7 1h1m1 0h1m6 0h1m-13 2h1m0 1h1m-13 1h1m7 1h1m5 0h1m10 0h1m6 0h1m47 0h1m-64 1h1m-17 1h1m11 0h1m25 1h1m-31 1h1m9 0h1m-23 1h1m19 1h1m2 0h1m19 0h1m-34 1h1m-4 2h1m2 0h1m39 1h1m-31 1h1m0 1h1m-18 1h1m8 0h1m5 0h1m17 0h1m-40 1h1m41 0h1m-29 1h1m-2 2h1m-14 1h1m3 0h1m39 0h1m-32 1h1m2 0h1m2 1h1m9 0h1m-32 1h1m13 0h1m18 0h1m-42 1h1m31 0h1m-8 1h1m16 0h1m-37 1h1m12 0h1m16 1h1m-36 1h1m12 2h1m23 0h1m-19 3h1m7 3h1m35 1h1m-32 4h1m-7 2h1m0 1h1" stroke="#3c3c3c"/><path d="M0 0.5m101 467h1m37 0h1m-51 1h1m35 0h1m-38 3h1m5 0h1m1 0h1m0 0h1m3 0h1m3 0h1m1 0h1m0 0h1m-13 1h1m0 0h1m-9 1h1m5 0h1m0 0h1m3 0h1m7 0h1m-17 1h1m0 0h1m2 0h1m6 0h1m2 0h1m0 0h1m-30 1h1m12 0h1m2 0h1m1 0h1m0 0h1m0 0h1m0 0h1m0 0h1m2 0h1m2 0h1m-15 1h1m1 0h1m1 0h1m0 0h1m1 0h1m0 0h1m0 0h1m0 0h1m3 0h1m-20 1h1m8 0h1m0 0h1m2 0h1m0 0h1m0 0h1m2 0h1m0 0h1m0 0h1m2 0h1m-24 1h1m3 0h1m1 0h1m0 0h1m0 0h1m2 0h1m0 0h1m0 0h1m0 0h1m0 0h1m0 0h1m1 0h1m1 0h1m0 0h1m-36 1h1m5 0h1m8 0h1m1 0h1m0 0h1m1 0h1m1 0h1m2 0h1m1 0h1m0 0h1m0 0h1m1 0h1m1 0h1m1 0h1m-30 1h1m10 0h1m2 0h1m0 0h1m1 0h1m1 0h1m0 0h1m1 0h1m0 0h1m2 0h1m3 0h1m0 0h1m-38 1h1m5 0h1m1 0h1m2 0h1m3 0h1m0 0h1m0 0h1m2 0h1m3 0h1m1 0h1m0 0h1m1 0h1m0 0h1m0 0h1m0 0h1m0 0h1m0 0h1m0 0h1m-41 1h1m22 0h1m0 0h1m0 0h1m2 0h1m0 0h1m0 0h1m1 0h1m0 0h1m0 0h1m1 0h1m3 0h1m0 0h1m0 0h1m15 0h1m-55 1h1m4 0h1m8 0h1m2 0h1m2 0h1m0 0h1m0 0h1m0 0h1m1 0h1m0 0h1m0 0h1m0 0h1m1 0h1m0 0h1m0 0h1m1 0h1m1 0h1m1 0h1m-30 1h1m4 0h1m0 0h1m0 0h1m2 0h1m1 0h1m0 0h1m0 0h1m2 0h1m0 0h1m1 0h1m0 0h1m0 0h1m1 0h1m0 0h1m3 0h1m0 0h1m-35 1h1m2 0h1m2 0h1m7 0h1m0 0h1m0 0h1m0 0h1m0 0h1m1 0h1m0 0h1m0 0h1m0 0h1m1 0h1m0 0h1m1 0h1m0 0h1m1 0h1m0 0h1m-47 1h1m8 0h1m1 0h1m3 0h1m2 0h1m1 0h1m4 0h1m1 0h1m2 0h1m0 0h1m0 0h1m0 0h1m1 0h1m0 0h1m0 0h1m0 0h1m0 0h1m1 0h1m0 0h1m0 0h1m0 0h1m0 0h1m0 0h1m0 0h1m-35 1h1m2 0h1m0 0h1m0 0h1m2 0h1m2 0h1m0 0h1m2 0h1m0 0h1m1 0h1m0 0h1m0 0h1m0 0h1m0 0h1m0 0h1m0 0h1m0 0h1m0 0h1m0 0h1m0 0h1m0 0h1m0 0h1m0 0h1m3 0h1m-40 1h1m1 0h1m1 0h1m0 0h1m8 0h1m0 0h1m1 0h1m1 0h1m0 0h1m0 0h1m0 0h1m1 0h1m0 0h1m0 0h1m0 0h1m0 0h1m0 0h1m0 0h1m0 0h1m0 0h1m0 0h1m4 0h1m-42 1h1m0 0h1m0 0h1m0 0h1m2 0h1m2 0h1m1 0h1m0 0h1m0 0h1m5 0h1m0 0h1m0 0h1m0 0h1m0 0h1m0 0h1m0 0h1m0 0h1m0 0h1m0 0h1m0 0h1m1 0h1m0 0h1m0 0h1m0 0h1m0 0h1m0 0h1m0 0h1m0 0h1m-37 1h1m2 0h1m1 0h1m1 0h1m3 0h1m0 0h1m1 0h1m1 0h1m1 0h1m1 0h1m2 0h1m0 0h1m0 0h1m0 0h1m0 0h1m0 0h1m0 0h1m0 0h1m1 0h1m0 0h1m0 0h1m1 0h1m0 0h1m1 0h1m-47 1h1m9 0h1m4 0h1m2 0h1m5 0h1m1 0h1m0 0h1m3 0h1m0 0h1m0 0h1m2 0h1m0 0h1m1 0h1m1 0h1m2 0h1m3 0h1m-46 1h1m0 0h1m3 0h1m4 0h1m0 0h1m0 0h1m3 0h1m2 0h1m4 0h1m0 0h1m1 0h1m0 0h1m0 0h1m1 0h1m0 0h1m0 0h1m0 0h1m0 0h1m0 0h1m0 0h1m0 0h1m1 0h1m0 0h1m1 0h1m12 0h1m-57 1h1m6 0h1m0 0h1m0 0h1m0 0h1m2 0h1m0 0h1m1 0h1m3 0h1m0 0h1m4 0h1m0 0h1m0 0h1m0 0h1m0 0h1m0 0h1m0 0h1m0 0h1m0 0h1m0 0h1m0 0h1m0 0h1m0 0h1m1 0h1m1 0h1m0 0h1m16 0h1m-76 1h1m20 0h1m0 0h1m3 0h1m5 0h1m0 0h1m0 0h1m2 0h1m0 0h1m0 0h1m0 0h1m0 0h1m0 0h1m1 0h1m0 0h1m0 0h1m0 0h1m2 0h1m1 0h1m0 0h1m0 0h1m0 0h1m2 0h1m-51 1h1m1 0h1m4 0h1m2 0h1m0 0h1m1 0h1m0 0h1m2 0h1m0 0h1m3 0h1m1 0h1m0 0h1m1 0h1m1 0h1m1 0h1m0 0h1m0 0h1m2 0h1m0 0h1m0 0h1m1 0h1m0 0h1m0 0h1m0 0h1m0 0h1m0 0h1m0 0h1m1 0h1m-42 1h1m0 0h1m1 0h1m8 0h1m1 0h1m0 0h1m2 0h1m0 0h1m2 0h1m0 0h1m2 0h1m0 0h1m0 0h1m0 0h1m0 0h1m0 0h1m0 0h1m0 0h1m0 0h1m1 0h1m0 0h1m0 0h1m0 0h1m0 0h1m0 0h1m-38 1h1m2 0h1m0 0h1m1 0h1m1 0h1m0 0h1m1 0h1m2 0h1m0 0h1m2 0h1m0 0h1m0 0h1m1 0h1m0 0h1m0 0h1m1 0h1m1 0h1m1 0h1m0 0h1m0 0h1m0 0h1m0 0h1m0 0h1m12 0h1m-56 1h1m5 0h1m3 0h1m4 0h1m2 0h1m0 0h1m8 0h1m0 0h1m0 0h1m2 0h1m1 0h1m0 0h1m0 0h1m0 0h1m0 0h1m3 0h1m3 0h1m35 0h1m-73 1h1m3 0h1m0 0h1m0 0h1m2 0h1m3 0h1m1 0h1m2 0h1m0 0h1m0 0h1m0 0h1m0 0h1m0 0h1m0 0h1m0 0h1m0 0h1m0 0h1m0 0h1m0 0h1m1 0h1m1 0h1m0 0h1m8 0h1m-50 1h1m8 0h1m2 0h1m4 0h1m0 0h1m0 0h1m1 0h1m1 0h1m0 0h1m0 0h1m0 0h1m1 0h1m0 0h1m1 0h1m2 0h1m0 0h1m0 0h1m0 0h1m0 0h1m-43 1h1m7 0h1m1 0h1m10 0h1m4 0h1m0 0h1m0 0h1m0 0h1m0 0h1m0 0h1m1 0h1m1 0h1m0 0h1m1 0h1m1 0h1m0 0h1m-45 1h1m6 0h1m6 0h1m11 0h1m2 0h1m1 0h1m0 0h1m1 0h1m0 0h1m0 0h1m0 0h1m0 0h1m1 0h1m3 0h1m0 0h1m3 0h1m-35 1h1m10 0h1m3 0h1m1 0h1m2 0h1m1 0h1m0 0h1m0 0h1m0 0h1m1 0h1m-26 1h1m0 0h1m5 0h1m0 0h1m10 0h1m0 0h1m0 0h1m3 0h1m0 0h1m2 0h1m-17 1h1m1 0h1m2 0h1m5 0h1m-24 1h1m8 0h1m3 0h1m13 0h1m-24 1h1m7 0h1m4 0h1m6 0h1m1 0h1m-41 1h1m7 0h1m1 0h1m17 0h1m3 0h1m4 0h1m-4 1h1m0 0h1m6 0h1m0 0h1m-34 1h1m4 0h1m2 0h1m5 0h1m7 0h1m0 0h1m3 0h1m1 0h1m1 0h1m-42 1h1m24 0h1m7 0h1m-35 1h1m6 0h1m7 0h1m8 1h1m21 0h1m-29 1h1m6 0h1m13 1h1m-18 1h1m11 1h1m-19 1h1m8 0h1m1 0h1m17 0h1m-32 2h1m4 0h1m-18 1h1m12 0h1m8 0h1m-25 1h1m21 0h1m-11 1h1m2 0h1m5 0h1m14 0h1m-18 1h1m24 0h1m-23 1h1m8 0h1m-11 1h1m59 0h1m-72 1h1m-4 1h1m26 0h1m-11 1h1m6 2h1m-23 1h1m-14 1h1m35 0h1m-29 1h1m20 0h1m-1 1h1m-21 1h1m0 0h1m18 3h1m-20 2h1m10 0h1m13 0h1m4 1h1m-4 1h1m-18 4h1m0 0h1m-11 3h1m14 0h1m-8 2h1m-5 1h1m23 0h1m-7 1h1m37 0h1m-77 3h1m1 2h1" stroke="#222"/><path d="M0 0.5m109 466h1m-13 3h1m0 1h1m3 1h1m5 0h1m-16 1h1m2 0h1m1 0h1m4 0h1m0 0h1m-17 1h1m3 0h1m1 0h1m4 0h1m-11 1h1m4 0h1m0 0h1m0 0h1m3 0h1m0 0h1m1 0h1m-18 1h1m12 0h1m0 0h1m1 0h1m-29 1h1m2 0h1m18 0h1m1 0h1m0 0h1m0 0h1m1 0h1m0 0h1m0 0h1m2 0h1m3 0h1m-25 1h1m3 0h1m7 0h1m1 0h1m0 0h1m2 0h1m-39 1h1m9 0h1m13 0h1m0 0h1m2 0h1m0 0h1m1 0h1m0 0h1m0 0h1m0 0h1m0 0h1m0 0h1m2 0h1m-47 1h1m26 0h1m0 0h1m3 0h1m1 0h1m1 0h1m0 0h1m1 0h1m1 0h1m2 0h1m3 0h1m-21 1h1m0 0h1m0 0h1m2 0h1m1 0h1m2 0h1m0 0h1m0 0h1m1 0h1m0 0h1m0 0h1m1 0h1m-40 1h1m19 0h1m3 0h1m0 0h1m0 0h1m0 0h1m0 0h1m1 0h1m0 0h1m1 0h1m0 0h1m1 0h1m0 0h1m0 0h1m3 0h1m1 0h1m-43 1h1m7 0h1m10 0h1m0 0h1m1 0h1m0 0h1m0 0h1m0 0h1m0 0h1m1 0h1m1 0h1m0 0h1m0 0h1m0 0h1m0 0h1m0 0h1m0 0h1m0 0h1m-54 1h1m24 0h1m0 0h1m7 0h1m0 0h1m0 0h1m0 0h1m0 0h1m2 0h1m0 0h1m1 0h1m2 0h1m0 0h1m0 0h1m0 0h1m0 0h1m0 0h1m0 0h1m0 0h1m0 0h1m21 0h1m-59 1h1m3 0h1m0 0h1m2 0h1m4 0h1m5 0h1m2 0h1m0 0h1m0 0h1m0 0h1m2 0h1m0 0h1m1 0h1m0 0h1m0 0h1m1 0h1m1 0h1m-31 1h1m10 0h1m1 0h1m0 0h1m0 0h1m1 0h1m0 0h1m0 0h1m0 0h1m0 0h1m0 0h1m0 0h1m1 0h1m0 0h1m0 0h1m1 0h1m0 0h1m0 0h1m-41 1h1m10 0h1m4 0h1m3 0h1m1 0h1m0 0h1m1 0h1m0 0h1m0 0h1m0 0h1m0 0h1m0 0h1m0 0h1m0 0h1m1 0h1m1 0h1m0 0h1m1 0h1m0 0h1m-39 1h1m3 0h1m1 0h1m1 0h1m0 0h1m2 0h1m4 0h1m3 0h1m1 0h1m0 0h1m0 0h1m1 0h1m0 0h1m1 0h1m1 0h1m1 0h1m0 0h1m-42 1h1m8 0h1m1 0h1m2 0h1m1 0h1m0 0h1m0 0h1m1 0h1m1 0h1m1 0h1m1 0h1m0 0h1m1 0h1m0 0h1m0 0h1m0 0h1m0 0h1m0 0h1m0 0h1m0 0h1m3 0h1m0 0h1m3 0h1m5 0h1m-46 1h1m0 0h1m5 0h1m3 0h1m2 0h1m0 0h1m0 0h1m1 0h1m0 0h1m1 0h1m0 0h1m1 0h1m0 0h1m0 0h1m0 0h1m0 0h1m0 0h1m0 0h1m0 0h1m1 0h1m0 0h1m0 0h1m0 0h1m0 0h1m0 0h1m-38 1h1m3 0h1m3 0h1m1 0h1m3 0h1m1 0h1m0 0h1m2 0h1m1 0h1m0 0h1m0 0h1m0 0h1m0 0h1m0 0h1m0 0h1m0 0h1m0 0h1m0 0h1m0 0h1m0 0h1m1 0h1m1 0h1m0 0h1m-42 1h1m0 0h1m0 0h1m1 0h1m6 0h1m0 0h1m0 0h1m0 0h1m0 0h1m2 0h1m1 0h1m0 0h1m0 0h1m0 0h1m0 0h1m0 0h1m0 0h1m1 0h1m0 0h1m0 0h1m0 0h1m0 0h1m0 0h1m0 0h1m0 0h1m1 0h1m0 0h1m-40 1h1m0 0h1m2 0h1m1 0h1m0 0h1m1 0h1m1 0h1m0 0h1m1 0h1m1 0h1m0 0h1m1 0h1m0 0h1m2 0h1m0 0h1m0 0h1m0 0h1m0 0h1m0 0h1m1 0h1m0 0h1m0 0h1m0 0h1m0 0h1m0 0h1m0 0h1m0 0h1m1 0h1m0 0h1m0 0h1m0 0h1m-44 1h1m1 0h1m3 0h1m1 0h1m0 0h1m0 0h1m1 0h1m2 0h1m1 0h1m0 0h1m1 0h1m0 0h1m0 0h1m1 0h1m1 0h1m0 0h1m0 0h1m0 0h1m0 0h1m0 0h1m0 0h1m0 0h1m0 0h1m0 0h1m1 0h1m0 0h1m-38 1h1m1 0h1m0 0h1m2 0h1m0 0h1m0 0h1m0 0h1m0 0h1m0 0h1m3 0h1m1 0h1m1 0h1m0 0h1m0 0h1m1 0h1m0 0h1m1 0h1m0 0h1m0 0h1m0 0h1m0 0h1m1 0h1m1 0h1m0 0h1m0 0h1m0 0h1m0 0h1m0 0h1m-43 1h1m1 0h1m2 0h1m3 0h1m0 0h1m2 0h1m2 0h1m5 0h1m1 0h1m0 0h1m0 0h1m0 0h1m0 0h1m0 0h1m0 0h1m0 0h1m0 0h1m0 0h1m0 0h1m0 0h1m0 0h1m0 0h1m0 0h1m0 0h1m0 0h1m0 0h1m0 0h1m-37 1h1m3 0h1m1 0h1m1 0h1m0 0h1m0 0h1m5 0h1m0 0h1m0 0h1m0 0h1m0 0h1m0 0h1m0 0h1m0 0h1m1 0h1m0 0h1m1 0h1m0 0h1m1 0h1m0 0h1m2 0h1m1 0h1m0 0h1m-40 1h1m3 0h1m0 0h1m0 0h1m2 0h1m0 0h1m4 0h1m5 0h1m0 0h1m0 0h1m0 0h1m0 0h1m0 0h1m0 0h1m1 0h1m0 0h1m0 0h1m0 0h1m2 0h1m3 0h1m-51 1h1m8 0h1m2 0h1m1 0h1m0 0h1m1 0h1m0 0h1m0 0h1m4 0h1m5 0h1m0 0h1m0 0h1m1 0h1m0 0h1m0 0h1m1 0h1m0 0h1m0 0h1m2 0h1m0 0h1m1 0h1m1 0h1m1 0h1m-41 1h1m2 0h1m1 0h1m0 0h1m3 0h1m3 0h1m2 0h1m0 0h1m1 0h1m0 0h1m2 0h1m1 0h1m1 0h1m0 0h1m0 0h1m0 0h1m0 0h1m0 0h1m0 0h1m1 0h1m0 0h1m3 0h1m-44 1h1m1 0h1m4 0h1m1 0h1m7 0h1m1 0h1m1 0h1m4 0h1m0 0h1m0 0h1m0 0h1m1 0h1m3 0h1m0 0h1m2 0h1m1 0h1m6 0h1m-45 1h1m4 0h1m2 0h1m0 0h1m7 0h1m0 0h1m0 0h1m2 0h1m1 0h1m0 0h1m0 0h1m3 0h1m2 0h1m2 0h1m1 0h1m-44 1h1m7 0h1m2 0h1m1 0h1m4 0h1m2 0h1m2 0h1m0 0h1m1 0h1m0 0h1m1 0h1m0 0h1m0 0h1m2 0h1m1 0h1m-48 1h1m14 0h1m4 0h1m1 0h1m0 0h1m0 0h1m6 0h1m0 0h1m2 0h1m2 0h1m1 0h1m0 0h1m5 0h1m1 0h1m0 0h1m0 0h1m-28 1h1m3 0h1m0 0h1m6 0h1m0 0h1m0 0h1m0 0h1m0 0h1m2 0h1m5 0h1m-36 1h1m1 0h1m9 0h1m0 0h1m1 0h1m8 0h1m1 0h1m1 0h1m4 0h1m4 0h1m-44 1h1m3 0h1m23 0h1m0 0h1m0 0h1m1 0h1m0 0h1m1 0h1m0 0h1m0 0h1m-35 1h1m0 0h1m16 0h1m5 0h1m4 0h1m3 0h1m-9 1h1m1 0h1m1 0h1m2 0h1m0 0h1m4 0h1m1 0h1m17 0h1m-49 1h1m3 0h1m9 0h1m3 0h1m-17 1h1m8 0h1m1 0h1m1 0h1m2 0h1m9 0h1m1 0h1m-29 1h1m1 0h1m16 0h1m1 0h1m3 0h1m-28 1h1m-13 1h1m24 0h1m-36 1h1m43 0h1m-21 2h1m12 0h1m-9 1h1m1 0h1m-14 2h1m9 0h1m4 0h1m-17 1h1m0 0h1m8 0h1m2 0h1m3 0h1m-13 2h1m0 0h1m1 0h1m2 0h1m0 0h1m-10 1h1m15 0h1m3 0h1m28 1h1m-43 1h1m18 1h1m-52 1h1m51 0h1m18 0h1m-47 2h1m10 0h1m-6 1h1m12 0h1m-9 1h1m-15 1h1m35 0h1m-24 1h1m-1 3h1m12 0h1m-31 2h1m24 0h1m-27 1h1m16 0h1m-20 2h1m29 0h1m-18 1h1m6 0h1m18 0h1m-25 3h1m-25 1h1m18 1h1m20 0h1m-32 1h1m22 0h1m-27 1h1m-9 1h1m34 0h1m-38 3h1m19 0h1m23 1h1" stroke="#111"/></g>
<rect x="47.50" y="458.00" width="114.10" height="104.50" fill="none" stroke="#111" stroke-width="1.3"/><path d="M47.50 458.00V562.50H161.60" fill="none" stroke="#000" stroke-width="2"/><path d="M47.50 562.50v3.50M47.50 562.50h-3.50M56.09 562.50v2.00M47.50 554.64h-2.00M61.11 562.50v2.00M47.50 550.04h-2.00M64.67 562.50v2.00M47.50 546.77h-2.00M67.44 562.50v2.00M47.50 544.24h-2.00M69.70 562.50v2.00M47.50 542.17h-2.00M71.61 562.50v2.00M47.50 540.42h-2.00M73.26 562.50v2.00M47.50 538.91h-2.00M74.72 562.50v2.00M47.50 537.57h-2.00M76.03 562.50v3.50M47.50 536.38h-3.50M84.61 562.50v2.00M47.50 528.51h-2.00M89.63 562.50v2.00M47.50 523.91h-2.00M93.20 562.50v2.00M47.50 520.65h-2.00M95.96 562.50v2.00M47.50 518.11h-2.00M98.22 562.50v2.00M47.50 516.05h-2.00M100.13 562.50v2.00M47.50 514.30h-2.00M101.79 562.50v2.00M47.50 512.78h-2.00M103.24 562.50v2.00M47.50 511.45h-2.00M104.55 562.50v3.50M47.50 510.25h-3.50M113.14 562.50v2.00M47.50 502.39h-2.00M118.16 562.50v2.00M47.50 497.79h-2.00M121.72 562.50v2.00M47.50 494.52h-2.00M124.49 562.50v2.00M47.50 491.99h-2.00M126.75 562.50v2.00M47.50 489.92h-2.00M128.66 562.50v2.00M47.50 488.17h-2.00M130.31 562.50v2.00M47.50 486.66h-2.00M131.77 562.50v2.00M47.50 485.32h-2.00M133.07 562.50v3.50M47.50 484.12h-3.50M141.66 562.50v2.00M47.50 476.26h-2.00M146.68 562.50v2.00M47.50 471.66h-2.00M150.25 562.50v2.00M47.50 468.40h-2.00M153.01 562.50v2.00M47.50 465.86h-2.00M155.27 562.50v2.00M47.50 463.80h-2.00M157.18 562.50v2.00M47.50 462.05h-2.00M158.84 562.50v2.00M47.50 460.53h-2.00M160.29 562.50v2.00M47.50 459.20h-2.00M161.60 562.50v2.5M47.50 458.00h-2.5" stroke="#000" stroke-width="1"/><path d="M75.40 458.00V562.50M47.50 536.38H161.60" stroke="#222" stroke-width="1"/><text x="40.20" y="576.50" font-size="8.3" font-weight="bold">10</text><text x="49.20" y="570.50" font-size="6.8" font-weight="bold">0</text><text x="68.73" y="576.50" font-size="8.3" font-weight="bold">10</text><text x="77.73" y="570.50" font-size="6.8" font-weight="bold">1</text><text x="97.25" y="576.50" font-size="8.3" font-weight="bold">10</text><text x="106.25" y="570.50" font-size="6.8" font-weight="bold">2</text><text x="125.77" y="576.50" font-size="8.3" font-weight="bold">10</text><text x="134.77" y="570.50" font-size="6.8" font-weight="bold">3</text><text x="154.30" y="576.50" font-size="8.3" font-weight="bold">10</text><text x="163.30" y="570.50" font-size="6.8" font-weight="bold">4</text><g transform="translate(38.70 562.50) rotate(-90)"><text x="-7.3" y="0" font-size="8.3" font-weight="bold">10</text><text x="1.8" y="-5.3" font-size="6.8" font-weight="bold">0</text></g><g transform="translate(38.70 536.38) rotate(-90)"><text x="-7.3" y="0" font-size="8.3" font-weight="bold">10</text><text x="1.8" y="-5.3" font-size="6.8" font-weight="bold">1</text></g><g transform="translate(38.70 510.25) rotate(-90)"><text x="-7.3" y="0" font-size="8.3" font-weight="bold">10</text><text x="1.8" y="-5.3" font-size="6.8" font-weight="bold">2</text></g><g transform="translate(38.70 484.12) rotate(-90)"><text x="-7.3" y="0" font-size="8.3" font-weight="bold">10</text><text x="1.8" y="-5.3" font-size="6.8" font-weight="bold">3</text></g><g transform="translate(38.70 458.00) rotate(-90)"><text x="-7.3" y="0" font-size="8.3" font-weight="bold">10</text><text x="1.8" y="-5.3" font-size="6.8" font-weight="bold">4</text></g><text x="83.85" y="586.50" font-size="9" font-weight="bold" textLength="41.4" lengthAdjust="spacingAndGlyphs">CD34-FITC</text><text transform="translate(27.00 511.85) rotate(-90)" x="-37.50" font-size="9" font-weight="bold" textLength="75.0" lengthAdjust="spacingAndGlyphs">Anti-HLA-DR PerCP</text><text x="50.80" y="474.90" font-size="8.6" font-weight="bold" letter-spacing="0.65">9%</text><text x="118.80" y="475.40" font-size="8.6" font-weight="bold" letter-spacing="0.65">87%</text><text x="118.80" y="487.90" font-size="8.6" font-weight="bold" letter-spacing="0.00">Day 2</text><text x="133.80" y="555.90" font-size="8.6" font-weight="bold" letter-spacing="0.65">2%</text>
<g fill="none" stroke-width="1"><path d="M0 0.5m251 458h1m44 1h1m-23 2h1m13 0h1m-11 1h1m1 0h1m-2 3h1m1 0h1m-44 1h1m30 0h1m1 0h1m13 0h1m-39 1h1m25 0h1m0 1h1m-47 1h1m33 0h1m10 0h1m2 0h1m-13 1h1m6 0h1m3 0h1m11 0h1m-31 1h1m19 0h1m-21 1h1m11 0h1m12 0h1m-13 1h1m2 0h1m4 0h1m-33 1h1m20 0h1m2 0h1m1 0h1m1 0h1m0 0h1m-28 1h1m7 0h1m3 0h1m0 0h1m2 0h1m3 0h1m3 0h1m2 0h1m2 0h1m-30 1h1m4 0h1m0 0h1m0 0h1m4 0h1m4 0h1m1 0h1m7 0h1m0 0h1m-18 1h1m1 0h1m2 0h1m0 0h1m5 0h1m1 0h1m0 0h1m3 0h1m-22 1h1m1 0h1m9 0h1m2 0h1m2 0h1m-23 1h1m3 0h1m0 0h1m1 0h1m2 0h1m1 0h1m0 0h1m1 0h1m0 0h1m0 0h1m0 0h1m1 0h1m1 0h1m-43 1h1m3 0h1m13 0h1m3 0h1m11 0h1m0 0h1m0 0h1m-22 1h1m2 0h1m5 0h1m4 0h1m0 0h1m1 0h1m3 0h1m0 0h1m0 0h1m-27 1h1m14 0h1m4 0h1m2 0h1m1 0h1m2 0h1m-34 1h1m1 0h1m2 0h1m2 0h1m7 0h1m0 0h1m0 0h1m0 0h1m2 0h1m3 0h1m3 0h1m3 0h1m2 0h1m-23 1h1m2 0h1m1 0h1m0 0h1m5 0h1m0 0h1m0 0h1m0 0h1m0 0h1m5 0h1m-38 1h1m9 0h1m8 0h1m0 0h1m0 0h1m0 0h1m2 0h1m0 0h1m0 0h1m1 0h1m-41 1h1m17 0h1m1 0h1m1 0h1m2 0h1m3 0h1m1 0h1m0 0h1m4 0h1m1 0h1m0 0h1m0 0h1m1 0h1m-25 1h1m2 0h1m2 0h1m2 0h1m5 0h1m4 0h1m0 0h1m-27 1h1m4 0h1m1 0h1m0 0h1m2 0h1m0 0h1m3 0h1m0 0h1m5 0h1m0 0h1m0 0h1m0 0h1m-32 1h1m1 0h1m0 0h1m0 0h1m1 0h1m3 0h1m9 0h1m3 0h1m2 0h1m0 0h1m1 0h1m0 0h1m-22 1h1m2 0h1m5 0h1m2 0h1m1 0h1m0 0h1m0 0h1m0 0h1m28 0h1m-51 1h1m6 0h1m5 0h1m1 0h1m0 0h1m0 0h1m3 0h1m2 0h1m-25 1h1m1 0h1m1 0h1m7 0h1m3 0h1m0 0h1m-19 1h1m0 0h1m1 0h1m2 0h1m0 0h1m0 0h1m0 0h1m2 0h1m3 0h1m0 0h1m1 0h1m0 0h1m1 0h1m-32 1h1m5 0h1m3 0h1m2 0h1m2 0h1m1 0h1m4 0h1m0 0h1m9 0h1m-44 1h1m18 0h1m2 0h1m1 0h1m2 0h1m5 0h1m2 0h1m1 0h1m2 0h1m-27 1h1m1 0h1m1 0h1m1 0h1m0 0h1m6 0h1m4 0h1m7 0h1m1 0h1m-35 1h1m3 0h1m1 0h1m1 0h1m0 0h1m1 0h1m0 0h1m8 0h1m10 0h1m0 0h1m-28 1h1m2 0h1m6 0h1m1 0h1m1 0h1m0 0h1m-16 1h1m1 0h1m1 0h1m0 0h1m0 0h1m0 0h1m0 0h1m3 0h1m0 0h1m1 0h1m-19 1h1m2 0h1m0 0h1m2 0h1m1 0h1m1 0h1m2 0h1m0 0h1m0 0h1m3 0h1m1 0h1m2 0h1m-25 1h1m3 0h1m0 0h1m1 0h1m0 0h1m1 0h1m0 0h1m9 0h1m1 0h1m-24 1h1m2 0h1m0 0h1m1 0h1m1 0h1m1 0h1m0 0h1m1 0h1m1 0h1m3 0h1m2 0h1m8 0h1m3 0h1m-34 1h1m0 0h1m0 0h1m1 0h1m1 0h1m2 0h1m1 0h1m6 0h1m0 0h1m4 0h1m-31 1h1m0 0h1m2 0h1m6 0h1m0 0h1m2 0h1m1 0h1m0 0h1m41 0h1m-56 1h1m0 0h1m0 0h1m1 0h1m1 0h1m1 0h1m0 0h1m1 0h1m1 0h1m7 0h1m-20 1h1m1 0h1m0 0h1m1 0h1m2 0h1m0 0h1m0 0h1m26 0h1m-46 1h1m4 0h1m0 0h1m0 0h1m4 0h1m0 0h1m-13 1h1m0 0h1m3 0h1m3 0h1m1 0h1m0 0h1m0 0h1m0 0h1m0 0h1m9 0h1m-32 1h1m6 0h1m2 0h1m0 0h1m1 0h1m2 0h1m0 0h1m1 0h1m3 0h1m8 0h1m-24 1h1m0 0h1m0 0h1m1 0h1m0 0h1m1 0h1m0 0h1m0 0h1m0 0h1m1 0h1m2 0h1m5 0h1m8 0h1m-31 1h1m0 0h1m3 0h1m0 0h1m1 0h1m2 0h1m2 0h1m0 0h1m1 0h1m-15 1h1m2 0h1m1 0h1m0 0h1m0 0h1m0 0h1m0 0h1m1 0h1m1 0h1m1 0h1m-18 1h1m2 0h1m2 0h1m0 0h1m4 0h1m3 0h1m-23 1h1m1 0h1m3 0h1m1 0h1m0 0h1m0 0h1m1 0h1m0 0h1m4 0h1m9 0h1m-23 1h1m3 0h1m1 0h1m2 0h1m-11 1h1m2 0h1m0 0h1m1 0h1m0 0h1m0 0h1m1 0h1m13 0h1m-31 1h1m6 0h1m3 0h1m0 0h1m1 0h1m0 0h1m4 0h1m-15 1h1m1 0h1m1 0h1m0 0h1m1 0h1m0 0h1m8 0h1m-19 1h1m2 0h1m1 0h1m0 0h1m0 0h1m2 0h1m1 0h1m-13 1h1m0 0h1m2 0h1m0 0h1m1 0h1m1 0h1m0 0h1m0 0h1m1 0h1m2 0h1m-10 1h1m0 0h1m1 0h1m1 0h1m13 0h1m-29 1h1m4 0h1m17 0h1m38 0h1m-63 1h1m6 0h1m0 0h1m1 0h1m1 0h1m12 0h1m8 0h1m-32 1h1m3 0h1m2 0h1m9 0h1m17 0h1m-36 1h1m0 0h1m1 0h1m4 0h1m0 0h1m0 0h1m1 0h1m6 0h1m-26 1h1m7 0h1m0 0h1m0 0h1m0 0h1m0 0h1m4 0h1m2 0h1m-22 1h1m7 0h1m0 0h1m1 0h1m0 0h1m0 0h1m0 0h1m0 0h1m3 0h1m-11 1h1m2 0h1m0 0h1m1 0h1m0 0h1m4 0h1m-19 1h1m0 0h1m1 0h1m1 0h1m3 0h1m0 0h1m0 0h1m2 0h1m0 0h1m1 0h1m8 0h1m30 0h1m-54 1h1m0 0h1m0 0h1m0 0h1m3 0h1m2 0h1m-15 1h1m0 0h1m1 0h1m1 0h1m0 0h1m2 0h1m2 0h1m2 0h1m-11 1h1m1 0h1m0 0h1m0 0h1m6 0h1m11 0h1m-33 1h1m2 0h1m5 0h1m0 0h1m1 0h1m1 0h1m4 0h1m-12 1h1m2 0h1m1 0h1m1 0h1m3 0h1m9 0h1m-20 1h1m2 0h1m6 0h1m-7 1h1m80 0h1m-90 1h1m2 0h1m1 0h1m2 0h1m1 0h1m2 0h1m-7 2h1m41 0h1m-7 1h1m9 0h1m-2 4h1m-35 6h1m-21 2h1m43 0h1" stroke="#666"/><path d="M0 0.5m249 459h1m-4 1h1m-1 1h1m9 0h1m19 0h1m-2 1h1m-12 1h1m15 1h1m-10 1h1m-34 1h1m29 0h1m0 0h1m2 0h1m0 0h1m0 1h1m0 0h1m-2 1h1m5 0h1m-8 1h1m1 0h1m1 0h1m-8 1h1m9 0h1m2 0h1m-13 1h1m12 0h1m-24 1h1m3 0h1m1 0h1m2 0h1m6 0h1m0 0h1m0 0h1m1 0h1m-19 1h1m1 0h1m8 0h1m0 0h1m0 0h1m0 0h1m-31 1h1m14 0h1m1 0h1m1 0h1m0 0h1m4 0h1m5 0h1m1 0h1m1 0h1m-28 1h1m12 0h1m2 0h1m0 0h1m0 0h1m-17 1h1m6 0h1m1 0h1m1 0h1m0 0h1m1 0h1m1 0h1m3 0h1m-37 1h1m17 0h1m5 0h1m1 0h1m2 0h1m1 0h1m2 0h1m0 0h1m-28 1h1m16 0h1m0 0h1m3 0h1m0 0h1m5 0h1m0 0h1m-39 1h1m4 0h1m17 0h1m1 0h1m1 0h1m1 0h1m1 0h1m1 0h1m1 0h1m-42 1h1m10 0h1m2 0h1m5 0h1m4 0h1m0 0h1m0 0h1m0 0h1m2 0h1m0 0h1m0 0h1m0 0h1m0 0h1m0 0h1m0 0h1m1 0h1m0 0h1m0 0h1m1 0h1m-33 1h1m0 0h1m12 0h1m0 0h1m0 0h1m2 0h1m0 0h1m0 0h1m1 0h1m0 0h1m0 0h1m0 0h1m0 0h1m2 0h1m37 0h1m-72 1h1m4 0h1m5 0h1m4 0h1m5 0h1m0 0h1m2 0h1m0 0h1m0 0h1m9 0h1m-40 1h1m3 0h1m8 0h1m9 0h1m0 0h1m1 0h1m0 0h1m1 0h1m1 0h1m0 0h1m0 0h1m-30 1h1m1 0h1m0 0h1m0 0h1m0 0h1m5 0h1m4 0h1m2 0h1m0 0h1m3 0h1m6 0h1m5 0h1m-39 1h1m16 0h1m1 0h1m0 0h1m0 0h1m0 0h1m1 0h1m0 0h1m-24 1h1m5 0h1m0 0h1m3 0h1m0 0h1m1 0h1m2 0h1m1 0h1m1 0h1m0 0h1m0 0h1m3 0h1m0 0h1m-31 1h1m3 0h1m1 0h1m0 0h1m3 0h1m2 0h1m0 0h1m0 0h1m4 0h1m0 0h1m6 0h1m-26 1h1m9 0h1m2 0h1m0 0h1m0 0h1m1 0h1m0 0h1m-28 1h1m5 0h1m3 0h1m0 0h1m0 0h1m5 0h1m2 0h1m0 0h1m5 0h1m0 0h1m1 0h1m10 0h1m-45 1h1m8 0h1m10 0h1m2 0h1m1 0h1m0 0h1m0 0h1m1 0h1m6 0h1m-37 1h1m4 0h1m0 0h1m0 0h1m4 0h1m2 0h1m0 0h1m0 0h1m2 0h1m1 0h1m0 0h1m0 0h1m0 0h1m0 0h1m0 0h1m-22 1h1m0 0h1m0 0h1m0 0h1m0 0h1m0 0h1m1 0h1m1 0h1m1 0h1m0 0h1m4 0h1m3 0h1m1 0h1m-23 1h1m3 0h1m4 0h1m0 0h1m0 0h1m3 0h1m1 0h1m0 0h1m1 0h1m1 0h1m0 0h1m-28 1h1m1 0h1m0 0h1m3 0h1m2 0h1m0 0h1m0 0h1m2 0h1m1 0h1m3 0h1m4 0h1m1 0h1m28 0h1m-53 1h1m5 0h1m0 0h1m1 0h1m0 0h1m3 0h1m2 0h1m3 0h1m0 0h1m-31 1h1m1 0h1m5 0h1m0 0h1m2 0h1m0 0h1m0 0h1m2 0h1m0 0h1m1 0h1m2 0h1m1 0h1m0 0h1m3 0h1m5 0h1m-35 1h1m1 0h1m2 0h1m0 0h1m0 0h1m1 0h1m0 0h1m0 0h1m0 0h1m0 0h1m0 0h1m0 0h1m2 0h1m-21 1h1m7 0h1m0 0h1m3 0h1m6 0h1m3 0h1m2 0h1m1 0h1m6 0h1m-34 1h1m2 0h1m2 0h1m0 0h1m0 0h1m0 0h1m0 0h1m0 0h1m5 0h1m4 0h1m2 0h1m-29 1h1m3 0h1m0 0h1m0 0h1m1 0h1m1 0h1m0 0h1m1 0h1m0 0h1m1 0h1m0 0h1m2 0h1m1 0h1m-23 1h1m5 0h1m0 0h1m0 0h1m2 0h1m0 0h1m0 0h1m2 0h1m0 0h1m0 0h1m2 0h1m1 0h1m-24 1h1m0 0h1m0 0h1m0 0h1m1 0h1m1 0h1m1 0h1m0 0h1m0 0h1m0 0h1m2 0h1m4 0h1m5 0h1m1 0h1m9 0h1m-38 1h1m5 0h1m1 0h1m3 0h1m2 0h1m1 0h1m1 0h1m1 0h1m3 0h1m-24 1h1m0 0h1m3 0h1m3 0h1m7 0h1m4 0h1m5 0h1m-35 1h1m1 0h1m6 0h1m0 0h1m1 0h1m3 0h1m0 0h1m0 0h1m-17 1h1m6 0h1m0 0h1m0 0h1m0 0h1m0 0h1m2 0h1m0 0h1m0 0h1m0 0h1m2 0h1m4 0h1m-25 1h1m5 0h1m1 0h1m0 0h1m0 0h1m0 0h1m2 0h1m10 0h1m-28 1h1m0 0h1m3 0h1m5 0h1m0 0h1m-14 1h1m4 0h1m5 0h1m0 0h1m0 0h1m2 0h1m3 0h1m0 0h1m-21 1h1m1 0h1m1 0h1m1 0h1m0 0h1m0 0h1m0 0h1m2 0h1m2 0h1m5 0h1m-18 1h1m0 0h1m0 0h1m0 0h1m0 0h1m2 0h1m1 0h1m2 0h1m0 0h1m1 0h1m8 0h1m-31 1h1m5 0h1m1 0h1m4 0h1m0 0h1m0 0h1m0 0h1m0 0h1m-18 1h1m0 0h1m5 0h1m0 0h1m0 0h1m1 0h1m1 0h1m0 0h1m6 0h1m4 0h1m-21 1h1m1 0h1m1 0h1m0 0h1m1 0h1m5 0h1m9 0h1m-24 1h1m2 0h1m1 0h1m4 0h1m2 0h1m-17 1h1m5 0h1m1 0h1m0 0h1m1 0h1m0 0h1m0 0h1m2 0h1m-11 1h1m0 0h1m-4 1h1m0 0h1m0 0h1m0 0h1m2 0h1m-11 1h1m9 0h1m0 0h1m2 0h1m-13 1h1m1 0h1m0 0h1m1 0h1m0 0h1m0 0h1m2 0h1m25 0h1m-35 1h1m0 0h1m4 0h1m1 0h1m12 0h1m2 0h1m-28 1h1m5 0h1m1 0h1m3 0h1m-13 1h1m1 0h1m10 0h1m8 0h1m1 0h1m-27 1h1m3 0h1m0 0h1m1 0h1m3 0h1m0 0h1m0 0h1m2 0h1m-14 1h1m0 0h1m0 0h1m0 0h1m0 0h1m5 0h1m-13 1h1m0 0h1m2 0h1m3 0h1m3 0h1m0 0h1m-13 1h1m1 0h1m0 0h1m1 0h1m0 0h1m0 0h1m5 0h1m-14 1h1m1 0h1m1 0h1m1 0h1m1 0h1m0 0h1m-19 1h1m5 0h1m2 0h1m0 0h1m0 0h1m1 0h1m4 0h1m0 0h1m0 0h1m4 0h1m-18 1h1m5 0h1m3 0h1m2 0h1m3 0h1m2 0h1m1 0h1m-27 1h1m5 0h1m0 0h1m0 0h1m3 0h1m13 0h1m-25 1h1m0 0h1m2 0h1m1 0h1m0 0h1m1 0h1m5 0h1m4 0h1m10 0h1m18 0h1m-47 1h1m1 0h1m4 0h1m-22 1h1m5 0h1m3 0h1m3 0h1m1 0h1m0 0h1m4 0h1m11 0h1m-15 2h1m-6 1h1m8 0h1m-12 1h1m16 0h1m41 1h1m-64 1h1m3 1h1m16 0h1m-10 2h1m31 4h1m-37 2h1" stroke="#3c3c3c"/><path d="M0 0.5m282 459h1m-12 5h1m15 0h1m-7 1h1m-34 1h1m4 3h1m5 0h1m7 0h1m3 0h1m4 0h1m5 0h1m-32 1h1m17 0h1m1 0h1m-8 1h1m10 0h1m0 0h1m-16 1h1m2 0h1m5 0h1m1 0h1m5 0h1m2 0h1m2 0h1m-51 1h1m3 0h1m24 0h1m6 0h1m1 0h1m3 0h1m2 0h1m-23 1h1m9 0h1m0 0h1m3 0h1m0 0h1m0 0h1m2 0h1m0 0h1m10 0h1m-32 1h1m12 0h1m1 0h1m0 0h1m1 0h1m-26 1h1m12 0h1m3 0h1m2 0h1m1 0h1m-26 1h1m13 0h1m2 0h1m5 0h1m1 0h1m5 0h1m-18 1h1m1 0h1m0 0h1m0 0h1m3 0h1m1 0h1m2 0h1m0 0h1m0 0h1m10 0h1m-47 1h1m6 0h1m20 0h1m1 0h1m3 0h1m-33 1h1m10 0h1m3 0h1m1 0h1m4 0h1m0 0h1m-35 1h1m9 0h1m11 0h1m9 0h1m1 0h1m3 0h1m1 0h1m0 0h1m4 0h1m-34 1h1m15 0h1m3 0h1m0 0h1m1 0h1m2 0h1m1 0h1m0 0h1m-23 1h1m0 0h1m1 0h1m0 0h1m3 0h1m3 0h1m3 0h1m1 0h1m0 0h1m3 0h1m-31 1h1m4 0h1m8 0h1m0 0h1m0 0h1m3 0h1m0 0h1m1 0h1m5 0h1m-31 1h1m0 0h1m11 0h1m2 0h1m4 0h1m1 0h1m0 0h1m1 0h1m0 0h1m-30 1h1m0 0h1m1 0h1m7 0h1m0 0h1m1 0h1m3 0h1m4 0h1m0 0h1m2 0h1m-27 1h1m2 0h1m1 0h1m0 0h1m0 0h1m3 0h1m0 0h1m1 0h1m1 0h1m0 0h1m1 0h1m0 0h1m1 0h1m9 0h1m1 0h1m5 0h1m-41 1h1m5 0h1m3 0h1m4 0h1m0 0h1m0 0h1m1 0h1m6 0h1m0 0h1m-35 1h1m4 0h1m1 0h1m0 0h1m0 0h1m3 0h1m1 0h1m4 0h1m2 0h1m0 0h1m1 0h1m1 0h1m-24 1h1m3 0h1m0 0h1m0 0h1m6 0h1m2 0h1m0 0h1m0 0h1m2 0h1m0 0h1m0 0h1m16 0h1m-41 1h1m0 0h1m1 0h1m0 0h1m1 0h1m0 0h1m3 0h1m0 0h1m0 0h1m1 0h1m8 0h1m0 0h1m0 0h1m1 0h1m-23 1h1m0 0h1m2 0h1m1 0h1m6 0h1m6 0h1m-27 1h1m0 0h1m0 0h1m1 0h1m4 0h1m4 0h1m1 0h1m1 0h1m0 0h1m0 0h1m0 0h1m0 0h1m0 0h1m1 0h1m0 0h1m-37 1h1m10 0h1m1 0h1m0 0h1m0 0h1m1 0h1m0 0h1m0 0h1m4 0h1m3 0h1m2 0h1m4 0h1m-29 1h1m3 0h1m3 0h1m0 0h1m2 0h1m0 0h1m0 0h1m1 0h1m0 0h1m3 0h1m3 0h1m-25 1h1m1 0h1m2 0h1m2 0h1m5 0h1m0 0h1m1 0h1m1 0h1m0 0h1m-18 1h1m2 0h1m2 0h1m1 0h1m1 0h1m0 0h1m0 0h1m2 0h1m5 0h1m-32 1h1m5 0h1m2 0h1m2 0h1m0 0h1m7 0h1m1 0h1m1 0h1m0 0h1m0 0h1m-20 1h1m1 0h1m0 0h1m0 0h1m1 0h1m1 0h1m4 0h1m4 0h1m0 0h1m0 0h1m0 0h1m-24 1h1m1 0h1m0 0h1m1 0h1m1 0h1m1 0h1m0 0h1m0 0h1m2 0h1m3 0h1m3 0h1m2 0h1m-28 1h1m4 0h1m0 0h1m1 0h1m0 0h1m1 0h1m1 0h1m2 0h1m2 0h1m1 0h1m2 0h1m0 0h1m5 0h1m-28 1h1m0 0h1m0 0h1m1 0h1m1 0h1m0 0h1m1 0h1m0 0h1m4 0h1m1 0h1m0 0h1m5 0h1m3 0h1m3 0h1m-34 1h1m0 0h1m2 0h1m0 0h1m2 0h1m0 0h1m1 0h1m0 0h1m8 0h1m-21 1h1m0 0h1m1 0h1m0 0h1m1 0h1m3 0h1m2 0h1m2 0h1m-21 1h1m0 0h1m1 0h1m0 0h1m0 0h1m3 0h1m1 0h1m0 0h1m0 0h1m0 0h1m8 0h1m7 0h1m-29 1h1m1 0h1m0 0h1m1 0h1m0 0h1m0 0h1m13 0h1m1 0h1m5 0h1m-31 1h1m0 0h1m0 0h1m1 0h1m0 0h1m1 0h1m2 0h1m0 0h1m0 0h1m-14 1h1m0 0h1m1 0h1m2 0h1m0 0h1m2 0h1m1 0h1m1 0h1m-14 1h1m0 0h1m0 0h1m0 0h1m0 0h1m0 0h1m3 0h1m1 0h1m0 0h1m-10 1h1m1 0h1m1 0h1m2 0h1m1 0h1m5 0h1m-20 1h1m0 0h1m0 0h1m0 0h1m0 0h1m1 0h1m0 0h1m2 0h1m3 0h1m5 0h1m1 0h1m1 0h1m-29 1h1m2 0h1m1 0h1m1 0h1m0 0h1m0 0h1m0 0h1m0 0h1m0 0h1m0 0h1m1 0h1m19 0h1m-36 1h1m3 0h1m2 0h1m1 0h1m3 0h1m6 0h1m6 0h1m-32 1h1m6 0h1m2 0h1m1 0h1m0 0h1m1 0h1m2 0h1m0 0h1m-14 1h1m5 0h1m1 0h1m0 0h1m5 0h1m-18 1h1m3 0h1m0 0h1m5 0h1m0 1h1m0 0h1m0 0h1m-10 1h1m6 0h1m0 0h1m0 0h1m0 0h1m-18 1h1m5 0h1m2 0h1m3 0h1m0 0h1m1 0h1m1 0h1m-9 1h1m1 0h1m1 0h1m2 0h1m0 0h1m2 0h1m-13 1h1m3 0h1m75 0h1m-81 1h1m0 0h1m0 0h1m4 0h1m1 0h1m-15 1h1m1 0h1m3 0h1m-11 1h1m5 0h1m-3 1h1m7 0h1m1 0h1m10 0h1m2 0h1m-23 1h1m1 0h1m0 0h1m3 0h1m4 0h1m4 0h1m-11 1h1m0 0h1m0 0h1m-16 1h1m6 0h1m2 0h1m2 0h1m3 0h1m0 0h1m14 0h1m-24 1h1m0 0h1m1 0h1m0 0h1m2 0h1m29 0h1m-47 1h1m4 0h1m2 0h1m2 0h1m1 0h1m3 0h1m-19 1h1m3 0h1m5 0h1m0 0h1m0 0h1m0 0h1m0 0h1m0 0h1m5 0h1m-18 1h1m1 0h1m0 0h1m1 0h1m1 0h1m0 0h1m1 0h1m-9 1h1m4 0h1m2 0h1m1 0h1m-17 1h1m10 0h1m0 0h1m0 0h1m3 0h1m2 0h1m-14 1h1m4 0h1m-14 1h1m13 0h1m0 0h1m0 0h1m76 0h1m-83 1h1m0 0h1m3 0h1m-23 1h1m20 1h1m-9 1h1m7 0h1m71 3h1m-72 2h1m-4 1h1m0 3h1" stroke="#222"/><path d="M0 0.5m273 459h1m8 1h1m-43 1h1m23 3h1m11 2h1m-13 1h1m14 0h1m-12 1h1m6 0h1m5 0h1m-28 2h1m19 0h1m4 0h1m-33 1h1m16 0h1m2 0h1m2 0h1m8 0h1m2 0h1m-16 1h1m0 0h1m1 0h1m1 0h1m3 0h1m21 0h1m-57 1h1m0 0h1m22 0h1m3 0h1m7 0h1m-29 1h1m14 0h1m8 0h1m0 0h1m0 0h1m7 0h1m-40 1h1m18 0h1m1 0h1m12 0h1m-19 1h1m5 0h1m2 0h1m1 0h1m2 0h1m0 0h1m3 0h1m-22 1h1m1 0h1m0 0h1m1 0h1m0 0h1m4 0h1m0 0h1m0 0h1m6 0h1m1 0h1m9 0h1m-32 1h1m4 0h1m0 0h1m1 0h1m0 0h1m1 0h1m0 0h1m1 0h1m0 0h1m1 0h1m0 0h1m5 0h1m-38 1h1m2 0h1m1 0h1m6 0h1m0 0h1m6 0h1m0 0h1m2 0h1m0 0h1m1 0h1m1 0h1m-35 1h1m2 0h1m10 0h1m7 0h1m3 0h1m2 0h1m0 0h1m0 0h1m2 0h1m0 0h1m0 0h1m-44 1h1m6 0h1m10 0h1m8 0h1m2 0h1m2 0h1m0 0h1m1 0h1m1 0h1m0 0h1m-26 1h1m1 0h1m2 0h1m3 0h1m3 0h1m3 0h1m2 0h1m7 0h1m0 0h1m1 0h1m-37 1h1m0 0h1m3 0h1m4 0h1m6 0h1m2 0h1m2 0h1m2 0h1m2 0h1m2 0h1m0 0h1m-46 1h1m25 0h1m0 0h1m0 0h1m0 0h1m2 0h1m0 0h1m1 0h1m0 0h1m2 0h1m1 0h1m1 0h1m-28 1h1m12 0h1m1 0h1m0 0h1m0 0h1m0 0h1m1 0h1m0 0h1m0 0h1m1 0h1m0 0h1m-38 1h1m5 0h1m0 0h1m1 0h1m1 0h1m5 0h1m1 0h1m2 0h1m4 0h1m2 0h1m0 0h1m0 0h1m2 0h1m0 0h1m-35 1h1m6 0h1m2 0h1m0 0h1m2 0h1m0 0h1m5 0h1m4 0h1m0 0h1m0 0h1m1 0h1m0 0h1m8 0h1m-49 1h1m13 0h1m1 0h1m9 0h1m1 0h1m0 0h1m0 0h1m2 0h1m0 0h1m0 0h1m0 0h1m0 0h1m-43 1h1m15 0h1m2 0h1m2 0h1m1 0h1m1 0h1m8 0h1m0 0h1m8 0h1m1 0h1m-29 1h1m0 0h1m0 0h1m0 0h1m0 0h1m2 0h1m1 0h1m0 0h1m2 0h1m0 0h1m0 0h1m1 0h1m1 0h1m1 0h1m2 0h1m5 0h1m1 0h1m-33 1h1m5 0h1m4 0h1m0 0h1m1 0h1m0 0h1m1 0h1m0 0h1m4 0h1m0 0h1m0 0h1m-31 1h1m1 0h1m2 0h1m5 0h1m1 0h1m2 0h1m0 0h1m1 0h1m1 0h1m2 0h1m1 0h1m0 0h1m5 0h1m-34 1h1m2 0h1m4 0h1m0 0h1m0 0h1m2 0h1m2 0h1m0 0h1m10 0h1m0 0h1m0 0h1m-25 1h1m4 0h1m0 0h1m1 0h1m3 0h1m2 0h1m1 0h1m0 0h1m0 0h1m1 0h1m1 0h1m-29 1h1m2 0h1m1 0h1m0 0h1m1 0h1m0 0h1m1 0h1m4 0h1m0 0h1m7 0h1m0 0h1m-33 1h1m4 0h1m0 0h1m1 0h1m0 0h1m0 0h1m0 0h1m4 0h1m0 0h1m1 0h1m3 0h1m3 0h1m0 0h1m1 0h1m0 0h1m7 0h1m2 0h1m-36 1h1m2 0h1m1 0h1m0 0h1m0 0h1m1 0h1m0 0h1m2 0h1m4 0h1m3 0h1m-25 1h1m5 0h1m0 0h1m0 0h1m0 0h1m4 0h1m7 0h1m4 0h1m-24 1h1m1 0h1m0 0h1m0 0h1m0 0h1m1 0h1m4 0h1m1 0h1m-19 1h1m1 0h1m1 0h1m0 0h1m5 0h1m0 0h1m6 0h1m2 0h1m0 0h1m3 0h1m-30 1h1m1 0h1m1 0h1m1 0h1m2 0h1m0 0h1m0 0h1m0 0h1m0 0h1m0 0h1m0 0h1m3 0h1m6 0h1m23 0h1m-46 1h1m3 0h1m1 0h1m0 0h1m2 0h1m-24 1h1m15 0h1m0 0h1m2 0h1m0 0h1m0 0h1m0 0h1m0 0h1m2 0h1m0 0h1m1 0h1m2 0h1m18 0h1m0 0h1m-46 1h1m5 0h1m0 0h1m2 0h1m3 0h1m1 0h1m2 0h1m8 0h1m-28 1h1m3 0h1m0 0h1m3 0h1m0 0h1m1 0h1m0 0h1m0 0h1m-17 1h1m1 0h1m3 0h1m0 0h1m0 0h1m5 0h1m0 0h1m13 0h1m-24 1h1m0 0h1m0 0h1m0 0h1m1 0h1m0 0h1m2 0h1m0 0h1m4 0h1m18 0h1m-37 1h1m0 0h1m0 0h1m0 0h1m1 0h1m0 0h1m0 0h1m2 0h1m13 0h1m-35 1h1m10 0h1m1 0h1m0 0h1m1 0h1m1 0h1m-10 1h1m0 0h1m1 0h1m0 0h1m3 0h1m6 0h1m4 0h1m-20 1h1m1 0h1m0 0h1m2 0h1m1 0h1m0 0h1m44 0h1m-57 1h1m0 0h1m4 0h1m1 0h1m0 0h1m4 0h1m0 0h1m-16 1h1m2 0h1m3 0h1m0 0h1m1 0h1m2 0h1m5 0h1m-14 1h1m1 0h1m1 0h1m2 0h1m0 0h1m2 0h1m-17 1h1m4 0h1m1 0h1m1 0h1m0 0h1m0 0h1m0 0h1m2 0h1m-17 1h1m0 0h1m0 0h1m3 0h1m3 0h1m4 0h1m-13 1h1m0 0h1m0 0h1m3 0h1m1 0h1m2 0h1m0 0h1m18 0h1m-37 1h1m4 0h1m1 0h1m2 0h1m2 0h1m0 0h1m0 0h1m-15 1h1m4 0h1m4 0h1m10 0h1m-19 1h1m2 0h1m1 0h1m0 0h1m0 0h1m1 0h1m5 0h1m21 0h1m-40 1h1m4 0h1m0 0h1m0 0h1m3 0h1m-12 1h1m6 0h1m2 0h1m2 0h1m-10 1h1m8 0h1m-14 1h1m1 0h1m1 0h1m2 0h1m1 0h1m0 0h1m15 0h1m2 0h1m-30 1h1m2 0h1m0 0h1m3 0h1m2 0h1m5 0h1m-21 1h1m2 0h1m0 0h1m31 0h1m-34 1h1m0 0h1m0 0h1m2 0h1m1 0h1m0 0h1m2 0h1m3 0h1m4 0h1m-24 1h1m3 0h1m2 0h1m0 0h1m1 0h1m-8 1h1m2 0h1m1 0h1m0 0h1m0 0h1m3 0h1m0 0h1m-23 1h1m7 0h1m0 0h1m2 0h1m2 0h1m0 0h1m0 0h1m16 0h1m-28 1h1m2 0h1m0 0h1m1 0h1m1 0h1m3 0h1m2 0h1m1 0h1m-12 1h1m0 0h1m1 0h1m0 0h1m0 0h1m0 0h1m0 0h1m1 0h1m-14 1h1m1 0h1m2 0h1m0 0h1m2 0h1m1 0h1m4 0h1m-18 1h1m3 0h1m1 0h1m2 0h1m5 0h1m6 0h1m1 0h1m27 0h1m-45 1h1m0 0h1m1 0h1m0 0h1m-2 3h1m-6 1h1m8 0h1m38 0h1m-31 2h1m-17 2h1m42 0h1" stroke="#111"/></g>
<rect x="224.00" y="454.40" width="110.80" height="103.90" fill="none" stroke="#111" stroke-width="1.3"/><path d="M224.00 454.40V558.30H334.80" fill="none" stroke="#000" stroke-width="2"/><path d="M224.00 558.30v3.50M224.00 558.30h-3.50M232.34 558.30v2.00M224.00 550.48h-2.00M237.22 558.30v2.00M224.00 545.91h-2.00M240.68 558.30v2.00M224.00 542.66h-2.00M243.36 558.30v2.00M224.00 540.14h-2.00M245.55 558.30v2.00M224.00 538.09h-2.00M247.41 558.30v2.00M224.00 536.35h-2.00M249.02 558.30v2.00M224.00 534.84h-2.00M250.43 558.30v2.00M224.00 533.51h-2.00M251.70 558.30v3.50M224.00 532.32h-3.50M260.04 558.30v2.00M224.00 524.51h-2.00M264.92 558.30v2.00M224.00 519.93h-2.00M268.38 558.30v2.00M224.00 516.69h-2.00M271.06 558.30v2.00M224.00 514.17h-2.00M273.25 558.30v2.00M224.00 512.11h-2.00M275.11 558.30v2.00M224.00 510.37h-2.00M276.72 558.30v2.00M224.00 508.87h-2.00M278.13 558.30v2.00M224.00 507.54h-2.00M279.40 558.30v3.50M224.00 506.35h-3.50M287.74 558.30v2.00M224.00 498.53h-2.00M292.62 558.30v2.00M224.00 493.96h-2.00M296.08 558.30v2.00M224.00 490.71h-2.00M298.76 558.30v2.00M224.00 488.19h-2.00M300.95 558.30v2.00M224.00 486.14h-2.00M302.81 558.30v2.00M224.00 484.40h-2.00M304.42 558.30v2.00M224.00 482.89h-2.00M305.83 558.30v2.00M224.00 481.56h-2.00M307.10 558.30v3.50M224.00 480.38h-3.50M315.44 558.30v2.00M224.00 472.56h-2.00M320.32 558.30v2.00M224.00 467.98h-2.00M323.78 558.30v2.00M224.00 464.74h-2.00M326.46 558.30v2.00M224.00 462.22h-2.00M328.65 558.30v2.00M224.00 460.16h-2.00M330.51 558.30v2.00M224.00 458.42h-2.00M332.12 558.30v2.00M224.00 456.92h-2.00M333.53 558.30v2.00M224.00 455.59h-2.00M334.80 558.30v2.5M224.00 454.40h-2.5" stroke="#000" stroke-width="1"/><path d="M250.30 454.40V558.30M224.00 532.32H334.80" stroke="#222" stroke-width="1"/><text x="216.70" y="572.30" font-size="8.3" font-weight="bold">10</text><text x="225.70" y="566.30" font-size="6.8" font-weight="bold">0</text><text x="244.40" y="572.30" font-size="8.3" font-weight="bold">10</text><text x="253.40" y="566.30" font-size="6.8" font-weight="bold">1</text><text x="272.10" y="572.30" font-size="8.3" font-weight="bold">10</text><text x="281.10" y="566.30" font-size="6.8" font-weight="bold">2</text><text x="299.80" y="572.30" font-size="8.3" font-weight="bold">10</text><text x="308.80" y="566.30" font-size="6.8" font-weight="bold">3</text><text x="327.50" y="572.30" font-size="8.3" font-weight="bold">10</text><text x="336.50" y="566.30" font-size="6.8" font-weight="bold">4</text><g transform="translate(215.20 558.30) rotate(-90)"><text x="-7.3" y="0" font-size="8.3" font-weight="bold">10</text><text x="1.8" y="-5.3" font-size="6.8" font-weight="bold">0</text></g><g transform="translate(215.20 532.32) rotate(-90)"><text x="-7.3" y="0" font-size="8.3" font-weight="bold">10</text><text x="1.8" y="-5.3" font-size="6.8" font-weight="bold">1</text></g><g transform="translate(215.20 506.35) rotate(-90)"><text x="-7.3" y="0" font-size="8.3" font-weight="bold">10</text><text x="1.8" y="-5.3" font-size="6.8" font-weight="bold">2</text></g><g transform="translate(215.20 480.38) rotate(-90)"><text x="-7.3" y="0" font-size="8.3" font-weight="bold">10</text><text x="1.8" y="-5.3" font-size="6.8" font-weight="bold">3</text></g><g transform="translate(215.20 454.40) rotate(-90)"><text x="-7.3" y="0" font-size="8.3" font-weight="bold">10</text><text x="1.8" y="-5.3" font-size="6.8" font-weight="bold">4</text></g><text x="258.70" y="582.30" font-size="9" font-weight="bold" textLength="41.4" lengthAdjust="spacingAndGlyphs">CD34 FITC</text><text transform="translate(203.50 507.95) rotate(-90)" x="-37.50" font-size="9" font-weight="bold" textLength="75.0" lengthAdjust="spacingAndGlyphs">Anti-HLA-DR PerCP</text><text x="225.80" y="470.90" font-size="8.6" font-weight="bold" letter-spacing="0.65">34%</text><text x="296.80" y="470.90" font-size="8.6" font-weight="bold" letter-spacing="0.65">57%</text><text x="296.80" y="483.90" font-size="8.6" font-weight="bold" letter-spacing="0.00">Day 4</text><text x="306.80" y="550.40" font-size="8.6" font-weight="bold" letter-spacing="0.65">2%</text>
<g fill="none" stroke-width="1"><path d="M0 0.5m426 466h1m0 0h1m3 0h1m20 0h1m-19 1h1m3 0h1m4 1h1m-33 1h1m22 0h1m24 2h1m-25 1h1m19 0h1m-26 1h1m10 0h1m-14 1h1m5 0h1m1 0h1m3 0h1m2 0h1m-12 1h1m6 0h1m5 0h1m1 0h1m-37 1h1m1 0h1m6 0h1m10 0h1m13 0h1m-33 1h1m9 0h1m1 0h1m20 0h1m18 0h1m-52 1h1m1 0h1m1 0h1m-2 1h1m2 0h1m1 0h1m0 0h1m1 0h1m6 0h1m12 0h1m-36 1h1m0 0h1m0 0h1m0 0h1m0 0h1m4 0h1m8 0h1m1 0h1m8 0h1m6 0h1m0 0h1m-40 1h1m9 0h1m9 0h1m29 0h1m-49 1h1m5 0h1m29 0h1m2 0h1m-43 1h1m10 0h1m3 0h1m7 0h1m10 0h1m2 0h1m-33 1h1m2 0h1m1 0h1m2 0h1m0 0h1m1 0h1m2 0h1m7 0h1m5 0h1m4 0h1m-34 1h1m1 0h1m1 0h1m1 0h1m0 0h1m4 0h1m1 0h1m5 0h1m6 0h1m15 0h1m-41 1h1m4 0h1m2 0h1m4 0h1m3 0h1m4 0h1m0 0h1m2 0h1m0 0h1m4 0h1m1 0h1m7 0h1m-55 1h1m9 0h1m4 0h1m0 0h1m11 0h1m11 0h1m8 0h1m3 0h1m-47 1h1m3 0h1m1 0h1m4 0h1m0 0h1m1 0h1m1 0h1m1 0h1m9 0h1m4 0h1m6 0h1m-43 1h1m9 0h1m1 0h1m2 0h1m0 0h1m1 0h1m0 0h1m10 0h1m0 0h1m2 0h1m7 0h1m-51 1h1m11 0h1m5 0h1m1 0h1m1 0h1m8 0h1m2 0h1m2 0h1m5 0h1m4 0h1m3 0h1m-49 1h1m10 0h1m2 0h1m6 0h1m0 0h1m0 0h1m0 0h1m0 0h1m0 0h1m7 0h1m-32 1h1m5 0h1m0 0h1m0 0h1m0 0h1m2 0h1m1 0h1m11 0h1m20 0h1m-41 1h1m1 0h1m2 0h1m0 0h1m1 0h1m0 0h1m8 0h1m2 0h1m8 0h1m13 0h1m-43 1h1m0 0h1m0 0h1m2 0h1m2 0h1m1 0h1m5 0h1m0 0h1m15 0h1m-41 1h1m8 0h1m3 0h1m0 0h1m3 0h1m41 0h1m-56 1h1m3 0h1m0 0h1m0 0h1m0 0h1m1 0h1m0 0h1m1 0h1m15 0h1m-35 1h1m1 0h1m2 0h1m3 0h1m1 0h1m1 0h1m1 0h1m0 0h1m1 0h1m1 0h1m1 0h1m3 0h1m1 0h1m4 0h1m11 0h1m-44 1h1m2 0h1m9 0h1m0 0h1m0 0h1m0 0h1m1 0h1m3 0h1m6 0h1m-25 1h1m1 0h1m5 0h1m0 0h1m0 0h1m7 0h1m9 0h1m-30 1h1m0 0h1m3 0h1m0 0h1m0 0h1m8 0h1m6 0h1m-25 1h1m5 0h1m2 0h1m0 0h1m0 0h1m0 0h1m7 0h1m1 0h1m19 0h1m-38 1h1m2 0h1m0 0h1m1 0h1m0 0h1m1 0h1m21 0h1m-35 1h1m3 0h1m1 0h1m1 0h1m0 0h1m0 0h1m7 0h1m-19 1h1m2 0h1m3 0h1m1 0h1m0 0h1m0 0h1m4 0h1m2 0h1m26 0h1m-49 1h1m1 0h1m1 0h1m0 0h1m1 0h1m0 0h1m0 0h1m0 0h1m0 0h1m0 0h1m0 0h1m0 0h1m5 0h1m16 0h1m-35 1h1m3 0h1m0 0h1m0 0h1m0 0h1m0 0h1m0 0h1m8 0h1m6 0h1m-26 1h1m2 0h1m0 0h1m2 0h1m1 0h1m14 0h1m0 0h1m9 0h1m-31 1h1m1 0h1m0 0h1m0 0h1m0 0h1m0 0h1m0 0h1m-15 1h1m0 0h1m1 0h1m1 0h1m1 0h1m0 0h1m0 0h1m0 0h1m0 0h1m3 0h1m1 0h1m2 0h1m5 0h1m-31 1h1m2 0h1m3 0h1m1 0h1m0 0h1m8 0h1m1 0h1m15 0h1m-35 1h1m2 0h1m1 0h1m1 0h1m0 0h1m0 0h1m0 0h1m0 0h1m0 0h1m4 0h1m7 0h1m-29 1h1m4 0h1m2 0h1m0 0h1m0 0h1m0 0h1m1 0h1m1 0h1m0 0h1m0 0h1m0 0h1m1 0h1m2 0h1m6 0h1m-29 1h1m2 0h1m1 0h1m0 0h1m1 0h1m0 0h1m0 0h1m0 0h1m1 0h1m1 0h1m0 0h1m0 0h1m1 0h1m-20 1h1m2 0h1m0 0h1m1 0h1m0 0h1m0 0h1m0 0h1m0 0h1m0 0h1m0 0h1m0 0h1m1 0h1m0 0h1m1 0h1m0 0h1m-16 1h1m0 0h1m0 0h1m0 0h1m2 0h1m0 0h1m0 0h1m0 0h1m1 0h1m0 0h1m2 0h1m-20 1h1m2 0h1m1 0h1m0 0h1m0 0h1m0 0h1m1 0h1m1 0h1m0 0h1m0 0h1m0 0h1m0 0h1m6 0h1m-24 1h1m5 0h1m0 0h1m0 0h1m1 0h1m0 0h1m0 0h1m1 0h1m0 0h1m1 0h1m0 0h1m-19 1h1m2 0h1m1 0h1m0 0h1m0 0h1m0 0h1m0 0h1m0 0h1m1 0h1m0 0h1m1 0h1m0 0h1m5 0h1m-24 1h1m3 0h1m0 0h1m1 0h1m0 0h1m3 0h1m0 0h1m1 0h1m4 0h1m1 0h1m-18 1h1m0 0h1m0 0h1m0 0h1m0 0h1m0 0h1m0 0h1m0 0h1m0 0h1m1 0h1m2 0h1m0 0h1m2 0h1m8 0h1m-33 1h1m3 0h1m1 0h1m0 0h1m0 0h1m0 0h1m0 0h1m0 0h1m0 0h1m0 0h1m1 0h1m0 0h1m0 0h1m1 0h1m-17 1h1m0 0h1m0 0h1m0 0h1m1 0h1m0 0h1m0 0h1m0 0h1m0 0h1m0 0h1m0 0h1m0 0h1m0 0h1m4 0h1m0 0h1m-18 1h1m1 0h1m0 0h1m0 0h1m0 0h1m0 0h1m0 0h1m0 0h1m0 0h1m1 0h1m1 0h1m0 0h1m0 0h1m0 0h1m0 0h1m0 0h1m-26 1h1m5 0h1m1 0h1m0 0h1m0 0h1m1 0h1m0 0h1m0 0h1m0 0h1m1 0h1m0 0h1m1 0h1m0 0h1m-15 1h1m2 0h1m0 0h1m0 0h1m0 0h1m0 0h1m1 0h1m0 0h1m0 0h1m0 0h1m0 0h1m-16 1h1m2 0h1m1 0h1m1 0h1m0 0h1m0 0h1m0 0h1m1 0h1m2 0h1m3 0h1m-22 1h1m2 0h1m0 0h1m0 0h1m0 0h1m1 0h1m0 0h1m0 0h1m0 0h1m0 0h1m0 0h1m0 0h1m0 0h1m1 0h1m2 0h1m0 0h1m3 0h1m-21 1h1m1 0h1m0 0h1m0 0h1m0 0h1m0 0h1m0 0h1m0 0h1m0 0h1m7 0h1m0 0h1m-22 1h1m1 0h1m0 0h1m1 0h1m1 0h1m0 0h1m1 0h1m0 0h1m1 0h1m4 0h1m4 0h1m-33 1h1m9 0h1m2 0h1m0 0h1m0 0h1m0 0h1m0 0h1m0 0h1m1 0h1m4 0h1m2 0h1m-17 1h1m2 0h1m0 0h1m1 0h1m0 0h1m1 0h1m0 0h1m0 0h1m-13 1h1m1 0h1m0 0h1m1 0h1m0 0h1m3 0h1m0 0h1m0 0h1m1 0h1m0 0h1m1 0h1m2 0h1m-22 1h1m2 0h1m0 0h1m0 0h1m0 0h1m0 0h1m0 0h1m0 0h1m1 0h1m0 0h1m2 0h1m0 0h1m5 0h1m4 0h1m-30 1h1m1 0h1m1 0h1m1 0h1m1 0h1m0 0h1m0 0h1m2 0h1m0 0h1m0 0h1m0 0h1m0 0h1m0 0h1m2 0h1m2 0h1m3 0h1m-24 1h1m0 0h1m0 0h1m0 0h1m1 0h1m0 0h1m2 0h1m2 0h1m1 0h1m2 0h1m2 0h1m-25 1h1m2 0h1m1 0h1m3 0h1m0 0h1m1 0h1m0 0h1m2 0h1m1 0h1m0 0h1m2 0h1m-20 1h1m1 0h1m1 0h1m0 0h1m1 0h1m0 0h1m0 0h1m0 0h1m0 0h1m0 0h1m1 0h1m0 0h1m1 0h1m-23 1h1m2 0h1m1 0h1m0 0h1m0 0h1m0 0h1m1 0h1m0 0h1m3 0h1m0 0h1m1 0h1m1 0h1m0 0h1m0 0h1m1 0h1m1 0h1m-20 1h1m1 0h1m0 0h1m1 0h1m0 0h1m0 0h1m0 0h1m4 0h1m0 0h1m-20 1h1m2 0h1m1 0h1m0 0h1m0 0h1m1 0h1m1 0h1m0 0h1m0 0h1m1 0h1m4 0h1m-19 1h1m1 0h1m0 0h1m1 0h1m1 0h1m1 0h1m-12 1h1m3 0h1m2 0h1m3 0h1m1 0h1m1 0h1m1 0h1m3 0h1m1 0h1m-25 1h1m4 0h1m0 0h1m0 0h1m1 0h1m1 0h1m0 0h1m0 0h1m-8 1h1m7 0h1m1 0h1m10 0h1m-23 1h1m0 0h1m1 0h1m7 0h1m0 0h1m-22 1h1m4 0h1m3 0h1m3 0h1m1 0h1m0 0h1m0 0h1m-9 1h1m1 0h1m2 0h1m4 0h1m0 0h1m0 0h1m8 0h1m-20 1h1m0 0h1m3 0h1m-9 1h1m5 0h1m1 0h1m2 0h1m-12 1h1m1 0h1m4 0h1m0 0h1m0 0h1m11 0h1m-12 1h1m-6 1h1m4 0h1m1 0h1m-15 1h1m1 0h1m5 0h1m0 0h1m-7 1h1m10 0h1m-8 1h1m-3 1h1m1 0h1m0 0h1m-5 1h1m1 0h1m2 0h1m11 0h1m-21 2h1m4 0h1m-1 1h1" stroke="#666"/><path d="M0 0.5m433 465h1m3 0h1m-13 1h1m1 2h1m14 0h1m3 0h1m6 0h1m-35 1h1m16 0h1m0 0h1m11 0h1m12 0h1m-10 1h1m-24 1h1m16 0h1m9 0h1m-16 1h1m8 1h1m-17 1h1m16 0h1m-40 1h1m15 0h1m10 0h1m3 0h1m-38 2h1m11 0h1m2 0h1m13 0h1m0 0h1m0 0h1m1 0h1m7 0h1m6 0h1m-40 1h1m1 0h1m0 0h1m2 0h1m5 0h1m12 0h1m-30 1h1m4 0h1m9 0h1m2 0h1m7 0h1m10 0h1m-43 1h1m11 0h1m0 0h1m0 0h1m4 0h1m8 0h1m12 0h1m-31 1h1m2 0h1m15 0h1m18 0h1m-45 1h1m3 0h1m9 0h1m6 0h1m4 0h1m1 0h1m0 0h1m1 0h1m2 0h1m1 0h1m6 0h1m-36 1h1m1 0h1m1 0h1m3 0h1m1 0h1m1 0h1m8 0h1m1 0h1m13 0h1m-51 1h1m4 0h1m0 0h1m1 0h1m0 0h1m5 0h1m4 0h1m0 0h1m0 0h1m-14 1h1m8 0h1m7 0h1m0 0h1m7 0h1m0 0h1m0 0h1m-32 1h1m0 0h1m5 0h1m0 0h1m1 0h1m7 0h1m11 0h1m5 0h1m-38 1h1m2 0h1m4 0h1m0 0h1m0 0h1m3 0h1m1 0h1m8 0h1m0 0h1m0 0h1m3 0h1m11 0h1m2 0h1m-51 1h1m8 0h1m1 0h1m0 0h1m1 0h1m0 0h1m2 0h1m0 0h1m-23 1h1m7 0h1m7 0h1m4 0h1m0 0h1m9 0h1m4 0h1m2 0h1m2 0h1m10 0h1m13 0h1m-62 1h1m2 0h1m0 0h1m0 0h1m0 0h1m7 0h1m3 0h1m12 0h1m3 0h1m13 0h1m-49 1h1m2 0h1m0 0h1m0 0h1m0 0h1m0 0h1m1 0h1m3 0h1m0 0h1m3 0h1m6 0h1m4 0h1m0 0h1m1 0h1m2 0h1m-42 1h1m3 0h1m1 0h1m3 0h1m2 0h1m8 0h1m6 0h1m0 0h1m17 0h1m6 0h1m-54 1h1m4 0h1m1 0h1m1 0h1m0 0h1m0 0h1m4 0h1m1 0h1m4 0h1m4 0h1m18 0h1m-44 1h1m1 0h1m1 0h1m1 0h1m12 0h1m-22 1h1m2 0h1m0 0h1m0 0h1m0 0h1m2 0h1m3 0h1m1 0h1m1 0h1m4 0h1m5 0h1m0 0h1m-25 1h1m0 0h1m0 0h1m1 0h1m0 0h1m1 0h1m11 0h1m2 0h1m-28 1h1m3 0h1m0 0h1m0 0h1m4 0h1m0 0h1m1 0h1m8 0h1m7 0h1m-29 1h1m0 0h1m0 0h1m1 0h1m1 0h1m0 0h1m0 0h1m0 0h1m3 0h1m-10 1h1m2 0h1m4 0h1m1 0h1m4 0h1m-26 1h1m3 0h1m3 0h1m2 0h1m1 0h1m1 0h1m2 0h1m11 0h1m8 0h1m-35 1h1m2 0h1m0 0h1m1 0h1m0 0h1m1 0h1m0 0h1m37 0h1m-48 1h1m4 0h1m2 0h1m-8 1h1m2 0h1m1 0h1m1 0h1m0 0h1m1 0h1m0 0h1m16 0h1m13 0h1m-48 1h1m2 0h1m3 0h1m0 0h1m0 0h1m0 0h1m3 0h1m0 0h1m0 0h1m2 0h1m-24 1h1m8 0h1m0 0h1m2 0h1m0 0h1m2 0h1m0 0h1m3 0h1m-15 1h1m1 0h1m0 0h1m0 0h1m0 0h1m1 0h1m0 0h1m0 0h1m0 0h1m0 0h1m0 0h1m1 0h1m6 0h1m-20 1h1m0 0h1m0 0h1m1 0h1m1 0h1m0 0h1m0 0h1m4 0h1m-14 1h1m0 0h1m2 0h1m0 0h1m0 0h1m0 0h1m0 0h1m4 0h1m1 0h1m-16 1h1m0 0h1m0 0h1m0 0h1m0 0h1m0 0h1m0 0h1m3 0h1m0 0h1m1 0h1m2 0h1m-20 1h1m1 0h1m0 0h1m0 0h1m2 0h1m0 0h1m0 0h1m0 0h1m0 0h1m0 0h1m0 0h1m23 0h1m-38 1h1m1 0h1m0 0h1m1 0h1m0 0h1m0 0h1m3 0h1m0 0h1m0 0h1m0 0h1m4 0h1m15 0h1m0 0h1m-40 1h1m2 0h1m0 0h1m1 0h1m0 0h1m0 0h1m0 0h1m0 0h1m0 0h1m0 0h1m0 0h1m0 0h1m0 0h1m0 0h1m0 0h1m0 0h1m1 0h1m-18 1h1m0 0h1m0 0h1m0 0h1m0 0h1m0 0h1m1 0h1m1 0h1m0 0h1m0 0h1m1 0h1m1 0h1m0 0h1m4 0h1m-21 1h1m0 0h1m1 0h1m0 0h1m0 0h1m2 0h1m0 0h1m-7 1h1m0 0h1m0 0h1m1 0h1m0 0h1m0 0h1m0 0h1m1 0h1m5 0h1m-21 1h1m1 0h1m1 0h1m0 0h1m0 0h1m0 0h1m0 0h1m0 0h1m0 0h1m2 0h1m0 0h1m0 0h1m1 0h1m5 0h1m-24 1h1m2 0h1m0 0h1m0 0h1m0 0h1m0 0h1m0 0h1m0 0h1m0 0h1m0 0h1m1 0h1m0 0h1m0 0h1m2 0h1m8 0h1m-29 1h1m1 0h1m0 0h1m0 0h1m1 0h1m0 0h1m0 0h1m0 0h1m0 0h1m0 0h1m1 0h1m1 0h1m1 0h1m0 0h1m-19 1h1m1 0h1m1 0h1m0 0h1m0 0h1m0 0h1m0 0h1m0 0h1m1 0h1m0 0h1m1 0h1m1 0h1m2 0h1m-17 1h1m1 0h1m0 0h1m0 0h1m0 0h1m0 0h1m1 0h1m0 0h1m0 0h1m0 0h1m0 0h1m0 0h1m-13 1h1m0 0h1m0 0h1m1 0h1m0 0h1m0 0h1m0 0h1m1 0h1m0 0h1m0 0h1m0 0h1m0 0h1m1 0h1m2 0h1m1 0h1m-24 1h1m1 0h1m0 0h1m2 0h1m0 0h1m0 0h1m0 0h1m0 0h1m0 0h1m0 0h1m0 0h1m1 0h1m0 0h1m2 0h1m34 0h1m-54 1h1m3 0h1m0 0h1m1 0h1m0 0h1m2 0h1m0 0h1m0 0h1m0 0h1m3 0h1m-23 1h1m1 0h1m6 0h1m0 0h1m0 0h1m0 0h1m0 0h1m0 0h1m0 0h1m1 0h1m2 0h1m4 0h1m-28 1h1m4 0h1m1 0h1m1 0h1m0 0h1m0 0h1m0 0h1m1 0h1m1 0h1m0 0h1m0 0h1m0 0h1m0 0h1m1 0h1m0 0h1m0 0h1m-19 1h1m0 0h1m0 0h1m0 0h1m0 0h1m0 0h1m0 0h1m0 0h1m0 0h1m0 0h1m1 0h1m0 0h1m1 0h1m2 0h1m0 0h1m0 0h1m5 0h1m-27 1h1m0 0h1m0 0h1m0 0h1m0 0h1m0 0h1m1 0h1m0 0h1m0 0h1m1 0h1m0 0h1m2 0h1m0 0h1m2 0h1m0 0h1m-22 1h1m3 0h1m0 0h1m0 0h1m1 0h1m0 0h1m0 0h1m1 0h1m0 0h1m4 0h1m-21 1h1m4 0h1m0 0h1m0 0h1m0 0h1m1 0h1m0 0h1m1 0h1m0 0h1m0 0h1m2 0h1m0 0h1m0 0h1m-21 1h1m1 0h1m0 0h1m0 0h1m2 0h1m0 0h1m1 0h1m0 0h1m0 0h1m0 0h1m0 0h1m0 0h1m0 0h1m0 0h1m0 0h1m0 0h1m1 0h1m2 0h1m-22 1h1m4 0h1m0 0h1m0 0h1m0 0h1m0 0h1m0 0h1m0 0h1m1 0h1m0 0h1m0 0h1m0 0h1m5 0h1m3 0h1m-26 1h1m2 0h1m2 0h1m0 0h1m1 0h1m0 0h1m0 0h1m1 0h1m2 0h1m1 0h1m1 0h1m2 0h1m-21 1h1m0 0h1m0 0h1m0 0h1m0 0h1m0 0h1m0 0h1m0 0h1m0 0h1m0 0h1m0 0h1m0 0h1m1 0h1m0 0h1m1 0h1m-21 1h1m1 0h1m1 0h1m2 0h1m0 0h1m1 0h1m0 0h1m0 0h1m0 0h1m1 0h1m0 0h1m0 0h1m0 0h1m3 0h1m0 0h1m-26 1h1m0 0h1m2 0h1m0 0h1m0 0h1m0 0h1m0 0h1m0 0h1m1 0h1m0 0h1m0 0h1m0 0h1m0 0h1m0 0h1m1 0h1m0 0h1m0 0h1m-18 1h1m1 0h1m0 0h1m1 0h1m0 0h1m1 0h1m0 0h1m0 0h1m0 0h1m0 0h1m0 0h1m0 0h1m3 0h1m6 0h1m0 0h1m-26 1h1m3 0h1m2 0h1m0 0h1m0 0h1m0 0h1m2 0h1m2 0h1m0 0h1m1 0h1m-21 1h1m2 0h1m0 0h1m1 0h1m0 0h1m0 0h1m0 0h1m0 0h1m0 0h1m1 0h1m0 0h1m0 0h1m2 0h1m0 0h1m-20 1h1m2 0h1m1 0h1m2 0h1m0 0h1m1 0h1m0 0h1m0 0h1m0 0h1m1 0h1m0 0h1m3 0h1m-23 1h1m4 0h1m0 0h1m0 0h1m0 0h1m0 0h1m0 0h1m0 0h1m2 0h1m0 0h1m6 0h1m-22 1h1m0 0h1m1 0h1m2 0h1m0 0h1m0 0h1m2 0h1m0 0h1m0 0h1m1 0h1m0 0h1m3 0h1m5 0h1m-26 1h1m2 0h1m0 0h1m0 0h1m1 0h1m2 0h1m3 0h1m3 0h1m5 0h1m-25 1h1m0 0h1m0 0h1m1 0h1m4 0h1m1 0h1m0 0h1m0 0h1m5 0h1m-18 1h1m0 0h1m5 0h1m2 0h1m0 0h1m1 0h1m-13 1h1m2 0h1m0 0h1m-6 1h1m2 0h1m2 0h1m4 0h1m1 0h1m3 0h1m-19 1h1m5 0h1m4 0h1m-10 1h1m0 0h1m7 0h1m-5 1h1m0 0h1m0 0h1m-14 1h1m2 0h1m5 0h1m1 0h1m5 0h1m-14 1h1m3 0h1m5 0h1m3 1h1m-13 1h1m3 0h1m-4 1h1m0 0h1m2 0h1m2 0h1m-6 1h1m1 0h1m2 0h1m27 0h1m-31 1h1m-4 1h1m0 0h1m-11 2h1m8 0h1m3 0h1m0 0h1m-10 1h1m14 0h1" stroke="#3c3c3c"/><path d="M0 0.5m469 462h1m-44 2h1m3 0h1m30 1h1m-34 3h1m17 2h1m1 0h1m-15 2h1m2 0h1m-20 1h1m1 0h1m5 0h1m25 0h1m-18 1h1m2 0h1m11 0h1m-38 1h1m19 0h1m16 0h1m11 0h1m-41 2h1m4 0h1m-11 1h1m3 0h1m5 0h1m1 0h1m0 0h1m7 0h1m2 0h1m1 0h1m1 0h1m0 0h1m-31 1h1m1 0h1m27 0h1m-28 1h1m20 0h1m1 0h1m0 0h1m-27 1h1m4 0h1m2 0h1m1 0h1m20 0h1m5 0h1m0 0h1m6 0h1m-47 1h1m17 0h1m0 0h1m0 0h1m-30 1h1m1 0h1m3 0h1m1 0h1m3 0h1m4 0h1m4 0h1m11 0h1m3 0h1m-37 1h1m5 0h1m1 0h1m1 0h1m1 0h1m0 0h1m0 0h1m1 0h1m5 0h1m15 0h1m12 0h1m-52 1h1m5 0h1m1 0h1m0 0h1m1 0h1m0 0h1m2 0h1m1 0h1m7 0h1m8 0h1m0 0h1m6 0h1m9 0h1m-51 1h1m0 0h1m3 0h1m8 0h1m2 0h1m12 0h1m2 0h1m7 0h1m8 0h1m-51 1h1m1 0h1m4 0h1m1 0h1m19 0h1m-31 1h1m2 0h1m2 0h1m1 0h1m2 0h1m5 0h1m10 0h1m1 0h1m1 0h1m-36 1h1m1 0h1m5 0h1m0 0h1m1 0h1m0 0h1m4 0h1m2 0h1m0 0h1m6 0h1m6 0h1m0 0h1m12 0h1m-43 1h1m0 0h1m2 0h1m0 0h1m3 0h1m0 0h1m5 0h1m5 0h1m4 0h1m12 0h1m-44 1h1m2 0h1m0 0h1m2 0h1m0 0h1m1 0h1m0 0h1m2 0h1m6 0h1m6 0h1m8 0h1m5 0h1m7 0h1m-55 1h1m2 0h1m0 0h1m4 0h1m1 0h1m0 0h1m0 0h1m0 0h1m0 0h1m0 0h1m4 0h1m5 0h1m1 0h1m5 0h1m-30 1h1m0 0h1m0 0h1m3 0h1m1 0h1m1 0h1m8 0h1m6 0h1m-37 1h1m9 0h1m1 0h1m4 0h1m0 0h1m1 0h1m1 0h1m3 0h1m2 0h1m1 0h1m0 0h1m0 0h1m4 0h1m0 0h1m-27 1h1m0 0h1m2 0h1m0 0h1m0 0h1m0 0h1m2 0h1m0 0h1m21 0h1m-35 1h1m1 0h1m0 0h1m1 0h1m0 0h1m0 0h1m0 0h1m10 0h1m-28 1h1m4 0h1m0 0h1m3 0h1m3 0h1m2 0h1m1 0h1m7 0h1m3 0h1m-23 1h1m1 0h1m0 0h1m7 0h1m3 0h1m23 0h1m-52 1h1m8 0h1m0 0h1m0 0h1m1 0h1m0 0h1m1 0h1m1 0h1m0 0h1m0 0h1m11 0h1m0 0h1m0 0h1m-29 1h1m3 0h1m2 0h1m1 0h1m0 0h1m0 0h1m0 0h1m4 0h1m2 0h1m9 0h1m14 0h1m-49 1h1m6 0h1m1 0h1m0 0h1m1 0h1m0 0h1m0 0h1m2 0h1m2 0h1m0 0h1m39 0h1m-60 1h1m5 0h1m0 0h1m3 0h1m2 0h1m0 0h1m2 0h1m1 0h1m-12 1h1m0 0h1m1 0h1m0 0h1m1 0h1m0 0h1m1 0h1m2 0h1m15 0h1m6 0h1m-43 1h1m0 0h1m1 0h1m4 0h1m7 0h1m0 0h1m-16 1h1m1 0h1m1 0h1m0 0h1m0 0h1m0 0h1m1 0h1m1 0h1m1 0h1m1 0h1m5 0h1m7 0h1m16 0h1m-47 1h1m2 0h1m0 0h1m0 0h1m1 0h1m0 0h1m0 0h1m1 0h1m1 0h1m0 0h1m0 0h1m1 0h1m20 0h1m-39 1h1m0 0h1m1 0h1m3 0h1m0 0h1m0 0h1m1 0h1m1 0h1m4 0h1m-23 1h1m8 0h1m0 0h1m0 0h1m0 0h1m0 0h1m2 0h1m1 0h1m0 0h1m2 0h1m5 0h1m-30 1h1m1 0h1m5 0h1m0 0h1m1 0h1m0 0h1m1 0h1m2 0h1m0 0h1m1 0h1m4 0h1m-17 1h1m0 0h1m1 0h1m0 0h1m0 0h1m0 0h1m2 0h1m0 0h1m-16 1h1m1 0h1m0 0h1m0 0h1m0 0h1m0 0h1m0 0h1m0 0h1m0 0h1m0 0h1m0 0h1m0 0h1m43 0h1m-56 1h1m1 0h1m0 0h1m0 0h1m0 0h1m0 0h1m2 0h1m1 0h1m-9 1h1m1 0h1m0 0h1m0 0h1m0 0h1m0 0h1m0 0h1m0 0h1m2 0h1m1 0h1m-19 1h1m3 0h1m1 0h1m0 0h1m0 0h1m0 0h1m1 0h1m0 0h1m1 0h1m1 0h1m0 0h1m-13 1h1m0 0h1m2 0h1m0 0h1m0 0h1m0 0h1m1 0h1m0 0h1m1 0h1m0 0h1m1 0h1m-20 1h1m0 0h1m2 0h1m0 0h1m1 0h1m0 0h1m0 0h1m0 0h1m0 0h1m1 0h1m0 0h1m0 0h1m4 0h1m-19 1h1m0 0h1m1 0h1m0 0h1m0 0h1m1 0h1m0 0h1m1 0h1m0 0h1m1 0h1m4 0h1m-22 1h1m3 0h1m1 0h1m1 0h1m0 0h1m0 0h1m0 0h1m0 0h1m0 0h1m0 0h1m0 0h1m1 0h1m1 0h1m-17 1h1m0 0h1m0 0h1m0 0h1m0 0h1m0 0h1m0 0h1m0 0h1m0 0h1m1 0h1m0 0h1m0 0h1m1 0h1m-17 1h1m2 0h1m0 0h1m0 0h1m0 0h1m3 0h1m0 0h1m0 0h1m1 0h1m0 0h1m0 0h1m-21 1h1m7 0h1m0 0h1m0 0h1m1 0h1m1 0h1m0 0h1m0 0h1m0 0h1m0 0h1m0 0h1m0 0h1m0 0h1m0 0h1m0 0h1m0 0h1m1 0h1m-23 1h1m2 0h1m0 0h1m0 0h1m0 0h1m0 0h1m0 0h1m0 0h1m2 0h1m1 0h1m0 0h1m-16 1h1m0 0h1m0 0h1m1 0h1m0 0h1m1 0h1m0 0h1m1 0h1m0 0h1m0 0h1m0 0h1m1 0h1m3 0h1m-19 1h1m0 0h1m1 0h1m0 0h1m0 0h1m0 0h1m0 0h1m0 0h1m0 0h1m3 0h1m1 0h1m0 0h1m2 0h1m3 0h1m-23 1h1m1 0h1m0 0h1m1 0h1m0 0h1m0 0h1m2 0h1m0 0h1m2 0h1m3 0h1m-20 1h1m0 0h1m0 0h1m0 0h1m0 0h1m0 0h1m0 0h1m1 0h1m0 0h1m1 0h1m1 0h1m0 0h1m-16 1h1m1 0h1m0 0h1m0 0h1m0 0h1m0 0h1m0 0h1m0 0h1m0 0h1m0 0h1m0 0h1m1 0h1m1 0h1m4 0h1m3 0h1m1 0h1m-29 1h1m5 0h1m1 0h1m2 0h1m1 0h1m0 0h1m2 0h1m1 0h1m2 0h1m-21 1h1m1 0h1m0 0h1m0 0h1m0 0h1m0 0h1m0 0h1m0 0h1m0 0h1m0 0h1m0 0h1m0 0h1m1 0h1m1 0h1m1 0h1m11 0h1m-30 1h1m1 0h1m0 0h1m1 0h1m0 0h1m0 0h1m0 0h1m1 0h1m0 0h1m1 0h1m1 0h1m0 0h1m0 0h1m0 0h1m6 0h1m-26 1h1m0 0h1m1 0h1m0 0h1m0 0h1m0 0h1m0 0h1m1 0h1m1 0h1m0 0h1m1 0h1m0 0h1m0 0h1m1 0h1m1 0h1m-22 1h1m1 0h1m5 0h1m0 0h1m0 0h1m1 0h1m0 0h1m6 0h1m2 0h1m-28 1h1m4 0h1m0 0h1m0 0h1m0 0h1m0 0h1m0 0h1m1 0h1m0 0h1m2 0h1m0 0h1m0 0h1m1 0h1m2 0h1m0 0h1m0 0h1m5 0h1m-24 1h1m0 0h1m2 0h1m0 0h1m0 0h1m0 0h1m2 0h1m0 0h1m0 0h1m1 0h1m1 0h1m0 0h1m25 0h1m-46 1h1m0 0h1m0 0h1m1 0h1m0 0h1m0 0h1m0 0h1m0 0h1m0 0h1m4 0h1m2 0h1m0 0h1m1 0h1m2 0h1m0 0h1m-24 1h1m0 0h1m1 0h1m1 0h1m0 0h1m0 0h1m1 0h1m2 0h1m1 0h1m0 0h1m1 0h1m1 0h1m-20 1h1m1 0h1m0 0h1m1 0h1m0 0h1m1 0h1m2 0h1m0 0h1m1 0h1m2 0h1m-19 1h1m0 0h1m1 0h1m0 0h1m1 0h1m0 0h1m4 0h1m1 0h1m-21 1h1m4 0h1m0 0h1m3 0h1m0 0h1m0 0h1m0 0h1m0 0h1m0 0h1m2 0h1m0 0h1m1 0h1m6 0h1m1 0h1m-26 1h1m2 0h1m0 0h1m1 0h1m1 0h1m1 0h1m1 0h1m0 0h1m-13 1h1m1 0h1m1 0h1m1 0h1m0 0h1m0 0h1m1 0h1m0 0h1m0 0h1m0 0h1m3 0h1m0 0h1m-21 1h1m2 0h1m1 0h1m1 0h1m0 0h1m2 0h1m4 0h1m3 0h1m-21 1h1m4 0h1m1 0h1m1 0h1m3 0h1m4 0h1m-15 1h1m1 0h1m4 0h1m11 0h1m-18 1h1m1 0h1m1 0h1m3 0h1m1 0h1m-16 1h1m3 0h1m0 0h1m3 0h1m1 0h1m1 0h1m-12 1h1m0 0h1m3 0h1m1 0h1m2 0h1m-8 1h1m0 0h1m0 0h1m0 0h1m0 0h1m0 0h1m1 0h1m0 0h1m49 0h1m-60 1h1m5 0h1m1 0h1m1 1h1m6 0h1m-12 1h1m21 0h1m-34 1h1m5 0h1m9 0h1m-10 1h1m1 0h1m4 0h1m15 0h1m-29 1h1m5 0h1m2 0h1m0 0h1m-6 1h1m3 0h1m0 0h1m0 0h1m-11 2h1m6 0h1m5 0h1m3 0h1m-22 1h1m2 0h1m4 0h1m3 0h1m-4 1h1m1 0h1m1 0h1m-12 1h1m3 0h1m4 0h1" stroke="#222"/><path d="M0 0.5m436 457h1m12 2h1m-6 1h1m5 1h1m-4 1h1m-23 3h1m21 2h1m-23 1h1m17 0h1m2 0h1m-9 2h1m4 0h1m7 0h1m-29 1h1m8 1h1m2 0h1m11 0h1m-34 1h1m25 0h1m12 0h1m-39 1h1m1 0h1m32 0h1m-35 1h1m8 0h1m12 0h1m5 0h1m-14 1h1m0 0h1m21 0h1m-42 1h1m3 0h1m9 0h1m12 0h1m-19 1h1m3 0h1m4 0h1m9 0h1m5 0h1m8 0h1m-35 1h1m18 0h1m5 0h1m0 0h1m-36 1h1m1 0h1m4 0h1m-13 1h1m5 0h1m0 0h1m3 0h1m1 0h1m9 0h1m15 0h1m3 0h1m6 0h1m-46 1h1m1 0h1m0 0h1m7 0h1m22 0h1m4 0h1m14 0h1m-56 1h1m4 0h1m0 0h1m11 0h1m4 0h1m8 0h1m1 0h1m-37 1h1m4 0h1m4 0h1m4 0h1m0 0h1m10 0h1m12 0h1m-32 1h1m0 0h1m0 0h1m1 0h1m1 0h1m-16 1h1m0 0h1m5 0h1m0 0h1m0 0h1m2 0h1m10 0h1m4 0h1m4 0h1m8 0h1m-47 1h1m2 0h1m3 0h1m1 0h1m0 0h1m1 0h1m1 0h1m1 0h1m2 0h1m10 0h1m4 0h1m2 0h1m12 0h1m-43 1h1m0 0h1m7 0h1m2 0h1m18 0h1m-31 1h1m0 0h1m1 0h1m5 0h1m8 0h1m8 0h1m5 0h1m5 0h1m0 0h1m-46 1h1m7 0h1m3 0h1m0 0h1m1 0h1m9 0h1m18 0h1m-39 1h1m1 0h1m0 0h1m3 0h1m1 0h1m4 0h1m6 0h1m2 0h1m2 0h1m0 0h1m0 0h1m-39 1h1m3 0h1m4 0h1m6 0h1m5 0h1m5 0h1m1 0h1m6 0h1m1 0h1m6 0h1m-45 1h1m4 0h1m1 0h1m1 0h1m0 0h1m5 0h1m0 0h1m6 0h1m9 0h1m0 0h1m-35 1h1m2 0h1m0 0h1m1 0h1m0 0h1m2 0h1m0 0h1m1 0h1m2 0h1m0 0h1m0 0h1m-15 1h1m2 0h1m0 0h1m0 0h1m0 0h1m0 0h1m1 0h1m0 0h1m0 0h1m8 0h1m11 0h1m2 0h1m-39 1h1m0 0h1m3 0h1m2 0h1m4 0h1m2 0h1m1 0h1m9 0h1m2 0h1m3 0h1m-30 1h1m1 0h1m1 0h1m14 0h1m-23 1h1m1 0h1m0 0h1m0 0h1m2 0h1m1 0h1m3 0h1m8 0h1m0 0h1m4 0h1m6 0h1m-42 1h1m0 0h1m7 0h1m1 0h1m9 0h1m7 0h1m6 0h1m0 0h1m1 0h1m0 0h1m-44 1h1m13 0h1m0 0h1m1 0h1m4 0h1m2 0h1m26 0h1m3 0h1m-47 1h1m3 0h1m2 0h1m7 0h1m9 0h1m10 0h1m0 0h1m-38 1h1m0 0h1m0 0h1m1 0h1m0 0h1m0 0h1m1 0h1m1 0h1m7 0h1m-20 1h1m0 0h1m1 0h1m0 0h1m0 0h1m0 0h1m1 0h1m1 0h1m1 0h1m2 0h1m1 0h1m0 0h1m5 0h1m7 0h1m-38 1h1m7 0h1m1 0h1m1 0h1m1 0h1m21 0h1m-35 1h1m0 0h1m2 0h1m3 0h1m0 0h1m0 0h1m4 0h1m1 0h1m-16 1h1m0 0h1m0 0h1m1 0h1m1 0h1m0 0h1m1 0h1m0 0h1m0 0h1m1 0h1m0 0h1m6 0h1m11 0h1m-34 1h1m0 0h1m0 0h1m0 0h1m0 0h1m0 0h1m1 0h1m0 0h1m3 0h1m1 0h1m2 0h1m2 0h1m-21 1h1m1 0h1m6 0h1m0 0h1m0 0h1m0 0h1m0 0h1m0 0h1m5 0h1m11 0h1m8 0h1m-40 1h1m0 0h1m1 0h1m0 0h1m2 0h1m3 0h1m0 0h1m1 0h1m10 0h1m-27 1h1m3 0h1m0 0h1m0 0h1m1 0h1m2 0h1m2 0h1m0 0h1m4 0h1m-20 1h1m1 0h1m0 0h1m0 0h1m0 0h1m0 0h1m2 0h1m0 0h1m1 0h1m1 0h1m-18 1h1m0 0h1m1 0h1m1 0h1m0 0h1m1 0h1m0 0h1m1 0h1m1 0h1m2 0h1m28 0h1m-50 1h1m8 0h1m1 0h1m2 0h1m1 0h1m1 0h1m0 0h1m1 0h1m9 0h1m1 0h1m-26 1h1m2 0h1m0 0h1m1 0h1m0 0h1m0 0h1m0 0h1m0 0h1m2 0h1m1 0h1m-19 1h1m1 0h1m1 0h1m0 0h1m0 0h1m0 0h1m0 0h1m1 0h1m2 0h1m9 0h1m-24 1h1m0 0h1m0 0h1m0 0h1m0 0h1m1 0h1m1 0h1m0 0h1m0 0h1m0 0h1m0 0h1m0 0h1m15 0h1m-32 1h1m3 0h1m0 0h1m0 0h1m1 0h1m0 0h1m1 0h1m0 0h1m0 0h1m0 0h1m1 0h1m0 0h1m5 0h1m-23 1h1m0 0h1m1 0h1m0 0h1m0 0h1m0 0h1m0 0h1m0 0h1m0 0h1m1 0h1m0 0h1m0 0h1m0 0h1m1 0h1m1 0h1m-16 1h1m0 0h1m0 0h1m0 0h1m1 0h1m0 0h1m0 0h1m0 0h1m3 0h1m-13 1h1m2 0h1m1 0h1m0 0h1m0 0h1m1 0h1m0 0h1m0 0h1m3 0h1m0 0h1m2 0h1m1 0h1m8 0h1m-32 1h1m1 0h1m0 0h1m1 0h1m4 0h1m0 0h1m0 0h1m2 0h1m4 0h1m-28 1h1m8 0h1m0 0h1m0 0h1m1 0h1m0 0h1m0 0h1m1 0h1m1 0h1m0 0h1m2 0h1m6 0h1m2 0h1m-32 1h1m1 0h1m3 0h1m0 0h1m0 0h1m1 0h1m0 0h1m0 0h1m0 0h1m0 0h1m0 0h1m0 0h1m2 0h1m0 0h1m1 0h1m-21 1h1m0 0h1m2 0h1m1 0h1m0 0h1m0 0h1m0 0h1m0 0h1m0 0h1m0 0h1m1 0h1m1 0h1m-15 1h1m4 0h1m0 0h1m1 0h1m0 0h1m1 0h1m1 0h1m0 0h1m0 0h1m0 0h1m0 0h1m1 0h1m2 0h1m-28 1h1m7 0h1m2 0h1m1 0h1m1 0h1m4 0h1m0 0h1m0 0h1m0 0h1m-22 1h1m2 0h1m0 0h1m1 0h1m0 0h1m0 0h1m0 0h1m0 0h1m1 0h1m0 0h1m0 0h1m0 0h1m0 0h1m0 0h1m0 0h1m0 0h1m4 0h1m-21 1h1m2 0h1m0 0h1m1 0h1m0 0h1m0 0h1m0 0h1m0 0h1m3 0h1m0 0h1m3 0h1m2 0h1m26 0h1m-55 1h1m4 0h1m0 0h1m0 0h1m0 0h1m0 0h1m0 0h1m0 0h1m0 0h1m0 0h1m1 0h1m0 0h1m0 0h1m-14 1h1m2 0h1m0 0h1m1 0h1m0 0h1m0 0h1m4 0h1m2 0h1m2 0h1m0 0h1m-27 1h1m0 0h1m1 0h1m1 0h1m0 0h1m1 0h1m0 0h1m2 0h1m0 0h1m1 0h1m0 0h1m0 0h1m1 0h1m0 0h1m1 0h1m0 0h1m1 0h1m-21 1h1m0 0h1m0 0h1m0 0h1m1 0h1m1 0h1m1 0h1m0 0h1m0 0h1m1 0h1m0 0h1m0 0h1m0 0h1m1 0h1m1 0h1m1 0h1m2 0h1m29 0h1m-53 1h1m0 0h1m0 0h1m4 0h1m0 0h1m0 0h1m0 0h1m0 0h1m0 0h1m6 0h1m8 0h1m-30 1h1m1 0h1m0 0h1m1 0h1m0 0h1m0 0h1m0 0h1m0 0h1m0 0h1m0 0h1m2 0h1m3 0h1m3 0h1m-21 1h1m1 0h1m0 0h1m1 0h1m1 0h1m0 0h1m0 0h1m0 0h1m2 0h1m0 0h1m2 0h1m9 0h1m-36 1h1m5 0h1m1 0h1m0 0h1m3 0h1m0 0h1m0 0h1m1 0h1m0 0h1m3 0h1m0 0h1m4 0h1m-25 1h1m5 0h1m0 0h1m3 0h1m0 0h1m0 0h1m2 0h1m1 0h1m0 0h1m0 0h1m-24 1h1m5 0h1m2 0h1m1 0h1m2 0h1m0 0h1m0 0h1m0 0h1m7 0h1m-25 1h1m4 0h1m2 0h1m1 0h1m1 0h1m3 0h1m5 0h1m-20 1h1m1 0h1m3 0h1m0 0h1m2 0h1m2 0h1m1 0h1m0 0h1m0 0h1m7 0h1m5 0h1m-30 1h1m2 0h1m0 0h1m1 0h1m1 0h1m11 0h1m-19 1h1m1 0h1m0 0h1m1 0h1m0 0h1m0 0h1m0 0h1m0 0h1m1 0h1m5 0h1m-20 1h1m0 0h1m2 0h1m0 0h1m0 0h1m0 0h1m0 0h1m2 0h1m25 0h1m-40 1h1m0 0h1m5 0h1m0 0h1m1 0h1m0 0h1m-11 1h1m3 0h1m0 0h1m0 0h1m0 0h1m0 0h1m4 0h1m1 0h1m-14 1h1m2 0h1m7 0h1m3 0h1m-18 1h1m1 0h1m0 0h1m2 0h1m4 0h1m2 0h1m1 0h1m-17 1h1m0 0h1m0 0h1m0 0h1m1 0h1m1 0h1m0 0h1m3 0h1m4 0h1m4 0h1m-23 1h1m2 0h1m1 0h1m-2 1h1m3 0h1m1 0h1m-6 1h1m1 0h1m0 0h1m-6 1h1m0 0h1m1 0h1m0 0h1m0 0h1m5 0h1m-9 1h1m2 0h1m-4 1h1m0 0h1m0 0h1m9 0h1m-17 1h1m1 0h1m-7 1h1m3 0h1m8 1h1m0 0h1m-11 2h1m-4 1h1m0 0h1m2 0h1m4 0h1m6 0h1" stroke="#111"/></g>
<rect x="398.00" y="456.50" width="113.40" height="105.50" fill="none" stroke="#111" stroke-width="1.3"/><path d="M398.00 456.50V562.00H511.40" fill="none" stroke="#000" stroke-width="2"/><path d="M398.00 562.00v3.50M398.00 562.00h-3.50M406.53 562.00v2.00M398.00 554.06h-2.00M411.53 562.00v2.00M398.00 549.42h-2.00M415.07 562.00v2.00M398.00 546.12h-2.00M417.82 562.00v2.00M398.00 543.56h-2.00M420.06 562.00v2.00M398.00 541.48h-2.00M421.96 562.00v2.00M398.00 539.71h-2.00M423.60 562.00v2.00M398.00 538.18h-2.00M425.05 562.00v2.00M398.00 536.83h-2.00M426.35 562.00v3.50M398.00 535.62h-3.50M434.88 562.00v2.00M398.00 527.69h-2.00M439.88 562.00v2.00M398.00 523.04h-2.00M443.42 562.00v2.00M398.00 519.75h-2.00M446.17 562.00v2.00M398.00 517.19h-2.00M448.41 562.00v2.00M398.00 515.10h-2.00M450.31 562.00v2.00M398.00 513.34h-2.00M451.95 562.00v2.00M398.00 511.81h-2.00M453.40 562.00v2.00M398.00 510.46h-2.00M454.70 562.00v3.50M398.00 509.25h-3.50M463.23 562.00v2.00M398.00 501.31h-2.00M468.23 562.00v2.00M398.00 496.67h-2.00M471.77 562.00v2.00M398.00 493.37h-2.00M474.52 562.00v2.00M398.00 490.81h-2.00M476.76 562.00v2.00M398.00 488.73h-2.00M478.66 562.00v2.00M398.00 486.96h-2.00M480.30 562.00v2.00M398.00 485.43h-2.00M481.75 562.00v2.00M398.00 484.08h-2.00M483.05 562.00v3.50M398.00 482.88h-3.50M491.58 562.00v2.00M398.00 474.94h-2.00M496.58 562.00v2.00M398.00 470.29h-2.00M500.12 562.00v2.00M398.00 467.00h-2.00M502.87 562.00v2.00M398.00 464.44h-2.00M505.11 562.00v2.00M398.00 462.35h-2.00M507.01 562.00v2.00M398.00 460.59h-2.00M508.65 562.00v2.00M398.00 459.06h-2.00M510.10 562.00v2.00M398.00 457.71h-2.00M511.40 562.00v2.5M398.00 456.50h-2.5" stroke="#000" stroke-width="1"/><path d="M424.90 456.50V562.00M398.00 535.00H511.40" stroke="#222" stroke-width="1"/><text x="390.70" y="576.00" font-size="8.3" font-weight="bold">10</text><text x="399.70" y="570.00" font-size="6.8" font-weight="bold">0</text><text x="419.05" y="576.00" font-size="8.3" font-weight="bold">10</text><text x="428.05" y="570.00" font-size="6.8" font-weight="bold">1</text><text x="447.40" y="576.00" font-size="8.3" font-weight="bold">10</text><text x="456.40" y="570.00" font-size="6.8" font-weight="bold">2</text><text x="475.75" y="576.00" font-size="8.3" font-weight="bold">10</text><text x="484.75" y="570.00" font-size="6.8" font-weight="bold">3</text><text x="504.10" y="576.00" font-size="8.3" font-weight="bold">10</text><text x="513.10" y="570.00" font-size="6.8" font-weight="bold">4</text><g transform="translate(389.20 562.00) rotate(-90)"><text x="-7.3" y="0" font-size="8.3" font-weight="bold">10</text><text x="1.8" y="-5.3" font-size="6.8" font-weight="bold">0</text></g><g transform="translate(389.20 535.62) rotate(-90)"><text x="-7.3" y="0" font-size="8.3" font-weight="bold">10</text><text x="1.8" y="-5.3" font-size="6.8" font-weight="bold">1</text></g><g transform="translate(389.20 509.25) rotate(-90)"><text x="-7.3" y="0" font-size="8.3" font-weight="bold">10</text><text x="1.8" y="-5.3" font-size="6.8" font-weight="bold">2</text></g><g transform="translate(389.20 482.88) rotate(-90)"><text x="-7.3" y="0" font-size="8.3" font-weight="bold">10</text><text x="1.8" y="-5.3" font-size="6.8" font-weight="bold">3</text></g><g transform="translate(389.20 456.50) rotate(-90)"><text x="-7.3" y="0" font-size="8.3" font-weight="bold">10</text><text x="1.8" y="-5.3" font-size="6.8" font-weight="bold">4</text></g><text x="434.00" y="586.00" font-size="9" font-weight="bold" textLength="41.4" lengthAdjust="spacingAndGlyphs">CD34-FITC</text><text transform="translate(377.50 510.85) rotate(-90)" x="-37.50" font-size="9" font-weight="bold" textLength="75.0" lengthAdjust="spacingAndGlyphs">Anti-HLA-DR PerCP</text><text x="399.80" y="473.40" font-size="8.6" font-weight="bold" letter-spacing="0.65">40%</text><text x="468.80" y="475.40" font-size="8.6" font-weight="bold" letter-spacing="0.65">18%</text><text x="467.80" y="486.90" font-size="8.6" font-weight="bold" letter-spacing="0.00">Day 6</text><text x="479.30" y="554.40" font-size="8.6" font-weight="bold" letter-spacing="0.65">20%</text>
<g fill="none" stroke-width="1"><path d="M0 0.5m88 692h1m-32 2h1m15 3h1m0 0h1m-26 1h1m32 0h1m-10 1h1m4 0h1m2 0h1m0 0h1m-5 1h1m2 0h1m0 0h1m0 0h1m-18 1h1m11 0h1m0 0h1m0 0h1m2 0h1m0 0h1m0 0h1m-17 1h1m4 0h1m1 0h1m1 0h1m0 0h1m1 0h1m0 0h1m0 0h1m0 0h1m0 0h1m0 0h1m-16 1h1m2 0h1m1 0h1m0 0h1m1 0h1m0 0h1m2 0h1m0 0h1m0 0h1m0 0h1m0 0h1m0 0h1m-21 1h1m6 0h1m0 0h1m1 0h1m0 0h1m0 0h1m0 0h1m0 0h1m1 0h1m0 0h1m-12 1h1m2 0h1m0 0h1m0 0h1m0 0h1m0 0h1m0 0h1m1 0h1m0 0h1m0 0h1m1 0h1m-26 1h1m10 0h1m2 0h1m1 0h1m0 0h1m0 0h1m0 0h1m0 0h1m1 0h1m2 0h1m-23 1h1m1 0h1m0 0h1m1 0h1m3 0h1m0 0h1m0 0h1m1 0h1m0 0h1m0 0h1m2 0h1m0 0h1m0 0h1m1 0h1m-31 1h1m11 0h1m2 0h1m2 0h1m0 0h1m0 0h1m1 0h1m0 0h1m1 0h1m0 0h1m1 0h1m-23 1h1m3 0h1m3 0h1m0 0h1m0 0h1m0 0h1m1 0h1m0 0h1m1 0h1m0 0h1m2 0h1m5 0h1m-32 1h1m5 0h1m0 0h1m0 0h1m3 0h1m0 0h1m0 0h1m2 0h1m0 0h1m2 0h1m1 0h1m0 0h1m0 0h1m1 0h1m1 0h1m-28 1h1m4 0h1m0 0h1m0 0h1m0 0h1m3 0h1m0 0h1m1 0h1m5 0h1m1 0h1m-23 1h1m3 0h1m2 0h1m0 0h1m0 0h1m0 0h1m0 0h1m0 0h1m0 0h1m0 0h1m1 0h1m0 0h1m0 0h1m-21 1h1m2 0h1m0 0h1m0 0h1m0 0h1m1 0h1m0 0h1m0 0h1m3 0h1m0 0h1m2 0h1m1 0h1m0 0h1m0 0h1m2 0h1m-31 1h1m2 0h1m2 0h1m0 0h1m1 0h1m0 0h1m0 0h1m2 0h1m0 0h1m2 0h1m0 0h1m0 0h1m5 0h1m2 0h1m0 0h1m-26 1h1m2 0h1m1 0h1m0 0h1m0 0h1m0 0h1m0 0h1m0 0h1m0 0h1m1 0h1m0 0h1m0 0h1m1 0h1m2 0h1m1 0h1m-21 1h1m4 0h1m2 0h1m1 0h1m1 0h1m0 0h1m0 0h1m6 0h1m-36 1h1m7 0h1m1 0h1m1 0h1m0 0h1m1 0h1m0 0h1m0 0h1m0 0h1m0 0h1m0 0h1m0 0h1m0 0h1m0 0h1m0 0h1m1 0h1m0 0h1m0 0h1m0 0h1m-26 1h1m4 0h1m0 0h1m0 0h1m0 0h1m0 0h1m0 0h1m0 0h1m0 0h1m0 0h1m0 0h1m0 0h1m0 0h1m0 0h1m0 0h1m0 0h1m1 0h1m1 0h1m0 0h1m0 0h1m3 0h1m1 0h1m-29 1h1m1 0h1m0 0h1m2 0h1m0 0h1m0 0h1m0 0h1m0 0h1m1 0h1m0 0h1m0 0h1m1 0h1m0 0h1m0 0h1m-19 1h1m1 0h1m0 0h1m0 0h1m0 0h1m0 0h1m1 0h1m0 0h1m0 0h1m1 0h1m0 0h1m2 0h1m0 0h1m0 0h1m0 0h1m-24 1h1m3 0h1m1 0h1m0 0h1m0 0h1m0 0h1m2 0h1m0 0h1m0 0h1m0 0h1m0 0h1m1 0h1m1 0h1m0 0h1m0 0h1m0 0h1m1 0h1m3 0h1m-29 1h1m3 0h1m0 0h1m3 0h1m1 0h1m0 0h1m0 0h1m0 0h1m1 0h1m0 0h1m1 0h1m1 0h1m1 0h1m0 0h1m2 0h1m0 0h1m-36 1h1m7 0h1m0 0h1m0 0h1m0 0h1m0 0h1m2 0h1m0 0h1m0 0h1m0 0h1m0 0h1m0 0h1m0 0h1m0 0h1m0 0h1m0 0h1m0 0h1m0 0h1m0 0h1m0 0h1m-19 1h1m1 0h1m0 0h1m0 0h1m0 0h1m0 0h1m0 0h1m0 0h1m0 0h1m0 0h1m0 0h1m1 0h1m0 0h1m0 0h1m0 0h1m1 0h1m-24 1h1m1 0h1m2 0h1m0 0h1m3 0h1m0 0h1m0 0h1m1 0h1m0 0h1m1 0h1m0 0h1m1 0h1m0 0h1m-20 1h1m4 0h1m0 0h1m1 0h1m0 0h1m2 0h1m1 0h1m0 0h1m0 0h1m1 0h1m3 0h1m16 0h1m-39 1h1m1 0h1m2 0h1m1 0h1m0 0h1m1 0h1m1 0h1m0 0h1m1 0h1m1 0h1m2 0h1m-30 1h1m3 0h1m0 0h1m0 0h1m0 0h1m0 0h1m0 0h1m1 0h1m0 0h1m0 0h1m0 0h1m0 0h1m0 0h1m0 0h1m0 0h1m0 0h1m0 0h1m0 0h1m0 0h1m2 0h1m0 0h1m0 0h1m3 0h1m-26 1h1m0 0h1m1 0h1m1 0h1m0 0h1m0 0h1m0 0h1m0 0h1m3 0h1m0 0h1m0 0h1m5 0h1m-28 1h1m4 0h1m0 0h1m0 0h1m0 0h1m1 0h1m0 0h1m0 0h1m0 0h1m0 0h1m0 0h1m1 0h1m0 0h1m0 0h1m2 0h1m0 0h1m1 0h1m23 0h1m-50 1h1m6 0h1m0 0h1m1 0h1m0 0h1m2 0h1m1 0h1m1 0h1m0 0h1m2 0h1m4 0h1m3 0h1m1 0h1m-34 1h1m5 0h1m0 0h1m1 0h1m3 0h1m0 0h1m0 0h1m0 0h1m0 0h1m0 0h1m0 0h1m0 0h1m0 0h1m0 0h1m0 0h1m7 0h1m12 0h1m-45 1h1m2 0h1m0 0h1m0 0h1m1 0h1m0 0h1m0 0h1m0 0h1m0 0h1m0 0h1m0 0h1m1 0h1m0 0h1m0 0h1m2 0h1m0 0h1m0 0h1m0 0h1m0 0h1m0 0h1m1 0h1m-25 1h1m1 0h1m0 0h1m0 0h1m2 0h1m0 0h1m0 0h1m0 0h1m0 0h1m0 0h1m0 0h1m1 0h1m0 0h1m4 0h1m1 0h1m-27 1h1m1 0h1m0 0h1m0 0h1m0 0h1m0 0h1m1 0h1m0 0h1m1 0h1m0 0h1m1 0h1m0 0h1m0 0h1m2 0h1m0 0h1m2 0h1m2 0h1m2 0h1m-26 1h1m0 0h1m0 0h1m0 0h1m0 0h1m2 0h1m0 0h1m0 0h1m1 0h1m0 0h1m0 0h1m2 0h1m0 0h1m0 0h1m0 0h1m-25 1h1m0 0h1m3 0h1m0 0h1m0 0h1m0 0h1m0 0h1m0 0h1m0 0h1m1 0h1m0 0h1m0 0h1m1 0h1m0 0h1m1 0h1m1 0h1m0 0h1m1 0h1m1 0h1m-27 1h1m5 0h1m0 0h1m2 0h1m0 0h1m0 0h1m0 0h1m1 0h1m1 0h1m0 0h1m1 0h1m0 0h1m-21 1h1m0 0h1m1 0h1m1 0h1m0 0h1m0 0h1m0 0h1m0 0h1m2 0h1m0 0h1m0 0h1m0 0h1m0 0h1m0 0h1m0 0h1m0 0h1m9 0h1m-29 1h1m0 0h1m0 0h1m0 0h1m0 0h1m0 0h1m0 0h1m0 0h1m0 0h1m2 0h1m0 0h1m0 0h1m1 0h1m0 0h1m1 0h1m-22 1h1m1 0h1m1 0h1m0 0h1m0 0h1m0 0h1m0 0h1m1 0h1m0 0h1m0 0h1m0 0h1m0 0h1m0 0h1m0 0h1m1 0h1m2 0h1m0 0h1m-19 1h1m2 0h1m0 0h1m0 0h1m0 0h1m1 0h1m0 0h1m2 0h1m5 0h1m1 0h1m0 0h1m-26 1h1m2 0h1m2 0h1m0 0h1m0 0h1m0 0h1m0 0h1m0 0h1m0 0h1m0 0h1m2 0h1m3 0h1m-21 1h1m1 0h1m3 0h1m0 0h1m0 0h1m0 0h1m1 0h1m0 0h1m1 0h1m6 0h1m4 0h1m-24 1h1m1 0h1m0 0h1m0 0h1m0 0h1m1 0h1m0 0h1m0 0h1m2 0h1m0 0h1m2 0h1m2 0h1m0 0h1m-23 1h1m2 0h1m2 0h1m0 0h1m0 0h1m0 0h1m0 0h1m0 0h1m0 0h1m1 0h1m0 0h1m1 0h1m2 0h1m0 0h1m-22 1h1m0 0h1m0 0h1m0 0h1m0 0h1m0 0h1m0 0h1m0 0h1m0 0h1m1 0h1m1 0h1m0 0h1m1 0h1m0 0h1m0 0h1m32 0h1m-51 1h1m0 0h1m0 0h1m0 0h1m0 0h1m2 0h1m0 0h1m6 0h1m2 0h1m2 0h1m-22 1h1m0 0h1m0 0h1m2 0h1m0 0h1m3 0h1m0 0h1m7 0h1m-20 1h1m0 0h1m0 0h1m0 0h1m0 0h1m0 0h1m1 0h1m1 0h1m0 0h1m1 0h1m0 0h1m-14 1h1m2 0h1m0 0h1m0 0h1m2 0h1m0 0h1m3 0h1m1 0h1m0 0h1m2 0h1m-19 1h1m2 0h1m1 0h1m0 0h1m0 0h1m0 0h1m0 0h1m0 0h1m0 0h1m9 0h1m-20 1h1m0 0h1m1 0h1m0 0h1m0 0h1m0 0h1m4 0h1m0 0h1m-17 1h1m0 0h1m0 0h1m1 0h1m0 0h1m0 0h1m0 0h1m2 0h1m1 0h1m1 0h1m0 0h1m1 0h1m-18 1h1m0 0h1m1 0h1m2 0h1m0 0h1m0 0h1m1 0h1m0 0h1m0 0h1m6 0h1m-20 1h1m0 0h1m0 0h1m1 0h1m2 0h1m0 0h1m1 0h1m0 0h1m0 0h1m0 0h1m0 0h1m-14 1h1m0 0h1m0 0h1m0 0h1m0 0h1m0 0h1m0 0h1m0 0h1m0 0h1m0 0h1m1 0h1m3 0h1m-15 1h1m0 0h1m0 0h1m0 0h1m0 0h1m0 0h1m2 0h1m2 0h1m2 0h1m-17 1h1m1 0h1m1 0h1m0 0h1m0 0h1m0 0h1m1 0h1m0 0h1m3 0h1m-13 1h1m0 0h1m0 0h1m0 0h1m0 0h1m0 0h1m0 0h1m4 0h1m3 0h1m-18 1h1m0 0h1m0 0h1m0 0h1m0 0h1m0 0h1m0 0h1m0 0h1m1 0h1m0 0h1m-11 1h1m1 0h1m0 0h1m0 0h1m0 0h1m0 0h1m0 0h1m1 0h1m-10 1h1m0 0h1m1 0h1m0 0h1m0 0h1m0 0h1m0 0h1m2 0h1m25 0h1m-37 1h1m1 0h1m0 0h1m0 0h1m4 0h1m1 0h1m-10 1h1m0 0h1m1 0h1m2 0h1m2 0h1m-12 1h1m1 0h1m0 0h1m0 0h1m3 0h1m3 0h1m-12 1h1m1 0h1m0 0h1m0 0h1m0 0h1m1 0h1m-9 1h1m0 0h1m0 0h1m0 0h1m1 0h1m0 0h1m1 0h1m0 0h1m-10 1h1m0 0h1m0 0h1m0 0h1m2 0h1m2 0h1m-9 1h1m0 0h1m1 0h1m1 0h1m0 0h1m1 0h1m-8 1h1m0 0h1m0 0h1m1 0h1m-2 1h1m2 0h1" stroke="#666"/><path d="M0 0.5m109 675h1m-59 12h1m25 11h1m1 0h1m-4 1h1m5 0h1m-6 1h1m1 0h1m1 0h1m1 0h1m0 0h1m-12 1h1m0 0h1m3 0h1m0 0h1m2 0h1m0 0h1m0 0h1m0 0h1m0 0h1m9 0h1m-21 1h1m0 0h1m1 0h1m0 0h1m0 0h1m0 0h1m0 0h1m2 0h1m-18 1h1m3 0h1m4 0h1m0 0h1m0 0h1m0 0h1m1 0h1m0 0h1m0 0h1m0 0h1m0 0h1m0 0h1m-13 1h1m2 0h1m0 0h1m0 0h1m0 0h1m0 0h1m0 0h1m0 0h1m0 0h1m1 0h1m-22 1h1m0 0h1m2 0h1m2 0h1m0 0h1m0 0h1m0 0h1m0 0h1m1 0h1m0 0h1m1 0h1m1 0h1m0 0h1m0 0h1m-18 1h1m0 0h1m1 0h1m0 0h1m0 0h1m4 0h1m0 0h1m0 0h1m1 0h1m0 0h1m0 0h1m-20 1h1m6 0h1m1 0h1m0 0h1m0 0h1m1 0h1m1 0h1m1 0h1m0 0h1m-17 1h1m0 0h1m2 0h1m0 0h1m0 0h1m0 0h1m0 0h1m0 0h1m0 0h1m0 0h1m0 0h1m0 0h1m0 0h1m-18 1h1m0 0h1m0 0h1m4 0h1m1 0h1m0 0h1m0 0h1m0 0h1m0 0h1m0 0h1m1 0h1m1 0h1m-21 1h1m3 0h1m2 0h1m0 0h1m0 0h1m1 0h1m0 0h1m0 0h1m3 0h1m0 0h1m3 0h1m-21 1h1m4 0h1m2 0h1m0 0h1m1 0h1m0 0h1m2 0h1m1 0h1m0 0h1m1 0h1m-29 1h1m2 0h1m0 0h1m0 0h1m0 0h1m0 0h1m1 0h1m0 0h1m0 0h1m0 0h1m1 0h1m0 0h1m1 0h1m0 0h1m0 0h1m0 0h1m0 0h1m0 0h1m0 0h1m1 0h1m0 0h1m8 0h1m-39 1h1m3 0h1m0 0h1m2 0h1m0 0h1m1 0h1m0 0h1m0 0h1m0 0h1m0 0h1m4 0h1m0 0h1m0 0h1m0 0h1m0 0h1m0 0h1m0 0h1m-29 1h1m3 0h1m3 0h1m0 0h1m0 0h1m1 0h1m0 0h1m0 0h1m1 0h1m1 0h1m0 0h1m0 0h1m0 0h1m2 0h1m1 0h1m3 0h1m-34 1h1m11 0h1m1 0h1m0 0h1m0 0h1m1 0h1m1 0h1m1 0h1m0 0h1m6 0h1m-30 1h1m3 0h1m1 0h1m2 0h1m0 0h1m0 0h1m1 0h1m0 0h1m0 0h1m0 0h1m0 0h1m0 0h1m0 0h1m0 0h1m0 0h1m0 0h1m0 0h1m1 0h1m2 0h1m-28 1h1m8 0h1m0 0h1m1 0h1m0 0h1m0 0h1m0 0h1m0 0h1m0 0h1m0 0h1m2 0h1m0 0h1m2 0h1m0 0h1m29 0h1m-57 1h1m2 0h1m0 0h1m0 0h1m2 0h1m0 0h1m2 0h1m0 0h1m1 0h1m0 0h1m0 0h1m0 0h1m0 0h1m0 0h1m0 0h1m1 0h1m0 0h1m1 0h1m0 0h1m-28 1h1m0 0h1m0 0h1m3 0h1m0 0h1m2 0h1m0 0h1m0 0h1m0 0h1m1 0h1m0 0h1m1 0h1m0 0h1m0 0h1m2 0h1m0 0h1m1 0h1m-22 1h1m0 0h1m1 0h1m1 0h1m0 0h1m0 0h1m0 0h1m1 0h1m0 0h1m0 0h1m0 0h1m0 0h1m2 0h1m0 0h1m3 0h1m-28 1h1m0 0h1m2 0h1m1 0h1m0 0h1m0 0h1m0 0h1m0 0h1m0 0h1m0 0h1m0 0h1m1 0h1m0 0h1m0 0h1m2 0h1m0 0h1m0 0h1m0 0h1m0 0h1m2 0h1m-32 1h1m1 0h1m2 0h1m2 0h1m0 0h1m1 0h1m0 0h1m0 0h1m0 0h1m0 0h1m0 0h1m0 0h1m0 0h1m1 0h1m0 0h1m0 0h1m0 0h1m0 0h1m-27 1h1m5 0h1m2 0h1m1 0h1m0 0h1m0 0h1m0 0h1m0 0h1m0 0h1m0 0h1m0 0h1m1 0h1m1 0h1m0 0h1m0 0h1m0 0h1m0 0h1m-24 1h1m0 0h1m4 0h1m0 0h1m1 0h1m0 0h1m1 0h1m0 0h1m0 0h1m0 0h1m0 0h1m0 0h1m1 0h1m0 0h1m1 0h1m-20 1h1m0 0h1m2 0h1m1 0h1m0 0h1m0 0h1m0 0h1m0 0h1m0 0h1m0 0h1m0 0h1m0 0h1m0 0h1m1 0h1m4 0h1m0 0h1m-25 1h1m4 0h1m0 0h1m1 0h1m0 0h1m0 0h1m0 0h1m1 0h1m1 0h1m1 0h1m3 0h1m-24 1h1m1 0h1m1 0h1m1 0h1m3 0h1m0 0h1m0 0h1m0 0h1m0 0h1m0 0h1m1 0h1m0 0h1m0 0h1m1 0h1m0 0h1m7 0h1m3 0h1m-40 1h1m8 0h1m0 0h1m0 0h1m0 0h1m0 0h1m0 0h1m1 0h1m0 0h1m0 0h1m0 0h1m2 0h1m2 0h1m0 0h1m5 0h1m-28 1h1m2 0h1m1 0h1m2 0h1m1 0h1m0 0h1m0 0h1m1 0h1m1 0h1m0 0h1m0 0h1m1 0h1m0 0h1m1 0h1m2 0h1m-32 1h1m7 0h1m0 0h1m0 0h1m0 0h1m0 0h1m0 0h1m0 0h1m0 0h1m0 0h1m0 0h1m1 0h1m0 0h1m2 0h1m0 0h1m2 0h1m0 0h1m0 0h1m-28 1h1m1 0h1m0 0h1m2 0h1m0 0h1m0 0h1m0 0h1m0 0h1m0 0h1m0 0h1m0 0h1m1 0h1m0 0h1m0 0h1m0 0h1m0 0h1m0 0h1m3 0h1m-23 1h1m0 0h1m0 0h1m1 0h1m0 0h1m0 0h1m0 0h1m0 0h1m0 0h1m0 0h1m0 0h1m0 0h1m0 0h1m0 0h1m1 0h1m0 0h1m0 0h1m1 0h1m2 0h1m-29 1h1m2 0h1m0 0h1m2 0h1m1 0h1m0 0h1m0 0h1m0 0h1m0 0h1m0 0h1m0 0h1m2 0h1m0 0h1m0 0h1m0 0h1m1 0h1m1 0h1m0 0h1m-22 1h1m0 0h1m0 0h1m1 0h1m0 0h1m2 0h1m0 0h1m0 0h1m1 0h1m0 0h1m0 0h1m2 0h1m0 0h1m0 0h1m-25 1h1m2 0h1m0 0h1m1 0h1m0 0h1m1 0h1m0 0h1m0 0h1m0 0h1m0 0h1m0 0h1m1 0h1m0 0h1m1 0h1m0 0h1m0 0h1m0 0h1m0 0h1m1 0h1m-24 1h1m1 0h1m0 0h1m2 0h1m0 0h1m0 0h1m0 0h1m0 0h1m1 0h1m0 0h1m0 0h1m2 0h1m2 0h1m-23 1h1m0 0h1m0 0h1m2 0h1m0 0h1m2 0h1m0 0h1m0 0h1m0 0h1m0 0h1m0 0h1m0 0h1m1 0h1m2 0h1m0 0h1m0 0h1m0 0h1m1 0h1m-24 1h1m0 0h1m3 0h1m1 0h1m0 0h1m1 0h1m1 0h1m2 0h1m0 0h1m0 0h1m7 0h1m0 0h1m2 0h1m-31 1h1m0 0h1m0 0h1m1 0h1m0 0h1m2 0h1m0 0h1m0 0h1m0 0h1m0 0h1m0 0h1m2 0h1m1 0h1m0 0h1m0 0h1m5 0h1m-26 1h1m1 0h1m1 0h1m0 0h1m0 0h1m1 0h1m0 0h1m0 0h1m0 0h1m3 0h1m0 0h1m1 0h1m-21 1h1m3 0h1m0 0h1m1 0h1m0 0h1m0 0h1m0 0h1m0 0h1m0 0h1m0 0h1m1 0h1m4 0h1m0 0h1m-21 1h1m1 0h1m4 0h1m0 0h1m1 0h1m0 0h1m0 0h1m2 0h1m0 0h1m0 0h1m6 0h1m-25 1h1m3 0h1m1 0h1m1 0h1m2 0h1m0 0h1m0 0h1m0 0h1m1 0h1m0 0h1m11 0h1m-28 1h1m0 0h1m1 0h1m1 0h1m1 0h1m1 0h1m2 0h1m1 0h1m-16 1h1m0 0h1m1 0h1m1 0h1m1 0h1m0 0h1m0 0h1m0 0h1m0 0h1m0 0h1m0 0h1m0 0h1m0 0h1m0 0h1m1 0h1m0 0h1m-19 1h1m0 0h1m1 0h1m0 0h1m0 0h1m0 0h1m0 0h1m2 0h1m0 0h1m0 0h1m5 0h1m-21 1h1m2 0h1m0 0h1m0 0h1m0 0h1m1 0h1m0 0h1m0 0h1m3 0h1m2 0h1m1 0h1m6 0h1m3 0h1m-29 1h1m0 0h1m1 0h1m1 0h1m0 0h1m0 0h1m0 0h1m2 0h1m5 0h1m0 0h1m-22 1h1m2 0h1m0 0h1m0 0h1m1 0h1m0 0h1m1 0h1m0 0h1m0 0h1m2 0h1m0 0h1m-15 1h1m2 0h1m0 0h1m0 0h1m1 0h1m2 0h1m1 0h1m0 0h1m0 0h1m-16 1h1m0 0h1m0 0h1m0 0h1m1 0h1m1 0h1m0 0h1m0 0h1m0 0h1m0 0h1m1 0h1m1 0h1m2 0h1m9 0h1m-29 1h1m0 0h1m1 0h1m0 0h1m1 0h1m2 0h1m7 0h1m-18 1h1m0 0h1m1 0h1m0 0h1m1 0h1m1 0h1m1 0h1m0 0h1m0 0h1m0 0h1m1 0h1m-14 1h1m0 0h1m0 0h1m0 0h1m0 0h1m0 0h1m0 0h1m0 0h1m2 0h1m0 0h1m5 0h1m-21 1h1m0 0h1m0 0h1m0 0h1m0 0h1m0 0h1m0 0h1m0 0h1m0 0h1m0 0h1m2 0h1m0 0h1m-14 1h1m0 0h1m0 0h1m0 0h1m0 0h1m0 0h1m0 0h1m0 0h1m4 0h1m1 0h1m0 0h1m-16 1h1m0 0h1m0 0h1m0 0h1m1 0h1m0 0h1m0 0h1m10 0h1m-19 1h1m2 0h1m0 0h1m0 0h1m1 0h1m2 0h1m0 0h1m1 0h1m0 0h1m0 0h1m0 0h1m-16 1h1m0 0h1m0 0h1m0 0h1m2 0h1m0 0h1m0 0h1m0 0h1m0 0h1m1 0h1m1 0h1m-16 1h1m0 0h1m0 0h1m1 0h1m0 0h1m0 0h1m0 0h1m0 0h1m0 0h1m0 0h1m0 0h1m40 0h1m-53 1h1m2 0h1m1 0h1m0 0h1m0 0h1m1 0h1m-10 1h1m0 0h1m0 0h1m0 0h1m4 0h1m1 0h1m-10 1h1m0 0h1m0 0h1m1 0h1m4 0h1m0 0h1m-12 1h1m0 0h1m0 0h1m1 0h1m0 0h1m0 0h1m0 0h1m1 0h1m-10 1h1m0 0h1m0 0h1m0 0h1m0 0h1m0 0h1m1 0h1m0 0h1m1 0h1m-11 1h1m1 0h1m0 0h1m0 0h1m2 0h1m-7 1h1m4 0h1m0 0h1m-8 1h1m0 0h1m1 0h1m1 0h1m0 0h1m0 0h1m0 0h1m-9 1h1m0 0h1m1 0h1m0 0h1m2 0h1m0 0h1m4 0h1m26 0h1m-40 1h1m0 0h1m1 0h1m0 0h1m-6 1h1m0 0h1m0 0h1m0 0h1m1 0h1m1 0h1m0 0h1m1 0h1m1 0h1m-8 1h1m3 1h1" stroke="#3c3c3c"/><path d="M0 0.5m86 694h1m-10 4h1m1 1h1m1 0h1m-7 1h1m0 0h1m4 0h1m0 0h1m0 0h1m1 0h1m-11 1h1m3 0h1m2 0h1m0 0h1m0 0h1m0 0h1m-13 1h1m2 0h1m0 0h1m0 0h1m0 0h1m0 0h1m0 0h1m0 0h1m0 0h1m0 0h1m0 0h1m0 0h1m-15 1h1m2 0h1m0 0h1m1 0h1m3 0h1m0 0h1m0 0h1m2 0h1m-23 1h1m9 0h1m0 0h1m2 0h1m0 0h1m0 0h1m0 0h1m0 0h1m0 0h1m1 0h1m0 0h1m0 0h1m5 0h1m-22 1h1m0 0h1m2 0h1m0 0h1m0 0h1m0 0h1m0 0h1m0 0h1m3 0h1m-31 1h1m16 0h1m1 0h1m0 0h1m0 0h1m0 0h1m0 0h1m0 0h1m1 0h1m2 0h1m1 0h1m-17 1h1m3 0h1m1 0h1m0 0h1m1 0h1m0 0h1m2 0h1m1 0h1m-24 1h1m0 0h1m3 0h1m4 0h1m0 0h1m1 0h1m0 0h1m0 0h1m0 0h1m0 0h1m0 0h1m0 0h1m-19 1h1m3 0h1m2 0h1m0 0h1m1 0h1m0 0h1m0 0h1m0 0h1m1 0h1m0 0h1m1 0h1m0 0h1m1 0h1m-18 1h1m2 0h1m0 0h1m0 0h1m1 0h1m1 0h1m1 0h1m0 0h1m0 0h1m0 0h1m4 0h1m-35 1h1m1 0h1m3 0h1m3 0h1m2 0h1m2 0h1m0 0h1m0 0h1m1 0h1m0 0h1m1 0h1m0 0h1m2 0h1m2 0h1m-31 1h1m6 0h1m0 0h1m1 0h1m1 0h1m2 0h1m1 0h1m0 0h1m1 0h1m1 0h1m0 0h1m2 0h1m0 0h1m1 0h1m-21 1h1m0 0h1m1 0h1m0 0h1m1 0h1m1 0h1m0 0h1m0 0h1m0 0h1m3 0h1m0 0h1m1 0h1m1 0h1m0 0h1m-26 1h1m2 0h1m0 0h1m1 0h1m1 0h1m1 0h1m0 0h1m0 0h1m0 0h1m2 0h1m1 0h1m0 0h1m6 0h1m-31 1h1m5 0h1m0 0h1m0 0h1m0 0h1m0 0h1m0 0h1m0 0h1m0 0h1m0 0h1m0 0h1m0 0h1m1 0h1m0 0h1m0 0h1m1 0h1m0 0h1m1 0h1m-24 1h1m0 0h1m0 0h1m5 0h1m0 0h1m2 0h1m0 0h1m0 0h1m0 0h1m1 0h1m3 0h1m4 0h1m-34 1h1m1 0h1m5 0h1m0 0h1m0 0h1m0 0h1m0 0h1m0 0h1m0 0h1m1 0h1m0 0h1m0 0h1m0 0h1m0 0h1m0 0h1m0 0h1m1 0h1m0 0h1m2 0h1m1 0h1m-26 1h1m3 0h1m0 0h1m0 0h1m2 0h1m0 0h1m0 0h1m0 0h1m1 0h1m0 0h1m2 0h1m0 0h1m0 0h1m2 0h1m0 0h1m-24 1h1m0 0h1m1 0h1m0 0h1m0 0h1m0 0h1m0 0h1m4 0h1m0 0h1m1 0h1m0 0h1m2 0h1m0 0h1m-24 1h1m3 0h1m0 0h1m0 0h1m3 0h1m0 0h1m0 0h1m0 0h1m0 0h1m0 0h1m1 0h1m0 0h1m0 0h1m1 0h1m-20 1h1m1 0h1m0 0h1m0 0h1m0 0h1m0 0h1m0 0h1m0 0h1m0 0h1m1 0h1m0 0h1m0 0h1m0 0h1m0 0h1m0 0h1m2 0h1m0 0h1m0 0h1m0 0h1m0 0h1m-27 1h1m0 0h1m1 0h1m0 0h1m1 0h1m1 0h1m0 0h1m1 0h1m0 0h1m0 0h1m2 0h1m0 0h1m4 0h1m14 0h1m-41 1h1m6 0h1m0 0h1m0 0h1m1 0h1m0 0h1m0 0h1m0 0h1m0 0h1m0 0h1m0 0h1m2 0h1m0 0h1m0 0h1m1 0h1m1 0h1m0 0h1m-31 1h1m3 0h1m8 0h1m2 0h1m0 0h1m2 0h1m0 0h1m0 0h1m0 0h1m0 0h1m0 0h1m1 0h1m0 0h1m0 0h1m-32 1h1m5 0h1m5 0h1m0 0h1m0 0h1m0 0h1m1 0h1m0 0h1m0 0h1m0 0h1m3 0h1m0 0h1m0 0h1m1 0h1m4 0h1m-24 1h1m2 0h1m0 0h1m0 0h1m0 0h1m0 0h1m0 0h1m0 0h1m0 0h1m0 0h1m0 0h1m2 0h1m3 0h1m-23 1h1m2 0h1m1 0h1m0 0h1m0 0h1m0 0h1m0 0h1m0 0h1m0 0h1m0 0h1m2 0h1m0 0h1m0 0h1m10 0h1m-29 1h1m0 0h1m0 0h1m0 0h1m1 0h1m0 0h1m0 0h1m0 0h1m0 0h1m0 0h1m1 0h1m0 0h1m0 0h1m0 0h1m0 0h1m1 0h1m0 0h1m5 0h1m0 0h1m-29 1h1m6 0h1m0 0h1m0 0h1m0 0h1m0 0h1m1 0h1m1 0h1m0 0h1m2 0h1m0 0h1m0 0h1m-26 1h1m5 0h1m0 0h1m1 0h1m0 0h1m0 0h1m0 0h1m0 0h1m0 0h1m0 0h1m0 0h1m0 0h1m0 0h1m4 0h1m1 0h1m0 0h1m8 0h1m-34 1h1m0 0h1m1 0h1m0 0h1m0 0h1m1 0h1m0 0h1m0 0h1m2 0h1m1 0h1m0 0h1m1 0h1m1 0h1m0 0h1m4 0h1m2 0h1m-31 1h1m0 0h1m1 0h1m0 0h1m3 0h1m0 0h1m0 0h1m1 0h1m1 0h1m0 0h1m0 0h1m1 0h1m0 0h1m0 0h1m2 0h1m-24 1h1m5 0h1m1 0h1m0 0h1m0 0h1m0 0h1m0 0h1m0 0h1m0 0h1m1 0h1m1 0h1m1 0h1m1 0h1m0 0h1m3 0h1m0 0h1m-27 1h1m0 0h1m0 0h1m0 0h1m0 0h1m3 0h1m1 0h1m0 0h1m1 0h1m5 0h1m2 0h1m0 0h1m0 0h1m0 0h1m1 0h1m20 0h1m-51 1h1m1 0h1m1 0h1m4 0h1m0 0h1m0 0h1m0 0h1m0 0h1m0 0h1m2 0h1m1 0h1m1 0h1m1 0h1m0 0h1m-23 1h1m0 0h1m0 0h1m2 0h1m0 0h1m1 0h1m0 0h1m0 0h1m1 0h1m0 0h1m5 0h1m5 0h1m-22 1h1m1 0h1m2 0h1m0 0h1m1 0h1m0 0h1m0 0h1m0 0h1m0 0h1m0 0h1m3 0h1m4 0h1m-26 1h1m1 0h1m0 0h1m0 0h1m0 0h1m0 0h1m0 0h1m0 0h1m0 0h1m0 0h1m0 0h1m0 0h1m0 0h1m0 0h1m0 0h1m-17 1h1m1 0h1m1 0h1m0 0h1m1 0h1m0 0h1m0 0h1m1 0h1m0 0h1m0 0h1m0 0h1m2 0h1m2 0h1m12 0h1m-35 1h1m1 0h1m1 0h1m0 0h1m0 0h1m0 0h1m0 0h1m3 0h1m0 0h1m0 0h1m2 0h1m2 0h1m0 0h1m0 0h1m-24 1h1m1 0h1m2 0h1m0 0h1m0 0h1m0 0h1m0 0h1m1 0h1m0 0h1m1 0h1m3 0h1m1 0h1m-17 1h1m2 0h1m0 0h1m0 0h1m0 0h1m1 0h1m0 0h1m0 0h1m0 0h1m3 0h1m2 0h1m2 0h1m3 0h1m-30 1h1m1 0h1m0 0h1m0 0h1m0 0h1m1 0h1m0 0h1m0 0h1m0 0h1m0 0h1m1 0h1m0 0h1m0 0h1m2 0h1m2 0h1m-23 1h1m0 0h1m0 0h1m2 0h1m0 0h1m2 0h1m0 0h1m1 0h1m0 0h1m2 0h1m1 0h1m2 0h1m-22 1h1m1 0h1m0 0h1m0 0h1m0 0h1m0 0h1m0 0h1m1 0h1m0 0h1m0 0h1m0 0h1m0 0h1m0 0h1m0 0h1m0 0h1m1 0h1m3 0h1m-22 1h1m2 0h1m0 0h1m3 0h1m0 0h1m0 0h1m0 0h1m0 0h1m1 0h1m0 0h1m1 0h1m0 0h1m1 0h1m-20 1h1m1 0h1m0 0h1m0 0h1m1 0h1m1 0h1m0 0h1m0 0h1m0 0h1m0 0h1m0 0h1m0 0h1m-15 1h1m1 0h1m0 0h1m0 0h1m1 0h1m1 0h1m0 0h1m0 0h1m0 0h1m0 0h1m2 0h1m1 0h1m0 0h1m-20 1h1m0 0h1m0 0h1m0 0h1m0 0h1m0 0h1m0 0h1m0 0h1m1 0h1m1 0h1m1 0h1m0 0h1m0 0h1m0 0h1m3 0h1m-20 1h1m4 0h1m0 0h1m1 0h1m0 0h1m0 0h1m0 0h1m4 0h1m-18 1h1m2 0h1m2 0h1m1 0h1m0 0h1m2 0h1m4 0h1m0 0h1m36 0h1m-55 1h1m0 0h1m0 0h1m0 0h1m0 0h1m0 0h1m1 0h1m1 0h1m0 0h1m0 0h1m0 0h1m0 0h1m0 0h1m6 0h1m-23 1h1m0 0h1m0 0h1m2 0h1m0 0h1m0 0h1m0 0h1m0 0h1m1 0h1m3 0h1m2 0h1m-20 1h1m3 0h1m0 0h1m0 0h1m0 0h1m0 0h1m0 0h1m0 0h1m1 0h1m0 0h1m0 0h1m1 0h1m1 0h1m-17 1h1m0 0h1m1 0h1m2 0h1m1 0h1m1 0h1m0 0h1m-14 1h1m0 0h1m0 0h1m0 0h1m1 0h1m2 0h1m1 0h1m1 0h1m1 0h1m0 0h1m-14 1h1m0 0h1m0 0h1m0 0h1m0 0h1m0 0h1m0 0h1m0 0h1m-10 1h1m0 0h1m0 0h1m0 0h1m1 0h1m0 0h1m2 0h1m0 0h1m-11 1h1m0 0h1m0 0h1m0 0h1m0 0h1m0 0h1m0 0h1m2 0h1m1 0h1m-10 1h1m0 0h1m0 0h1m0 0h1m0 0h1m0 0h1m0 0h1m0 0h1m0 0h1m0 0h1m0 0h1m-13 1h1m0 0h1m1 0h1m0 0h1m0 0h1m0 0h1m0 0h1m2 0h1m1 0h1m-12 1h1m0 0h1m1 0h1m0 0h1m0 0h1m0 0h1m2 0h1m1 0h1m-13 1h1m0 0h1m0 0h1m0 0h1m0 0h1m1 0h1m1 0h1m0 0h1m1 0h1m-11 1h1m0 0h1m0 0h1m0 0h1m1 0h1m1 0h1m-9 1h1m0 0h1m0 0h1m5 0h1m3 0h1m-12 1h1m1 0h1m3 0h1m0 0h1m4 0h1m-12 1h1m0 0h1m0 0h1m0 0h1m0 0h1m2 0h1m-9 1h1m0 0h1m0 0h1m0 0h1m0 0h1m0 0h1m0 0h1m0 0h1m-7 1h1m0 0h1m0 0h1m0 0h1m0 0h1m2 0h1m0 0h1m-11 1h1m0 0h1m0 0h1m0 0h1m1 0h1m0 0h1m0 0h1m-7 1h1m0 0h1m0 0h1m-1 1h1m1 0h1m4 0h1m-5 1h1m2 0h1" stroke="#222"/><path d="M0 0.5m51 696h1m29 0h1m-10 3h1m7 0h1m0 0h1m1 0h1m-16 1h1m12 0h1m3 0h1m23 0h1m-36 1h1m2 0h1m3 0h1m0 0h1m1 0h1m0 0h1m0 0h1m-24 1h1m10 0h1m0 0h1m0 0h1m0 0h1m0 0h1m0 0h1m0 0h1m1 0h1m1 0h1m0 0h1m0 0h1m-12 1h1m1 0h1m0 0h1m0 0h1m0 0h1m0 0h1m0 0h1m0 0h1m3 0h1m-16 1h1m1 0h1m1 0h1m0 0h1m0 0h1m0 0h1m0 0h1m0 0h1m0 0h1m1 0h1m1 0h1m1 0h1m-19 1h1m4 0h1m1 0h1m1 0h1m0 0h1m1 0h1m0 0h1m1 0h1m0 0h1m21 0h1m-46 1h1m0 0h1m1 0h1m1 0h1m3 0h1m0 0h1m0 0h1m2 0h1m0 0h1m0 0h1m0 0h1m0 0h1m0 0h1m0 0h1m2 0h1m0 0h1m-26 1h1m9 0h1m0 0h1m0 0h1m0 0h1m0 0h1m0 0h1m0 0h1m0 0h1m0 0h1m1 0h1m0 0h1m1 0h1m0 0h1m1 0h1m-25 1h1m0 0h1m2 0h1m1 0h1m0 0h1m0 0h1m0 0h1m0 0h1m0 0h1m0 0h1m1 0h1m1 0h1m1 0h1m0 0h1m1 0h1m2 0h1m-30 1h1m6 0h1m2 0h1m0 0h1m0 0h1m1 0h1m4 0h1m0 0h1m1 0h1m0 0h1m1 0h1m-23 1h1m5 0h1m1 0h1m1 0h1m0 0h1m0 0h1m1 0h1m0 0h1m0 0h1m1 0h1m0 0h1m1 0h1m3 0h1m-26 1h1m0 0h1m0 0h1m1 0h1m2 0h1m1 0h1m0 0h1m0 0h1m1 0h1m3 0h1m0 0h1m1 0h1m0 0h1m-25 1h1m0 0h1m0 0h1m2 0h1m1 0h1m1 0h1m1 0h1m1 0h1m1 0h1m0 0h1m0 0h1m1 0h1m0 0h1m1 0h1m-21 1h1m0 0h1m0 0h1m0 0h1m1 0h1m2 0h1m0 0h1m0 0h1m1 0h1m0 0h1m1 0h1m1 0h1m1 0h1m4 0h1m-23 1h1m0 0h1m0 0h1m0 0h1m0 0h1m1 0h1m0 0h1m0 0h1m0 0h1m0 0h1m0 0h1m0 0h1m-24 1h1m5 0h1m1 0h1m0 0h1m0 0h1m0 0h1m0 0h1m1 0h1m0 0h1m0 0h1m0 0h1m0 0h1m0 0h1m0 0h1m1 0h1m0 0h1m0 0h1m0 0h1m0 0h1m0 0h1m2 0h1m0 0h1m5 0h1m-33 1h1m0 0h1m3 0h1m0 0h1m1 0h1m0 0h1m0 0h1m0 0h1m0 0h1m0 0h1m0 0h1m2 0h1m0 0h1m3 0h1m7 0h1m-34 1h1m1 0h1m2 0h1m1 0h1m1 0h1m1 0h1m0 0h1m0 0h1m0 0h1m0 0h1m1 0h1m0 0h1m0 0h1m2 0h1m2 0h1m4 0h1m21 0h1m-54 1h1m1 0h1m1 0h1m1 0h1m2 0h1m1 0h1m0 0h1m3 0h1m0 0h1m0 0h1m0 0h1m1 0h1m0 0h1m1 0h1m0 0h1m10 0h1m-33 1h1m0 0h1m0 0h1m0 0h1m0 0h1m0 0h1m2 0h1m0 0h1m0 0h1m0 0h1m0 0h1m0 0h1m0 0h1m0 0h1m0 0h1m0 0h1m2 0h1m0 0h1m-31 1h1m1 0h1m2 0h1m2 0h1m0 0h1m0 0h1m0 0h1m1 0h1m0 0h1m0 0h1m0 0h1m0 0h1m0 0h1m0 0h1m0 0h1m0 0h1m0 0h1m1 0h1m0 0h1m0 0h1m1 0h1m-30 1h1m7 0h1m2 0h1m0 0h1m0 0h1m0 0h1m0 0h1m0 0h1m2 0h1m0 0h1m0 0h1m0 0h1m2 0h1m0 0h1m0 0h1m0 0h1m-31 1h1m4 0h1m0 0h1m3 0h1m1 0h1m1 0h1m1 0h1m0 0h1m0 0h1m0 0h1m0 0h1m1 0h1m2 0h1m1 0h1m0 0h1m0 0h1m0 0h1m0 0h1m0 0h1m2 0h1m-35 1h1m7 0h1m1 0h1m0 0h1m1 0h1m0 0h1m0 0h1m0 0h1m2 0h1m0 0h1m0 0h1m0 0h1m1 0h1m3 0h1m1 0h1m-26 1h1m5 0h1m3 0h1m3 0h1m0 0h1m0 0h1m0 0h1m7 0h1m7 0h1m-39 1h1m1 0h1m7 0h1m1 0h1m0 0h1m0 0h1m0 0h1m0 0h1m0 0h1m0 0h1m0 0h1m0 0h1m0 0h1m0 0h1m0 0h1m6 0h1m-27 1h1m1 0h1m0 0h1m3 0h1m0 0h1m0 0h1m0 0h1m0 0h1m1 0h1m0 0h1m0 0h1m0 0h1m0 0h1m2 0h1m1 0h1m2 0h1m-23 1h1m1 0h1m3 0h1m0 0h1m0 0h1m0 0h1m0 0h1m0 0h1m0 0h1m0 0h1m0 0h1m0 0h1m3 0h1m-26 1h1m0 0h1m2 0h1m0 0h1m0 0h1m3 0h1m1 0h1m0 0h1m1 0h1m0 0h1m0 0h1m0 0h1m0 0h1m0 0h1m0 0h1m0 0h1m0 0h1m1 0h1m-27 1h1m2 0h1m1 0h1m0 0h1m0 0h1m0 0h1m0 0h1m0 0h1m0 0h1m0 0h1m0 0h1m1 0h1m0 0h1m0 0h1m0 0h1m0 0h1m4 0h1m2 0h1m1 0h1m-26 1h1m3 0h1m1 0h1m1 0h1m0 0h1m0 0h1m0 0h1m0 0h1m0 0h1m0 0h1m0 0h1m0 0h1m-21 1h1m0 0h1m0 0h1m3 0h1m0 0h1m0 0h1m0 0h1m0 0h1m0 0h1m0 0h1m0 0h1m0 0h1m0 0h1m0 0h1m0 0h1m1 0h1m1 0h1m0 0h1m3 0h1m14 0h1m-41 1h1m1 0h1m0 0h1m0 0h1m0 0h1m0 0h1m0 0h1m0 0h1m0 0h1m0 0h1m0 0h1m0 0h1m1 0h1m0 0h1m0 0h1m0 0h1m0 0h1m0 0h1m4 0h1m-25 1h1m3 0h1m0 0h1m1 0h1m0 0h1m3 0h1m1 0h1m0 0h1m0 0h1m1 0h1m0 0h1m0 0h1m0 0h1m0 0h1m22 0h1m-49 1h1m2 0h1m0 0h1m1 0h1m2 0h1m0 0h1m0 0h1m0 0h1m0 0h1m0 0h1m0 0h1m0 0h1m0 0h1m0 0h1m0 0h1m0 0h1m1 0h1m-24 1h1m6 0h1m0 0h1m2 0h1m0 0h1m1 0h1m0 0h1m0 0h1m0 0h1m0 0h1m0 0h1m0 0h1m1 0h1m3 0h1m1 0h1m-28 1h1m0 0h1m4 0h1m1 0h1m0 0h1m0 0h1m0 0h1m0 0h1m0 0h1m0 0h1m0 0h1m0 0h1m0 0h1m0 0h1m1 0h1m0 0h1m1 0h1m5 0h1m-28 1h1m0 0h1m0 0h1m0 0h1m0 0h1m0 0h1m0 0h1m1 0h1m0 0h1m1 0h1m0 0h1m0 0h1m0 0h1m0 0h1m0 0h1m2 0h1m0 0h1m2 0h1m-26 1h1m3 0h1m1 0h1m0 0h1m1 0h1m0 0h1m0 0h1m0 0h1m0 0h1m0 0h1m0 0h1m1 0h1m0 0h1m0 0h1m6 0h1m-25 1h1m0 0h1m0 0h1m2 0h1m0 0h1m0 0h1m0 0h1m0 0h1m1 0h1m2 0h1m0 0h1m0 0h1m4 0h1m3 0h1m-24 1h1m0 0h1m2 0h1m0 0h1m0 0h1m0 0h1m1 0h1m1 0h1m1 0h1m0 0h1m0 0h1m1 0h1m1 0h1m6 0h1m-29 1h1m2 0h1m0 0h1m0 0h1m1 0h1m0 0h1m0 0h1m0 0h1m0 0h1m5 0h1m0 0h1m-19 1h1m0 0h1m0 0h1m0 0h1m1 0h1m0 0h1m0 0h1m1 0h1m1 0h1m0 0h1m0 0h1m1 0h1m1 0h1m0 0h1m0 0h1m-21 1h1m0 0h1m0 0h1m0 0h1m0 0h1m2 0h1m2 0h1m0 0h1m0 0h1m0 0h1m2 0h1m0 0h1m0 0h1m6 0h1m-22 1h1m0 0h1m2 0h1m0 0h1m1 0h1m0 0h1m0 0h1m0 0h1m2 0h1m-17 1h1m2 0h1m0 0h1m0 0h1m0 0h1m0 0h1m5 0h1m3 0h1m6 0h1m-27 1h1m2 0h1m1 0h1m1 0h1m0 0h1m0 0h1m0 0h1m0 0h1m0 0h1m1 0h1m0 0h1m0 0h1m1 0h1m-19 1h1m0 0h1m1 0h1m1 0h1m0 0h1m0 0h1m0 0h1m0 0h1m0 0h1m0 0h1m0 0h1m0 0h1m0 0h1m0 0h1m0 0h1m0 0h1m0 0h1m-20 1h1m0 0h1m0 0h1m0 0h1m1 0h1m0 0h1m0 0h1m0 0h1m1 0h1m0 0h1m0 0h1m0 0h1m1 0h1m6 0h1m-20 1h1m0 0h1m1 0h1m0 0h1m0 0h1m0 0h1m1 0h1m0 0h1m0 0h1m9 0h1m4 0h1m-27 1h1m0 0h1m3 0h1m0 0h1m0 0h1m0 0h1m1 0h1m1 0h1m1 0h1m2 0h1m-19 1h1m1 0h1m0 0h1m2 0h1m0 0h1m0 0h1m0 0h1m0 0h1m2 0h1m1 0h1m0 0h1m-17 1h1m2 0h1m0 0h1m0 0h1m1 0h1m0 0h1m0 0h1m0 0h1m0 0h1m0 0h1m0 0h1m-13 1h1m0 0h1m0 0h1m0 0h1m0 0h1m1 0h1m0 0h1m0 0h1m0 0h1m6 0h1m-18 1h1m1 0h1m0 0h1m0 0h1m0 0h1m0 0h1m0 0h1m0 0h1m0 0h1m1 0h1m6 0h1m12 0h1m-33 1h1m0 0h1m1 0h1m0 0h1m0 0h1m0 0h1m0 0h1m1 0h1m1 0h1m0 0h1m0 0h1m0 0h1m-15 1h1m0 0h1m0 0h1m1 0h1m0 0h1m0 0h1m1 0h1m0 0h1m0 0h1m0 0h1m1 0h1m-14 1h1m0 0h1m1 0h1m0 0h1m0 0h1m0 0h1m2 0h1m0 0h1m1 0h1m0 0h1m33 0h1m-47 1h1m2 0h1m0 0h1m0 0h1m0 0h1m2 0h1m1 0h1m-12 1h1m3 0h1m0 0h1m0 0h1m0 0h1m0 0h1m0 0h1m-10 1h1m2 0h1m0 0h1m0 0h1m0 0h1m1 0h1m0 0h1m0 0h1m3 0h1m-13 1h1m0 0h1m0 0h1m0 0h1m1 0h1m4 0h1m1 0h1m-15 1h1m1 0h1m1 0h1m1 0h1m1 0h1m0 0h1m0 0h1m2 0h1m-14 1h1m2 0h1m1 0h1m2 0h1m9 0h1m-20 1h1m1 0h1m0 0h1m0 0h1m3 0h1m1 0h1m0 0h1m-12 1h1m0 0h1m0 0h1m0 0h1m0 0h1m3 0h1m-9 1h1m1 0h1m2 0h1m0 0h1m1 0h1m2 0h1m-12 1h1m0 0h1m0 0h1m0 0h1m0 0h1m1 0h1m1 0h1m-9 1h1m0 0h1m2 0h1m1 0h1m0 0h1m0 0h1m-8 1h1m1 0h1m0 0h1m0 0h1m2 0h1m-8 1h1m1 0h1m0 0h1m2 0h1m1 0h1m1 0h1m-11 1h1m0 0h1m1 0h1m0 0h1m0 0h1m0 0h1m1 0h1m-7 1h1m2 0h1m1 0h1m1 0h1" stroke="#111"/></g>
<rect x="42.30" y="669.00" width="113.50" height="106.00" fill="none" stroke="#111" stroke-width="1.3"/><path d="M42.30 669.00V775.00H155.80" fill="none" stroke="#000" stroke-width="2"/><path d="M42.30 775.00v3.50M42.30 775.00h-3.50M50.84 775.00v2.00M42.30 767.02h-2.00M55.84 775.00v2.00M42.30 762.36h-2.00M59.38 775.00v2.00M42.30 759.05h-2.00M62.13 775.00v2.00M42.30 756.48h-2.00M64.38 775.00v2.00M42.30 754.38h-2.00M66.28 775.00v2.00M42.30 752.60h-2.00M67.93 775.00v2.00M42.30 751.07h-2.00M69.38 775.00v2.00M42.30 749.71h-2.00M70.67 775.00v3.50M42.30 748.50h-3.50M79.22 775.00v2.00M42.30 740.52h-2.00M84.21 775.00v2.00M42.30 735.86h-2.00M87.76 775.00v2.00M42.30 732.55h-2.00M90.51 775.00v2.00M42.30 729.98h-2.00M92.76 775.00v2.00M42.30 727.88h-2.00M94.65 775.00v2.00M42.30 726.10h-2.00M96.30 775.00v2.00M42.30 724.57h-2.00M97.75 775.00v2.00M42.30 723.21h-2.00M99.05 775.00v3.50M42.30 722.00h-3.50M107.59 775.00v2.00M42.30 714.02h-2.00M112.59 775.00v2.00M42.30 709.36h-2.00M116.13 775.00v2.00M42.30 706.05h-2.00M118.88 775.00v2.00M42.30 703.48h-2.00M121.13 775.00v2.00M42.30 701.38h-2.00M123.03 775.00v2.00M42.30 699.60h-2.00M124.68 775.00v2.00M42.30 698.07h-2.00M126.13 775.00v2.00M42.30 696.71h-2.00M127.43 775.00v3.50M42.30 695.50h-3.50M135.97 775.00v2.00M42.30 687.52h-2.00M140.96 775.00v2.00M42.30 682.86h-2.00M144.51 775.00v2.00M42.30 679.55h-2.00M147.26 775.00v2.00M42.30 676.98h-2.00M149.51 775.00v2.00M42.30 674.88h-2.00M151.40 775.00v2.00M42.30 673.10h-2.00M153.05 775.00v2.00M42.30 671.57h-2.00M154.50 775.00v2.00M42.30 670.21h-2.00M155.80 775.00v2.5M42.30 669.00h-2.5" stroke="#000" stroke-width="1"/><path d="M69.80 669.00V775.00M42.30 748.00H155.80" stroke="#222" stroke-width="1"/><text x="35.00" y="789.00" font-size="8.3" font-weight="bold">10</text><text x="44.00" y="783.00" font-size="6.8" font-weight="bold">0</text><text x="63.38" y="789.00" font-size="8.3" font-weight="bold">10</text><text x="72.38" y="783.00" font-size="6.8" font-weight="bold">1</text><text x="91.75" y="789.00" font-size="8.3" font-weight="bold">10</text><text x="100.75" y="783.00" font-size="6.8" font-weight="bold">2</text><text x="120.13" y="789.00" font-size="8.3" font-weight="bold">10</text><text x="129.12" y="783.00" font-size="6.8" font-weight="bold">3</text><text x="148.50" y="789.00" font-size="8.3" font-weight="bold">10</text><text x="157.50" y="783.00" font-size="6.8" font-weight="bold">4</text><g transform="translate(33.50 775.00) rotate(-90)"><text x="-7.3" y="0" font-size="8.3" font-weight="bold">10</text><text x="1.8" y="-5.3" font-size="6.8" font-weight="bold">0</text></g><g transform="translate(33.50 748.50) rotate(-90)"><text x="-7.3" y="0" font-size="8.3" font-weight="bold">10</text><text x="1.8" y="-5.3" font-size="6.8" font-weight="bold">1</text></g><g transform="translate(33.50 722.00) rotate(-90)"><text x="-7.3" y="0" font-size="8.3" font-weight="bold">10</text><text x="1.8" y="-5.3" font-size="6.8" font-weight="bold">2</text></g><g transform="translate(33.50 695.50) rotate(-90)"><text x="-7.3" y="0" font-size="8.3" font-weight="bold">10</text><text x="1.8" y="-5.3" font-size="6.8" font-weight="bold">3</text></g><g transform="translate(33.50 669.00) rotate(-90)"><text x="-7.3" y="0" font-size="8.3" font-weight="bold">10</text><text x="1.8" y="-5.3" font-size="6.8" font-weight="bold">4</text></g><text x="78.30" y="799.00" font-size="9" font-weight="bold" textLength="41.5" lengthAdjust="spacingAndGlyphs">Rh50-FITC</text><text transform="translate(21.80 723.60) rotate(-90)" x="-17.75" font-size="9" font-weight="bold" textLength="35.5" lengthAdjust="spacingAndGlyphs">KELL-PE</text><text x="47.80" y="684.20" font-size="8.6" font-weight="bold" letter-spacing="0.65">58%</text><text x="125.80" y="686.40" font-size="8.6" font-weight="bold" letter-spacing="0.65">16%</text><text x="124.80" y="698.90" font-size="8.6" font-weight="bold" letter-spacing="0.00">Day 4</text>
<g fill="none" stroke-width="1"><path d="M0 0.5m215 675h1m35 13h1m-15 2h1m28 1h1m10 0h1m-14 1h1m5 0h1m3 0h1m1 0h1m1 0h1m-8 1h1m1 0h1m0 0h1m0 0h1m0 0h1m1 0h1m0 0h1m-13 1h1m0 0h1m1 0h1m2 0h1m2 0h1m0 0h1m0 0h1m-13 1h1m0 0h1m2 0h1m0 0h1m0 0h1m0 0h1m0 0h1m0 0h1m0 0h1m0 0h1m1 0h1m-20 1h1m3 0h1m1 0h1m0 0h1m0 0h1m0 0h1m1 0h1m0 0h1m0 0h1m0 0h1m0 0h1m1 0h1m-23 1h1m2 0h1m4 0h1m1 0h1m3 0h1m0 0h1m0 0h1m0 0h1m0 0h1m0 0h1m0 0h1m0 0h1m-21 1h1m5 0h1m0 0h1m0 0h1m0 0h1m0 0h1m0 0h1m0 0h1m0 0h1m0 0h1m0 0h1m0 0h1m0 0h1m0 0h1m-22 1h1m4 0h1m1 0h1m2 0h1m0 0h1m0 0h1m0 0h1m0 0h1m0 0h1m0 0h1m0 0h1m0 0h1m2 0h1m0 0h1m-21 1h1m0 0h1m0 0h1m0 0h1m2 0h1m1 0h1m0 0h1m0 0h1m0 0h1m0 0h1m0 0h1m0 0h1m0 0h1m0 0h1m0 0h1m0 0h1m-50 1h1m28 0h1m0 0h1m1 0h1m1 0h1m0 0h1m0 0h1m0 0h1m0 0h1m1 0h1m2 0h1m0 0h1m0 0h1m0 0h1m0 0h1m4 0h1m-26 1h1m3 0h1m0 0h1m0 0h1m1 0h1m2 0h1m0 0h1m1 0h1m0 0h1m0 0h1m0 0h1m1 0h1m0 0h1m-51 1h1m3 0h1m19 0h1m4 0h1m0 0h1m1 0h1m0 0h1m0 0h1m0 0h1m0 0h1m1 0h1m0 0h1m0 0h1m0 0h1m0 0h1m0 0h1m0 0h1m0 0h1m0 0h1m0 0h1m-27 1h1m2 0h1m0 0h1m2 0h1m1 0h1m0 0h1m0 0h1m0 0h1m0 0h1m0 0h1m0 0h1m0 0h1m0 0h1m0 0h1m1 0h1m3 0h1m0 0h1m0 0h1m1 0h1m0 0h1m-52 1h1m3 0h1m2 0h1m11 0h1m1 0h1m0 0h1m2 0h1m0 0h1m1 0h1m0 0h1m1 0h1m0 0h1m0 0h1m0 0h1m0 0h1m0 0h1m0 0h1m0 0h1m0 0h1m0 0h1m0 0h1m0 0h1m2 0h1m1 0h1m-43 1h1m3 0h1m9 0h1m2 0h1m0 0h1m2 0h1m1 0h1m0 0h1m0 0h1m0 0h1m1 0h1m0 0h1m0 0h1m0 0h1m0 0h1m2 0h1m0 0h1m0 0h1m0 0h1m2 0h1m-44 1h1m6 0h1m12 0h1m2 0h1m0 0h1m0 0h1m1 0h1m0 0h1m0 0h1m0 0h1m0 0h1m1 0h1m3 0h1m0 0h1m0 0h1m4 0h1m-52 1h1m6 0h1m3 0h1m8 0h1m2 0h1m2 0h1m1 0h1m1 0h1m0 0h1m0 0h1m0 0h1m0 0h1m0 0h1m1 0h1m0 0h1m0 0h1m0 0h1m0 0h1m0 0h1m2 0h1m1 0h1m-49 1h1m6 0h1m0 0h1m1 0h1m0 0h1m3 0h1m4 0h1m0 0h1m0 0h1m0 0h1m3 0h1m2 0h1m1 0h1m0 0h1m0 0h1m0 0h1m0 0h1m0 0h1m1 0h1m1 0h1m1 0h1m-44 1h1m6 0h1m0 0h1m3 0h1m0 0h1m2 0h1m0 0h1m0 0h1m2 0h1m1 0h1m2 0h1m0 0h1m0 0h1m0 0h1m0 0h1m0 0h1m0 0h1m1 0h1m0 0h1m0 0h1m0 0h1m0 0h1m0 0h1m0 0h1m1 0h1m2 0h1m-50 1h1m9 0h1m0 0h1m1 0h1m1 0h1m0 0h1m0 0h1m5 0h1m2 0h1m0 0h1m0 0h1m1 0h1m1 0h1m0 0h1m0 0h1m0 0h1m0 0h1m0 0h1m0 0h1m0 0h1m0 0h1m0 0h1m0 0h1m0 0h1m0 0h1m1 0h1m0 0h1m-44 1h1m3 0h1m0 0h1m1 0h1m0 0h1m0 0h1m0 0h1m0 0h1m3 0h1m0 0h1m2 0h1m0 0h1m0 0h1m0 0h1m0 0h1m0 0h1m0 0h1m0 0h1m1 0h1m0 0h1m0 0h1m0 0h1m2 0h1m0 0h1m0 0h1m0 0h1m0 0h1m0 0h1m1 0h1m-41 1h1m0 0h1m3 0h1m0 0h1m0 0h1m0 0h1m0 0h1m0 0h1m1 0h1m0 0h1m1 0h1m0 0h1m2 0h1m0 0h1m0 0h1m0 0h1m0 0h1m1 0h1m2 0h1m0 0h1m0 0h1m1 0h1m4 0h1m0 0h1m1 0h1m-43 1h1m5 0h1m1 0h1m0 0h1m0 0h1m0 0h1m0 0h1m2 0h1m0 0h1m0 0h1m1 0h1m1 0h1m0 0h1m1 0h1m0 0h1m1 0h1m1 0h1m0 0h1m1 0h1m1 0h1m1 0h1m-33 1h1m1 0h1m2 0h1m0 0h1m0 0h1m0 0h1m2 0h1m3 0h1m0 0h1m0 0h1m1 0h1m0 0h1m1 0h1m1 0h1m1 0h1m0 0h1m2 0h1m-33 1h1m1 0h1m1 0h1m0 0h1m1 0h1m0 0h1m0 0h1m0 0h1m0 0h1m0 0h1m1 0h1m0 0h1m3 0h1m1 0h1m0 0h1m0 0h1m1 0h1m1 0h1m1 0h1m4 0h1m8 0h1m-43 1h1m3 0h1m0 0h1m0 0h1m0 0h1m1 0h1m0 0h1m0 0h1m1 0h1m3 0h1m2 0h1m1 0h1m0 0h1m0 0h1m2 0h1m1 0h1m0 0h1m-37 1h1m6 0h1m1 0h1m0 0h1m0 0h1m1 0h1m0 0h1m1 0h1m0 0h1m0 0h1m0 0h1m0 0h1m0 0h1m0 0h1m2 0h1m0 0h1m2 0h1m1 0h1m0 0h1m0 0h1m-32 1h1m3 0h1m1 0h1m0 0h1m0 0h1m0 0h1m0 0h1m1 0h1m0 0h1m0 0h1m0 0h1m1 0h1m0 0h1m0 0h1m3 0h1m1 0h1m0 0h1m4 0h1m-31 1h1m0 0h1m1 0h1m0 0h1m0 0h1m0 0h1m1 0h1m0 0h1m0 0h1m0 0h1m0 0h1m0 0h1m0 0h1m0 0h1m0 0h1m0 0h1m2 0h1m4 0h1m0 0h1m0 0h1m0 0h1m7 0h1m-35 1h1m0 0h1m2 0h1m0 0h1m0 0h1m0 0h1m0 0h1m0 0h1m0 0h1m0 0h1m5 0h1m-19 1h1m0 0h1m1 0h1m1 0h1m0 0h1m0 0h1m1 0h1m0 0h1m0 0h1m0 0h1m0 0h1m0 0h1m0 0h1m0 0h1m0 0h1m6 0h1m3 0h1m5 0h1m-41 1h1m1 0h1m4 0h1m0 0h1m0 0h1m0 0h1m0 0h1m0 0h1m0 0h1m0 0h1m0 0h1m0 0h1m1 0h1m0 0h1m1 0h1m2 0h1m-21 1h1m2 0h1m0 0h1m0 0h1m0 0h1m0 0h1m0 0h1m0 0h1m0 0h1m0 0h1m0 0h1m0 0h1m1 0h1m0 0h1m0 0h1m0 0h1m0 0h1m2 0h1m10 0h1m5 0h1m-38 1h1m2 0h1m1 0h1m0 0h1m0 0h1m0 0h1m0 0h1m0 0h1m0 0h1m0 0h1m0 0h1m0 0h1m0 0h1m2 0h1m21 0h1m-44 1h1m1 0h1m2 0h1m0 0h1m0 0h1m0 0h1m0 0h1m0 0h1m0 0h1m0 0h1m0 0h1m0 0h1m0 0h1m1 0h1m0 0h1m0 0h1m1 0h1m1 0h1m15 0h1m-38 1h1m0 0h1m2 0h1m1 0h1m0 0h1m2 0h1m0 0h1m0 0h1m1 0h1m1 0h1m0 0h1m0 0h1m15 0h1m-37 1h1m2 0h1m1 0h1m0 0h1m0 0h1m0 0h1m0 0h1m0 0h1m0 0h1m0 0h1m0 0h1m0 0h1m0 0h1m0 0h1m1 0h1m0 0h1m-21 1h1m4 0h1m1 0h1m1 0h1m0 0h1m0 0h1m0 0h1m0 0h1m0 0h1m1 0h1m1 0h1m0 0h1m0 0h1m0 0h1m0 0h1m2 0h1m17 0h1m-40 1h1m2 0h1m0 0h1m0 0h1m0 0h1m0 0h1m0 0h1m0 0h1m0 0h1m0 0h1m0 0h1m0 0h1m0 0h1m0 0h1m0 0h1m9 0h1m19 0h1m-46 1h1m0 0h1m1 0h1m0 0h1m0 0h1m0 0h1m0 0h1m0 0h1m0 0h1m1 0h1m0 0h1m2 0h1m0 0h1m2 0h1m-25 1h1m3 0h1m2 0h1m0 0h1m0 0h1m0 0h1m0 0h1m0 0h1m0 0h1m0 0h1m0 0h1m0 0h1m0 0h1m1 0h1m1 0h1m18 0h1m-36 1h1m0 0h1m0 0h1m2 0h1m0 0h1m1 0h1m0 0h1m0 0h1m0 0h1m0 0h1m0 0h1m1 0h1m1 0h1m5 0h1m-26 1h1m5 0h1m0 0h1m0 0h1m0 0h1m0 0h1m0 0h1m0 0h1m0 0h1m0 0h1m2 0h1m0 0h1m0 0h1m-20 1h1m3 0h1m0 0h1m1 0h1m1 0h1m0 0h1m0 0h1m0 0h1m0 0h1m1 0h1m0 0h1m1 0h1m-21 1h1m3 0h1m0 0h1m1 0h1m0 0h1m2 0h1m2 0h1m0 0h1m0 0h1m0 0h1m1 0h1m0 0h1m-25 1h1m3 0h1m1 0h1m2 0h1m0 0h1m0 0h1m0 0h1m2 0h1m0 0h1m0 0h1m0 0h1m0 0h1m0 0h1m13 0h1m-35 1h1m4 0h1m0 0h1m4 0h1m0 0h1m0 0h1m0 0h1m0 0h1m0 0h1m0 0h1m0 0h1m2 0h1m2 0h1m0 0h1m4 0h1m-28 1h1m1 0h1m6 0h1m0 0h1m0 0h1m1 0h1m1 0h1m2 0h1m1 0h1m54 0h1m-71 1h1m3 0h1m0 0h1m0 0h1m2 0h1m0 0h1m1 0h1m2 0h1m-21 1h1m4 0h1m0 0h1m0 0h1m0 0h1m0 0h1m0 0h1m0 0h1m0 0h1m0 0h1m3 0h1m1 0h1m0 0h1m0 0h1m-21 1h1m0 0h1m2 0h1m6 0h1m23 0h1m-33 1h1m4 0h1m0 0h1m0 0h1m3 0h1m1 0h1m0 0h1m-16 1h1m0 0h1m1 0h1m1 0h1m0 0h1m0 0h1m0 0h1m0 0h1m4 0h1m-22 1h1m5 0h1m2 0h1m0 0h1m1 0h1m4 0h1m0 0h1m7 0h1m10 0h1m12 0h1m-50 1h1m3 0h1m0 0h1m0 0h1m1 0h1m0 0h1m2 0h1m0 0h1m0 0h1m1 0h1m-18 1h1m1 0h1m2 0h1m3 0h1m2 0h1m1 0h1m4 0h1m9 0h1m-27 1h1m0 0h1m2 0h1m0 0h1m0 0h1m7 0h1m1 0h1m4 0h1m-18 1h1m0 0h1m2 0h1m0 0h1m5 0h1m11 0h1m-29 1h1m1 0h1m10 0h1m28 0h1m-40 1h1m0 0h1m2 0h1m1 0h1m0 0h1m1 0h1m-11 1h1m1 0h1m0 0h1m0 0h1m1 0h1m10 0h1m1 0h1m43 0h1m-68 1h1m0 0h1m3 0h1m0 0h1m0 0h1m0 0h1m1 0h1m0 0h1m3 0h1m37 0h1m-52 1h1m1 0h1m0 0h1m1 0h1m1 0h1m0 0h1m1 0h1m8 0h1m-18 1h1m0 0h1m2 0h1m0 0h1m0 0h1m2 0h1m3 0h1m0 0h1m-13 1h1m0 0h1m0 0h1m0 0h1m-10 1h1m2 0h1m3 0h1m0 0h1m0 0h1m1 0h1m3 0h1m-12 1h1m5 0h1m0 0h1m1 0h1m-6 1h1m0 0h1m-4 1h1m0 0h1m1 0h1m1 0h1m1 0h1m0 0h1m-8 1h1m4 0h1m0 0h1m-12 1h1m0 0h1m8 0h1m-5 1h1m70 2h1m-66 1h1m-12 2h1m-4 1h1m4 0h1m2 2h1m20 1h1" stroke="#666"/><path d="M0 0.5m267 692h1m6 0h1m0 0h1m0 0h1m0 0h1m-6 1h1m0 0h1m0 0h1m0 0h1m0 0h1m0 0h1m-13 1h1m3 0h1m0 0h1m1 0h1m0 0h1m0 0h1m0 0h1m1 0h1m0 0h1m0 0h1m0 0h1m-16 1h1m4 0h1m0 0h1m1 0h1m0 0h1m0 0h1m0 0h1m0 0h1m-17 1h1m5 0h1m0 0h1m1 0h1m0 0h1m0 0h1m0 0h1m0 0h1m0 0h1m0 0h1m0 0h1m-26 1h1m7 0h1m0 0h1m1 0h1m0 0h1m2 0h1m1 0h1m0 0h1m0 0h1m0 0h1m0 0h1m0 0h1m0 0h1m0 0h1m0 0h1m-27 1h1m4 0h1m4 0h1m2 0h1m1 0h1m0 0h1m1 0h1m0 0h1m0 0h1m0 0h1m0 0h1m0 0h1m0 0h1m-49 1h1m32 0h1m1 0h1m0 0h1m0 0h1m1 0h1m0 0h1m1 0h1m0 0h1m0 0h1m1 0h1m2 0h1m0 0h1m1 0h1m-39 1h1m11 0h1m0 0h1m0 0h1m1 0h1m4 0h1m1 0h1m0 0h1m0 0h1m0 0h1m0 0h1m0 0h1m0 0h1m0 0h1m0 0h1m3 0h1m-47 1h1m18 0h1m1 0h1m1 0h1m6 0h1m0 0h1m0 0h1m0 0h1m0 0h1m0 0h1m1 0h1m0 0h1m0 0h1m0 0h1m0 0h1m0 0h1m-26 1h1m0 0h1m3 0h1m1 0h1m1 0h1m0 0h1m0 0h1m1 0h1m0 0h1m1 0h1m0 0h1m0 0h1m0 0h1m0 0h1m0 0h1m0 0h1m0 0h1m-45 1h1m23 0h1m1 0h1m1 0h1m0 0h1m0 0h1m0 0h1m0 0h1m0 0h1m0 0h1m0 0h1m1 0h1m0 0h1m0 0h1m3 0h1m0 0h1m-52 1h1m3 0h1m1 0h1m23 0h1m0 0h1m0 0h1m2 0h1m0 0h1m0 0h1m0 0h1m0 0h1m0 0h1m0 0h1m0 0h1m1 0h1m2 0h1m4 0h1m-49 1h1m17 0h1m2 0h1m1 0h1m0 0h1m1 0h1m0 0h1m1 0h1m0 0h1m0 0h1m0 0h1m0 0h1m2 0h1m0 0h1m0 0h1m1 0h1m1 0h1m0 0h1m0 0h1m1 0h1m-33 1h1m6 0h1m2 0h1m1 0h1m1 0h1m1 0h1m0 0h1m0 0h1m1 0h1m0 0h1m0 0h1m1 0h1m3 0h1m-47 1h1m14 0h1m3 0h1m2 0h1m1 0h1m1 0h1m0 0h1m0 0h1m0 0h1m0 0h1m0 0h1m1 0h1m0 0h1m0 0h1m1 0h1m0 0h1m1 0h1m3 0h1m0 0h1m-41 1h1m0 0h1m2 0h1m1 0h1m6 0h1m0 0h1m0 0h1m3 0h1m1 0h1m0 0h1m0 0h1m1 0h1m0 0h1m0 0h1m0 0h1m0 0h1m0 0h1m0 0h1m0 0h1m1 0h1m0 0h1m0 0h1m1 0h1m0 0h1m-52 1h1m3 0h1m11 0h1m0 0h1m7 0h1m2 0h1m0 0h1m0 0h1m0 0h1m0 0h1m0 0h1m0 0h1m0 0h1m0 0h1m1 0h1m0 0h1m0 0h1m0 0h1m0 0h1m0 0h1m5 0h1m0 0h1m-40 1h1m0 0h1m0 0h1m0 0h1m2 0h1m2 0h1m0 0h1m1 0h1m0 0h1m0 0h1m1 0h1m0 0h1m0 0h1m0 0h1m0 0h1m0 0h1m0 0h1m0 0h1m0 0h1m0 0h1m0 0h1m1 0h1m0 0h1m0 0h1m0 0h1m0 0h1m1 0h1m0 0h1m2 0h1m0 0h1m1 0h1m-53 1h1m1 0h1m4 0h1m3 0h1m0 0h1m1 0h1m0 0h1m0 0h1m4 0h1m0 0h1m0 0h1m0 0h1m1 0h1m0 0h1m0 0h1m0 0h1m0 0h1m0 0h1m0 0h1m0 0h1m0 0h1m0 0h1m0 0h1m3 0h1m2 0h1m0 0h1m3 0h1m-45 1h1m1 0h1m2 0h1m1 0h1m0 0h1m1 0h1m1 0h1m1 0h1m0 0h1m1 0h1m1 0h1m0 0h1m0 0h1m0 0h1m0 0h1m0 0h1m1 0h1m0 0h1m0 0h1m0 0h1m0 0h1m0 0h1m0 0h1m1 0h1m1 0h1m0 0h1m4 0h1m2 0h1m-45 1h1m0 0h1m4 0h1m0 0h1m0 0h1m0 0h1m0 0h1m0 0h1m0 0h1m0 0h1m2 0h1m1 0h1m3 0h1m0 0h1m0 0h1m0 0h1m0 0h1m0 0h1m0 0h1m0 0h1m0 0h1m0 0h1m0 0h1m1 0h1m0 0h1m1 0h1m1 0h1m-42 1h1m4 0h1m1 0h1m0 0h1m0 0h1m3 0h1m0 0h1m1 0h1m0 0h1m2 0h1m0 0h1m0 0h1m0 0h1m0 0h1m0 0h1m0 0h1m0 0h1m0 0h1m1 0h1m0 0h1m3 0h1m0 0h1m11 0h1m-52 1h1m6 0h1m0 0h1m0 0h1m0 0h1m1 0h1m0 0h1m0 0h1m0 0h1m0 0h1m0 0h1m0 0h1m0 0h1m0 0h1m0 0h1m0 0h1m2 0h1m0 0h1m0 0h1m0 0h1m3 0h1m2 0h1m0 0h1m0 0h1m-39 1h1m3 0h1m3 0h1m2 0h1m0 0h1m0 0h1m0 0h1m1 0h1m0 0h1m0 0h1m0 0h1m5 0h1m1 0h1m0 0h1m0 0h1m0 0h1m0 0h1m0 0h1m0 0h1m0 0h1m-33 1h1m3 0h1m2 0h1m0 0h1m0 0h1m0 0h1m1 0h1m0 0h1m0 0h1m0 0h1m5 0h1m2 0h1m0 0h1m0 0h1m0 0h1m0 0h1m0 0h1m1 0h1m0 0h1m4 0h1m-41 1h1m7 0h1m0 0h1m0 0h1m1 0h1m1 0h1m0 0h1m0 0h1m0 0h1m1 0h1m1 0h1m0 0h1m1 0h1m0 0h1m1 0h1m0 0h1m0 0h1m0 0h1m2 0h1m-28 1h1m0 0h1m0 0h1m0 0h1m0 0h1m0 0h1m0 0h1m0 0h1m0 0h1m0 0h1m0 0h1m0 0h1m0 0h1m0 0h1m0 0h1m0 0h1m2 0h1m1 0h1m0 0h1m1 0h1m7 0h1m-33 1h1m0 0h1m0 0h1m0 0h1m0 0h1m2 0h1m0 0h1m0 0h1m0 0h1m0 0h1m1 0h1m0 0h1m0 0h1m0 0h1m2 0h1m6 0h1m-30 1h1m3 0h1m1 0h1m0 0h1m0 0h1m0 0h1m0 0h1m0 0h1m0 0h1m0 0h1m0 0h1m1 0h1m0 0h1m1 0h1m8 0h1m7 0h1m-37 1h1m2 0h1m0 0h1m0 0h1m3 0h1m2 0h1m0 0h1m1 0h1m0 0h1m0 0h1m2 0h1m1 0h1m5 0h1m0 0h1m1 0h1m16 0h1m-47 1h1m1 0h1m0 0h1m1 0h1m0 0h1m0 0h1m0 0h1m0 0h1m0 0h1m2 0h1m0 0h1m0 0h1m6 0h1m2 0h1m2 0h1m2 0h1m-35 1h1m2 0h1m4 0h1m0 0h1m1 0h1m0 0h1m0 0h1m1 0h1m0 0h1m0 0h1m0 0h1m0 0h1m1 0h1m0 0h1m4 0h1m-25 1h1m1 0h1m0 0h1m0 0h1m0 0h1m0 0h1m0 0h1m0 0h1m0 0h1m0 0h1m0 0h1m0 0h1m0 0h1m0 0h1m0 0h1m0 0h1m0 0h1m0 0h1m0 0h1m0 0h1m-19 1h1m0 0h1m0 0h1m0 0h1m0 0h1m0 0h1m1 0h1m0 0h1m0 0h1m0 0h1m0 0h1m1 0h1m0 0h1m1 0h1m3 0h1m6 0h1m-29 1h1m1 0h1m0 0h1m0 0h1m1 0h1m0 0h1m0 0h1m0 0h1m1 0h1m0 0h1m0 0h1m1 0h1m-18 1h1m3 0h1m0 0h1m0 0h1m0 0h1m0 0h1m0 0h1m0 0h1m0 0h1m0 0h1m0 0h1m0 0h1m0 0h1m0 0h1m0 0h1m1 0h1m4 0h1m0 0h1m3 0h1m-29 1h1m0 0h1m0 0h1m0 0h1m0 0h1m1 0h1m0 0h1m0 0h1m0 0h1m0 0h1m0 0h1m1 0h1m0 0h1m0 0h1m2 0h1m0 0h1m-21 1h1m0 0h1m3 0h1m0 0h1m0 0h1m0 0h1m0 0h1m0 0h1m0 0h1m0 0h1m0 0h1m0 0h1m0 0h1m0 0h1m0 0h1m0 0h1m5 0h1m-29 1h1m7 0h1m0 0h1m0 0h1m0 0h1m0 0h1m0 0h1m0 0h1m0 0h1m0 0h1m0 0h1m0 0h1m4 0h1m0 0h1m2 0h1m6 0h1m29 0h1m-57 1h1m1 0h1m0 0h1m0 0h1m1 0h1m0 0h1m0 0h1m0 0h1m0 0h1m0 0h1m0 0h1m0 0h1m2 0h1m-20 1h1m2 0h1m1 0h1m0 0h1m1 0h1m0 0h1m0 0h1m0 0h1m0 0h1m0 0h1m0 0h1m0 0h1m3 0h1m-22 1h1m3 0h1m1 0h1m4 0h1m1 0h1m0 0h1m0 0h1m0 0h1m0 0h1m3 0h1m0 0h1m6 0h1m-30 1h1m3 0h1m0 0h1m0 0h1m1 0h1m0 0h1m0 0h1m0 0h1m0 0h1m0 0h1m0 0h1m0 0h1m0 0h1m0 0h1m0 0h1m4 0h1m11 0h1m-33 1h1m1 0h1m1 0h1m1 0h1m0 0h1m0 0h1m0 0h1m0 0h1m3 0h1m2 0h1m3 0h1m3 0h1m-30 1h1m4 0h1m0 0h1m0 0h1m1 0h1m0 0h1m0 0h1m0 0h1m1 0h1m4 0h1m0 0h1m0 0h1m14 0h1m-34 1h1m4 0h1m0 0h1m1 0h1m0 0h1m0 0h1m0 0h1m0 0h1m1 0h1m1 0h1m1 0h1m8 0h1m-23 1h1m0 0h1m0 0h1m0 0h1m0 0h1m0 0h1m1 0h1m0 0h1m2 0h1m12 0h1m-34 1h1m1 0h1m0 0h1m3 0h1m0 0h1m0 0h1m0 0h1m0 0h1m1 0h1m0 0h1m0 0h1m2 0h1m0 0h1m2 0h1m-21 1h1m0 0h1m0 0h1m4 0h1m2 0h1m4 0h1m0 0h1m0 0h1m-21 1h1m1 0h1m3 0h1m1 0h1m0 0h1m0 0h1m0 0h1m0 0h1m1 0h1m0 0h1m0 0h1m0 0h1m1 0h1m3 0h1m-21 1h1m0 0h1m2 0h1m0 0h1m1 0h1m3 0h1m2 0h1m2 0h1m20 0h1m-39 1h1m1 0h1m1 0h1m3 0h1m3 0h1m4 0h1m-21 1h1m3 0h1m1 0h1m0 0h1m0 0h1m7 0h1m1 0h1m27 0h1m-45 1h1m2 0h1m0 0h1m1 0h1m1 0h1m2 0h1m2 0h1m3 0h1m-23 1h1m5 0h1m0 0h1m0 0h1m0 0h1m0 0h1m1 0h1m22 0h1m-36 1h1m0 0h1m3 0h1m9 0h1m1 0h1m-16 1h1m3 0h1m0 0h1m0 0h1m1 0h1m0 0h1m18 0h1m-26 1h1m0 0h1m0 0h1m0 0h1m4 0h1m0 0h1m3 0h1m-12 1h1m5 0h1m6 0h1m-18 1h1m0 0h1m0 0h1m0 0h1m0 0h1m2 0h1m0 0h1m1 0h1m-14 1h1m0 0h1m0 0h1m4 0h1m3 0h1m2 0h1m-11 1h1m0 0h1m0 0h1m0 0h1m1 0h1m0 0h1m2 0h1m1 0h1m0 0h1m-9 1h1m0 0h1m1 0h1m-8 1h1m3 0h1m0 0h1m-6 1h1m12 0h1m-14 1h1m0 0h1m2 0h1m1 0h1m0 0h1m0 0h1m4 0h1m-16 1h1m0 0h1m1 0h1m3 0h1m0 0h1m6 0h1m-12 1h1m1 0h1m1 0h1m1 0h1m0 0h1m-13 1h1m3 0h1m4 0h1m0 0h1m6 0h1m-15 1h1m2 0h1m3 0h1m-12 1h1m5 0h1m-6 1h1m5 1h1m4 0h1m-1 1h1m-5 3h1m1 0h1" stroke="#3c3c3c"/><path d="M0 0.5m297 676h1m-26 16h1m0 0h1m0 0h1m1 0h1m0 0h1m0 0h1m-16 1h1m9 0h1m1 0h1m1 0h1m0 0h1m-10 1h1m3 0h1m0 0h1m0 0h1m0 0h1m1 0h1m0 0h1m-18 1h1m0 0h1m7 0h1m0 0h1m0 0h1m0 0h1m0 0h1m0 0h1m0 0h1m0 0h1m-26 1h1m14 0h1m1 0h1m1 0h1m2 0h1m0 0h1m1 0h1m0 0h1m-24 1h1m11 0h1m0 0h1m0 0h1m0 0h1m1 0h1m0 0h1m0 0h1m0 0h1m0 0h1m-22 1h1m1 0h1m3 0h1m2 0h1m1 0h1m0 0h1m1 0h1m0 0h1m0 0h1m1 0h1m-16 1h1m1 0h1m2 0h1m0 0h1m0 0h1m0 0h1m0 0h1m0 0h1m0 0h1m2 0h1m1 0h1m-18 1h1m0 0h1m0 0h1m0 0h1m0 0h1m0 0h1m0 0h1m0 0h1m0 0h1m0 0h1m0 0h1m0 0h1m2 0h1m1 0h1m1 0h1m-25 1h1m2 0h1m0 0h1m1 0h1m2 0h1m1 0h1m0 0h1m0 0h1m0 0h1m0 0h1m0 0h1m0 0h1m0 0h1m0 0h1m0 0h1m4 0h1m-33 1h1m4 0h1m0 0h1m0 0h1m0 0h1m0 0h1m0 0h1m1 0h1m0 0h1m0 0h1m0 0h1m0 0h1m0 0h1m0 0h1m2 0h1m1 0h1m0 0h1m0 0h1m1 0h1m-27 1h1m3 0h1m1 0h1m0 0h1m0 0h1m0 0h1m0 0h1m0 0h1m0 0h1m0 0h1m0 0h1m0 0h1m0 0h1m0 0h1m0 0h1m0 0h1m0 0h1m0 0h1m0 0h1m0 0h1m3 0h1m0 0h1m-53 1h1m6 0h1m12 0h1m4 0h1m1 0h1m0 0h1m3 0h1m1 0h1m0 0h1m0 0h1m0 0h1m0 0h1m0 0h1m0 0h1m0 0h1m0 0h1m2 0h1m0 0h1m2 0h1m-59 1h1m7 0h1m21 0h1m1 0h1m0 0h1m0 0h1m0 0h1m0 0h1m0 0h1m0 0h1m0 0h1m1 0h1m0 0h1m1 0h1m0 0h1m0 0h1m0 0h1m1 0h1m0 0h1m1 0h1m-46 1h1m4 0h1m6 0h1m0 0h1m6 0h1m0 0h1m1 0h1m0 0h1m1 0h1m0 0h1m1 0h1m0 0h1m0 0h1m0 0h1m0 0h1m0 0h1m1 0h1m0 0h1m0 0h1m1 0h1m0 0h1m0 0h1m0 0h1m3 0h1m-47 1h1m4 0h1m0 0h1m8 0h1m2 0h1m1 0h1m0 0h1m0 0h1m0 0h1m3 0h1m1 0h1m0 0h1m0 0h1m0 0h1m0 0h1m0 0h1m0 0h1m0 0h1m0 0h1m0 0h1m0 0h1m1 0h1m1 0h1m-43 1h1m3 0h1m6 0h1m1 0h1m0 0h1m1 0h1m0 0h1m0 0h1m0 0h1m1 0h1m1 0h1m1 0h1m1 0h1m0 0h1m0 0h1m1 0h1m0 0h1m0 0h1m0 0h1m2 0h1m0 0h1m-28 1h1m6 0h1m0 0h1m0 0h1m0 0h1m0 0h1m0 0h1m0 0h1m0 0h1m1 0h1m1 0h1m2 0h1m-44 1h1m7 0h1m5 0h1m2 0h1m0 0h1m0 0h1m0 0h1m1 0h1m1 0h1m1 0h1m4 0h1m0 0h1m1 0h1m0 0h1m2 0h1m0 0h1m0 0h1m0 0h1m1 0h1m4 0h1m1 0h1m2 0h1m-45 1h1m1 0h1m1 0h1m3 0h1m0 0h1m5 0h1m0 0h1m0 0h1m0 0h1m0 0h1m0 0h1m1 0h1m0 0h1m1 0h1m0 0h1m1 0h1m0 0h1m0 0h1m0 0h1m0 0h1m0 0h1m1 0h1m0 0h1m2 0h1m-46 1h1m3 0h1m2 0h1m0 0h1m0 0h1m0 0h1m0 0h1m0 0h1m2 0h1m0 0h1m0 0h1m2 0h1m1 0h1m2 0h1m0 0h1m0 0h1m0 0h1m0 0h1m0 0h1m1 0h1m1 0h1m0 0h1m0 0h1m0 0h1m0 0h1m4 0h1m-40 1h1m1 0h1m0 0h1m0 0h1m0 0h1m0 0h1m1 0h1m1 0h1m0 0h1m2 0h1m1 0h1m1 0h1m3 0h1m0 0h1m0 0h1m0 0h1m0 0h1m1 0h1m1 0h1m0 0h1m0 0h1m3 0h1m-37 1h1m1 0h1m0 0h1m0 0h1m1 0h1m1 0h1m0 0h1m2 0h1m0 0h1m0 0h1m0 0h1m1 0h1m0 0h1m0 0h1m0 0h1m0 0h1m0 0h1m0 0h1m1 0h1m0 0h1m0 0h1m0 0h1m1 0h1m1 0h1m-36 1h1m4 0h1m0 0h1m0 0h1m0 0h1m0 0h1m0 0h1m0 0h1m0 0h1m0 0h1m0 0h1m0 0h1m0 0h1m1 0h1m1 0h1m0 0h1m0 0h1m0 0h1m0 0h1m0 0h1m0 0h1m0 0h1m0 0h1m0 0h1m1 0h1m0 0h1m0 0h1m6 0h1m-41 1h1m1 0h1m0 0h1m0 0h1m0 0h1m0 0h1m1 0h1m0 0h1m0 0h1m0 0h1m0 0h1m0 0h1m1 0h1m6 0h1m0 0h1m0 0h1m2 0h1m0 0h1m1 0h1m0 0h1m1 0h1m-38 1h1m5 0h1m0 0h1m3 0h1m0 0h1m0 0h1m0 0h1m0 0h1m0 0h1m0 0h1m1 0h1m2 0h1m0 0h1m4 0h1m2 0h1m0 0h1m1 0h1m0 0h1m-33 1h1m3 0h1m0 0h1m1 0h1m0 0h1m1 0h1m0 0h1m0 0h1m0 0h1m0 0h1m0 0h1m7 0h1m1 0h1m3 0h1m-27 1h1m3 0h1m0 0h1m0 0h1m0 0h1m1 0h1m0 0h1m0 0h1m0 0h1m0 0h1m1 0h1m0 0h1m0 0h1m1 0h1m3 0h1m1 0h1m0 0h1m1 0h1m7 0h1m-40 1h1m3 0h1m0 0h1m0 0h1m0 0h1m0 0h1m0 0h1m0 0h1m0 0h1m0 0h1m0 0h1m0 0h1m0 0h1m0 0h1m5 0h1m2 0h1m4 0h1m-31 1h1m2 0h1m3 0h1m0 0h1m1 0h1m0 0h1m0 0h1m1 0h1m0 0h1m0 0h1m0 0h1m1 0h1m6 0h1m-30 1h1m2 0h1m1 0h1m0 0h1m1 0h1m1 0h1m0 0h1m0 0h1m0 0h1m0 0h1m0 0h1m0 0h1m1 0h1m0 0h1m3 0h1m1 0h1m3 0h1m-29 1h1m2 0h1m0 0h1m0 0h1m0 0h1m0 0h1m0 0h1m0 0h1m0 0h1m1 0h1m0 0h1m0 0h1m1 0h1m0 0h1m0 0h1m0 0h1m0 0h1m4 0h1m6 0h1m-27 1h1m0 0h1m0 0h1m0 0h1m1 0h1m0 0h1m1 0h1m2 0h1m1 0h1m1 0h1m0 0h1m-20 1h1m1 0h1m0 0h1m0 0h1m1 0h1m1 0h1m0 0h1m0 0h1m0 0h1m3 0h1m0 0h1m3 0h1m14 0h1m-38 1h1m1 0h1m1 0h1m0 0h1m0 0h1m1 0h1m0 0h1m0 0h1m0 0h1m0 0h1m0 0h1m0 0h1m1 0h1m0 0h1m0 0h1m0 0h1m2 0h1m25 0h1m-51 1h1m2 0h1m4 0h1m0 0h1m0 0h1m0 0h1m0 0h1m0 0h1m0 0h1m0 0h1m0 0h1m0 0h1m7 0h1m-28 1h1m3 0h1m3 0h1m0 0h1m0 0h1m0 0h1m0 0h1m0 0h1m0 0h1m0 0h1m0 0h1m0 0h1m1 0h1m0 0h1m0 0h1m0 0h1m3 0h1m0 0h1m5 0h1m13 0h1m13 0h1m-61 1h1m3 0h1m0 0h1m0 0h1m0 0h1m0 0h1m0 0h1m0 0h1m0 0h1m0 0h1m0 0h1m1 0h1m0 0h1m0 0h1m0 0h1m0 0h1m31 0h1m-47 1h1m1 0h1m0 0h1m1 0h1m0 0h1m1 0h1m0 0h1m0 0h1m0 0h1m1 0h1m0 0h1m0 0h1m0 0h1m0 0h1m3 0h1m-20 1h1m1 0h1m0 0h1m0 0h1m0 0h1m0 0h1m0 0h1m0 0h1m0 0h1m0 0h1m1 0h1m1 0h1m1 0h1m13 0h1m-38 1h1m1 0h1m0 0h1m2 0h1m1 0h1m0 0h1m0 0h1m0 0h1m0 0h1m0 0h1m0 0h1m0 0h1m0 0h1m1 0h1m2 0h1m0 0h1m0 0h1m11 0h1m2 0h1m-38 1h1m4 0h1m1 0h1m0 0h1m0 0h1m0 0h1m0 0h1m0 0h1m0 0h1m0 0h1m0 0h1m0 0h1m0 0h1m1 0h1m0 0h1m-16 1h1m0 0h1m0 0h1m0 0h1m1 0h1m0 0h1m0 0h1m2 0h1m0 0h1m2 0h1m0 0h1m1 0h1m-22 1h1m2 0h1m1 0h1m0 0h1m0 0h1m0 0h1m0 0h1m0 0h1m0 0h1m1 0h1m0 0h1m0 0h1m0 0h1m0 0h1m3 0h1m0 0h1m1 0h1m-27 1h1m4 0h1m2 0h1m0 0h1m1 0h1m0 0h1m1 0h1m0 0h1m0 0h1m0 0h1m0 0h1m1 0h1m6 0h1m2 0h1m-29 1h1m1 0h1m3 0h1m1 0h1m1 0h1m1 0h1m0 0h1m0 0h1m0 0h1m0 0h1m3 0h1m2 0h1m-21 1h1m1 0h1m0 0h1m1 0h1m1 0h1m0 0h1m0 0h1m0 0h1m0 0h1m0 0h1m1 0h1m6 0h1m24 0h1m-46 1h1m0 0h1m2 0h1m1 0h1m3 0h1m4 0h1m0 0h1m-17 1h1m0 0h1m2 0h1m0 0h1m0 0h1m0 0h1m0 0h1m1 0h1m0 0h1m0 0h1m4 0h1m-22 1h1m0 0h1m0 0h1m0 0h1m2 0h1m1 0h1m0 0h1m0 0h1m2 0h1m3 0h1m2 0h1m4 0h1m-24 1h1m2 0h1m0 0h1m2 0h1m0 0h1m3 0h1m1 0h1m5 0h1m7 0h1m-29 1h1m1 0h1m0 0h1m3 0h1m0 0h1m5 0h1m3 0h1m14 0h1m-37 1h1m0 0h1m0 0h1m0 0h1m0 0h1m2 0h1m3 0h1m1 0h1m2 0h1m1 0h1m1 0h1m2 0h1m-22 1h1m2 0h1m0 0h1m2 0h1m0 0h1m3 0h1m0 0h1m24 0h1m-42 1h1m1 0h1m0 0h1m0 0h1m1 0h1m0 0h1m7 0h1m1 0h1m-20 1h1m3 0h1m1 0h1m2 0h1m4 0h1m6 0h1m-18 1h1m4 0h1m0 0h1m0 0h1m4 0h1m0 0h1m0 0h1m-13 1h1m0 0h1m0 0h1m1 0h1m-8 1h1m0 0h1m2 0h1m1 0h1m31 0h1m-43 1h1m3 0h1m1 0h1m1 0h1m0 0h1m2 0h1m2 0h1m0 0h1m9 0h1m-23 1h1m2 0h1m3 0h1m1 0h1m0 0h1m25 0h1m-39 1h1m4 0h1m2 0h1m0 0h1m1 0h1m55 0h1m-67 1h1m1 0h1m0 0h1m2 0h1m0 0h1m3 0h1m-12 1h1m1 0h1m0 0h1m5 0h1m0 0h1m4 0h1m-17 1h1m0 0h1m0 0h1m1 0h1m1 0h1m3 0h1m1 0h1m-12 1h1m2 0h1m0 0h1m1 0h1m-7 1h1m6 0h1m0 0h1m-4 1h1m1 0h1m1 0h1m1 0h1m2 0h1m68 0h1m-84 1h1m3 0h1m0 0h1m-4 1h1m0 0h1m5 0h1m-7 1h1m3 0h1m-4 1h1m6 0h1m-9 1h1m4 0h1m5 0h1m-12 1h1m9 1h1m-1 1h1m-3 1h1m-15 2h1m5 0h1m7 2h1" stroke="#222"/><path d="M0 0.5m276 690h1m-1 1h1m-8 1h1m5 0h1m0 0h1m1 0h1m-7 1h1m2 0h1m0 0h1m0 0h1m0 0h1m-14 1h1m2 0h1m0 0h1m0 0h1m1 0h1m0 0h1m1 0h1m0 0h1m0 0h1m0 0h1m0 0h1m-14 1h1m0 0h1m0 0h1m5 0h1m0 0h1m0 0h1m0 0h1m1 0h1m-16 1h1m1 0h1m1 0h1m1 0h1m2 0h1m0 0h1m0 0h1m1 0h1m0 0h1m-16 1h1m0 0h1m0 0h1m0 0h1m0 0h1m0 0h1m0 0h1m0 0h1m0 0h1m0 0h1m0 0h1m0 0h1m0 0h1m0 0h1m0 0h1m-21 1h1m4 0h1m0 0h1m0 0h1m0 0h1m0 0h1m0 0h1m0 0h1m0 0h1m1 0h1m0 0h1m1 0h1m0 0h1m0 0h1m-55 1h1m32 0h1m2 0h1m0 0h1m1 0h1m0 0h1m1 0h1m1 0h1m0 0h1m0 0h1m0 0h1m0 0h1m0 0h1m0 0h1m-46 1h1m22 0h1m4 0h1m0 0h1m1 0h1m0 0h1m0 0h1m2 0h1m0 0h1m0 0h1m0 0h1m0 0h1m0 0h1m0 0h1m0 0h1m0 0h1m0 0h1m0 0h1m0 0h1m-51 1h1m20 0h1m2 0h1m3 0h1m3 0h1m4 0h1m0 0h1m0 0h1m1 0h1m0 0h1m0 0h1m0 0h1m3 0h1m-20 1h1m0 0h1m0 0h1m0 0h1m0 0h1m0 0h1m0 0h1m0 0h1m0 0h1m0 0h1m0 0h1m1 0h1m1 0h1m1 0h1m1 0h1m0 0h1m-27 1h1m4 0h1m1 0h1m1 0h1m0 0h1m1 0h1m0 0h1m0 0h1m1 0h1m3 0h1m0 0h1m2 0h1m8 0h1m-40 1h1m7 0h1m0 0h1m0 0h1m2 0h1m0 0h1m1 0h1m0 0h1m0 0h1m1 0h1m1 0h1m0 0h1m1 0h1m-43 1h1m6 0h1m11 0h1m0 0h1m4 0h1m1 0h1m0 0h1m0 0h1m0 0h1m0 0h1m1 0h1m1 0h1m0 0h1m0 0h1m0 0h1m1 0h1m1 0h1m0 0h1m1 0h1m0 0h1m0 0h1m-30 1h1m3 0h1m2 0h1m2 0h1m0 0h1m0 0h1m0 0h1m0 0h1m0 0h1m1 0h1m1 0h1m1 0h1m1 0h1m-41 1h1m0 0h1m3 0h1m2 0h1m8 0h1m1 0h1m0 0h1m0 0h1m1 0h1m0 0h1m0 0h1m0 0h1m0 0h1m0 0h1m0 0h1m0 0h1m1 0h1m0 0h1m0 0h1m1 0h1m0 0h1m2 0h1m-47 1h1m5 0h1m9 0h1m3 0h1m1 0h1m2 0h1m1 0h1m0 0h1m0 0h1m0 0h1m0 0h1m0 0h1m1 0h1m0 0h1m0 0h1m1 0h1m2 0h1m4 0h1m3 0h1m-45 1h1m2 0h1m0 0h1m2 0h1m3 0h1m2 0h1m2 0h1m1 0h1m0 0h1m0 0h1m0 0h1m0 0h1m0 0h1m1 0h1m0 0h1m0 0h1m0 0h1m0 0h1m0 0h1m0 0h1m0 0h1m3 0h1m0 0h1m-38 1h1m0 0h1m0 0h1m0 0h1m3 0h1m2 0h1m0 0h1m0 0h1m3 0h1m0 0h1m0 0h1m0 0h1m1 0h1m3 0h1m1 0h1m0 0h1m0 0h1m0 0h1m3 0h1m0 0h1m-39 1h1m1 0h1m0 0h1m0 0h1m4 0h1m1 0h1m1 0h1m0 0h1m0 0h1m2 0h1m3 0h1m1 0h1m0 0h1m0 0h1m0 0h1m1 0h1m0 0h1m1 0h1m1 0h1m0 0h1m-40 1h1m3 0h1m1 0h1m1 0h1m0 0h1m1 0h1m4 0h1m1 0h1m1 0h1m1 0h1m0 0h1m1 0h1m0 0h1m0 0h1m0 0h1m0 0h1m0 0h1m0 0h1m0 0h1m1 0h1m16 0h1m-50 1h1m0 0h1m2 0h1m0 0h1m0 0h1m0 0h1m0 0h1m2 0h1m2 0h1m1 0h1m2 0h1m1 0h1m0 0h1m0 0h1m0 0h1m0 0h1m0 0h1m1 0h1m0 0h1m3 0h1m5 0h1m-44 1h1m2 0h1m0 0h1m0 0h1m0 0h1m0 0h1m0 0h1m0 0h1m0 0h1m0 0h1m0 0h1m1 0h1m0 0h1m5 0h1m0 0h1m0 0h1m0 0h1m0 0h1m0 0h1m0 0h1m1 0h1m1 0h1m3 0h1m3 0h1m-40 1h1m0 0h1m1 0h1m3 0h1m0 0h1m0 0h1m0 0h1m0 0h1m1 0h1m1 0h1m0 0h1m4 0h1m1 0h1m0 0h1m0 0h1m0 0h1m0 0h1m1 0h1m1 0h1m0 0h1m1 0h1m4 0h1m-39 1h1m1 0h1m0 0h1m0 0h1m1 0h1m0 0h1m0 0h1m0 0h1m0 0h1m0 0h1m0 0h1m0 0h1m1 0h1m3 0h1m0 0h1m0 0h1m0 0h1m1 0h1m1 0h1m0 0h1m-32 1h1m1 0h1m0 0h1m0 0h1m0 0h1m0 0h1m1 0h1m0 0h1m0 0h1m0 0h1m0 0h1m0 0h1m0 0h1m1 0h1m0 0h1m0 0h1m7 0h1m0 0h1m0 0h1m0 0h1m-30 1h1m1 0h1m2 0h1m1 0h1m0 0h1m1 0h1m1 0h1m0 0h1m0 0h1m0 0h1m8 0h1m0 0h1m0 0h1m0 0h1m0 0h1m3 0h1m1 0h1m1 0h1m1 0h1m-36 1h1m0 0h1m0 0h1m0 0h1m0 0h1m1 0h1m1 0h1m0 0h1m1 0h1m0 0h1m0 0h1m0 0h1m0 0h1m0 0h1m0 0h1m4 0h1m0 0h1m17 0h1m-49 1h1m4 0h1m0 0h1m2 0h1m0 0h1m1 0h1m0 0h1m0 0h1m0 0h1m0 0h1m0 0h1m1 0h1m0 0h1m0 0h1m0 0h1m0 0h1m1 0h1m2 0h1m-23 1h1m0 0h1m0 0h1m2 0h1m0 0h1m0 0h1m0 0h1m0 0h1m0 0h1m0 0h1m0 0h1m0 0h1m0 0h1m0 0h1m0 0h1m0 0h1m7 0h1m2 0h1m9 0h1m-41 1h1m3 0h1m0 0h1m0 0h1m0 0h1m0 0h1m0 0h1m0 0h1m0 0h1m0 0h1m0 0h1m0 0h1m1 0h1m2 0h1m1 0h1m6 0h1m17 0h1m-44 1h1m1 0h1m0 0h1m0 0h1m0 0h1m0 0h1m0 0h1m0 0h1m0 0h1m0 0h1m0 0h1m0 0h1m0 0h1m0 0h1m0 0h1m1 0h1m6 0h1m-27 1h1m1 0h1m2 0h1m0 0h1m0 0h1m0 0h1m0 0h1m0 0h1m0 0h1m0 0h1m0 0h1m0 0h1m0 0h1m0 0h1m-17 1h1m0 0h1m0 0h1m0 0h1m0 0h1m2 0h1m0 0h1m0 0h1m0 0h1m0 0h1m0 0h1m0 0h1m0 0h1m0 0h1m0 0h1m1 0h1m-26 1h1m2 0h1m6 0h1m0 0h1m0 0h1m0 0h1m0 0h1m0 0h1m0 0h1m0 0h1m0 0h1m0 0h1m0 0h1m1 0h1m1 0h1m0 0h1m2 0h1m16 0h1m-39 1h1m3 0h1m0 0h1m0 0h1m2 0h1m0 0h1m0 0h1m0 0h1m0 0h1m1 0h1m2 0h1m0 0h1m0 0h1m2 0h1m6 0h1m-27 1h1m0 0h1m2 0h1m0 0h1m0 0h1m0 0h1m0 0h1m0 0h1m0 0h1m0 0h1m0 0h1m1 0h1m-22 1h1m3 0h1m1 0h1m0 0h1m0 0h1m1 0h1m0 0h1m0 0h1m0 0h1m0 0h1m0 0h1m0 0h1m0 0h1m1 0h1m1 0h1m4 0h1m-29 1h1m3 0h1m0 0h1m2 0h1m0 0h1m0 0h1m0 0h1m0 0h1m0 0h1m0 0h1m0 0h1m0 0h1m0 0h1m1 0h1m0 0h1m1 0h1m1 0h1m3 0h1m-25 1h1m0 0h1m1 0h1m1 0h1m0 0h1m1 0h1m0 0h1m0 0h1m0 0h1m0 0h1m0 0h1m0 0h1m0 0h1m0 0h1m1 0h1m5 0h1m-23 1h1m0 0h1m1 0h1m0 0h1m0 0h1m0 0h1m0 0h1m0 0h1m0 0h1m0 0h1m0 0h1m2 0h1m11 0h1m-28 1h1m0 0h1m0 0h1m0 0h1m0 0h1m0 0h1m1 0h1m0 0h1m1 0h1m0 0h1m0 0h1m0 0h1m0 0h1m0 0h1m1 0h1m40 0h1m-62 1h1m1 0h1m0 0h1m1 0h1m1 0h1m0 0h1m0 0h1m0 0h1m0 0h1m0 0h1m0 0h1m0 0h1m0 0h1m0 0h1m1 0h1m2 0h1m2 0h1m2 0h1m-23 1h1m0 0h1m4 0h1m0 0h1m1 0h1m0 0h1m0 0h1m0 0h1m4 0h1m0 0h1m25 0h1m-46 1h1m1 0h1m0 0h1m0 0h1m0 0h1m0 0h1m0 0h1m0 0h1m0 0h1m3 0h1m1 0h1m0 0h1m-20 1h1m3 0h1m1 0h1m0 0h1m0 0h1m0 0h1m3 0h1m2 0h1m0 0h1m0 0h1m5 0h1m17 0h1m-42 1h1m0 0h1m3 0h1m1 0h1m1 0h1m1 0h1m0 0h1m0 0h1m2 0h1m0 0h1m2 0h1m-26 1h1m1 0h1m1 0h1m5 0h1m0 0h1m0 0h1m3 0h1m1 0h1m0 0h1m0 0h1m0 0h1m1 0h1m0 0h1m0 0h1m1 0h1m5 0h1m17 0h1m-47 1h1m1 0h1m3 0h1m0 0h1m0 0h1m0 0h1m0 0h1m1 0h1m2 0h1m1 0h1m5 0h1m-21 1h1m7 0h1m0 0h1m0 0h1m0 0h1m-17 1h1m3 0h1m5 0h1m0 0h1m1 0h1m2 0h1m-19 1h1m7 0h1m0 0h1m1 0h1m1 0h1m1 0h1m0 0h1m0 0h1m4 0h1m-22 1h1m1 0h1m5 0h1m0 0h1m1 0h1m2 0h1m5 0h1m6 0h1m-29 1h1m1 0h1m1 0h1m2 0h1m0 0h1m2 0h1m3 0h1m8 0h1m0 0h1m-25 1h1m0 0h1m3 0h1m2 0h1m0 0h1m1 0h1m1 0h1m1 0h1m0 0h1m3 0h1m1 0h1m-23 1h1m1 0h1m4 0h1m3 0h1m9 0h1m6 0h1m-29 1h1m1 0h1m3 0h1m0 0h1m1 0h1m2 0h1m1 0h1m1 0h1m1 0h1m5 0h1m1 0h1m-24 1h1m2 0h1m3 0h1m-10 1h1m5 0h1m1 0h1m2 0h1m-12 1h1m3 0h1m8 0h1m-15 1h1m1 0h1m0 0h1m3 0h1m5 0h1m51 0h1m-63 1h1m1 0h1m1 0h1m0 0h1m1 0h1m1 0h1m-13 1h1m0 0h1m0 0h1m1 0h1m0 0h1m1 0h1m0 0h1m4 0h1m-14 1h1m1 0h1m3 0h1m1 0h1m0 0h1m0 0h1m0 0h1m-13 1h1m2 0h1m0 0h1m2 0h1m0 0h1m64 0h1m-72 1h1m2 0h1m1 0h1m0 0h1m5 0h1m-13 1h1m5 0h1m4 0h1m1 0h1m-13 1h1m2 0h1m1 0h1m2 0h1m1 0h1m-13 1h1m1 0h1m4 0h1m1 0h1m0 0h1m-13 1h1m6 0h1m3 0h1m1 0h1m2 0h1m-9 1h1m43 0h1m-49 1h1m2 0h1m0 0h1m6 6h1m0 1h1m47 1h1" stroke="#111"/></g>
<rect x="206.00" y="670.00" width="116.00" height="105.00" fill="none" stroke="#111" stroke-width="1.3"/><path d="M206.00 670.00V775.00H322.00" fill="none" stroke="#000" stroke-width="2"/><path d="M206.00 775.00v3.50M206.00 775.00h-3.50M214.73 775.00v2.00M206.00 767.10h-2.00M219.84 775.00v2.00M206.00 762.48h-2.00M223.46 775.00v2.00M206.00 759.20h-2.00M226.27 775.00v2.00M206.00 756.65h-2.00M228.57 775.00v2.00M206.00 754.57h-2.00M230.51 775.00v2.00M206.00 752.82h-2.00M232.19 775.00v2.00M206.00 751.29h-2.00M233.67 775.00v2.00M206.00 749.95h-2.00M235.00 775.00v3.50M206.00 748.75h-3.50M243.73 775.00v2.00M206.00 740.85h-2.00M248.84 775.00v2.00M206.00 736.23h-2.00M252.46 775.00v2.00M206.00 732.95h-2.00M255.27 775.00v2.00M206.00 730.40h-2.00M257.57 775.00v2.00M206.00 728.32h-2.00M259.51 775.00v2.00M206.00 726.57h-2.00M261.19 775.00v2.00M206.00 725.04h-2.00M262.67 775.00v2.00M206.00 723.70h-2.00M264.00 775.00v3.50M206.00 722.50h-3.50M272.73 775.00v2.00M206.00 714.60h-2.00M277.84 775.00v2.00M206.00 709.98h-2.00M281.46 775.00v2.00M206.00 706.70h-2.00M284.27 775.00v2.00M206.00 704.15h-2.00M286.57 775.00v2.00M206.00 702.07h-2.00M288.51 775.00v2.00M206.00 700.32h-2.00M290.19 775.00v2.00M206.00 698.79h-2.00M291.67 775.00v2.00M206.00 697.45h-2.00M293.00 775.00v3.50M206.00 696.25h-3.50M301.73 775.00v2.00M206.00 688.35h-2.00M306.84 775.00v2.00M206.00 683.73h-2.00M310.46 775.00v2.00M206.00 680.45h-2.00M313.27 775.00v2.00M206.00 677.90h-2.00M315.57 775.00v2.00M206.00 675.82h-2.00M317.51 775.00v2.00M206.00 674.07h-2.00M319.19 775.00v2.00M206.00 672.54h-2.00M320.67 775.00v2.00M206.00 671.20h-2.00M322.00 775.00v2.5M206.00 670.00h-2.5" stroke="#000" stroke-width="1"/><path d="M236.00 670.00V775.00M206.00 748.75H322.00" stroke="#222" stroke-width="1"/><text x="198.70" y="789.00" font-size="8.3" font-weight="bold">10</text><text x="207.70" y="783.00" font-size="6.8" font-weight="bold">0</text><text x="227.70" y="789.00" font-size="8.3" font-weight="bold">10</text><text x="236.70" y="783.00" font-size="6.8" font-weight="bold">1</text><text x="256.70" y="789.00" font-size="8.3" font-weight="bold">10</text><text x="265.70" y="783.00" font-size="6.8" font-weight="bold">2</text><text x="285.70" y="789.00" font-size="8.3" font-weight="bold">10</text><text x="294.70" y="783.00" font-size="6.8" font-weight="bold">3</text><text x="314.70" y="789.00" font-size="8.3" font-weight="bold">10</text><text x="323.70" y="783.00" font-size="6.8" font-weight="bold">4</text><g transform="translate(197.20 775.00) rotate(-90)"><text x="-7.3" y="0" font-size="8.3" font-weight="bold">10</text><text x="1.8" y="-5.3" font-size="6.8" font-weight="bold">0</text></g><g transform="translate(197.20 748.75) rotate(-90)"><text x="-7.3" y="0" font-size="8.3" font-weight="bold">10</text><text x="1.8" y="-5.3" font-size="6.8" font-weight="bold">1</text></g><g transform="translate(197.20 722.50) rotate(-90)"><text x="-7.3" y="0" font-size="8.3" font-weight="bold">10</text><text x="1.8" y="-5.3" font-size="6.8" font-weight="bold">2</text></g><g transform="translate(197.20 696.25) rotate(-90)"><text x="-7.3" y="0" font-size="8.3" font-weight="bold">10</text><text x="1.8" y="-5.3" font-size="6.8" font-weight="bold">3</text></g><g transform="translate(197.20 670.00) rotate(-90)"><text x="-7.3" y="0" font-size="8.3" font-weight="bold">10</text><text x="1.8" y="-5.3" font-size="6.8" font-weight="bold">4</text></g><text x="243.25" y="799.00" font-size="9" font-weight="bold" textLength="41.5" lengthAdjust="spacingAndGlyphs">Rh50-FITC</text><text transform="translate(185.50 724.10) rotate(-90)" x="-17.75" font-size="9" font-weight="bold" textLength="35.5" lengthAdjust="spacingAndGlyphs">KELL-PE</text><text x="213.80" y="687.90" font-size="8.6" font-weight="bold" letter-spacing="0.65">52%</text><text x="287.30" y="686.40" font-size="8.6" font-weight="bold" letter-spacing="0.65">41%</text><text x="287.30" y="698.90" font-size="8.6" font-weight="bold" letter-spacing="0.00">Day 6</text>
<text x="0.0" y="24.0" font-size="32" font-weight="bold">A</text>
<text x="0.0" y="240.8" font-size="32" font-weight="bold">B</text>
<text x="0.0" y="457.0" font-size="32" font-weight="bold">C</text>
<text x="0.0" y="666.0" font-size="32" font-weight="bold">D</text>
</g>
</svg></body></html>
